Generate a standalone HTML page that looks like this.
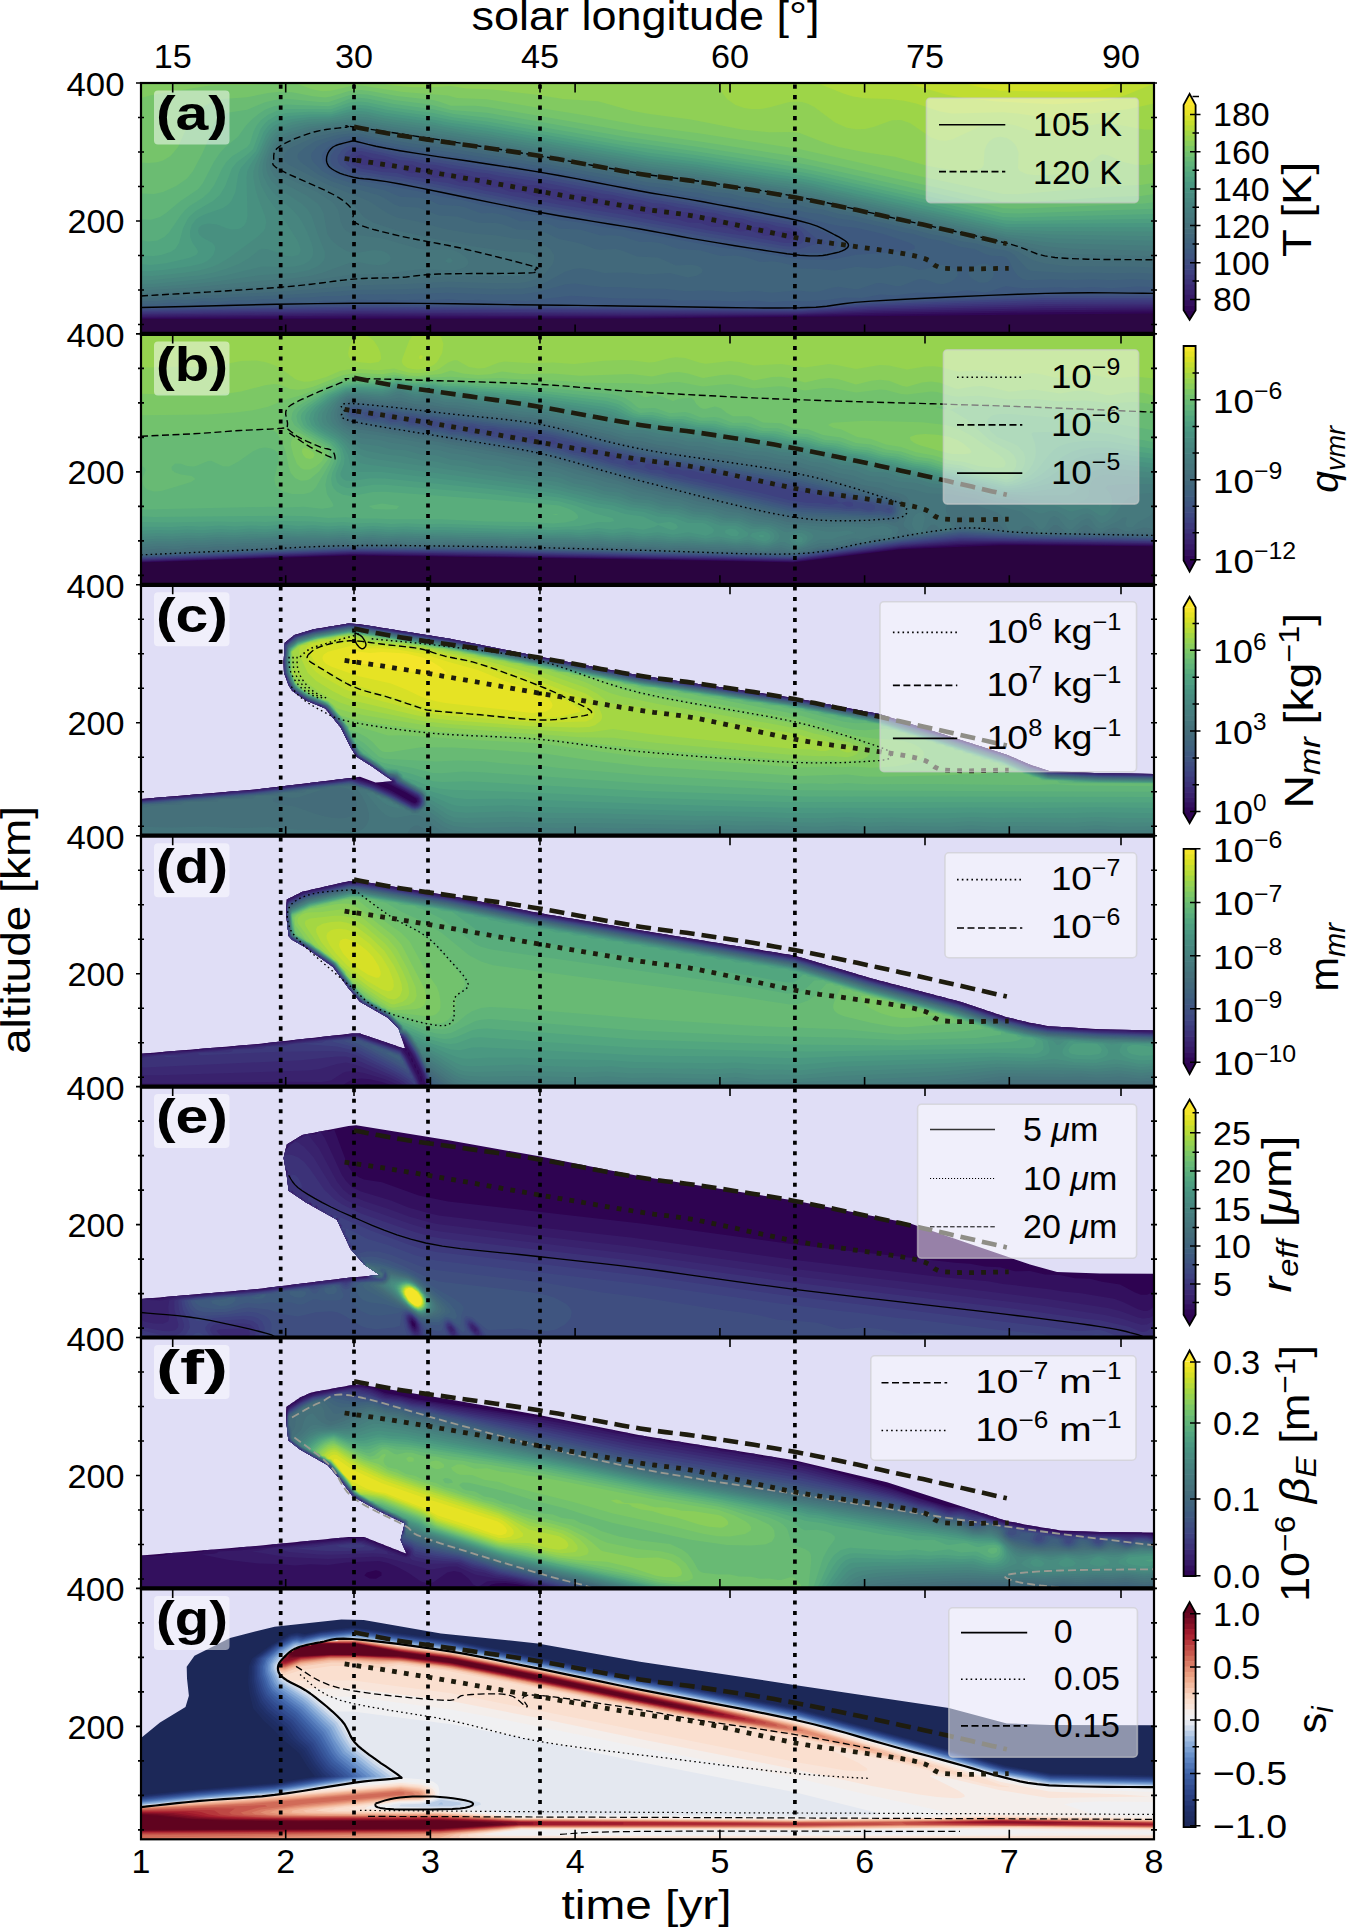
<!DOCTYPE html>
<html><head><meta charset="utf-8"><style>html,body{margin:0;padding:0;background:#fff;overflow:hidden}svg{display:block}</style></head><body><svg width="1347" height="1928" viewBox="0 0 1347 1928">
<rect width="1347" height="1928" fill="#fff"/>
<defs><clipPath id="cp0"><rect x="141.0" y="83.0" width="1013.0" height="250.9"/></clipPath><clipPath id="cp1"><rect x="141.0" y="333.9" width="1013.0" height="250.9"/></clipPath><clipPath id="cp2"><rect x="141.0" y="584.8" width="1013.0" height="250.9"/></clipPath><clipPath id="cp3"><rect x="141.0" y="835.7" width="1013.0" height="250.9"/></clipPath><clipPath id="cp4"><rect x="141.0" y="1086.6" width="1013.0" height="250.9"/></clipPath><clipPath id="cp5"><rect x="141.0" y="1337.5" width="1013.0" height="250.9"/></clipPath><clipPath id="cp6"><rect x="141.0" y="1588.4" width="1013.0" height="250.9"/></clipPath></defs>
<g clip-path="url(#cp0)">
<rect x="139.0" y="81.0" width="1017.0" height="255.0" fill="#2c0744"/>
<path fill="#300756" fill-rule="evenodd" d="M139.0 81.0 1156.0 81.0 1156.0 313.4 640.0 318.6 139.0 319.1Z"/>
<path fill="#34115f" fill-rule="evenodd" d="M139.0 81.0 1156.0 81.0 1156.0 311.4 1045.0 312.2 799.0 316.0 640.0 317.4 139.0 318.0Z"/>
<path fill="#371b68" fill-rule="evenodd" d="M139.0 81.0 1156.0 81.0 1156.0 309.5 1045.0 310.2 874.0 313.0 799.0 315.1 640.0 316.2 355.0 315.8 139.0 316.9Z"/>
<path fill="#3a246f" fill-rule="evenodd" d="M139.0 81.0 1156.0 81.0 1156.0 307.6 1045.0 308.2 874.0 311.5 799.0 314.2 640.0 315.0 355.0 314.3 139.0 315.8Z"/>
<path fill="#3c2d75" fill-rule="evenodd" d="M139.0 81.0 1156.0 81.0 1156.0 305.6 1045.0 306.1 874.0 310.1 799.0 313.4 640.0 313.8 355.0 312.8 139.0 314.6Z"/>
<path fill="#3d357b" fill-rule="evenodd" d="M139.0 81.0 1156.0 81.0 1156.0 303.7 1045.0 304.1 871.0 308.8 799.0 312.5 640.0 312.6 355.0 311.3 139.0 313.5Z"/>
<path fill="#3e3c7e" fill-rule="evenodd" d="M139.0 81.0 1156.0 81.0 1156.0 301.8 1045.0 302.1 871.0 307.3 799.0 311.6 355.0 309.7 139.0 312.4ZM354.8 159.0 356.1 162.0 361.0 164.8 373.0 165.7 382.0 168.4 385.0 168.8 391.5 168.0 394.4 165.0 391.1 162.0 385.0 159.5 373.0 158.4 361.0 154.6 356.3 156.0ZM401.2 168.0 404.7 171.0 409.0 172.7 412.0 173.2 424.0 171.5 426.7 174.0 433.0 177.2 439.0 177.9 448.0 177.2 460.0 182.4 472.0 182.3 484.0 186.8 499.0 187.7 511.0 192.0 523.0 192.6 535.0 196.3 547.0 197.2 561.3 201.0 574.0 201.5 589.0 205.4 598.0 205.4 613.0 209.6 622.0 209.7 628.0 210.7 637.0 213.7 649.0 213.9 661.0 217.7 676.0 219.0 688.0 222.6 700.0 223.1 712.0 226.8 727.0 227.3 739.0 231.4 751.0 230.5 763.0 235.5 769.0 235.9 775.0 235.2 787.0 239.5 790.0 239.4 793.4 237.0 793.2 234.0 790.0 231.6 784.4 231.0 778.0 232.0 766.0 226.7 751.0 227.3 742.0 222.0 739.0 221.4 727.0 221.7 715.0 216.6 703.0 216.5 691.0 212.1 676.0 211.9 664.0 207.5 652.0 207.9 640.0 203.4 625.0 203.0 613.0 198.7 601.0 198.4 589.0 194.4 574.0 193.5 562.0 189.6 550.0 188.8 538.0 185.3 526.0 184.9 511.0 181.0 499.0 180.8 487.0 176.9 475.0 177.1 472.0 176.5 466.0 173.9 460.0 172.7 448.0 173.5 443.3 171.0 436.0 168.6 433.0 168.5 424.0 170.6 421.0 170.0 419.7 168.0 412.0 164.6 404.4 165.0Z"/>
<path fill="#3e4481" fill-rule="evenodd" d="M139.0 81.0 1156.0 81.0 1156.0 299.8 1045.0 300.1 871.0 305.9 799.0 310.7 355.0 308.2 139.0 311.2ZM349.3 159.0 350.3 162.0 352.9 165.0 361.0 168.6 382.0 172.0 397.0 173.1 409.0 176.4 421.0 177.8 433.0 180.9 448.0 183.0 460.0 186.1 472.0 187.6 484.0 190.6 499.0 192.9 511.0 195.8 559.0 204.5 625.0 215.1 712.0 230.9 751.0 236.7 784.6 243.0 793.0 242.8 797.5 240.0 798.7 237.0 798.1 234.0 795.8 231.0 790.0 227.9 778.0 226.5 766.0 223.3 754.0 221.9 742.0 218.5 727.0 216.5 715.0 213.1 703.0 211.8 691.0 208.7 679.0 207.4 664.0 204.1 652.0 202.9 640.0 199.9 628.0 198.5 613.0 195.0 601.0 193.6 589.0 190.8 577.0 189.1 538.0 181.5 499.0 175.8 487.0 173.3 475.0 172.0 463.0 169.4 451.0 168.2 436.0 165.0 424.0 164.0 412.0 161.1 400.0 160.2 385.1 156.0 361.0 151.0 355.0 151.6 352.3 153.0 349.8 156.0Z"/>
<path fill="#3f4c81" fill-rule="evenodd" d="M139.0 81.0 1156.0 81.0 1156.0 297.9 1045.0 298.1 871.0 304.5 799.0 309.8 355.0 306.7 139.0 310.1ZM344.1 156.0 343.8 159.0 344.6 162.0 346.9 165.0 352.0 168.6 358.0 171.0 382.0 175.1 397.0 176.8 535.0 203.7 784.0 246.1 790.0 246.5 796.0 245.8 801.9 243.0 804.2 240.0 804.5 237.0 803.4 234.0 801.1 231.0 796.0 227.3 790.0 225.0 754.0 218.6 742.0 215.6 691.0 205.8 652.0 199.5 538.0 178.3 400.0 156.8 361.0 148.0 355.0 147.9 349.1 150.0 345.7 153.0Z"/>
<path fill="#3f5380" fill-rule="evenodd" d="M139.0 81.0 1156.0 81.0 1156.0 296.0 1045.0 296.1 874.0 302.9 799.0 308.9 355.0 305.2 139.0 309.0ZM337.9 156.0 337.5 159.0 338.2 162.0 340.3 165.0 349.0 170.9 358.0 174.0 403.0 181.0 559.0 211.3 625.0 222.1 706.0 236.5 784.0 249.1 793.0 249.7 799.0 249.3 814.0 244.4 817.0 244.0 823.0 244.8 826.2 243.0 823.0 240.1 817.0 238.9 802.0 226.9 790.0 222.0 754.0 215.5 715.0 207.4 649.0 196.0 538.0 175.3 400.0 153.9 358.0 144.8 352.0 145.1 346.0 147.2 342.0 150.0Z"/>
<path fill="#3e597f" fill-rule="evenodd" d="M139.0 81.0 1156.0 81.0 1156.0 294.0 1045.0 294.1 1003.0 295.3 964.0 297.7 937.0 298.2 895.0 300.8 871.0 301.2 850.0 303.6 832.0 304.4 820.0 306.3 799.0 307.1 625.0 306.5 541.0 304.7 358.0 303.7 265.0 305.1 217.0 306.4 214.0 307.0 139.0 307.7ZM330.8 156.0 330.7 162.0 332.2 165.0 335.4 168.0 347.6 174.0 355.0 176.4 418.0 187.0 484.0 200.7 559.0 215.0 625.0 225.6 721.0 242.6 793.0 253.4 826.0 252.6 832.0 250.7 834.6 249.0 837.0 246.0 837.4 243.0 836.3 240.0 832.0 235.4 814.0 228.3 802.0 222.5 790.0 218.6 781.0 217.6 700.0 201.5 649.0 193.1 538.0 172.3 397.0 150.6 358.0 141.9 349.0 142.3 343.0 144.4 334.5 150.0Z"/>
<path fill="#3f5f7e" fill-rule="evenodd" d="M139.0 81.0 1156.0 81.0 1156.0 287.9 1150.0 287.0 1138.0 286.6 1111.0 288.2 1093.0 287.0 1075.0 287.9 1060.0 287.2 1024.0 288.3 1006.0 286.3 1000.0 287.7 991.0 291.3 985.0 292.5 967.0 290.2 949.0 292.9 916.0 292.7 895.0 295.6 880.0 294.4 862.0 298.0 844.0 297.5 829.0 299.7 808.0 301.2 787.0 301.0 772.0 302.2 754.0 300.6 739.0 301.6 697.0 300.2 679.0 300.7 664.0 299.0 613.0 298.3 571.0 295.8 526.0 301.0 511.0 300.2 493.0 301.0 478.0 299.8 463.0 300.4 448.0 299.1 433.0 300.1 418.0 299.4 403.0 300.3 388.0 299.5 373.0 300.3 358.0 299.5 340.0 301.7 325.0 300.6 310.0 302.7 295.0 301.7 280.0 303.2 265.0 302.7 250.0 303.7 232.0 303.5 217.0 304.5 214.0 306.0 202.0 304.5 190.0 306.3 172.0 305.3 160.0 306.3 139.0 306.3ZM321.8 156.0 322.7 162.0 328.0 169.0 336.8 174.0 352.0 179.2 421.0 191.7 439.0 196.2 463.0 200.3 484.0 205.5 496.0 207.0 526.0 213.8 541.6 216.0 559.0 219.9 580.0 222.6 601.0 226.8 625.0 230.1 721.0 247.5 742.0 249.9 799.0 259.2 826.0 260.0 835.0 259.1 856.0 254.8 883.0 253.1 910.0 250.2 914.5 249.0 914.7 246.0 910.1 243.0 883.3 234.0 856.0 227.8 841.0 226.3 829.0 224.1 790.0 214.1 778.4 213.0 760.0 208.8 739.0 205.5 700.0 197.7 649.0 189.8 541.0 169.7 400.0 148.1 358.0 139.1 352.0 138.8 346.0 139.7 333.9 144.0 328.5 147.0 325.0 150.0 322.8 153.0Z"/>
<path fill="#40647c" fill-rule="evenodd" d="M139.0 81.0 1156.0 81.0 1156.0 280.5 1135.0 279.1 1111.0 280.2 1093.0 279.2 1072.0 279.9 1051.0 279.2 1027.0 280.2 1022.5 279.0 1017.9 276.0 1013.5 270.0 1009.0 260.6 1006.0 257.5 1003.0 256.3 991.0 255.7 985.0 254.1 974.3 249.0 961.0 247.1 943.0 241.3 928.0 238.6 913.4 234.0 901.0 231.8 883.0 227.0 853.0 220.5 838.0 218.4 820.0 213.9 805.0 212.2 793.0 208.7 775.0 207.4 760.0 203.3 742.0 201.3 730.0 198.1 712.0 196.1 700.0 193.1 682.0 191.3 667.0 188.2 649.0 186.2 541.0 166.5 451.0 152.2 412.0 146.9 379.0 140.9 361.0 136.8 352.0 135.9 343.0 137.1 329.0 141.0 321.7 144.0 316.8 147.0 311.7 153.0 311.0 156.0 311.6 159.0 313.2 162.0 322.2 171.0 334.0 177.5 352.0 183.2 385.0 190.2 400.0 196.7 421.0 197.8 430.0 200.5 439.0 204.7 460.0 206.1 466.0 207.6 481.0 213.3 493.0 213.1 499.0 213.9 507.2 216.0 520.0 221.2 532.0 221.0 541.0 222.0 550.0 224.6 559.0 228.4 580.0 229.5 601.0 235.5 613.0 235.2 622.0 236.3 640.0 242.1 652.0 242.1 660.4 243.0 679.0 249.1 700.0 250.2 721.0 256.1 736.0 255.6 748.0 257.8 760.0 262.0 772.0 261.3 778.0 261.9 787.5 264.0 799.0 268.5 817.0 268.8 835.0 270.5 856.0 266.7 877.0 268.5 898.0 265.3 907.0 266.5 919.0 270.0 925.0 269.2 937.0 265.2 943.0 265.0 949.0 266.3 955.5 270.0 957.8 273.0 957.5 276.0 954.8 279.0 950.5 282.0 943.0 284.2 937.0 283.8 925.0 279.6 919.0 279.0 901.0 285.9 895.0 286.1 883.0 283.2 877.0 282.9 859.0 289.0 853.0 288.9 838.0 286.7 832.0 287.7 820.0 291.2 814.0 292.0 796.0 290.5 772.0 292.8 754.0 290.7 733.0 292.3 709.0 290.5 685.0 291.3 664.0 288.7 646.0 288.7 625.0 287.2 601.0 287.0 574.0 283.6 565.0 284.4 538.0 292.1 523.0 294.2 493.0 294.5 448.0 292.8 403.0 294.3 358.0 294.5 340.0 296.0 325.0 295.9 310.0 297.5 295.0 297.5 280.0 299.1 265.0 298.9 247.0 300.4 235.0 300.0 220.0 301.9 202.0 301.2 187.0 303.4 172.0 302.3 157.0 303.9 139.0 303.8ZM970.2 270.0 974.1 267.0 979.0 264.6 985.0 263.6 988.0 264.5 991.3 267.0 993.3 270.0 994.0 273.0 993.6 276.0 991.8 279.0 988.0 281.9 985.0 282.8 979.0 282.4 972.3 279.0 969.1 276.0 968.2 273.0Z"/>
<path fill="#42697b" fill-rule="evenodd" d="M139.0 81.0 1156.0 81.0 1156.0 274.0 1138.0 272.7 1111.0 273.3 1090.0 272.4 1069.0 273.0 1033.0 271.0 1030.0 270.4 1027.0 268.7 1014.4 255.0 1010.0 252.0 1006.0 250.5 991.0 248.0 976.0 243.5 961.0 241.2 946.0 236.8 931.0 234.2 916.0 230.2 853.0 216.1 838.0 213.7 823.0 209.6 808.0 207.7 793.0 203.5 775.0 202.4 760.0 198.3 745.0 197.2 730.0 193.6 712.0 191.8 700.0 188.8 682.0 187.4 667.0 184.3 649.0 182.5 544.0 163.8 451.0 148.8 412.0 143.6 376.0 137.4 361.0 134.1 352.0 133.2 337.0 135.1 316.0 140.9 305.6 147.0 298.6 153.0 297.4 156.0 298.1 159.0 300.7 162.0 317.5 174.0 331.0 181.0 349.0 187.1 378.1 195.0 384.3 198.0 394.0 204.3 400.0 206.6 418.0 207.6 439.0 215.4 457.0 216.6 478.0 222.8 496.0 223.1 502.0 224.3 517.0 229.4 538.0 230.2 544.0 231.9 559.0 239.0 578.8 243.0 595.0 249.1 601.0 249.8 616.0 249.1 622.0 250.5 637.0 256.5 658.0 257.5 676.0 265.4 691.0 264.8 697.0 265.7 700.1 267.0 702.7 270.0 701.7 273.0 695.9 276.0 688.0 277.4 670.0 272.9 646.0 274.5 628.0 272.4 604.0 273.1 589.0 269.2 580.0 268.2 574.0 268.9 565.0 271.7 546.3 282.0 539.0 285.0 532.0 287.0 523.0 288.4 496.0 288.9 448.0 287.2 403.0 289.2 358.0 289.9 277.0 295.4 235.0 296.9 217.0 298.4 202.0 298.2 187.0 300.0 172.0 299.6 157.0 301.0 139.0 301.3Z"/>
<path fill="#446d7a" fill-rule="evenodd" d="M139.0 81.0 1156.0 81.0 1156.0 267.8 1138.0 266.8 1069.0 266.2 1045.0 263.6 1033.0 260.3 1018.6 252.0 1006.0 247.0 793.0 200.0 775.0 198.2 760.0 194.9 715.0 188.6 700.0 185.4 682.0 183.8 667.0 181.0 646.0 178.8 514.0 155.8 451.0 145.7 412.0 140.4 361.0 131.4 352.0 130.5 337.0 132.3 316.0 136.5 292.6 147.0 287.8 150.0 285.3 153.0 284.1 156.0 284.0 159.0 285.5 162.0 289.0 164.8 328.0 184.7 369.0 201.0 388.0 213.5 397.0 217.4 418.0 221.6 445.0 228.9 472.0 233.6 496.0 235.3 514.0 238.6 532.0 240.0 541.0 242.6 550.2 249.0 554.0 255.0 554.4 258.0 552.8 264.0 545.5 273.0 541.0 276.4 535.0 279.5 526.7 282.0 520.0 282.9 496.0 283.2 448.0 281.7 403.0 284.2 361.0 285.3 280.0 291.7 217.0 295.2 202.0 295.4 187.0 296.9 169.0 297.1 139.0 298.8Z"/>
<path fill="#45727b" fill-rule="evenodd" d="M139.0 81.0 1156.0 81.0 1156.0 261.9 1069.0 260.0 1054.0 258.4 1036.0 254.3 1009.0 244.8 796.0 197.6 772.0 194.5 760.3 192.0 715.0 185.4 700.0 182.5 646.0 175.8 514.0 153.0 379.0 132.3 361.0 128.8 352.0 128.1 316.0 133.0 286.0 144.7 283.0 146.8 280.5 150.0 276.9 159.0 277.0 162.0 278.5 165.0 281.4 168.0 343.0 198.0 355.4 207.0 364.0 217.3 373.0 222.4 397.0 230.6 442.0 240.5 457.0 242.6 469.0 245.8 508.0 251.5 529.0 252.6 535.0 255.2 538.0 259.3 538.5 264.0 537.4 267.0 535.0 270.1 529.0 273.7 520.0 276.0 445.0 276.2 394.0 279.4 355.0 280.7 283.0 287.9 139.0 296.4Z"/>
<path fill="#46767c" fill-rule="evenodd" d="M139.0 81.0 1156.0 81.0 1156.0 256.3 1069.0 254.1 1054.0 252.6 1039.0 249.8 986.4 237.0 795.8 195.0 697.0 179.4 646.0 173.1 547.0 155.8 457.0 141.1 379.0 129.7 361.0 126.3 352.0 125.7 313.0 130.9 289.0 139.1 283.0 142.1 280.0 144.6 277.0 148.9 272.9 159.0 273.1 165.0 276.5 171.0 283.0 176.0 317.0 192.0 331.0 201.0 334.2 204.0 338.2 210.0 340.9 222.0 343.0 227.3 346.0 230.5 349.0 232.3 358.0 235.1 382.0 238.2 418.0 248.6 427.0 249.7 448.0 249.4 454.0 250.3 460.0 253.1 466.4 258.0 468.3 261.0 468.1 264.0 465.2 267.0 460.0 269.2 454.0 270.5 421.0 268.9 391.0 273.3 349.0 274.9 307.0 281.3 286.0 283.7 187.5 291.0 139.0 293.7Z"/>
<path fill="#467b7d" fill-rule="evenodd" d="M139.0 81.0 1156.0 81.0 1156.0 251.0 1072.0 248.8 1045.0 246.3 1003.0 238.5 790.0 191.6 697.0 177.0 646.0 170.6 487.0 143.5 379.0 127.2 364.0 124.3 352.0 123.4 310.0 128.9 290.2 135.0 283.5 138.0 277.0 143.5 273.2 150.0 269.8 159.0 269.9 168.0 274.0 175.8 280.0 181.2 307.0 195.8 318.1 204.0 320.5 207.0 323.5 213.0 327.3 234.0 331.0 239.5 337.0 245.1 346.0 250.8 352.0 252.7 358.0 252.7 373.0 250.0 382.0 250.8 385.3 252.0 389.4 255.0 390.8 258.0 389.9 261.0 385.3 264.0 379.0 265.2 370.0 264.4 358.0 262.0 352.0 262.1 321.9 273.0 309.8 276.0 292.0 278.6 259.0 280.9 190.0 287.7 139.0 290.7ZM445.3 261.0 448.0 257.9 451.0 258.3 452.8 261.0 451.0 262.8 448.0 262.9Z"/>
<path fill="#46807e" fill-rule="evenodd" d="M139.0 81.0 1156.0 81.0 1156.0 245.8 1060.0 243.2 1042.0 241.7 1006.0 236.8 814.0 193.9 787.0 188.6 697.0 174.6 646.0 168.2 486.7 141.0 382.0 125.3 364.0 121.8 352.0 121.2 310.0 126.4 286.0 133.3 280.0 136.7 274.0 143.0 270.3 150.0 266.9 159.0 266.0 165.0 266.6 171.0 268.0 175.1 271.0 180.3 280.0 189.2 302.1 204.0 308.0 210.0 311.7 216.0 317.7 234.0 324.9 252.0 324.8 258.0 323.4 261.0 320.7 264.0 316.3 267.0 309.4 270.0 295.0 273.1 259.0 275.2 220.0 281.0 190.0 284.3 154.0 287.1 139.0 287.5Z"/>
<path fill="#47857f" fill-rule="evenodd" d="M139.0 81.0 1156.0 81.0 1156.0 240.9 1054.0 238.6 1006.0 234.5 814.0 191.5 787.0 186.3 769.0 184.0 697.0 172.2 649.0 166.4 487.0 138.6 427.0 129.1 382.0 122.9 367.0 119.8 352.0 119.0 331.0 122.3 307.0 124.5 292.0 128.0 283.0 131.3 277.0 135.3 272.2 141.0 268.0 149.1 264.1 159.0 262.7 165.0 262.5 171.0 263.7 177.0 268.0 185.8 274.0 193.4 292.6 210.0 298.0 215.9 302.1 222.0 307.0 231.8 311.5 243.0 313.1 249.0 312.9 255.0 311.7 258.0 309.2 261.0 304.0 264.2 295.0 266.6 286.0 267.1 262.0 266.5 226.0 275.3 204.3 279.0 154.0 283.8 139.0 284.0Z"/>
<path fill="#488a7f" fill-rule="evenodd" d="M139.0 81.0 1156.0 81.0 1156.0 236.2 1051.0 234.6 1006.0 232.1 829.0 193.0 814.0 189.1 787.0 183.8 769.0 181.7 754.0 178.7 739.0 177.0 697.0 169.8 649.0 164.0 487.0 136.2 472.0 134.4 427.0 126.7 382.0 120.5 367.0 117.2 355.0 116.5 331.0 120.4 304.0 122.5 292.0 124.9 283.0 127.9 276.4 132.0 271.0 137.9 267.6 144.0 261.2 159.0 259.2 165.0 258.3 171.0 258.7 177.0 261.4 186.0 268.0 198.3 285.8 222.0 298.0 241.4 300.6 249.0 300.4 252.0 298.4 255.0 292.0 256.5 286.0 255.9 268.0 249.3 262.0 248.8 259.0 250.1 249.3 258.0 238.9 264.0 226.0 269.1 214.0 272.6 199.0 275.5 151.0 280.3 139.0 280.1Z"/>
<path fill="#489080" fill-rule="evenodd" d="M139.0 81.0 1156.0 81.0 1156.0 231.6 1048.0 230.9 1006.0 229.6 931.0 212.7 916.0 209.9 901.0 206.0 886.0 203.2 871.0 199.3 859.0 197.2 844.0 193.3 829.0 190.6 814.0 186.6 787.0 181.3 769.0 179.2 754.0 176.2 739.0 174.5 697.0 167.3 649.0 161.5 592.0 152.0 577.0 148.8 562.0 146.8 547.0 143.6 502.0 136.8 487.0 133.7 472.0 132.0 430.0 124.5 385.0 118.5 367.0 114.6 355.0 114.0 346.0 115.2 331.0 118.5 310.0 119.3 292.0 121.9 280.0 125.9 275.2 129.0 271.0 133.0 266.1 141.0 255.3 165.0 253.5 171.0 253.3 177.0 255.5 189.0 258.1 198.0 265.0 216.0 266.2 222.0 265.3 228.0 263.6 231.0 257.3 237.0 228.9 258.0 218.8 264.0 211.0 267.3 199.0 270.6 182.0 273.0 153.1 276.0 139.0 275.8Z"/>
<path fill="#499781" fill-rule="evenodd" d="M139.0 81.0 1156.0 81.0 1156.0 227.3 1006.0 226.9 829.0 187.9 814.0 183.9 787.0 178.7 769.0 176.5 697.0 164.7 649.0 158.8 487.0 131.0 445.0 124.9 430.0 121.8 385.0 115.7 367.0 111.8 358.0 111.1 349.0 112.1 331.0 116.6 310.0 116.9 292.0 118.9 283.0 121.0 274.0 125.7 270.3 129.0 265.9 135.0 259.0 151.4 250.3 165.0 247.4 171.0 246.5 177.0 247.5 216.0 246.3 222.0 244.0 225.8 241.0 228.0 238.0 228.9 232.0 229.4 226.0 228.0 217.0 224.6 208.0 223.4 202.0 224.9 199.0 227.5 198.0 231.0 199.0 234.3 202.0 237.2 212.5 243.0 214.8 246.0 215.3 249.0 213.3 255.0 210.9 258.0 207.0 261.0 202.0 263.4 190.0 266.3 163.0 270.1 148.0 271.3 139.0 270.6Z"/>
<path fill="#4d9e80" fill-rule="evenodd" d="M139.0 81.0 1156.0 81.0 1156.0 223.0 1006.0 224.0 814.0 181.1 787.0 175.9 771.6 174.0 697.0 161.9 649.0 155.9 487.0 128.1 448.0 122.6 430.0 119.0 385.0 112.8 367.0 108.8 358.0 108.1 349.0 109.3 331.0 114.5 310.0 114.4 289.0 116.1 280.0 118.4 271.5 123.0 268.0 126.1 263.6 132.0 256.0 151.1 240.7 168.0 238.3 174.0 235.4 192.0 231.4 201.0 228.8 204.0 223.0 207.9 205.0 214.2 199.0 217.2 196.0 219.5 191.8 225.0 190.0 231.0 190.2 237.0 192.6 243.0 196.9 249.0 198.2 252.0 196.2 255.0 189.1 258.0 166.0 263.2 151.0 264.9 139.0 263.9Z"/>
<path fill="#52a67f" fill-rule="evenodd" d="M139.0 81.0 1156.0 81.0 1156.0 218.6 1015.0 221.1 1003.0 220.3 814.0 178.0 787.0 172.8 697.0 158.8 649.0 152.7 487.0 125.0 451.0 120.1 430.0 115.9 388.0 110.1 367.0 105.6 358.0 104.9 349.0 106.2 331.0 112.2 310.0 111.7 286.0 113.0 277.0 115.3 268.6 120.0 265.0 123.2 260.6 129.0 253.0 149.2 247.0 154.7 237.0 162.0 232.1 168.0 225.2 186.0 219.8 195.0 213.0 201.0 196.0 210.7 190.0 215.9 187.6 219.0 183.1 228.0 179.0 243.0 175.2 249.0 170.5 252.0 161.2 255.0 154.0 256.0 145.0 255.7 139.0 254.5Z"/>
<path fill="#59ad7c" fill-rule="evenodd" d="M139.0 81.0 1156.0 81.0 1156.0 213.9 1015.0 217.5 1003.0 216.9 814.0 174.6 790.0 169.9 697.0 155.3 625.0 145.4 487.0 121.5 454.0 117.4 433.0 113.0 391.0 107.2 367.0 102.2 358.0 101.4 349.0 102.8 331.0 109.3 286.0 109.0 277.0 110.7 268.0 114.7 261.1 120.0 256.3 126.0 253.4 132.0 250.0 143.2 247.2 147.0 232.5 156.0 226.3 162.0 222.4 168.0 214.0 185.4 209.3 192.0 202.5 198.0 190.0 205.8 185.1 210.0 180.2 216.0 169.0 232.4 164.3 237.0 157.0 240.7 148.0 241.4 139.0 239.6Z"/>
<path fill="#61b578" fill-rule="evenodd" d="M139.0 81.0 1156.0 81.0 1156.0 208.6 1018.0 213.4 1003.0 213.0 814.0 170.7 790.0 166.0 697.0 151.4 622.4 141.0 490.0 118.0 454.0 114.1 433.0 109.3 394.0 104.0 367.0 98.5 358.0 97.7 349.0 99.1 334.0 105.0 328.0 106.3 286.0 104.4 274.0 106.2 265.0 109.8 258.4 114.0 251.3 120.0 245.6 126.0 238.0 136.8 226.0 146.4 220.0 152.8 213.8 162.0 202.9 183.0 198.3 189.0 180.5 201.0 166.0 213.1 160.0 217.0 151.0 219.7 139.0 219.1Z"/>
<path fill="#6bbc72" fill-rule="evenodd" d="M139.0 81.0 1156.0 81.0 1156.0 202.0 1144.0 203.4 1018.0 208.7 1003.0 208.2 814.0 166.0 790.0 161.4 697.0 146.8 625.0 136.7 487.0 112.7 451.0 109.9 430.0 104.6 394.0 100.0 367.0 94.6 358.0 93.9 349.0 95.2 328.0 102.2 319.0 102.1 289.0 99.0 277.0 99.4 265.0 102.2 247.0 109.8 229.0 112.5 224.3 114.0 219.3 117.0 214.2 123.0 211.5 129.0 206.5 144.0 202.0 154.0 193.0 170.9 187.0 178.4 176.3 186.0 163.0 191.9 154.0 193.9 139.0 193.3Z"/>
<path fill="#76c46a" fill-rule="evenodd" d="M139.0 81.0 1156.0 81.0 1156.0 193.6 1141.0 195.9 1111.0 197.0 1018.0 202.7 1003.0 202.3 796.0 156.6 700.0 141.4 631.7 132.0 487.0 106.9 475.0 105.8 451.0 105.7 439.0 101.5 433.0 100.1 397.0 96.1 370.0 90.9 361.0 89.9 349.0 90.9 331.0 96.6 325.0 97.4 313.0 96.3 292.0 92.2 280.0 91.8 268.0 93.1 247.0 97.2 223.0 99.1 214.0 101.3 202.0 107.2 194.5 114.0 188.7 123.0 178.1 147.0 170.5 156.0 163.0 160.5 157.0 162.2 148.0 163.0 139.0 162.5Z"/>
<path fill="#82ca61" fill-rule="evenodd" d="M139.0 81.0 1156.0 81.0 1156.0 182.3 1141.0 185.1 1111.0 186.2 1018.0 194.3 1003.0 194.0 923.4 177.0 799.0 149.0 697.0 133.1 643.1 126.0 589.0 116.0 487.0 99.2 457.0 98.1 448.0 95.5 403.0 92.0 361.0 85.5 352.0 85.8 331.0 90.7 322.0 91.2 313.0 89.4 298.0 84.2 283.0 83.1 250.0 85.0 223.0 84.9 208.0 85.7 151.0 95.3 139.0 98.6Z"/>
<path fill="#90d055" fill-rule="evenodd" d="M313.4 81.0 350.1 81.0 328.0 84.0 322.0 83.6ZM365.8 81.0 1156.0 81.0 1156.0 162.5 1145.0 165.0 1135.0 164.8 1122.9 162.0 1108.0 155.3 1102.0 154.2 1099.0 155.4 1086.5 165.0 1081.0 168.0 1072.0 171.3 1060.0 174.0 1048.0 175.3 1036.0 175.3 1027.0 174.3 1019.6 171.0 1018.0 168.0 1018.5 153.0 1016.5 147.0 1014.5 144.0 1011.6 141.0 1006.8 138.0 1000.0 136.7 994.0 138.0 989.7 141.0 987.2 144.0 984.6 150.0 983.7 165.0 981.8 168.0 979.0 169.6 973.0 171.1 955.8 171.0 928.0 166.0 895.0 156.8 865.0 152.2 838.6 147.0 826.0 143.3 799.0 132.8 793.0 132.1 769.0 132.3 742.0 129.5 691.0 119.4 649.8 114.0 632.7 111.0 598.0 101.2 563.3 99.0 535.0 94.5 490.0 89.3 466.0 88.4 451.0 86.1 427.0 87.5 409.0 87.1 394.0 85.5Z"/>
<path fill="#9dd548" fill-rule="evenodd" d="M716.0 81.0 1156.0 81.0 1156.0 129.7 1144.0 129.5 1114.0 124.1 1102.0 123.3 1090.0 125.5 1063.0 135.3 1051.0 136.3 1039.0 133.7 1015.0 125.2 1006.0 123.5 997.0 123.2 988.0 124.4 979.0 126.9 952.0 139.4 946.0 140.7 940.0 140.5 931.0 137.6 910.0 123.1 901.0 119.9 892.0 120.3 874.0 126.8 865.0 129.0 856.0 129.3 847.0 127.8 835.0 122.6 814.0 106.8 808.0 103.8 802.0 102.1 796.0 101.5 789.2 102.0 769.0 107.5 760.0 109.1 751.0 109.1 744.1 108.0 735.5 105.0 727.0 99.1 722.4 93.0Z"/>
<path fill="#aed93d" fill-rule="evenodd" d="M812.0 81.0 1156.0 81.0 1156.0 103.2 1129.0 108.9 1057.0 117.7 1045.0 117.4 1018.0 113.6 1003.0 112.3 952.0 113.4 940.0 111.5 916.0 103.6 904.0 100.7 889.0 99.0 865.0 98.3 853.0 96.5 844.0 93.7Z"/>
<path fill="#c0dd31" fill-rule="evenodd" d="M895.7 81.0 1156.0 81.0 1156.0 82.6 1126.0 94.9 1108.0 100.2 1090.0 102.6 1054.0 104.2 997.0 101.6 964.0 98.1 946.0 94.5 916.0 85.8Z"/>
<path fill="#d1e028" fill-rule="evenodd" d="M955.5 81.0 1124.1 81.0 1111.0 87.1 1099.0 90.9 1072.0 91.8 1000.0 90.8 978.9 87.0Z"/>
<path d="M353.5 140.7 357.5 141.7 362.1 142.9 368.0 144.4 375.9 146.2 386.3 148.3 400.0 150.7 418.3 153.6 441.1 157.1 466.4 160.8 492.5 164.7 517.5 168.5 539.6 172.1 559.0 175.5 577.4 178.9 594.6 182.2 610.8 185.4 625.9 188.3 640.0 191.0 652.3 193.2 662.5 194.9 671.7 196.4 680.8 197.9 690.9 199.6 702.9 201.8 717.8 204.6 735.0 207.8 753.2 211.2 771.0 214.7 787.0 218.0 800.0 221.0 809.7 223.7 817.1 226.2 822.7 228.6 827.2 230.8 831.1 232.9 835.0 235.0 838.8 236.9 842.1 238.8 844.8 240.5 846.8 242.1 848.1 243.7 848.5 245.2 848.1 246.7 846.8 248.2 844.8 249.6 842.1 250.9 838.8 252.1 835.0 253.0 831.1 253.9 827.2 254.8 822.7 255.5 817.1 255.9 809.7 255.9 800.0 255.2 787.0 253.7 771.0 251.4 753.2 248.6 735.0 245.7 717.8 242.9 702.9 240.4 690.9 238.4 680.8 236.5 671.7 234.8 662.5 233.1 652.3 231.2 640.0 229.0 625.9 226.6 610.8 224.2 594.6 221.6 577.4 218.8 559.0 215.7 539.6 212.2 517.5 207.9 492.5 202.9 466.4 197.5 441.1 192.2 418.3 187.6 400.0 184.0 386.6 181.6 376.7 180.2 369.4 179.3 363.7 178.8 358.7 178.2 353.5 177.2 348.3 175.9 343.9 174.6 340.2 173.3 337.1 171.9 334.4 170.5 332.0 169.0 330.0 167.5 328.5 165.9 327.5 164.2 326.9 162.5 326.5 160.8 326.5 159.0 326.7 157.0 327.3 154.9 328.1 152.8 329.4 150.7 331.0 148.7 333.0 147.0 335.8 145.5 339.6 144.2 343.7 143.1 347.7 142.1 351.1 141.3 353.5 140.7" fill="none" stroke="#000" stroke-width="1.4" stroke-linejoin="round" stroke-linecap="butt"/>
<path d="M141.0 307.5 164.4 307.0 197.1 306.2 235.6 305.2 276.8 304.3 317.2 303.6 353.5 303.2 387.0 303.2 420.7 303.4 453.6 303.8 484.9 304.2 513.8 304.7 539.6 305.0 560.6 305.2 577.2 305.4 591.4 305.6 605.3 305.8 620.8 306.0 640.0 306.2 664.2 306.5 692.2 307.0 721.8 307.5 751.0 307.9 777.8 308.0 800.0 307.8 815.9 307.2 826.7 306.2 835.0 305.0 843.5 303.7 854.9 302.4 871.7 301.1 895.5 299.8 924.5 298.3 956.2 296.8 988.5 295.4 1019.0 294.2 1045.4 293.4 1068.5 293.0 1090.4 292.8 1110.6 292.9 1128.3 293.1 1142.9 293.3 1154.0 293.4" fill="none" stroke="#000" stroke-width="1.4" stroke-linejoin="round" stroke-linecap="butt"/>
<path d="M141.0 296.0 157.0 295.0 179.8 293.7 206.5 292.1 234.1 290.4 260.0 288.7 281.0 287.2 297.3 285.7 311.1 284.2 323.1 282.7 333.8 281.3 343.7 280.1 353.5 279.1 362.8 278.5 371.2 278.2 378.9 278.0 386.0 277.9 393.0 277.8 400.0 277.5 406.3 277.0 411.6 276.4 416.6 275.7 422.3 275.1 429.3 274.5 438.6 274.0 451.5 273.7 467.6 273.6 485.1 273.5 502.2 273.4 517.0 273.3 527.7 273.0 533.8 272.6 536.6 272.0 537.2 271.4 536.5 270.8 535.4 270.1 535.0 269.5 535.7 269.0 536.9 268.7 537.8 268.4 537.5 267.9 535.4 267.1 530.7 265.6 522.6 263.4 511.5 260.5 498.5 257.2 484.8 253.8 471.4 250.6 459.4 247.8 448.6 245.5 438.1 243.5 428.0 241.6 418.2 239.8 408.8 237.9 400.0 236.0 391.4 234.0 382.8 231.9 374.7 229.8 367.4 227.7 361.2 225.6 356.4 223.4 353.6 221.2 352.7 219.1 352.9 216.9 353.5 214.7 353.6 212.4 352.5 210.0 350.6 207.6 348.5 205.3 346.0 203.0 342.8 200.4 338.7 197.7 333.3 194.5 325.8 190.7 316.1 186.3 305.5 181.6 295.1 177.0 286.0 172.9 279.4 169.5 275.5 167.1 273.5 165.3 272.8 164.0 273.0 162.8 273.4 161.5 273.7 159.9 273.7 157.9 273.7 155.8 274.0 153.5 274.9 151.2 276.6 148.8 279.4 146.5 283.5 144.0 288.9 141.4 295.0 138.7 301.5 136.2 308.0 133.9 314.0 132.0 319.9 130.6 326.0 129.5 332.1 128.7 337.8 128.1 342.7 127.6 346.7 127.2 348.4 126.7 347.7 126.2 346.4 125.9 345.9 125.8 347.9 126.1 354.0 127.0 364.9 128.6 379.7 130.7 396.9 133.3 415.2 136.1 433.3 138.9 450.0 141.5 465.2 143.9 479.9 146.2 494.5 148.6 509.2 150.9 524.1 153.4 539.6 156.0 556.2 158.9 573.9 162.0 591.8 165.2 609.3 168.3 625.7 171.1 640.0 173.5 651.5 175.2 660.5 176.4 668.3 177.3 676.2 178.2 685.3 179.4 697.0 181.0 711.5 183.1 728.0 185.6 745.8 188.2 764.2 191.1 782.5 194.1 800.0 197.3 816.8 200.6 833.3 204.2 849.8 207.9 866.3 211.8 883.0 215.6 900.0 219.5 918.1 223.5 937.3 227.6 956.6 231.8 975.3 235.9 992.3 239.8 1006.8 243.2 1017.6 246.3 1025.3 249.1 1031.4 251.7 1037.3 254.0 1044.7 255.9 1055.0 257.5 1069.7 258.6 1087.9 259.2 1107.5 259.5 1126.5 259.6 1142.6 259.7 1154.0 259.8" fill="none" stroke="#000" stroke-width="1.4" stroke-dasharray="7 3.5" stroke-linejoin="round" stroke-linecap="butt"/>
<path d="M280.7 84.6V333.9 M354.0 84.6V333.9 M428.0 84.6V333.9 M540.0 84.6V333.9 M794.9 84.6V333.9" stroke="#000" stroke-width="3.7" stroke-dasharray="4.1 6.4" fill="none"/>
<path d="M354.0 126.8 359.9 128.0 367.9 129.6 377.7 131.5 388.5 133.5 400.0 135.5 412.5 137.4 426.3 139.4 440.9 141.4 455.7 143.5 470.0 145.5 483.4 147.4 496.1 149.2 509.1 151.1 523.2 153.2 539.0 155.8 557.8 159.1 579.1 163.0 601.0 167.1 621.9 170.9 640.0 174.0 654.1 176.1 665.3 177.6 675.5 178.8 686.5 180.1 700.0 182.0 716.5 184.5 734.7 187.3 754.2 190.3 774.3 193.7 794.4 197.3 814.8 201.3 835.8 205.6 857.1 210.1 878.6 214.8 900.0 219.5 923.0 224.6 947.8 230.2 971.7 235.7 992.3 240.5 1006.8 243.8" fill="none" stroke="#1e1c0e" stroke-width="4.6" stroke-dasharray="15 7" stroke-linejoin="round"/>
<path d="M344.6 158.5 351.9 159.6 362.1 161.1 374.1 162.9 387.1 164.9 400.0 167.0 413.1 169.2 427.0 171.5 441.3 174.0 455.8 176.5 470.0 179.0 483.5 181.4 496.4 183.7 509.6 186.1 523.7 188.6 539.6 191.4 558.4 194.7 579.6 198.3 601.5 202.1 622.2 205.6 640.0 208.5 653.5 210.5 664.0 211.8 673.4 212.9 683.7 214.3 697.0 216.6 714.6 220.2 735.1 224.6 756.6 229.4 777.0 233.8 794.4 237.4 808.0 239.8 819.3 241.6 829.1 242.9 838.5 244.1 848.5 245.5 859.4 247.1 870.5 248.6 881.4 250.1 891.4 251.6 900.0 253.0 906.9 254.2 912.4 255.3 917.1 256.4 921.4 257.6 925.7 259.0 929.3 260.8 931.7 262.9 934.4 265.1 938.4 267.0 945.0 268.3 955.9 268.9 970.3 269.0 985.7 268.7 999.3 268.4 1008.7 268.3" fill="none" stroke="#1e1c0e" stroke-width="4.8" stroke-dasharray="4.8 7.2" stroke-linejoin="round"/>
</g>
<g clip-path="url(#cp1)">
<rect x="139.0" y="331.9" width="1017.0" height="255.0" fill="#2a0440"/>
<path fill="#300554" fill-rule="evenodd" d="M139.0 331.9 1156.0 331.9 1156.0 546.3 1000.0 545.2 901.0 549.3 793.0 562.4 640.0 559.4 352.0 555.4 139.0 562.5Z"/>
<path fill="#33105e" fill-rule="evenodd" d="M139.0 331.9 1156.0 331.9 1156.0 545.6 1000.0 544.2 961.0 545.3 901.0 548.4 793.0 561.9 640.0 558.8 352.0 554.7 139.0 562.0Z"/>
<path fill="#371a67" fill-rule="evenodd" d="M139.0 331.9 1156.0 331.9 1156.0 544.8 1000.0 543.3 961.0 544.1 901.0 547.6 793.0 561.3 640.0 558.2 352.0 554.1 139.0 561.5Z"/>
<path fill="#39226d" fill-rule="evenodd" d="M139.0 331.9 1156.0 331.9 1156.0 544.1 1000.0 542.3 961.0 542.8 901.0 546.8 793.0 560.7 640.0 557.6 352.0 553.4 139.0 561.0Z"/>
<path fill="#3b2973" fill-rule="evenodd" d="M139.0 331.9 1156.0 331.9 1156.0 543.4 1000.0 541.4 961.0 541.6 901.0 546.0 793.0 560.1 502.0 554.6 352.0 552.8 139.0 560.5Z"/>
<path fill="#3c3278" fill-rule="evenodd" d="M139.0 331.9 1156.0 331.9 1156.0 542.7 961.0 540.4 901.0 545.2 793.0 559.6 502.0 553.9 352.0 552.1 139.0 560.0Z"/>
<path fill="#3d397c" fill-rule="evenodd" d="M139.0 331.9 1156.0 331.9 1156.0 541.9 961.0 539.2 901.0 544.4 793.0 559.0 502.0 553.2 352.0 551.5 139.0 559.5Z"/>
<path fill="#3e4180" fill-rule="evenodd" d="M139.0 331.9 1156.0 331.9 1156.0 541.2 961.0 538.0 901.0 543.6 793.0 558.4 502.0 552.5 352.0 550.8 139.0 559.0Z"/>
<path fill="#3e4881" fill-rule="evenodd" d="M139.0 331.9 1156.0 331.9 1156.0 540.5 1027.0 538.7 961.0 536.8 901.0 542.8 793.0 557.9 502.0 551.8 352.0 550.2 139.0 558.4ZM472.0 429.5 471.5 430.9 473.0 430.9ZM492.0 430.9 491.4 433.9 494.8 433.9 493.5 430.9ZM509.5 433.9 510.3 436.9 514.0 437.4 515.8 436.9 515.0 433.9ZM528.3 436.9 530.0 439.9 532.0 440.5 536.6 439.9 535.0 436.7 532.0 436.0ZM548.4 442.9 553.0 444.8 557.4 442.9 553.0 439.9 550.0 439.9ZM567.0 445.9 569.0 448.9 571.0 449.7 574.0 449.9 577.1 448.9 574.0 445.5 571.0 444.9ZM586.6 451.9 590.7 454.9 595.9 454.9 596.2 451.9 592.0 450.0 589.0 450.1ZM606.6 457.9 613.0 460.4 616.0 459.3 617.3 457.9 613.0 455.0 610.0 454.5 607.2 454.9ZM624.7 460.9 627.1 463.9 631.0 465.3 637.9 463.9 634.7 460.9 631.0 459.7ZM644.4 466.9 650.2 469.9 661.0 470.0 670.0 473.9 679.0 474.2 691.0 478.3 700.0 479.2 709.0 482.2 721.0 483.9 730.0 486.8 760.0 492.7 790.0 500.3 808.0 502.9 820.0 503.0 829.0 504.7 841.0 503.1 847.0 506.4 850.0 506.8 853.0 505.9 852.7 502.9 850.0 501.8 847.0 501.6 841.0 502.7 838.0 502.1 836.6 499.9 829.0 497.0 820.0 496.2 811.0 493.2 770.6 484.9 760.0 483.7 751.0 481.3 742.0 480.5 730.0 477.4 721.0 476.8 712.0 474.0 703.0 473.7 691.0 470.2 682.0 470.4 671.3 466.9 666.3 466.9 661.0 469.0 659.8 466.9 652.0 463.7 645.9 463.9Z"/>
<path fill="#3f4e80" fill-rule="evenodd" d="M139.0 331.9 1156.0 331.9 1156.0 539.8 1027.0 537.9 961.0 535.5 901.0 542.0 793.0 557.3 502.0 551.1 352.0 549.5 139.0 557.9ZM375.1 415.9 373.0 412.8 370.0 414.5 369.7 415.9 373.0 416.7ZM389.3 415.9 389.4 418.9 391.0 419.7 394.0 419.8 396.0 418.9 394.9 415.9 391.0 415.2ZM408.1 418.9 408.6 421.9 412.0 423.2 417.0 421.9 415.0 418.6 412.0 417.9ZM427.3 421.9 428.1 424.9 433.0 426.7 439.9 424.9 437.5 421.9 433.0 420.5ZM444.9 424.9 446.7 427.9 451.0 429.9 454.0 430.2 463.0 428.5 465.6 430.9 472.0 433.4 481.0 432.2 493.0 436.9 502.0 436.5 511.0 439.7 523.0 440.2 532.0 443.1 541.0 443.5 550.0 446.7 562.0 448.7 571.0 452.3 580.0 453.4 592.0 457.7 601.0 459.0 610.0 462.5 622.0 464.8 631.0 468.0 640.0 469.3 652.0 472.9 661.0 474.1 670.0 476.7 700.0 482.7 790.0 503.3 808.0 505.7 838.0 507.4 847.0 509.1 853.0 509.0 859.0 508.0 868.0 510.4 871.0 510.4 875.0 508.9 875.0 505.9 871.0 503.8 859.0 502.4 850.0 499.0 841.0 497.7 811.0 490.3 772.0 482.3 670.0 464.2 661.0 463.4 652.0 461.2 640.0 459.8 631.0 457.0 622.0 455.7 613.0 452.4 604.0 451.2 592.0 447.3 583.0 445.8 574.0 442.6 562.0 440.7 553.0 437.4 544.0 436.5 535.0 433.7 523.0 433.2 514.0 430.7 502.0 430.6 493.0 428.1 484.0 429.3 472.0 425.6 463.0 427.4 460.0 426.6 458.7 424.9 451.0 422.9ZM885.5 508.9 889.0 510.6 890.2 508.9 889.0 508.0Z"/>
<path fill="#3f5580" fill-rule="evenodd" d="M139.0 331.9 1156.0 331.9 1156.0 539.0 1027.0 537.0 961.0 534.3 901.0 541.2 793.0 556.7 502.0 550.4 352.0 548.9 139.0 557.4ZM350.6 412.9 352.0 414.6 355.0 415.3 361.0 413.3 364.0 413.6 364.9 415.9 373.0 418.8 376.0 418.5 381.9 415.9 379.0 414.3 378.0 412.9 373.0 411.2 361.0 412.7 356.6 409.9 352.0 409.5ZM382.1 415.9 385.2 418.9 391.0 421.9 396.0 421.9 400.0 420.7 403.0 421.2 409.0 424.4 412.0 425.2 421.0 424.9 430.0 428.0 442.0 428.7 451.0 431.8 460.0 432.0 472.0 435.1 481.0 435.5 493.0 438.6 502.0 439.1 511.0 441.5 520.0 442.1 541.0 446.0 562.0 451.1 571.0 454.2 580.0 455.9 630.3 469.9 790.1 505.9 802.0 507.5 838.0 509.7 847.0 510.9 859.0 510.7 868.0 512.2 880.0 510.7 889.0 513.0 891.8 511.9 892.8 508.9 892.0 507.6 889.0 505.6 880.0 505.2 871.0 501.8 859.0 499.6 850.0 496.9 793.0 483.9 712.0 469.2 640.0 457.3 556.0 436.1 535.0 431.8 514.0 428.8 505.0 428.4 493.0 426.3 484.0 426.1 472.0 423.6 463.0 423.5 454.0 421.1 442.0 420.9 433.0 418.5 424.0 419.2 412.0 415.9 403.0 417.6 394.0 413.5 391.0 413.2Z"/>
<path fill="#3e5a7f" fill-rule="evenodd" d="M139.0 331.9 1156.0 331.9 1156.0 538.3 1027.0 536.2 961.0 533.1 898.0 540.8 793.0 556.1 502.0 549.7 352.0 548.2 139.0 556.9ZM349.0 412.6 351.1 415.9 355.0 417.1 361.0 417.4 373.0 420.3 382.0 420.3 391.0 423.4 400.0 423.5 409.0 426.2 421.0 427.1 433.0 430.2 442.0 431.0 451.0 433.4 460.0 434.0 469.0 436.2 481.0 437.6 493.0 440.2 502.0 441.0 511.0 443.2 520.0 444.0 541.0 447.9 628.0 471.1 793.0 508.7 847.0 512.6 859.0 512.6 868.0 513.6 880.0 513.1 889.0 514.5 892.0 513.6 893.7 511.9 894.4 508.9 892.9 505.9 889.0 504.1 880.0 502.7 793.0 481.6 640.0 455.3 554.7 433.9 535.0 430.0 463.0 421.3 454.0 419.4 445.0 419.1 433.0 417.0 424.0 416.9 412.0 414.4 403.0 414.6 394.0 411.9 382.0 412.3 373.0 409.6 364.0 409.6 352.0 408.0 349.6 409.9Z"/>
<path fill="#3f607e" fill-rule="evenodd" d="M139.0 331.9 1156.0 331.9 1156.0 537.6 1027.0 535.3 961.0 531.9 898.0 540.0 793.0 555.6 502.0 549.0 352.0 547.6 139.0 556.3ZM348.1 409.9 347.7 412.9 348.8 415.9 352.0 418.0 373.0 421.8 382.0 422.4 391.0 425.0 400.0 425.4 409.0 427.7 421.0 429.0 433.0 431.7 442.0 432.6 451.0 434.9 460.0 435.6 469.0 437.7 520.0 445.7 544.0 450.3 628.0 472.9 790.0 510.4 802.0 511.8 865.0 514.9 880.0 514.9 889.0 515.9 892.7 514.9 895.4 511.9 896.0 508.9 895.0 505.8 890.3 502.9 796.0 480.1 640.0 453.5 556.0 432.5 532.0 427.8 463.0 419.5 454.0 417.8 445.0 417.4 409.0 412.7 403.0 412.7 394.0 410.4 385.0 410.7 376.0 408.7 355.0 406.5 351.0 406.9Z"/>
<path fill="#40647c" fill-rule="evenodd" d="M139.0 331.9 1156.0 331.9 1156.0 536.9 1039.0 535.1 961.0 530.7 904.0 538.3 793.0 555.0 502.0 548.3 370.0 547.0 343.0 547.2 139.0 555.7ZM346.8 409.9 346.5 412.9 347.2 415.9 349.0 418.1 352.0 419.5 373.0 423.3 382.0 424.0 391.0 426.5 400.0 427.0 409.0 429.3 442.0 434.2 451.0 436.5 460.0 437.3 544.0 451.9 628.0 474.7 790.0 512.6 802.0 513.8 889.0 517.2 892.0 516.9 895.0 515.1 897.0 511.9 897.6 508.9 897.0 505.9 895.0 503.3 892.0 501.7 793.0 477.2 637.0 451.1 556.0 430.7 532.0 426.1 460.0 417.5 454.0 416.2 445.0 415.8 409.0 411.1 403.0 411.0 394.0 408.8 385.0 409.1 376.0 407.3 352.0 405.0 349.0 406.2Z"/>
<path fill="#42687b" fill-rule="evenodd" d="M139.0 331.9 1156.0 331.9 1156.0 536.1 1084.0 534.4 1039.0 534.5 997.0 531.4 985.0 531.4 961.0 529.3 952.0 530.6 949.0 532.0 937.0 532.8 901.0 537.8 889.0 540.5 880.0 541.0 868.0 543.4 793.0 554.4 499.0 547.5 343.0 546.4 139.0 555.0ZM345.4 409.9 345.1 412.9 346.0 416.8 349.0 420.0 361.0 423.0 382.0 425.7 391.0 428.1 400.0 428.7 406.0 430.4 442.0 435.8 451.0 438.1 460.0 438.9 493.0 445.0 502.0 445.9 547.0 454.2 643.0 480.3 790.0 514.8 802.0 515.9 892.0 518.6 895.0 517.3 897.3 514.9 899.5 508.9 899.1 505.9 897.4 502.9 895.0 501.1 859.0 492.2 793.0 474.8 637.0 449.3 556.0 428.9 532.0 424.3 469.0 416.5 460.0 415.9 454.0 414.5 445.0 414.1 436.0 412.5 403.0 409.3 394.0 407.2 385.0 407.6 376.0 405.8 352.0 403.5 349.0 404.3 346.5 406.9Z"/>
<path fill="#446c7a" fill-rule="evenodd" d="M139.0 331.9 1156.0 331.9 1156.0 534.8 1111.0 533.8 1099.0 534.3 1084.0 533.4 1072.0 534.2 1057.0 533.3 1039.0 534.0 1009.0 531.7 1000.0 530.4 985.0 530.6 982.0 529.5 961.0 527.6 952.0 529.4 949.0 531.5 934.0 531.8 925.0 534.2 898.0 537.3 892.0 538.5 889.0 539.9 877.0 540.5 868.0 542.9 856.0 543.7 850.0 545.5 835.0 547.2 832.0 548.4 820.0 549.3 811.0 551.4 793.0 553.8 727.0 551.7 670.0 551.4 652.0 550.0 625.0 549.2 544.0 548.4 496.0 546.4 370.0 545.5 319.0 546.3 295.0 548.1 244.0 549.2 226.0 551.3 193.0 551.6 162.8 553.9 139.0 554.4ZM344.0 409.9 343.8 415.9 346.0 419.8 349.0 421.9 358.0 424.2 382.0 427.5 391.0 429.9 400.0 430.6 406.0 432.2 442.0 437.6 451.0 439.8 457.0 440.2 493.0 446.9 502.0 447.9 547.0 456.2 640.0 481.7 790.0 517.2 847.0 519.4 883.0 519.5 892.0 520.4 895.0 519.7 898.0 517.3 899.6 514.9 901.6 508.9 900.4 502.9 898.0 500.3 895.0 498.7 859.0 490.1 793.0 472.2 637.0 447.1 556.0 426.9 532.0 422.3 520.0 421.5 514.0 420.0 475.1 415.9 454.0 412.6 445.0 412.3 436.0 410.6 415.0 408.9 409.0 407.6 400.0 406.9 394.0 405.4 385.0 405.9 352.0 401.8 349.0 402.4 347.0 403.9 344.8 406.9Z"/>
<path fill="#45707a" fill-rule="evenodd" d="M139.0 331.9 1156.0 331.9 1156.0 533.2 1141.0 532.2 1126.0 533.5 1111.0 531.9 1099.0 533.5 1090.9 532.9 1087.0 530.8 1084.0 530.5 1079.5 532.9 1069.0 533.6 1061.8 532.9 1057.0 530.4 1054.0 531.0 1051.3 532.9 1042.0 533.5 1034.6 532.9 1030.0 530.3 1012.0 531.2 1004.9 529.9 997.0 522.9 991.0 520.4 987.3 520.9 985.0 523.3 984.3 526.9 976.0 528.0 967.4 526.9 967.0 520.3 966.0 517.9 964.0 516.3 961.0 516.7 958.0 519.6 955.3 526.9 952.0 528.2 949.0 530.9 931.0 530.2 928.1 532.9 922.0 533.9 904.0 533.8 900.6 535.9 892.0 537.5 889.0 539.4 877.0 539.6 871.0 540.5 868.0 542.4 853.0 542.8 849.5 544.9 835.0 546.2 832.0 547.9 817.0 548.6 811.0 550.6 793.0 552.8 778.0 551.5 766.0 552.2 751.0 551.3 688.0 550.9 679.0 550.0 670.0 550.9 667.0 549.6 652.0 548.7 601.0 547.8 586.0 548.3 574.0 547.4 559.0 548.1 523.0 545.8 409.0 545.4 397.0 544.7 382.0 545.4 370.0 544.4 358.0 545.3 343.0 544.7 271.0 547.0 259.0 548.1 244.0 547.9 226.0 549.8 217.0 549.0 205.0 550.6 193.0 550.1 178.0 551.4 163.0 551.2 139.0 553.2ZM342.3 409.9 341.9 415.9 343.0 418.9 345.4 421.9 349.0 424.1 358.0 426.5 382.0 429.7 391.0 431.9 442.0 439.8 451.0 442.0 457.0 442.4 544.5 457.9 640.0 484.3 790.0 519.7 850.0 521.5 883.0 521.2 895.0 522.4 898.0 521.2 901.0 517.9 904.5 508.9 903.9 502.9 902.3 499.9 898.0 497.0 860.6 487.9 823.0 476.7 793.0 469.0 652.0 447.1 625.0 442.0 571.0 428.3 532.0 420.0 520.0 419.5 511.0 417.5 478.0 414.1 454.0 410.4 445.0 410.1 436.0 408.5 415.6 406.9 397.0 403.6 385.0 404.1 352.0 400.1 349.0 400.6 346.0 402.5 343.0 406.9Z"/>
<path fill="#45757c" fill-rule="evenodd" d="M139.0 331.9 1156.0 331.9 1156.0 530.2 1150.0 528.3 1144.0 527.6 1129.0 531.6 1126.0 531.3 1117.0 528.0 1114.0 527.8 1108.0 529.3 1102.0 531.9 1099.0 532.3 1096.0 531.5 1087.0 525.1 1084.0 525.4 1072.7 532.9 1069.0 533.0 1066.0 531.8 1057.0 524.9 1054.0 525.0 1048.0 530.3 1043.6 532.9 1039.0 532.6 1033.0 527.8 1027.0 525.7 1024.0 526.6 1020.0 529.9 1009.0 530.1 1006.7 526.9 1003.0 517.8 1000.7 514.9 997.0 512.4 973.0 504.0 958.0 502.2 950.7 502.9 946.4 505.9 945.8 508.9 946.3 511.9 952.0 526.9 949.8 529.9 946.0 530.4 940.1 529.9 937.0 525.7 934.0 524.4 931.0 525.0 928.0 527.4 924.3 532.9 919.0 533.5 913.0 533.1 904.0 526.8 903.4 523.9 909.1 508.9 909.7 502.9 908.9 499.9 906.7 496.9 904.0 495.0 898.0 492.9 889.0 491.5 880.0 488.0 862.6 484.9 850.0 480.1 835.0 476.7 823.0 472.6 810.0 469.9 793.0 465.0 775.0 462.6 763.0 460.1 745.0 458.3 733.0 455.7 715.0 453.5 703.0 450.8 685.0 449.2 673.0 446.5 658.0 444.9 643.0 441.6 625.0 439.2 610.0 434.8 556.0 422.4 550.0 421.8 532.0 417.6 520.0 417.1 511.0 415.1 481.0 412.0 454.0 408.0 445.0 407.6 430.0 405.0 415.0 404.3 400.0 400.9 385.0 402.0 352.0 398.4 349.0 398.9 346.0 400.4 342.6 403.9 340.2 409.9 339.8 415.9 342.3 421.9 345.8 424.9 349.0 426.6 358.0 429.2 382.0 432.4 442.0 442.5 451.0 444.6 502.0 452.9 544.0 460.8 619.0 481.1 637.0 486.7 679.0 496.0 697.0 501.3 715.0 504.8 727.0 508.1 739.0 509.9 757.0 515.3 775.0 518.4 787.0 522.0 829.0 523.9 841.0 523.3 868.0 524.2 880.0 523.2 886.0 523.6 897.7 526.9 898.9 529.9 895.2 535.9 892.0 536.5 889.0 538.7 877.0 538.1 871.0 539.3 865.6 541.9 853.0 541.0 840.8 544.9 823.0 545.7 801.2 550.9 793.0 551.7 781.0 549.8 763.0 551.4 751.0 549.8 739.0 550.3 727.0 549.2 715.0 549.8 703.0 548.7 679.0 548.0 670.0 548.8 652.0 547.2 637.0 548.0 625.0 546.5 613.0 547.5 601.0 545.9 586.0 547.2 574.0 545.4 562.0 546.5 550.0 545.0 535.0 545.5 523.0 544.5 508.0 545.3 496.0 544.1 475.0 544.0 463.0 545.0 448.0 543.5 436.0 545.0 421.0 543.2 409.0 544.4 397.0 542.8 382.0 544.6 370.0 542.4 358.0 544.2 343.0 542.5 331.0 543.9 319.0 543.3 307.0 544.5 292.0 543.9 271.0 544.5 259.0 545.8 244.0 545.4 232.0 546.8 217.0 546.3 205.0 547.7 190.0 547.6 178.0 549.2 160.0 548.6 139.0 550.3Z"/>
<path fill="#46797d" fill-rule="evenodd" d="M139.0 331.9 1156.0 331.9 1156.0 510.2 1153.3 511.9 1150.0 516.1 1138.0 522.3 1132.8 526.9 1129.0 527.8 1126.9 526.9 1125.2 523.9 1126.7 517.9 1126.0 517.2 1123.0 517.4 1118.5 520.9 1102.0 528.6 1099.0 528.8 1096.0 526.9 1090.0 519.0 1087.0 518.4 1081.0 521.1 1072.0 529.3 1069.0 529.5 1065.8 526.9 1058.5 517.9 1054.0 516.0 1050.2 517.9 1045.1 526.9 1042.0 529.4 1039.0 528.8 1033.0 521.6 1021.0 511.8 991.0 504.2 976.0 498.8 948.5 493.9 928.0 493.6 913.0 489.6 895.0 487.0 883.0 482.7 868.0 481.3 853.0 475.4 838.0 472.9 823.0 467.7 811.0 465.9 793.0 460.5 778.0 459.1 763.0 455.7 748.0 454.8 733.0 451.2 718.0 450.0 703.0 446.4 688.0 445.8 673.0 442.1 658.0 441.2 643.0 437.6 625.0 436.1 610.0 431.4 532.0 415.1 523.0 414.7 496.0 410.5 481.0 409.3 457.0 405.5 445.0 404.9 430.0 401.6 415.0 401.6 400.0 397.4 388.0 399.6 382.0 400.0 352.0 396.9 346.0 398.6 340.4 403.9 337.8 409.9 337.2 415.9 339.3 421.9 343.0 425.8 349.0 429.4 358.0 432.5 382.0 435.8 442.0 445.9 451.0 448.1 499.0 456.0 540.5 463.9 559.0 468.3 577.0 474.2 592.0 477.7 607.0 482.3 619.0 484.6 637.0 490.7 652.0 493.4 667.0 497.8 679.0 499.3 697.0 505.0 712.0 507.1 727.0 511.6 739.0 512.7 757.0 518.6 774.4 520.9 787.0 524.9 799.0 524.7 829.0 527.0 841.0 526.3 859.0 526.6 868.0 527.8 883.0 525.8 887.8 526.9 892.0 529.7 892.0 533.5 889.0 535.5 874.0 535.5 862.0 539.3 853.0 538.3 835.0 542.8 820.0 543.3 796.0 550.5 793.0 550.5 781.0 547.5 763.0 550.2 751.0 548.0 736.0 548.4 727.0 547.4 679.0 546.3 667.0 546.8 652.0 545.4 640.0 546.3 628.0 544.6 613.0 545.5 601.0 544.0 586.0 545.0 574.0 543.7 562.0 544.3 547.0 543.3 535.0 544.0 523.0 542.8 508.0 543.9 496.0 542.4 475.0 542.3 463.0 543.1 448.0 541.6 436.0 542.9 424.0 541.5 409.0 542.3 397.0 541.0 382.0 542.3 370.0 540.6 358.0 542.0 343.0 540.6 331.0 541.7 286.0 541.8 259.0 543.3 244.0 543.1 232.0 544.3 217.0 543.9 205.0 545.2 190.0 545.1 175.0 546.5 157.0 546.1 139.0 547.8ZM919.0 512.5 922.0 512.8 924.1 514.9 925.1 517.9 922.2 529.9 919.0 532.3 914.8 529.9 912.7 526.9 911.8 523.9 913.0 517.8 916.0 514.1Z"/>
<path fill="#467d7e" fill-rule="evenodd" d="M139.0 331.9 1156.0 331.9 1156.0 492.6 1139.8 493.9 1129.0 497.4 1123.0 503.0 1114.5 514.9 1111.5 517.9 1107.2 520.9 1102.0 523.2 1099.0 522.3 1093.0 515.9 1090.0 514.2 1087.0 513.6 1081.0 515.0 1072.0 520.4 1069.0 519.9 1063.4 514.9 1057.0 511.2 1051.0 510.7 1042.0 513.4 1039.0 513.6 1021.0 505.7 1009.2 502.9 994.0 500.9 976.0 494.7 961.0 492.3 946.0 488.6 931.0 487.4 916.0 483.1 898.0 481.5 886.0 477.3 871.0 476.3 865.0 474.6 856.0 470.7 841.0 468.8 826.0 463.6 811.0 461.8 796.0 456.8 781.0 455.7 766.0 451.8 748.0 450.8 736.0 447.3 721.0 446.5 703.0 442.1 688.0 441.8 673.0 437.8 658.0 437.5 643.0 433.6 628.0 433.3 610.0 427.8 535.0 413.1 505.0 409.3 493.0 407.1 478.0 406.1 460.0 402.5 445.0 402.1 430.0 398.2 415.0 399.0 400.0 394.1 397.0 394.3 388.0 397.4 382.0 398.1 352.0 395.5 349.0 395.8 344.4 397.9 338.1 403.9 334.3 412.9 334.6 418.9 338.3 424.9 343.0 428.8 361.0 438.0 379.0 439.8 391.0 442.7 409.0 445.1 421.0 448.0 439.0 449.9 451.0 453.2 466.0 455.1 484.0 459.2 499.0 460.5 514.0 464.6 532.0 466.7 544.0 470.3 559.0 472.7 574.0 478.5 592.0 481.9 604.0 486.5 619.0 488.5 634.0 494.6 651.4 496.9 664.0 501.4 679.0 502.6 694.0 508.1 712.0 510.1 725.7 514.9 739.0 515.5 754.0 521.1 772.0 522.9 787.0 528.3 802.0 527.3 826.0 531.6 838.0 531.6 847.0 530.6 850.0 530.9 855.6 532.9 838.0 537.1 832.0 539.4 820.0 539.4 805.0 546.4 796.0 548.7 781.0 545.1 769.0 547.9 763.0 548.5 748.0 546.1 736.0 546.7 724.0 545.6 706.0 545.6 685.0 544.6 670.0 544.9 655.0 543.7 640.0 544.3 628.0 542.8 613.0 543.6 601.0 542.2 586.0 543.0 574.0 541.9 535.0 542.0 523.0 541.1 508.0 541.9 496.0 540.7 463.0 541.0 448.0 539.9 436.0 540.8 424.0 539.8 412.0 540.3 397.0 539.3 385.0 540.3 370.0 538.8 358.0 540.1 343.0 538.7 328.0 539.8 280.0 539.8 232.0 542.0 217.0 541.6 205.0 542.8 190.0 542.7 175.0 544.0 157.0 543.6 139.0 545.3ZM879.6 529.9 881.5 529.9 880.0 530.9Z"/>
<path fill="#46827e" fill-rule="evenodd" d="M139.0 331.9 1156.0 331.9 1156.0 483.9 1129.0 484.1 1108.0 485.6 1105.6 487.9 1108.0 490.2 1111.0 495.3 1112.2 499.9 1111.8 505.9 1110.8 508.9 1108.0 513.0 1105.0 515.3 1102.0 515.9 1099.0 515.0 1090.0 509.3 1087.0 508.5 1084.0 508.5 1072.0 511.6 1069.0 511.2 1060.0 507.2 1054.0 505.7 1039.0 505.8 1012.0 499.6 997.0 498.3 976.0 491.5 964.0 489.9 946.0 485.0 931.0 483.4 917.2 478.9 901.0 477.7 886.0 472.5 871.0 471.8 856.0 466.1 841.0 464.9 826.0 459.6 811.0 458.2 796.0 453.1 781.0 452.3 766.0 448.1 751.0 447.8 736.0 443.4 721.0 443.0 706.0 438.6 688.0 438.2 676.0 434.4 661.0 434.4 643.0 430.0 628.0 430.1 610.0 424.0 568.0 416.6 553.0 413.3 523.0 408.4 505.0 406.6 493.0 404.0 478.0 403.4 460.0 399.3 445.0 399.5 430.0 395.1 421.0 396.5 415.0 396.5 400.0 391.2 397.0 391.5 388.0 395.2 382.0 396.2 355.0 394.1 349.0 394.5 341.7 397.9 335.5 403.9 330.8 412.9 330.7 418.9 331.9 421.9 334.3 424.9 340.0 429.7 361.0 443.7 379.0 446.1 391.0 449.2 406.0 450.3 421.0 454.4 436.0 455.2 451.0 459.6 466.0 460.7 484.0 465.2 499.0 466.1 514.0 470.4 529.0 471.3 544.0 475.9 556.0 477.0 562.0 478.5 574.0 483.4 592.0 486.4 604.0 491.1 619.0 492.6 634.0 498.7 649.0 499.9 664.0 505.3 679.0 506.0 694.0 511.6 709.0 512.4 724.0 517.9 739.0 518.2 754.0 524.1 769.0 524.7 775.8 526.9 784.0 531.8 787.0 532.3 799.0 529.7 805.0 530.5 811.3 532.9 813.6 535.9 812.3 538.9 804.6 544.9 799.0 546.7 796.0 546.8 784.0 542.1 781.0 542.1 769.0 546.3 763.0 546.8 748.0 544.3 736.0 545.1 721.0 543.6 706.0 544.0 688.0 542.7 670.0 543.2 655.0 541.8 643.0 542.5 628.0 540.9 613.0 541.8 598.0 540.2 586.0 541.1 571.0 540.1 523.0 539.4 508.0 540.0 496.0 539.0 463.0 539.1 448.0 538.2 436.0 538.7 400.0 537.5 385.0 538.3 370.0 537.0 355.0 538.1 343.0 536.9 328.0 537.9 283.0 537.6 232.0 539.7 217.0 539.3 202.0 540.7 190.0 540.3 172.0 541.6 154.0 541.3 139.0 542.7Z"/>
<path fill="#47877f" fill-rule="evenodd" d="M139.0 331.9 1156.0 331.9 1156.0 478.0 1135.0 477.0 1108.0 474.6 1099.0 475.8 1093.9 478.9 1091.5 481.9 1089.5 487.9 1088.5 496.9 1084.4 499.9 1077.8 502.9 1072.0 504.7 1069.0 504.7 1054.0 500.6 1036.0 500.3 1009.0 496.2 997.0 495.7 979.0 489.6 964.0 487.2 949.0 482.7 934.0 481.1 918.1 475.9 904.0 475.0 889.0 469.7 871.0 468.2 859.0 463.5 844.0 462.3 829.0 457.1 814.0 455.8 796.0 450.1 781.0 449.3 766.0 445.1 751.0 444.8 736.0 440.2 721.0 439.9 706.0 435.5 691.0 435.6 676.0 431.2 661.0 431.4 646.0 427.3 628.0 427.0 610.0 420.5 523.0 405.4 508.0 404.4 493.0 401.1 478.0 400.8 460.0 396.7 451.0 397.5 445.0 397.1 430.0 392.5 421.0 394.3 415.0 394.3 409.0 392.7 400.0 388.8 397.0 389.2 388.0 393.2 382.0 394.4 355.0 392.7 349.0 393.1 344.0 394.9 339.0 397.9 332.6 403.9 328.3 409.9 326.1 415.9 326.2 418.9 327.3 421.9 329.6 424.9 361.0 449.0 367.0 451.0 388.0 454.8 403.0 456.3 421.0 460.1 436.0 461.4 451.0 464.9 466.0 466.4 481.0 469.8 496.0 471.0 514.0 475.0 529.0 476.4 544.0 480.1 559.0 482.3 571.0 486.3 589.0 489.7 604.0 494.6 619.0 496.4 634.0 501.9 649.0 503.3 664.0 508.2 679.0 509.1 694.0 514.3 709.0 515.3 724.0 520.5 739.0 520.9 754.0 526.7 763.0 526.4 769.0 527.1 775.1 529.9 778.2 532.9 779.7 535.9 778.5 538.9 774.8 541.9 769.0 544.6 763.0 545.2 748.0 542.3 736.0 543.5 721.0 541.6 706.0 542.4 691.0 540.8 673.0 541.5 655.0 539.8 643.0 540.7 628.0 539.0 613.0 540.0 598.0 538.3 583.0 539.3 571.0 538.3 511.0 538.1 496.0 537.2 463.0 537.1 448.0 536.4 400.0 535.7 385.0 536.3 373.0 535.1 358.0 536.3 343.0 534.9 328.0 536.1 313.0 535.4 298.0 536.1 283.0 535.4 265.0 536.7 247.0 536.4 235.0 537.4 217.0 537.0 202.0 538.3 187.0 538.0 172.0 539.1 157.0 538.7 139.0 540.0ZM1099.0 504.1 1101.0 505.9 1099.0 506.5ZM789.3 538.9 790.6 535.9 796.0 532.9 802.0 532.7 807.3 535.9 807.4 538.9 805.5 541.9 802.0 544.2 799.0 545.1 796.0 544.8 791.1 541.9Z"/>
<path fill="#488c80" fill-rule="evenodd" d="M139.0 331.9 1156.0 331.9 1156.0 472.9 1111.0 468.6 1102.0 468.8 1096.0 470.2 1090.0 473.3 1084.2 478.9 1075.0 491.9 1069.0 495.3 1033.0 495.8 1000.0 493.7 991.0 491.7 979.0 487.4 967.0 485.6 949.0 480.5 934.0 478.5 919.0 473.7 904.0 472.2 889.0 467.1 874.0 466.0 859.0 460.8 844.0 459.6 829.0 454.6 814.0 453.2 799.0 448.3 784.0 447.3 766.0 442.7 751.0 442.2 736.0 437.9 721.0 437.3 706.0 433.0 691.0 432.9 676.0 428.9 661.0 428.8 646.0 424.8 631.0 424.8 625.0 423.2 616.0 419.0 610.0 417.2 523.0 402.8 508.0 401.9 493.0 398.7 478.0 398.4 463.0 394.7 445.0 394.9 430.0 390.7 421.0 392.3 415.0 392.3 409.0 390.8 400.0 387.1 397.0 387.5 388.0 391.3 382.0 392.7 355.0 391.3 346.0 392.6 340.0 395.5 332.5 400.9 326.8 406.9 322.6 412.9 321.6 418.9 322.4 421.9 324.4 424.9 341.6 436.9 348.3 442.9 358.0 453.3 364.0 456.7 373.0 458.7 529.0 480.9 559.0 486.4 574.0 490.5 586.0 492.8 601.0 497.2 616.0 499.2 631.0 504.2 649.0 506.6 661.0 510.4 676.0 511.6 694.0 516.9 706.0 517.5 721.0 522.5 736.0 523.0 739.7 523.9 751.0 528.9 766.0 528.9 772.0 531.6 773.5 532.9 774.7 535.9 773.9 538.9 770.8 541.9 766.0 543.4 763.0 543.3 748.0 539.8 736.0 541.9 721.0 539.4 706.0 540.7 688.0 538.5 673.0 539.7 655.0 537.7 643.0 538.9 628.0 536.9 613.0 538.1 598.0 536.3 580.0 537.3 568.0 536.4 514.0 536.2 403.0 533.8 388.0 534.4 373.0 533.2 358.0 534.3 343.0 532.9 328.0 534.1 313.0 533.2 298.0 534.1 283.0 533.1 265.0 534.5 250.0 533.9 235.0 535.2 217.0 534.5 202.0 535.9 187.0 535.4 172.0 536.6 157.0 536.0 139.0 537.2ZM795.0 538.9 796.0 537.5 799.0 535.9 802.0 537.0 803.1 538.9 801.9 541.9 799.0 542.8 796.2 541.9Z"/>
<path fill="#489280" fill-rule="evenodd" d="M139.0 331.9 1156.0 331.9 1156.0 468.2 1111.0 463.3 1099.0 463.7 1093.0 465.2 1087.0 467.8 1079.9 472.9 1069.0 483.4 1060.0 487.7 1033.0 491.9 1018.0 492.3 1000.0 491.6 979.0 485.5 967.0 483.5 949.0 478.6 937.0 476.9 919.0 471.7 907.0 470.4 889.0 465.2 874.0 463.5 859.0 458.9 844.0 457.2 829.0 452.6 814.0 450.9 799.0 446.2 784.0 445.0 769.0 441.2 754.0 440.3 736.0 435.9 724.0 435.4 706.0 431.0 694.0 430.8 676.0 426.8 664.0 426.8 646.0 422.9 631.0 422.3 610.0 414.2 553.0 404.8 523.0 400.4 508.0 399.5 493.0 396.6 478.0 396.2 463.0 393.0 445.0 393.0 430.0 389.0 421.0 390.5 415.0 390.6 400.0 385.6 396.9 385.9 388.0 389.5 382.0 391.0 355.0 389.9 346.0 391.2 333.2 397.9 323.1 406.9 318.6 412.9 317.4 418.9 319.8 424.9 322.6 427.9 334.0 434.5 341.4 439.9 346.9 445.9 355.0 458.4 358.0 461.6 361.0 463.3 367.0 464.6 436.0 472.9 526.0 484.7 559.0 490.3 598.0 499.8 616.0 502.7 631.0 507.3 646.0 509.1 661.0 513.5 676.0 514.7 691.0 519.4 706.0 520.4 721.0 525.8 736.0 525.8 739.3 526.9 748.5 532.9 747.6 535.9 740.5 538.9 736.0 539.7 718.0 536.4 706.0 538.8 691.0 536.2 673.0 537.6 658.0 535.3 643.0 536.7 628.0 534.5 613.0 536.1 598.0 534.0 580.0 535.4 568.0 534.3 550.0 534.8 529.0 533.8 517.0 534.3 496.0 533.3 457.0 533.1 445.0 532.3 424.0 532.7 403.0 531.7 391.0 532.4 373.0 531.0 358.0 532.2 343.0 530.7 328.0 532.0 313.0 530.8 298.0 531.8 283.0 530.7 265.0 532.3 250.0 531.4 235.0 532.8 220.0 531.9 205.0 533.2 187.0 532.7 172.0 533.8 157.0 533.2 139.0 534.2ZM749.7 535.9 752.3 532.9 763.0 531.1 768.5 532.9 770.6 535.9 770.0 538.9 766.0 541.2 763.0 541.3 757.0 539.7Z"/>
<path fill="#4a9881" fill-rule="evenodd" d="M139.0 331.9 1156.0 331.9 1156.0 463.7 1111.0 458.2 1096.0 458.7 1087.4 460.9 1081.0 463.8 1060.2 478.9 1048.0 484.1 1027.0 489.0 1015.0 490.0 1003.0 490.0 997.0 489.1 982.0 484.4 968.9 481.9 952.0 477.3 937.0 474.8 922.0 470.5 907.0 468.3 892.0 463.9 877.0 461.9 859.0 457.0 847.0 455.6 829.0 450.7 817.0 449.3 799.0 444.3 787.0 443.3 769.0 439.3 754.0 438.1 739.0 434.4 724.0 433.2 709.0 429.5 694.0 428.6 676.0 424.9 664.0 424.6 646.0 420.9 634.0 420.5 628.0 418.8 613.0 412.0 604.0 410.0 526.0 398.6 508.0 397.2 493.0 394.7 478.0 394.1 463.0 391.3 445.0 391.1 430.0 387.6 415.0 388.9 400.0 384.5 397.0 384.6 382.0 389.3 355.0 388.5 346.0 389.8 330.0 397.9 319.3 406.9 314.7 412.9 313.3 418.9 315.7 424.9 322.0 430.6 337.0 439.3 343.4 445.9 348.1 454.9 350.5 466.9 352.0 470.1 358.0 471.9 382.0 472.1 529.0 489.2 559.0 493.9 598.0 503.5 613.0 505.6 628.0 510.1 643.0 511.8 658.0 516.5 673.0 517.4 688.0 522.9 703.0 523.1 706.1 523.9 711.4 526.9 714.2 529.9 712.7 532.9 706.0 535.7 688.0 532.3 673.0 534.8 658.0 532.2 643.0 533.9 628.0 531.6 613.0 533.4 598.0 531.3 580.0 533.1 568.0 532.1 550.0 532.8 532.0 531.6 517.0 532.1 442.0 529.9 424.0 530.4 403.0 529.3 391.0 530.1 373.0 528.7 361.0 529.8 343.0 528.3 328.0 529.5 313.0 528.2 298.0 529.2 283.0 527.9 265.0 529.6 250.0 528.6 235.0 529.9 220.0 529.0 202.0 530.3 187.0 529.6 172.0 530.6 157.0 530.1 139.0 530.8ZM725.0 532.9 725.5 529.9 730.0 528.5 736.0 529.6 739.2 532.9 737.3 535.9 736.0 536.3 731.0 535.9ZM758.5 535.9 760.0 534.7 763.0 534.9 764.7 535.9 763.0 537.5 760.0 537.2Z"/>
<path fill="#4e9f80" fill-rule="evenodd" d="M139.0 331.9 1156.0 331.9 1156.0 459.1 1111.0 453.1 1099.0 452.9 1090.0 454.0 1081.0 456.4 1075.0 459.1 1050.8 475.9 1038.6 481.9 1021.0 487.0 1012.0 488.2 1003.0 488.2 955.0 476.1 940.0 473.5 925.0 469.2 910.0 466.9 892.0 462.0 877.0 459.8 862.0 455.6 847.0 453.5 832.0 449.3 817.0 447.2 802.0 443.0 787.0 441.2 772.0 437.8 757.0 436.5 742.0 432.9 727.0 431.6 711.7 427.9 697.0 426.9 682.0 423.6 667.0 422.9 649.0 419.3 634.0 418.3 628.0 416.1 616.0 410.0 604.0 406.9 526.0 396.3 508.0 394.9 493.0 392.8 478.0 392.1 463.0 389.7 445.0 389.4 433.0 386.5 415.0 387.4 400.0 383.4 397.0 383.4 382.0 387.7 355.0 387.0 346.0 388.4 331.2 394.9 315.7 406.9 310.8 412.9 309.2 418.9 311.6 424.9 318.3 430.9 334.1 439.9 337.6 442.9 342.1 448.9 344.7 457.9 344.1 463.9 340.5 472.9 340.7 475.9 343.0 479.1 346.0 480.5 352.0 481.0 370.0 478.2 385.0 478.4 505.0 490.6 559.0 497.5 570.3 499.9 595.0 507.1 610.0 509.2 625.0 514.0 643.0 516.4 658.0 523.5 670.0 521.8 676.0 523.9 678.0 526.9 676.0 529.0 673.0 530.0 670.0 529.6 658.0 525.0 654.4 526.9 643.0 529.7 628.0 527.6 613.0 529.7 598.0 527.9 580.0 530.1 568.0 529.6 550.0 530.3 532.0 529.1 517.0 529.5 442.0 527.1 424.0 527.6 406.0 526.6 391.0 527.3 373.0 526.0 361.0 526.9 343.0 525.5 328.0 526.5 313.0 525.2 298.0 525.9 283.0 524.8 265.0 526.2 250.0 525.4 235.0 526.4 220.0 525.6 202.0 526.7 187.0 526.1 172.0 526.9 139.0 526.8Z"/>
<path fill="#52a67f" fill-rule="evenodd" d="M139.0 331.9 1156.0 331.9 1156.0 454.4 1108.0 447.5 1093.0 447.5 1081.0 449.1 1072.0 451.8 1063.0 456.5 1043.4 472.9 1033.9 478.9 1018.4 484.9 1006.0 486.6 973.0 479.1 958.0 474.8 943.0 472.3 925.0 467.3 913.0 465.5 895.0 460.6 880.0 458.4 865.0 454.2 850.0 452.2 835.0 447.9 820.0 445.9 805.0 441.5 790.0 439.8 772.0 435.7 760.0 435.0 742.0 430.8 730.0 430.1 712.0 425.7 697.0 424.9 682.0 421.4 667.0 420.9 652.0 417.4 637.0 416.8 631.0 414.7 616.0 406.8 604.0 403.8 526.0 394.0 478.0 390.2 463.0 388.1 445.0 387.6 433.0 385.1 415.0 385.9 397.0 382.2 382.0 386.1 355.0 385.5 343.0 387.9 327.8 394.9 311.9 406.9 306.6 412.9 305.3 415.9 305.1 418.9 307.4 424.9 314.3 430.9 334.0 442.6 339.1 448.9 340.4 451.9 341.2 457.9 340.8 460.9 336.0 472.9 335.6 475.9 337.0 481.9 340.0 485.3 346.0 487.8 352.0 488.2 373.0 484.7 385.0 484.7 475.0 492.4 559.0 501.3 576.2 505.9 595.0 513.6 612.4 517.9 614.2 520.9 610.0 522.3 598.0 522.0 580.0 526.1 550.0 527.4 532.0 526.1 517.0 526.3 442.0 523.8 424.0 524.3 406.0 523.3 391.0 523.9 376.0 522.8 358.0 523.3 343.0 522.1 328.0 522.8 313.0 521.5 283.0 520.9 265.0 522.0 250.0 521.4 235.0 522.1 217.0 521.6 169.0 522.5 139.0 522.0Z"/>
<path fill="#59ad7c" fill-rule="evenodd" d="M139.0 331.9 1156.0 331.9 1156.0 449.3 1108.0 441.3 1084.0 441.0 1069.0 443.0 1060.0 446.1 1054.0 449.7 1048.9 454.9 1037.1 469.9 1030.0 475.9 1018.8 481.9 1012.0 484.0 1006.0 484.8 988.0 480.0 976.0 477.9 958.0 472.7 943.0 470.4 928.0 465.8 913.0 463.6 895.0 458.5 883.0 457.1 868.0 452.7 853.0 450.8 835.0 445.7 823.0 444.5 805.0 439.2 793.0 438.3 775.0 433.8 760.0 432.9 745.0 428.8 730.0 428.1 715.0 423.8 700.0 423.3 682.0 419.0 670.0 419.3 652.0 415.0 640.0 415.1 633.0 412.9 619.0 404.5 607.0 401.0 526.0 391.6 478.0 388.2 466.0 386.6 445.0 385.9 433.0 383.7 415.0 384.5 397.0 381.0 382.0 384.5 355.0 384.0 343.0 386.4 325.0 394.6 307.7 406.9 302.0 412.9 300.9 415.9 300.9 418.9 303.4 424.9 306.0 427.9 316.0 434.6 330.8 442.9 336.2 448.9 337.5 451.9 338.0 457.9 336.3 463.9 332.2 472.9 331.1 478.9 332.0 484.9 334.0 488.7 337.0 491.7 343.0 494.7 349.0 495.7 355.0 495.4 373.0 492.1 385.0 491.8 495.4 499.9 559.0 505.6 569.5 508.9 574.6 511.9 577.7 514.9 578.1 517.9 574.0 520.6 565.0 522.4 553.0 523.5 535.0 522.2 487.0 521.4 442.0 519.3 391.0 519.3 376.0 518.4 361.0 518.5 346.0 517.3 328.0 518.0 310.0 516.2 286.0 515.7 154.0 517.1 139.0 516.2Z"/>
<path fill="#60b479" fill-rule="evenodd" d="M139.0 331.9 1156.0 331.9 1156.0 442.9 1144.0 440.3 1129.0 438.3 1117.0 435.1 1108.0 433.7 1078.0 431.6 1033.0 432.2 1031.5 433.9 1034.9 442.9 1036.0 451.9 1035.1 457.9 1032.8 463.9 1028.9 469.9 1022.6 475.9 1012.0 481.5 1006.0 482.6 988.0 477.7 976.0 476.0 961.0 471.1 946.0 469.0 928.0 463.6 913.0 461.5 898.0 456.7 883.0 455.0 868.0 450.2 853.0 448.7 838.0 443.8 823.0 442.3 808.0 437.2 793.0 436.0 781.0 432.2 775.0 431.2 763.0 431.2 745.0 426.1 730.0 425.6 715.0 420.8 700.0 420.8 685.0 416.3 670.0 416.8 658.0 413.0 652.0 412.0 640.0 412.9 633.7 409.9 622.0 401.8 616.0 399.4 607.0 397.5 526.0 389.2 478.0 386.3 466.0 384.8 445.0 384.1 433.0 382.3 415.0 383.0 397.0 379.7 382.0 382.9 355.0 382.3 343.0 384.7 325.9 391.9 302.8 406.9 298.0 411.9 296.4 415.9 297.5 421.9 302.1 427.9 307.0 431.6 328.0 443.7 331.0 446.0 334.8 451.9 335.3 454.9 334.2 460.9 327.1 475.9 325.4 484.9 326.9 493.9 332.5 502.9 333.6 505.9 331.0 507.5 322.0 508.7 304.0 506.7 286.0 507.4 271.0 506.8 145.0 509.4 139.0 508.1ZM368.8 505.9 382.0 503.5 399.2 505.9 396.8 508.9 388.0 509.6 373.5 508.9ZM551.6 514.9 556.0 513.9 558.9 514.9Z"/>
<path fill="#68ba74" fill-rule="evenodd" d="M139.0 331.9 1156.0 331.9 1156.0 430.5 1108.0 422.5 1009.0 413.9 1000.0 413.9 994.0 414.9 991.0 416.2 988.1 418.9 987.1 421.9 987.4 424.9 990.4 430.9 997.2 436.9 1012.3 442.9 1018.0 446.0 1023.5 451.9 1025.4 457.9 1024.7 463.9 1023.5 466.9 1019.2 472.9 1012.0 478.1 1006.0 479.8 988.0 475.0 976.0 473.4 961.0 468.5 946.0 466.7 931.0 461.7 916.0 459.7 898.0 454.1 883.0 452.3 868.0 447.4 853.0 445.9 838.0 440.8 825.0 439.9 808.0 434.0 793.0 433.0 778.0 428.2 763.0 428.1 751.0 423.6 745.0 422.5 733.0 422.9 721.0 418.3 715.0 416.9 703.0 417.7 700.0 417.2 691.0 413.5 685.0 412.1 670.0 413.2 655.0 407.9 640.0 408.6 637.0 407.1 631.0 401.8 625.0 398.0 619.0 395.7 610.0 393.9 556.0 388.7 502.0 384.9 442.0 382.1 433.0 380.7 415.0 381.4 406.0 380.4 397.0 378.3 382.0 381.1 355.0 380.5 346.0 381.9 325.0 390.2 298.0 406.2 294.1 409.9 292.3 412.9 291.3 418.9 294.3 424.9 304.0 432.4 327.1 445.9 330.4 448.9 332.0 451.9 332.0 457.9 329.4 463.9 316.0 487.1 313.0 490.6 310.0 492.6 304.0 494.1 292.0 494.0 283.0 491.4 277.7 487.9 275.4 484.9 274.2 478.9 278.4 460.9 278.5 454.9 277.0 452.1 274.0 449.8 271.0 448.4 265.0 447.5 259.0 448.5 253.0 451.2 238.0 461.8 229.0 466.5 223.0 466.2 211.0 460.7 208.0 461.1 196.0 466.1 193.0 466.6 187.0 466.1 181.0 463.8 175.0 463.6 171.5 466.9 171.9 469.9 175.0 472.4 181.0 474.5 191.7 475.9 195.4 478.9 191.1 481.9 161.5 490.9 154.0 491.4 148.0 489.8 145.2 487.9 143.2 484.9 142.2 478.9 145.8 469.9 144.0 466.9 142.0 466.1 139.0 466.3Z"/>
<path fill="#72c26d" fill-rule="evenodd" d="M139.0 331.9 1156.0 331.9 1156.0 413.0 988.0 405.4 961.0 406.2 949.2 409.9 952.0 410.4 967.0 419.6 989.5 439.9 1009.0 450.7 1013.8 454.9 1016.6 460.9 1016.0 466.9 1011.8 472.9 1006.0 475.5 988.0 471.8 976.0 470.2 961.0 465.4 946.0 463.6 931.0 458.7 916.0 456.5 901.0 451.5 886.0 449.6 871.0 444.5 856.0 442.9 841.0 437.6 823.0 435.1 808.0 429.3 793.0 428.1 781.0 423.2 763.0 422.4 751.0 416.8 748.0 416.2 733.0 416.2 726.8 412.9 721.0 408.2 715.0 406.4 706.0 408.7 703.0 408.7 700.0 407.5 696.3 403.9 694.0 399.9 691.0 397.4 679.0 398.7 673.0 400.9 658.0 394.9 655.0 395.0 646.0 397.3 643.0 396.5 637.0 393.2 616.0 389.8 541.0 384.1 502.0 382.0 442.0 380.1 433.0 378.9 415.0 379.9 406.0 379.0 397.0 376.8 382.0 379.2 355.0 378.4 343.0 380.8 325.0 387.9 293.4 403.9 289.5 406.9 284.8 412.9 282.4 418.9 282.0 421.9 283.0 425.0 286.5 427.9 301.0 433.5 325.0 447.8 328.9 451.9 329.3 454.9 328.0 459.3 319.0 471.6 310.0 479.1 307.0 480.3 301.0 480.7 295.0 478.1 290.8 472.9 288.7 466.9 285.8 451.9 283.0 444.8 277.0 433.1 274.0 430.7 271.0 429.7 259.0 429.0 196.0 433.6 139.0 436.4ZM935.5 406.9 943.0 409.2 946.0 409.2 946.5 406.9 943.0 406.2Z"/>
<path fill="#7cc865" fill-rule="evenodd" d="M139.0 331.9 1156.0 331.9 1156.0 404.6 1135.0 401.9 1111.0 403.2 1084.0 400.4 1060.0 401.4 1033.0 399.0 1009.0 399.4 979.0 395.7 958.0 396.8 952.0 396.0 937.0 392.0 931.0 391.4 907.0 394.4 901.0 393.9 886.0 390.0 880.0 389.5 856.0 392.4 832.0 387.9 823.0 388.0 805.0 390.5 784.0 386.6 778.0 386.2 754.0 388.4 730.0 384.1 721.0 384.4 703.0 386.4 679.0 382.0 673.0 382.0 649.0 384.5 634.0 383.2 586.0 382.7 556.0 380.4 514.0 379.1 502.0 378.0 478.0 378.8 451.0 376.7 415.0 378.0 406.0 377.3 400.0 375.4 394.0 374.8 382.0 377.0 358.0 375.9 346.0 377.5 301.0 395.3 286.0 399.6 268.0 406.8 253.0 410.3 235.0 412.5 208.0 414.5 139.0 415.4ZM827.9 424.9 832.0 422.8 865.0 420.7 922.0 422.2 946.0 424.9 958.0 428.4 970.0 434.7 999.3 454.9 1003.0 458.0 1005.1 460.9 1005.8 463.9 1004.2 466.9 1003.0 467.5 997.0 467.9 979.0 466.2 964.0 462.0 949.0 460.2 934.0 455.5 916.0 452.2 901.0 447.0 886.0 444.5 871.0 439.0 857.1 436.9 841.0 429.3 833.7 427.9ZM292.0 439.1 295.0 436.9 298.0 436.8 301.0 437.8 320.1 448.9 323.8 451.9 324.9 454.9 322.0 460.9 316.0 466.6 310.0 469.5 304.0 469.6 301.0 468.2 297.0 463.9 293.3 454.9 291.1 445.9 290.9 442.9Z"/>
<path fill="#8ace5a" fill-rule="evenodd" d="M139.0 331.9 1156.0 331.9 1156.0 396.3 1144.0 393.0 1135.0 392.0 1126.0 392.6 1111.0 395.3 1106.3 394.9 1090.0 391.2 1084.0 390.6 1075.0 391.1 1060.0 393.4 1033.0 389.5 1009.0 391.7 991.0 387.5 982.0 386.1 973.0 386.5 958.0 389.1 955.0 388.6 940.0 382.8 931.0 381.5 922.0 382.6 907.0 386.7 902.6 385.9 889.0 380.8 880.0 379.7 871.0 380.8 856.0 384.6 838.0 379.1 829.0 378.0 820.0 379.0 805.0 382.6 790.0 378.3 781.0 376.8 772.0 377.1 754.0 380.4 739.0 375.8 730.0 374.4 721.0 374.9 703.0 378.1 688.0 373.5 679.0 371.9 670.0 372.4 652.0 376.4 631.0 374.0 580.0 375.7 553.0 373.4 522.7 373.9 502.0 371.6 490.0 374.2 478.0 374.9 463.0 373.4 451.0 370.6 440.4 373.9 418.0 375.9 409.0 375.5 394.0 372.3 382.0 374.2 361.0 373.0 352.0 373.4 343.0 375.1 313.0 386.7 304.0 389.0 298.0 389.7 290.1 388.9 280.0 384.8 274.0 384.0 265.0 385.2 241.0 391.6 214.0 395.4 202.0 395.6 139.0 393.8ZM909.9 436.9 916.0 434.7 925.0 434.0 937.0 434.7 949.0 436.8 957.4 439.9 962.7 442.9 969.9 448.9 971.6 451.9 970.0 453.5 964.0 454.3 952.0 454.0 946.0 452.8 919.0 445.0 914.4 442.9 910.5 439.9ZM302.2 448.9 304.0 447.7 307.0 448.2 313.1 451.9 314.7 454.9 313.2 457.9 310.0 459.0 305.9 457.9 303.1 454.9 302.0 451.9Z"/>
<path fill="#96d34f" fill-rule="evenodd" d="M139.0 331.9 1156.0 331.9 1156.0 378.6 1135.0 376.6 1111.0 378.8 1093.0 374.8 1087.0 374.4 1060.0 378.0 1054.0 377.5 1042.0 374.4 1033.0 373.1 1009.0 376.3 982.0 370.7 976.0 370.5 958.0 371.8 940.0 367.0 934.0 366.2 925.0 366.5 907.0 369.5 889.0 365.5 880.0 365.0 856.0 369.1 838.0 365.2 829.0 364.1 805.0 367.5 781.0 364.0 754.0 365.5 739.0 362.0 730.0 361.0 706.0 363.8 700.0 362.7 685.0 358.1 676.0 357.3 670.0 357.9 655.0 362.0 649.0 362.6 631.0 360.3 622.0 359.9 604.0 360.8 574.0 364.0 553.0 362.6 532.0 363.2 505.0 361.6 499.0 362.6 484.8 367.9 478.0 368.5 469.0 366.9 457.0 360.3 454.0 360.2 448.0 362.6 439.0 369.1 433.4 370.9 421.0 373.0 409.0 372.8 394.0 368.5 379.0 370.2 358.0 369.0 349.0 369.3 340.0 371.1 326.3 376.9 316.0 380.1 310.0 381.4 304.0 381.7 298.0 380.3 295.0 378.9 283.0 369.9 274.0 364.9 265.0 362.1 256.0 360.5 241.0 361.0 217.0 365.7 205.0 367.2 175.0 366.8 148.0 367.4 139.0 366.6Z"/>
<path fill="#a4d743" fill-rule="evenodd" d="M416.3 331.9 436.8 331.9 441.5 337.9 443.4 343.9 442.2 352.9 437.1 361.9 433.7 364.9 427.0 367.9 418.0 369.4 412.0 369.1 407.5 367.9 403.3 364.9 401.8 361.9 402.2 358.9 409.0 340.9 412.0 336.2ZM352.2 340.9 355.0 337.9 361.0 335.2 367.0 335.9 370.0 337.4 374.0 340.9 378.0 346.9 380.5 352.9 381.2 358.9 378.6 361.9 370.0 363.2 357.4 361.9 350.2 358.9 348.5 355.9 348.2 352.9 349.3 346.9Z"/>
<path fill="#b6db38" fill-rule="evenodd" d="M419.5 358.9 419.4 355.9 421.0 354.9 423.1 355.9 421.4 358.9Z"/>
<path d="M141.0 436.3 147.6 436.0 157.0 435.5 168.0 435.0 179.6 434.5 190.6 433.9 200.0 433.4 207.7 432.9 214.7 432.4 221.1 431.9 227.3 431.4 233.5 430.9 240.0 430.5 247.3 430.1 255.1 429.8 262.9 429.4 270.3 429.1 276.7 428.7 281.6 428.3 284.7 427.9 286.5 427.7 287.2 427.5 287.3 427.0 287.3 426.2 287.5 424.9 287.5 422.9 287.0 420.3 286.3 417.4 285.7 414.4 285.8 411.5 286.8 408.9 288.7 406.7 291.3 404.8 294.4 403.0 298.1 401.2 302.2 399.2 306.8 397.1 312.3 394.6 319.0 391.7 326.1 388.7 333.1 385.9 339.2 383.4 344.0 381.5 346.2 380.2 346.1 379.4 345.3 378.9 345.1 378.7 347.1 378.6 352.8 378.6 362.7 378.7 375.7 378.9 390.8 379.3 407.3 379.8 424.0 380.3 440.0 380.8 455.6 381.2 471.6 381.7 487.9 382.2 504.4 382.7 521.0 383.4 537.7 384.2 553.9 385.2 569.5 386.4 585.3 387.8 601.9 389.2 619.9 390.6 640.0 391.9 662.1 393.2 685.7 394.5 710.7 395.8 737.2 397.1 765.1 398.4 794.4 399.6 826.2 400.7 860.8 401.8 896.8 402.8 932.9 403.8 967.8 404.9 1000.0 405.9 1031.2 407.0 1062.6 408.3 1092.8 409.5 1120.2 410.7 1143.1 411.7 1160.0 412.4" fill="none" stroke="#000" stroke-width="1.4" stroke-dasharray="7 3.5" stroke-linejoin="round" stroke-linecap="butt"/>
<path d="M287.5 428.9 288.8 429.9 290.5 431.2 292.5 432.8 294.8 434.6 297.3 436.3 300.0 437.9 303.0 439.5 306.4 441.1 310.0 442.7 313.6 444.3 317.0 445.7 320.0 446.9 322.6 447.8 324.9 448.4 327.1 448.8 329.0 449.2 330.6 449.8 332.0 450.6 333.1 451.8 334.0 453.3 334.6 455.0 334.9 456.6 335.1 457.9 335.0 458.7 334.8 459.1 334.5 459.1 333.9 458.9 333.1 458.5 331.8 457.8 330.0 456.9 327.5 455.8 324.5 454.3 321.0 452.7 317.3 450.8 313.6 448.9 310.0 446.9 306.3 444.6 302.3 442.0 298.2 439.2 294.5 436.6 291.3 434.4 289.0 432.8" fill="none" stroke="#000" stroke-width="1.4" stroke-dasharray="7 3.5" stroke-linejoin="round" stroke-linecap="butt"/>
<path d="M141.0 554.9 152.9 554.3 169.5 553.6 189.1 552.7 210.1 551.7 231.0 550.8 250.0 549.9 266.9 549.1 282.9 548.2 298.8 547.4 315.2 546.6 332.8 546.0 352.4 545.6 374.5 545.5 398.5 545.5 423.8 545.8 449.7 546.1 475.3 546.5 500.0 546.9 523.6 547.3 546.7 547.8 569.6 548.4 592.5 549.0 615.9 549.6 640.0 550.2 665.8 551.0 693.3 552.0 721.2 553.0 748.2 553.8 773.1 554.2 794.4 553.9 811.4 552.8 824.9 551.1 836.2 549.0 846.6 546.6 857.4 544.2 870.0 541.9 884.5 539.5 900.0 536.8 915.9 534.0 931.6 531.5 946.7 529.4 960.5 528.2 972.1 527.9 981.6 528.4 990.5 529.5 1000.0 530.7 1011.4 531.9 1026.0 532.8 1045.9 533.4 1070.6 533.9 1097.1 534.4 1122.7 534.9 1144.6 535.2 1160.0 535.5" fill="none" stroke="#000" stroke-width="1.4" stroke-dasharray="1.6 3.2" stroke-linejoin="round" stroke-linecap="butt"/>
<path d="M344.6 411.2 344.1 410.2 342.6 408.5 341.3 406.7 341.3 405.0 343.9 403.8 350.4 403.5 361.7 404.2 377.0 405.6 394.8 407.5 413.9 409.7 432.8 411.9 450.0 413.9 465.6 415.5 480.8 417.0 495.8 418.4 510.8 420.1 525.9 422.1 541.5 424.7 556.9 428.0 571.7 431.8 586.8 436.0 602.8 440.4 620.3 444.7 640.0 448.9 663.2 452.9 689.5 456.8 717.3 460.7 745.1 464.7 771.4 468.7 794.4 472.9 814.8 477.4 833.9 482.3 851.4 487.3 867.0 492.1 880.3 496.4 891.0 499.9 898.6 502.5 903.3 504.5 905.7 505.9 906.6 507.1 906.6 508.3 906.4 509.7 906.6 511.4 906.6 513.1 905.7 514.8 903.3 516.4 898.6 517.7 891.0 518.6 880.3 519.4 867.0 520.3 851.4 520.8 833.9 520.8 814.8 519.8 794.4 517.4 771.4 513.2 745.1 507.4 717.3 500.7 689.5 493.5 663.2 486.7 640.0 480.7 620.3 475.5 602.8 470.6 586.8 465.9 571.7 461.5 556.9 457.4 541.5 453.7 525.9 450.4 510.8 447.6 495.8 445.2 480.8 442.8 465.6 440.5 450.0 437.9 432.8 435.1 413.9 432.1 394.8 429.0 377.0 426.1 361.7 423.3 350.4 420.9 343.9 418.7 341.3 416.8 341.3 415.0 342.6 413.4 344.1 412.2 344.6 411.2" fill="none" stroke="#000" stroke-width="1.4" stroke-dasharray="1.6 3.2" stroke-linejoin="round" stroke-linecap="butt"/>
<path d="M280.7 335.5V584.8 M354.0 335.5V584.8 M428.0 335.5V584.8 M540.0 335.5V584.8 M794.9 335.5V584.8" stroke="#000" stroke-width="3.7" stroke-dasharray="4.1 6.4" fill="none"/>
<path d="M354.0 377.7 359.9 378.9 367.9 380.5 377.7 382.4 388.5 384.4 400.0 386.4 412.5 388.3 426.3 390.3 440.9 392.3 455.7 394.4 470.0 396.4 483.4 398.3 496.1 400.1 509.1 402.0 523.2 404.1 539.0 406.7 557.8 410.0 579.1 413.9 601.0 418.0 621.9 421.8 640.0 424.9 654.1 427.0 665.3 428.5 675.5 429.7 686.5 431.0 700.0 432.9 716.5 435.4 734.7 438.2 754.2 441.2 774.3 444.6 794.4 448.2 814.8 452.2 835.8 456.5 857.1 461.0 878.6 465.7 900.0 470.4 923.0 475.5 947.8 481.1 971.7 486.6 992.3 491.4 1006.8 494.7" fill="none" stroke="#1e1c0e" stroke-width="4.6" stroke-dasharray="15 7" stroke-linejoin="round"/>
<path d="M344.6 409.4 351.9 410.5 362.1 412.0 374.1 413.8 387.1 415.8 400.0 417.9 413.1 420.1 427.0 422.4 441.3 424.9 455.8 427.4 470.0 429.9 483.5 432.3 496.4 434.6 509.6 437.0 523.7 439.5 539.6 442.3 558.4 445.6 579.6 449.2 601.5 453.0 622.2 456.5 640.0 459.4 653.5 461.4 664.0 462.7 673.4 463.8 683.7 465.2 697.0 467.5 714.6 471.1 735.1 475.5 756.6 480.3 777.0 484.7 794.4 488.3 808.0 490.7 819.3 492.5 829.1 493.8 838.5 495.0 848.5 496.4 859.4 498.0 870.5 499.5 881.4 501.0 891.4 502.5 900.0 503.9 906.9 505.1 912.4 506.2 917.1 507.3 921.4 508.5 925.7 509.9 929.3 511.7 931.7 513.8 934.4 516.0 938.4 517.9 945.0 519.2 955.9 519.8 970.3 519.9 985.7 519.6 999.3 519.3 1008.7 519.2" fill="none" stroke="#1e1c0e" stroke-width="4.8" stroke-dasharray="4.8 7.2" stroke-linejoin="round"/>
</g>
<g clip-path="url(#cp2)">
<rect x="141.0" y="584.8" width="1013.0" height="250.9" fill="#e0def6"/>
<clipPath id="m2"><path d="M284.8 642.7 294.4 635.0 313.7 629.2 348.5 623.4 360.0 624.2 450.0 638.8 537.7 656.2 640.0 675.5 794.4 697.9 879.4 714.1 1006.8 754.7 1030.0 764.8 1049.0 771.1 1100.0 773.3 1160.0 774.0 1160.0 839.8 141.0 839.8 141.0 799.1 255.8 789.4 352.4 777.8 360.0 776.7 375.5 782.5 392.9 781.3 388.0 777.8 371.7 766.3 356.2 756.6 350.4 747.0 340.8 727.7 325.3 708.4 306.0 700.6 292.0 690.8 288.6 685.2 284.0 672.8 283.6 662.0 284.8 642.7Z"/></clipPath>
<g clip-path="url(#m2)"><rect x="139.0" y="582.8" width="1017.0" height="255.0" fill="#2e0351"/>
<path fill="#33105e" fill-rule="evenodd" d="M139.0 582.8 1156.0 582.8 1156.0 837.8 139.0 837.8ZM292.0 636.3 291.4 636.8 292.0 637.2 292.5 636.8ZM348.2 777.8 358.0 778.3 373.0 782.6 391.0 790.6 412.0 802.2 415.0 803.0 417.0 801.8 416.3 798.8 406.2 792.8 388.0 783.4 374.4 777.8 355.0 772.4ZM391.2 780.8 390.2 780.8 391.0 781.4Z"/>
<path fill="#371a67" fill-rule="evenodd" d="M139.0 582.8 1156.0 582.8 1156.0 837.8 139.0 837.8ZM140.8 798.8 142.0 799.6 152.1 798.8 142.0 797.9ZM167.5 795.8 175.0 796.7 185.9 795.8 178.0 794.9ZM200.9 792.8 211.0 793.7 221.5 792.8 214.0 791.9ZM236.5 789.8 247.0 790.7 257.5 789.8 247.0 789.0ZM268.6 786.8 274.0 787.4 283.6 786.8 277.0 786.2ZM292.0 635.9 290.8 636.8 292.0 637.7 293.1 636.8ZM293.5 783.8 301.0 784.7 308.5 783.8 301.0 783.0ZM300.1 633.8 298.0 633.1 295.0 633.8 298.0 634.5ZM317.3 627.8 322.0 628.5 325.0 627.8 322.0 627.1ZM328.0 711.1 327.4 711.8 328.0 712.5 328.5 711.8ZM344.5 777.8 358.0 779.4 376.0 785.2 391.0 792.0 408.8 801.8 415.0 804.5 418.4 801.8 418.0 798.6 403.2 789.8 391.3 783.8 392.4 780.8 388.0 777.3 387.0 777.8 386.1 780.8 385.0 781.2 376.0 777.3 355.0 771.2 353.2 771.8 351.4 774.8 349.0 777.0ZM358.7 624.8 364.0 625.5 368.5 624.8 364.0 624.1ZM379.0 627.8 382.0 628.5 386.7 627.8 382.0 627.1ZM397.0 630.8 400.0 631.5 406.0 630.8 400.0 630.1ZM542.5 657.8 547.0 658.5 550.0 657.8 547.0 657.1ZM559.0 660.8 562.0 661.5 566.5 660.8 562.0 660.1ZM590.5 666.8 595.0 667.5 598.0 666.8 595.0 666.1ZM613.0 669.8 610.0 669.1 607.0 669.8 610.0 670.5ZM638.3 675.8 643.0 676.5 647.1 675.8 643.0 675.1ZM658.0 678.8 664.0 679.5 667.0 678.8 664.0 678.1ZM742.0 690.8 745.0 691.5 751.0 690.8 745.0 690.1ZM761.9 693.8 766.0 694.5 772.0 693.8 766.0 693.1ZM782.3 696.8 787.0 697.5 793.0 696.8 787.0 696.1ZM800.9 699.8 805.0 700.5 808.0 699.8 805.0 699.1ZM848.9 708.8 853.0 709.5 856.0 708.8 853.0 708.1ZM865.0 711.8 868.0 712.5 872.5 711.8 868.0 711.1ZM894.1 717.8 892.0 717.1 889.3 717.8 892.0 718.5ZM898.9 720.8 901.0 721.5 903.7 720.8 901.0 720.0ZM960.0 738.8 958.0 738.1 955.3 738.8 958.0 739.6ZM969.1 741.8 967.0 741.1 964.9 741.8 967.0 742.5ZM974.0 744.8 976.0 745.5 979.0 744.8 976.0 744.0ZM1013.7 756.8 1012.0 756.0 1010.1 756.8 1012.0 757.6ZM1030.9 765.8 1033.0 766.5 1035.7 765.8 1033.0 765.1ZM1057.0 771.8 1069.0 772.5 1084.0 771.8 1072.0 771.1ZM292.0 690.0 291.5 690.8 292.0 691.3 292.8 690.8ZM320.1 780.8 328.0 781.6 334.9 780.8 328.0 779.9ZM340.0 726.0 339.5 726.8 340.0 727.7 340.5 726.8Z"/>
<path fill="#39226d" fill-rule="evenodd" d="M139.0 582.8 1156.0 582.8 1156.0 837.8 139.0 837.8ZM140.1 798.8 142.0 800.0 156.2 798.8 151.0 797.6 142.0 797.5ZM160.8 795.8 163.0 796.8 175.0 797.1 192.2 795.8 190.0 794.9 178.0 794.5ZM196.8 792.8 202.0 794.0 211.0 794.1 228.2 792.8 226.0 791.8 214.0 791.4ZM232.8 789.8 238.0 791.1 247.0 791.1 261.2 789.8 253.0 788.5ZM264.7 786.8 271.0 788.1 286.6 786.8 283.0 785.6ZM286.0 676.2 285.3 678.8 286.0 680.7 286.7 678.8ZM289.6 639.8 289.0 638.8 287.1 639.8ZM292.0 635.4 290.2 636.8 292.0 638.1 293.6 636.8ZM294.3 633.8 295.0 634.6 298.0 634.8 301.3 633.8 298.0 632.7ZM304.3 630.8 307.0 631.7 311.8 630.8 310.0 629.9ZM315.6 627.8 322.0 628.8 328.0 627.8 322.0 626.7ZM328.0 710.8 327.1 711.8 328.0 712.8 328.8 711.8ZM332.5 624.8 337.0 625.7 344.9 624.8 340.0 623.9ZM355.0 624.8 364.0 625.8 370.0 624.8 364.0 623.8ZM376.0 627.8 382.0 628.8 388.5 627.8 382.0 626.7ZM394.0 630.8 400.0 631.8 406.0 631.5 407.5 630.8 400.0 629.7ZM412.5 633.8 421.0 634.7 425.9 633.8 418.0 632.9ZM431.1 636.8 439.0 637.7 444.5 636.8 436.0 635.9ZM449.5 639.8 457.0 640.7 460.0 639.8 454.0 638.9ZM464.7 642.8 472.0 643.7 475.4 642.8 469.0 641.9ZM479.7 645.8 487.0 646.7 490.4 645.8 484.0 644.9ZM495.5 648.8 502.0 649.7 506.3 648.8 499.0 647.9ZM510.6 651.8 517.0 652.7 521.3 651.8 514.0 650.9ZM526.0 654.8 532.0 655.7 536.5 654.8 529.0 653.9ZM541.0 657.8 547.0 658.9 551.9 657.8 547.0 656.8ZM556.5 660.8 562.0 661.8 568.0 660.8 562.0 659.7ZM572.5 663.8 580.0 664.7 583.5 663.8 577.0 662.9ZM589.0 666.8 595.0 667.9 599.5 666.8 595.0 665.8ZM604.0 669.8 610.0 670.8 616.0 669.8 610.0 668.8ZM620.5 672.8 628.0 673.7 631.0 672.8 625.0 671.9ZM636.5 675.8 643.0 676.9 649.0 675.8 643.0 674.8ZM655.0 678.8 664.0 679.9 670.0 678.8 664.0 677.8ZM676.0 681.8 685.0 682.7 691.0 681.8 682.0 680.9ZM697.0 684.8 706.0 685.7 712.0 684.8 703.0 683.9ZM718.0 687.8 727.0 688.7 733.0 687.8 724.0 686.9ZM739.0 690.8 745.0 691.8 754.0 690.8 745.0 689.7ZM760.0 693.8 766.0 694.8 774.5 693.8 766.0 692.7ZM780.5 696.8 787.0 697.8 793.0 697.5 794.5 696.8 787.0 695.8ZM799.0 699.8 805.0 700.8 811.0 699.8 805.0 698.8ZM815.5 702.8 823.0 703.7 826.0 702.8 820.0 701.9ZM831.5 705.8 838.0 706.7 842.5 705.8 835.0 704.9ZM847.0 708.8 853.0 709.9 858.5 708.8 853.0 707.8ZM863.1 711.8 868.0 712.8 874.0 711.8 868.0 710.7ZM878.5 714.8 883.0 715.7 886.0 714.8 883.0 714.0ZM888.2 717.8 892.0 718.9 895.2 717.8 892.0 716.7ZM897.8 720.8 901.0 721.8 904.8 720.8 901.0 719.7ZM907.0 723.8 910.0 724.6 914.3 723.8 910.0 722.9ZM916.7 726.8 919.0 727.5 923.4 726.8 919.0 725.9ZM926.0 729.8 931.0 730.7 932.8 729.8 928.0 728.8ZM935.3 732.8 940.0 733.7 942.3 732.8 937.0 731.9ZM944.7 735.8 949.0 736.7 951.7 735.8 949.0 735.0ZM954.1 738.8 958.0 739.9 961.0 738.8 958.0 737.8ZM963.7 741.8 967.0 742.9 970.3 741.8 967.0 740.7ZM973.0 744.8 976.0 745.8 980.0 744.8 976.0 743.7ZM982.3 747.8 985.0 748.6 989.3 747.8 985.0 746.9ZM991.7 750.8 997.0 751.7 998.7 750.8 994.0 749.9ZM1001.2 753.8 1006.0 754.8 1007.8 753.8 1003.0 752.9ZM1014.5 756.8 1012.0 755.7 1009.2 756.8 1012.0 757.9ZM1016.1 759.8 1018.0 760.6 1021.2 759.8 1018.0 758.8ZM1023.1 762.8 1027.0 763.5 1027.9 762.8 1024.0 762.1ZM1029.8 765.8 1033.0 766.8 1036.8 765.8 1033.0 764.7ZM1039.0 768.8 1042.0 769.6 1046.3 768.8 1042.0 767.9ZM1051.0 771.8 1069.0 772.8 1090.0 771.8 1072.0 770.8 1060.0 770.8ZM292.0 689.7 291.2 690.8 292.0 691.6 293.1 690.8ZM317.2 705.8 319.0 706.5 320.9 705.8 319.0 705.1ZM340.0 725.7 339.2 726.8 340.0 728.1 340.8 726.8ZM340.8 777.8 343.0 778.7 355.0 779.5 373.0 784.9 394.0 794.5 412.9 804.8 416.8 804.8 419.2 801.8 418.9 798.8 418.0 797.5 393.4 783.8 393.6 780.8 391.0 779.9 388.0 777.0 386.5 777.8 385.0 780.2 371.3 774.8 355.0 770.4 352.0 771.4 350.6 774.8 349.0 776.2ZM379.0 771.3 379.0 772.6 379.8 771.8ZM289.8 783.8 292.0 784.6 301.0 785.1 312.2 783.8 301.0 782.5ZM316.6 780.8 319.0 781.7 328.0 782.0 338.4 780.8 337.0 779.9 328.0 779.4Z"/>
<path fill="#3b2973" fill-rule="evenodd" d="M139.0 582.8 1156.0 582.8 1156.0 773.8 1144.0 773.7 1141.0 774.8 1156.0 775.1 1156.0 837.8 139.0 837.8ZM283.0 653.3 283.0 671.3 283.7 663.8ZM302.6 633.8 301.0 632.6 298.0 632.3 293.6 633.8 285.8 639.8 284.8 642.8 286.0 643.3 295.0 635.5ZM303.1 630.8 304.0 632.1 307.0 632.2 313.0 630.8 310.0 629.3ZM313.4 627.8 319.0 629.2 329.5 627.8 328.0 626.4 322.0 626.4ZM331.0 714.2 330.2 714.8 331.0 716.0ZM331.0 624.8 334.0 626.2 346.9 624.8 346.0 623.9 343.0 623.4ZM349.0 742.8 348.4 744.8 349.0 745.9 349.7 744.8ZM352.0 748.4 352.0 751.5 352.8 750.8ZM352.0 624.8 367.0 626.3 373.0 624.8 364.0 623.4 358.0 623.4ZM373.5 627.8 385.0 629.2 391.0 627.8 382.0 626.4 376.0 626.5ZM392.5 630.8 400.0 632.1 406.0 632.2 409.0 630.8 400.0 629.3 394.0 629.4ZM410.7 633.8 424.0 635.2 427.0 634.7 427.9 633.8 412.0 632.5ZM429.1 636.8 445.0 638.1 446.3 636.8 433.0 635.4 430.0 635.9ZM448.0 639.8 457.0 641.2 462.2 639.8 451.0 638.4ZM463.0 642.8 472.0 644.2 477.6 642.8 466.0 641.4ZM478.0 645.8 487.0 647.2 492.6 645.8 481.0 644.4ZM493.0 648.8 505.0 650.2 508.0 648.8 499.0 647.4ZM508.4 651.8 520.0 653.2 523.0 651.8 514.0 650.4ZM523.8 654.8 535.0 656.2 538.0 654.8 529.0 653.4ZM538.8 657.8 547.0 659.2 553.0 658.7 553.9 657.8 544.0 656.3ZM554.7 660.8 565.0 662.3 568.0 662.1 569.5 660.8 562.0 659.4 556.0 659.5ZM571.0 663.8 580.0 665.2 586.0 663.8 574.0 662.4ZM586.5 666.8 595.0 668.3 598.0 668.2 601.0 666.8 592.0 665.4ZM602.5 669.8 610.0 671.2 616.0 671.2 617.5 669.8 610.0 668.4 604.0 668.4ZM619.0 672.8 628.0 674.2 633.5 672.8 622.0 671.4ZM634.0 675.8 643.0 677.2 649.0 676.8 652.0 675.8 640.0 674.4ZM653.5 678.8 664.0 680.3 670.0 679.8 673.0 678.8 664.0 677.5 655.0 677.4ZM673.8 681.8 685.0 683.1 691.0 682.9 694.0 681.8 676.0 680.4ZM694.5 684.8 706.0 686.1 712.0 686.1 714.5 684.8 703.0 683.5 697.0 683.5ZM715.0 687.8 733.0 689.2 735.2 687.8 724.0 686.5 718.0 686.7ZM736.0 690.8 745.0 692.1 754.0 692.2 755.5 690.8 745.0 689.3 739.0 689.8ZM757.0 693.8 766.0 695.1 775.0 695.1 776.3 693.8 766.0 692.4 760.0 692.8ZM778.0 696.8 793.0 698.2 796.0 696.8 784.0 695.3ZM797.5 699.8 805.0 701.2 811.0 701.2 812.5 699.8 805.0 698.4 799.0 698.4ZM814.0 702.8 823.0 704.2 828.5 702.8 817.0 701.4ZM829.0 705.8 841.0 707.2 844.0 705.8 835.0 704.4ZM845.5 708.8 853.0 710.2 859.0 710.1 860.3 708.8 850.0 707.4 847.0 707.5ZM861.1 711.8 871.0 713.2 876.5 711.8 868.0 710.3 862.0 710.9ZM877.0 714.8 886.0 716.2 887.1 714.8 880.0 713.4ZM887.2 717.8 892.0 719.2 895.0 719.2 896.4 717.8 892.0 716.4 889.0 716.3ZM896.6 720.8 904.0 722.3 905.8 720.8 901.0 719.3 898.0 719.4ZM905.9 723.8 913.0 725.2 915.5 723.8 910.0 722.4 907.0 722.4ZM915.5 726.8 922.0 728.2 924.7 726.8 916.0 725.3ZM925.0 729.8 931.0 731.2 934.0 729.8 928.0 728.3ZM934.2 732.8 943.0 734.3 943.4 732.8 937.0 731.3ZM943.5 735.8 949.0 737.2 952.0 737.1 952.9 735.8 946.0 734.4ZM953.1 738.8 958.0 740.3 961.0 740.2 962.3 738.8 958.0 737.4 955.0 737.4ZM962.5 741.8 967.0 743.2 970.0 743.2 971.5 741.8 967.0 740.4 964.0 740.4ZM971.7 744.8 976.0 746.2 979.0 746.2 981.0 744.8 976.0 743.3 973.0 743.4ZM981.2 747.8 988.0 749.2 990.5 747.8 985.0 746.4 982.0 746.5ZM990.6 750.8 997.0 752.3 999.8 750.8 991.0 749.3ZM1000.0 753.8 1006.0 755.3 1012.0 758.3 1015.0 758.8 1015.2 759.8 1018.0 761.0 1021.0 761.2 1022.0 759.8 1012.0 755.3 1009.0 754.8 1008.7 753.8 1006.0 752.8 1003.0 752.4ZM1022.2 762.8 1027.0 764.2 1028.8 762.8 1024.0 761.4ZM1029.0 765.8 1033.0 767.2 1036.0 767.3 1037.8 765.8 1033.0 764.4 1030.0 764.4ZM1037.9 768.8 1045.0 770.2 1047.5 768.8 1042.0 767.4 1039.0 767.4ZM1047.5 771.8 1081.0 773.2 1096.0 773.1 1099.0 771.8 1072.0 770.5 1048.0 770.3ZM286.0 675.5 285.1 678.8 286.0 681.3 286.9 678.8ZM292.0 689.3 291.0 690.8 292.0 691.8 293.5 690.8ZM302.0 696.8 301.0 696.1 299.7 696.8 301.0 697.6ZM303.4 699.8 306.4 699.8 304.0 699.0ZM309.5 702.8 313.0 703.6 314.3 702.8 313.0 702.3ZM316.7 705.8 319.0 706.7 321.5 705.8 319.0 704.9ZM325.0 708.1 324.1 708.8 325.0 709.4 325.8 708.8ZM328.0 710.5 326.9 711.8 328.0 713.1 329.1 711.8ZM337.0 722.6 337.0 724.4 337.9 723.8ZM340.0 725.3 338.9 726.8 340.0 728.5 341.0 726.8ZM343.0 730.8 342.4 732.8 343.0 734.1 343.7 732.8ZM346.0 736.8 345.4 738.8 346.0 740.1 346.7 738.8ZM420.0 801.8 419.7 798.8 418.0 796.4 395.0 783.8 394.0 780.4 391.0 779.5 388.0 776.7 386.0 777.8 385.0 779.4 374.0 774.8 355.0 769.6 352.0 770.5 349.0 775.5 346.0 776.8 313.0 780.8 310.0 781.8 301.0 782.1 271.0 785.6 256.0 788.0 238.0 788.8 223.0 790.8 211.0 791.1 184.0 794.0 163.0 795.1 154.0 796.7 142.0 797.1 139.5 798.8 142.0 800.5 166.0 797.8 178.0 797.5 205.0 794.6 226.0 793.5 235.0 791.8 253.0 791.1 268.0 788.9 289.0 787.0 292.0 785.9 301.0 785.5 349.0 779.6 355.0 780.3 373.0 785.7 391.0 793.8 412.0 805.2 415.0 805.9 418.0 805.1ZM355.0 753.0 354.3 753.8 355.0 756.2ZM359.9 759.8 361.0 760.4 362.4 759.8 361.0 759.0ZM368.0 762.8 367.0 762.2 365.3 762.8 367.0 763.6ZM369.3 765.8 372.4 765.8 370.0 765.0ZM376.8 768.8 376.0 768.2 374.6 768.8 376.0 769.6ZM379.0 771.0 378.2 771.8 379.0 773.2 380.4 771.8ZM385.2 774.8 383.5 774.8 385.0 775.4Z"/>
<path fill="#3c3278" fill-rule="evenodd" d="M139.0 582.8 1156.0 582.8 1156.0 772.8 1144.0 772.7 1141.0 771.8 1099.0 771.5 1051.0 769.8 1030.0 763.3 1006.0 752.4 877.0 711.5 832.0 703.7 830.3 702.8 793.0 695.8 781.0 694.7 766.0 692.0 760.0 691.8 754.0 690.1 739.0 688.8 733.0 687.1 718.0 685.7 715.0 684.5 700.0 683.0 694.0 681.5 637.0 673.7 634.0 672.5 607.0 668.0 595.0 665.1 589.0 664.8 586.0 663.5 541.0 655.7 535.0 653.8 511.0 649.7 508.0 648.5 496.0 646.7 494.3 645.8 445.0 636.2 415.0 631.8 406.0 629.8 397.0 629.0 393.5 627.8 379.0 626.0 367.0 623.5 355.0 622.7 349.0 621.5 313.0 627.5 293.0 633.8 285.2 639.8 283.3 642.8 286.0 643.9 295.0 636.3 316.0 629.9 322.0 629.5 349.0 624.8 370.0 626.8 373.0 628.1 388.0 629.9 394.0 631.5 460.0 641.9 461.3 642.8 475.0 644.9 478.0 646.1 490.0 647.9 493.0 649.1 574.0 664.8 583.0 665.9 584.7 666.8 613.0 671.6 622.0 673.8 631.0 674.8 634.0 676.1 793.0 698.9 817.0 703.8 826.0 704.8 829.0 706.1 853.0 710.6 856.0 710.6 859.0 711.8 874.0 713.9 1006.0 755.7 1030.0 766.6 1048.0 772.3 1093.0 773.8 1099.0 774.8 1156.0 775.5 1156.0 837.8 139.0 837.8 139.0 799.0 142.0 800.9 253.0 791.5 349.0 780.2 354.2 780.8 373.0 786.5 391.0 794.5 412.0 805.9 415.0 806.6 418.0 805.8 420.7 801.8 420.4 798.8 418.0 795.6 396.5 783.8 394.0 779.9 391.0 779.0 388.0 776.5 385.0 778.6 383.3 777.8 385.0 776.5 385.6 774.8 382.0 774.1 381.0 771.8 379.0 770.6 377.8 771.8 379.0 773.8 381.3 774.8 379.0 776.1 355.0 768.8 352.0 769.7 349.9 771.8 349.0 774.8 346.0 776.4 256.0 787.2 142.0 796.6 139.0 798.6ZM283.0 651.4 282.3 660.8 283.0 673.0 284.0 663.8 283.8 654.8ZM286.0 674.9 285.1 675.8 284.9 678.8 286.0 681.9 287.2 678.8ZM289.0 683.7 288.2 684.8 289.0 688.0ZM292.0 688.9 290.7 690.8 292.0 692.1 293.9 690.8ZM294.4 693.8 298.0 694.4 298.2 693.8 295.0 692.8ZM302.5 696.8 301.0 695.9 299.1 696.8 301.0 697.9ZM303.0 699.8 304.0 700.5 307.3 699.8 304.0 698.5ZM308.9 702.8 313.0 703.9 314.9 702.8 310.0 702.0ZM316.1 705.8 319.0 706.9 322.1 705.8 319.0 704.6ZM325.0 707.8 323.6 708.8 325.0 709.8 326.2 708.8ZM328.0 710.1 326.6 711.8 328.0 713.5 329.3 711.8ZM331.0 713.9 329.8 714.8 331.0 716.6 331.7 714.8ZM334.0 717.6 333.3 717.8 334.0 721.0 334.7 720.8ZM337.0 721.9 336.3 723.8 337.0 724.7 338.4 723.8ZM340.0 724.9 338.7 726.8 340.0 728.9 341.3 726.8ZM343.0 729.9 342.2 732.8 343.0 734.7 344.0 732.8ZM346.0 735.9 345.2 738.8 346.0 740.7 347.0 738.8ZM349.0 741.9 348.2 744.8 349.0 746.4 350.0 744.8ZM352.0 747.6 351.4 750.8 352.0 751.8 353.2 750.8ZM355.0 752.6 354.0 753.8 354.9 756.8 358.0 757.8 358.6 756.8ZM359.4 759.8 361.0 760.7 363.0 759.8 361.0 758.7ZM368.4 762.8 367.0 762.0 364.5 762.8 367.0 764.0ZM369.0 765.8 370.0 766.5 373.0 766.5 373.2 765.8 370.0 764.6ZM377.2 768.8 376.0 767.9 374.0 768.8 376.0 770.0Z"/>
<path fill="#3d397c" fill-rule="evenodd" d="M139.0 582.8 1156.0 582.8 1156.0 771.8 1099.0 771.1 1054.0 769.4 1045.0 767.4 1030.6 762.8 1006.0 752.1 877.0 711.2 793.0 695.5 640.0 673.5 559.0 658.4 450.5 636.8 358.0 621.8 346.0 621.5 310.7 627.8 292.3 633.8 284.7 639.8 282.7 642.8 283.0 644.8 286.0 644.6 295.0 637.0 319.0 630.1 349.0 625.1 367.0 627.2 457.0 642.1 538.0 658.3 640.0 677.5 790.0 699.1 871.0 714.1 883.0 716.9 1006.0 756.2 1030.0 767.0 1048.0 772.6 1099.0 775.1 1156.0 775.8 1156.0 837.8 139.0 837.8 139.0 799.7 142.0 801.3 253.0 792.0 352.0 780.8 376.0 788.4 394.0 796.7 412.0 806.5 415.0 807.2 418.0 806.4 420.0 804.8 421.3 801.8 421.0 798.5 418.0 794.9 397.0 783.4 394.0 779.3 391.0 778.6 382.0 772.8 376.0 767.6 373.4 768.8 377.5 771.8 376.0 774.1 355.0 768.3 352.0 768.9 349.1 771.8 348.2 774.8 346.0 776.0 256.0 786.6 142.0 796.2 139.0 797.9ZM283.0 649.5 282.1 660.8 283.0 673.7 283.9 672.8 284.3 654.8ZM286.0 674.3 284.5 675.8 286.0 682.5 287.1 681.8 287.4 678.8ZM289.0 683.0 287.7 684.8 290.4 690.8 295.0 694.4 298.0 695.6 298.6 693.8 295.0 692.1 292.0 688.5 290.3 687.8ZM298.6 696.8 304.0 700.8 307.0 701.0 307.8 699.8 304.0 698.0 301.0 695.6ZM308.4 702.8 313.0 704.3 315.4 702.8 310.0 701.5ZM315.5 705.8 319.0 707.1 322.0 706.9 322.7 705.8 319.0 704.4 316.0 704.4ZM323.0 708.8 325.0 710.2 331.0 717.3 332.0 714.8 328.0 709.8 325.0 707.4ZM332.0 717.8 334.0 721.3 336.0 720.8 334.0 717.3ZM337.0 721.3 336.0 723.8 340.0 729.4 341.6 729.8 343.0 735.2 344.3 732.8 343.2 729.8ZM346.0 735.4 344.6 735.8 346.0 741.2 347.3 738.8ZM349.0 741.4 347.6 741.8 347.9 744.8 349.0 746.9 350.3 744.8ZM350.7 747.8 351.1 750.8 353.6 753.8 355.0 757.2 358.0 758.5 361.0 761.0 363.6 759.8 358.0 756.1 353.6 750.8 352.0 747.2ZM364.0 762.0 363.9 762.8 370.0 766.8 373.0 767.8 373.5 765.8 367.0 761.7ZM377.9 774.8 380.0 774.8 379.0 775.3Z"/>
<path fill="#3e4180" fill-rule="evenodd" d="M139.0 582.8 417.3 582.8 427.0 584.2 439.0 584.7 465.0 582.8 1156.0 582.8 1156.0 771.5 1099.0 770.8 1051.0 768.5 1031.6 762.8 1006.0 751.7 877.0 710.9 793.0 695.1 640.0 673.1 451.0 636.5 361.0 621.8 349.0 620.8 313.0 626.8 295.0 632.1 291.7 633.8 284.2 639.8 282.4 642.8 282.9 648.8 281.9 663.8 282.5 672.8 286.0 683.1 290.2 690.8 304.0 701.0 316.0 706.2 322.0 707.9 325.0 710.5 340.0 729.8 354.4 756.8 377.1 771.8 376.0 773.6 355.0 767.9 351.3 768.8 349.0 771.1 347.4 774.8 346.0 775.5 256.0 786.2 142.0 795.7 139.0 797.1ZM139.0 800.5 142.0 801.7 253.0 792.4 349.0 781.2 352.0 781.2 373.0 787.7 394.0 797.3 412.0 807.1 415.0 807.9 418.0 807.1 420.8 804.8 421.8 801.8 421.6 798.8 419.8 795.8 418.0 794.3 397.0 782.9 394.0 778.7 391.0 778.2 373.0 765.2 358.0 755.8 354.0 750.8 341.8 726.8 328.0 709.5 323.2 705.8 313.0 701.6 310.0 701.1 295.0 691.5 291.2 687.8 289.0 682.4 288.1 681.8 286.0 673.8 284.7 672.8 284.1 645.8 286.0 645.2 295.0 637.4 316.0 631.1 349.0 625.5 361.0 626.7 448.0 640.8 640.0 677.8 790.0 699.5 877.0 715.8 1006.0 756.7 1030.0 767.3 1048.0 773.0 1099.0 775.5 1156.0 776.1 1156.0 837.8 139.0 837.8Z"/>
<path fill="#3e4881" fill-rule="evenodd" d="M139.0 582.8 402.8 582.8 418.0 586.9 436.0 588.5 460.0 587.1 490.7 582.8 1156.0 582.8 1156.0 771.1 1099.0 770.5 1051.0 768.1 1032.6 762.8 1006.0 751.4 877.0 710.5 793.0 694.8 640.0 672.7 451.0 636.2 361.0 621.5 349.0 620.5 313.0 626.5 295.0 631.8 291.1 633.8 283.6 639.8 282.1 642.8 282.7 648.8 281.7 663.8 282.3 672.8 286.0 683.7 289.9 690.8 304.0 701.3 322.0 708.8 325.0 710.9 339.8 729.8 354.2 756.8 372.5 768.8 373.0 770.7 376.0 771.0 376.8 771.8 376.0 773.0 355.0 767.4 350.5 768.8 346.0 775.1 256.0 785.8 142.0 795.3 139.0 796.3ZM139.0 801.3 142.0 802.1 253.0 792.8 349.0 781.6 352.0 781.7 373.0 788.3 394.0 797.9 412.0 807.8 415.0 808.3 418.0 807.8 421.0 805.3 422.2 801.8 422.0 798.8 420.6 795.8 418.0 793.7 397.0 782.3 394.0 778.2 391.0 777.8 373.0 764.9 358.0 755.5 350.9 744.8 342.1 726.8 328.0 709.1 323.8 705.8 310.0 700.7 301.0 695.0 292.0 687.8 289.0 681.8 285.5 672.8 284.7 660.8 286.0 645.8 288.7 642.8 295.0 637.8 313.0 632.2 349.0 625.8 361.0 627.1 448.0 641.2 640.0 678.2 796.0 700.8 877.0 716.1 1006.0 757.1 1030.0 767.7 1048.0 773.3 1099.0 775.8 1156.0 776.5 1156.0 837.8 139.0 837.8Z"/>
<path fill="#3f4e80" fill-rule="evenodd" d="M139.0 582.8 393.3 582.8 403.0 587.0 412.0 589.6 424.0 591.5 436.0 592.1 466.0 590.0 514.0 582.8 1156.0 582.8 1156.0 770.8 1099.0 770.1 1051.0 767.8 1033.0 762.6 1006.0 751.0 877.0 710.2 793.0 694.5 640.0 672.3 451.0 635.9 361.0 621.1 349.0 620.1 313.0 626.2 295.0 631.4 290.6 633.8 283.1 639.8 281.7 642.8 282.4 648.8 281.5 660.8 282.1 672.8 286.0 684.3 289.7 690.8 304.0 701.5 322.0 709.0 325.0 711.2 339.5 729.8 353.9 756.8 372.1 768.8 370.0 770.9 355.0 766.9 349.7 768.8 346.0 774.7 256.0 785.3 151.0 794.0 139.0 795.6ZM139.0 802.0 142.0 802.5 253.0 793.2 349.0 782.0 352.0 782.2 373.0 788.8 391.0 796.9 412.0 808.2 415.0 808.7 418.0 808.2 421.0 805.9 422.7 801.8 422.5 798.8 421.0 795.5 417.5 792.8 397.0 781.7 394.2 777.8 391.0 777.4 373.0 764.7 358.0 755.2 351.2 744.8 342.3 726.8 328.0 708.8 324.3 705.8 310.0 700.2 301.0 694.8 292.3 687.8 289.2 681.8 286.1 672.8 285.0 660.8 286.4 645.8 289.0 643.0 295.0 638.3 313.0 632.5 349.0 626.2 361.0 627.4 448.0 641.5 640.0 678.5 796.0 701.2 877.0 716.5 1006.0 757.5 1030.0 768.1 1048.0 773.6 1099.0 776.1 1156.0 776.8 1156.0 837.8 139.0 837.8ZM373.4 771.8 376.4 771.8 376.0 772.5Z"/>
<path fill="#3f5580" fill-rule="evenodd" d="M139.0 582.8 385.7 582.8 397.0 588.6 409.0 592.6 421.0 594.8 436.0 595.5 469.0 593.1 541.8 582.8 1156.0 582.8 1156.0 770.5 1099.0 769.8 1051.0 767.5 1033.0 762.2 1006.4 750.8 877.0 709.9 793.0 694.1 640.0 672.0 451.0 635.5 361.0 620.8 349.0 619.8 313.0 625.8 295.0 631.1 290.1 633.8 282.6 639.8 281.4 642.8 282.2 648.8 281.2 660.8 281.9 672.8 286.0 684.8 289.4 690.8 292.0 693.4 304.0 701.8 322.0 709.3 325.0 711.6 339.3 729.8 353.7 756.8 357.2 759.8 371.6 768.8 370.0 770.5 355.0 766.4 349.0 768.7 346.0 773.9 256.0 784.9 151.0 793.6 139.0 795.2ZM139.0 802.4 142.0 803.0 253.0 793.6 349.0 782.4 352.0 782.7 370.0 788.1 391.0 797.5 412.0 808.6 415.0 809.1 418.0 808.6 421.0 806.6 423.1 801.8 422.9 798.8 421.0 795.0 418.0 792.6 397.0 781.1 394.9 777.8 391.0 777.0 373.0 764.4 358.0 755.0 351.5 744.8 342.6 726.8 328.0 708.5 324.9 705.8 307.0 698.5 292.5 687.8 289.5 681.8 286.3 672.8 285.2 660.8 286.8 645.8 289.0 643.4 295.0 638.7 298.0 637.3 313.0 632.8 349.0 626.5 361.0 627.7 448.0 641.9 640.0 678.9 796.0 701.5 877.0 716.8 1006.0 757.9 1030.0 768.4 1048.0 774.0 1099.0 776.5 1156.0 777.1 1156.0 837.8 139.0 837.8Z"/>
<path fill="#3e5a7f" fill-rule="evenodd" d="M139.0 582.8 379.0 582.8 391.0 589.7 403.7 594.8 418.0 597.8 433.0 598.8 466.0 596.7 553.0 585.7 602.5 582.8 1156.0 582.8 1156.0 770.1 1099.0 769.5 1051.0 767.1 1033.0 761.9 1007.5 750.8 880.0 710.2 793.0 693.8 640.0 671.7 451.0 635.2 361.0 620.5 349.0 619.5 313.0 625.5 294.8 630.8 289.5 633.8 282.2 639.8 281.1 642.8 282.0 648.8 281.0 660.8 281.7 672.8 285.8 684.8 289.1 690.8 292.0 693.7 304.0 702.0 322.0 709.5 324.9 711.8 339.1 729.8 353.4 756.8 356.8 759.8 366.7 765.8 367.0 767.6 371.2 768.8 370.0 770.1 355.0 766.0 349.0 768.3 346.0 773.2 343.0 774.2 256.0 784.5 163.0 792.1 139.0 794.7ZM139.0 802.9 142.0 803.4 253.0 794.0 349.0 782.9 370.0 788.5 388.0 796.4 412.0 809.0 415.0 809.5 418.0 809.0 421.0 807.3 422.8 804.8 423.6 801.8 423.4 798.8 421.0 794.4 397.3 780.8 395.6 777.8 388.0 774.9 373.0 764.1 358.0 754.7 351.8 744.8 342.9 726.8 328.0 708.1 325.0 705.6 307.0 698.2 292.8 687.8 289.7 681.8 286.5 672.8 285.5 660.8 287.2 645.8 289.0 643.8 298.0 637.6 313.0 633.2 349.0 626.8 361.0 628.1 448.0 642.2 640.0 679.2 793.0 701.4 877.0 717.1 1003.0 757.2 1030.0 768.8 1048.0 774.3 1099.0 776.8 1156.0 777.5 1156.0 837.8 139.0 837.8Z"/>
<path fill="#3f607e" fill-rule="evenodd" d="M139.0 582.8 372.9 582.8 388.0 592.0 402.0 597.8 415.8 600.8 433.0 601.9 466.0 600.0 547.0 590.2 589.0 587.8 625.0 587.6 700.0 589.2 730.0 589.0 760.0 587.2 786.7 582.8 1156.0 582.8 1156.0 769.8 1099.0 769.1 1051.0 766.8 1033.0 761.5 1008.6 750.8 880.0 709.8 793.0 693.5 640.0 671.3 451.0 634.9 361.0 620.1 349.0 619.1 313.0 625.1 292.0 631.5 281.8 639.8 280.7 642.8 281.8 648.8 280.8 660.8 281.2 669.8 282.3 675.8 285.5 684.8 289.0 691.0 291.8 693.8 304.0 702.3 322.0 709.7 324.6 711.8 338.8 729.8 353.2 756.8 355.0 758.8 366.2 765.8 364.0 767.8 356.5 765.8 353.7 765.8 349.0 767.8 346.0 772.4 343.0 773.8 256.0 784.1 163.0 791.6 139.0 794.3ZM139.0 803.3 142.0 803.8 262.0 793.6 349.0 783.3 370.0 788.9 388.0 796.8 412.0 809.3 415.0 810.0 421.0 807.9 423.3 804.8 424.1 801.8 422.7 795.8 421.0 793.8 398.1 780.8 396.3 777.8 394.0 776.4 391.0 776.1 388.0 774.6 358.0 754.4 352.1 744.8 343.0 726.6 328.0 707.8 325.0 705.4 307.0 698.0 293.0 687.8 289.9 681.8 286.7 672.8 285.8 660.8 286.8 648.8 287.6 645.8 289.0 644.3 298.0 638.0 313.0 633.5 349.0 627.2 361.0 628.4 448.0 642.6 640.0 679.5 793.0 701.7 877.0 717.5 1003.0 757.6 1029.0 768.8 1048.0 774.7 1099.0 777.1 1156.0 777.8 1156.0 837.8 139.0 837.8ZM367.6 768.8 370.0 768.3 370.8 768.8 370.0 769.6Z"/>
<path fill="#40647c" fill-rule="evenodd" d="M139.0 582.8 367.1 582.8 385.0 594.1 400.0 600.6 415.0 603.8 433.0 604.9 466.0 603.1 541.0 594.6 577.0 592.6 625.0 592.6 718.0 596.2 754.0 595.8 772.0 594.2 790.0 591.4 805.0 587.6 818.8 582.8 1156.0 582.8 1156.0 769.5 1099.0 768.8 1051.0 766.5 1033.0 761.2 1009.0 750.6 880.0 709.5 793.0 693.1 640.0 671.0 451.0 634.5 361.0 619.8 349.0 618.8 313.0 624.8 292.0 631.1 281.3 639.8 280.4 642.8 281.6 648.8 280.6 660.8 281.0 669.8 282.0 675.8 285.3 684.8 289.0 691.3 292.0 694.2 304.0 702.5 322.0 709.9 324.3 711.8 338.6 729.8 353.0 756.8 355.0 759.1 365.8 765.8 364.0 767.5 355.0 765.2 352.0 765.8 349.0 767.3 345.9 771.8 343.0 773.4 254.3 783.8 151.0 792.0 139.0 793.8ZM139.0 803.8 142.0 804.2 163.0 802.9 172.0 801.6 265.0 793.9 349.0 783.7 370.0 789.4 388.0 797.3 412.0 809.7 415.0 810.4 421.0 808.3 423.8 804.8 424.4 801.8 423.2 795.8 421.0 793.3 398.8 780.8 396.9 777.8 394.0 776.0 391.0 775.7 388.0 774.3 358.0 754.1 352.4 744.8 343.0 726.2 328.0 707.4 325.0 705.2 305.6 696.8 295.0 689.5 293.3 687.8 290.1 681.8 287.0 672.8 286.0 660.8 287.0 648.8 289.0 644.7 298.0 638.3 313.0 633.9 349.0 627.5 361.0 628.7 451.0 643.5 640.0 679.9 793.0 702.1 877.0 717.8 1003.0 757.9 1028.1 768.8 1048.0 775.0 1099.0 777.5 1156.0 778.1 1156.0 837.8 139.0 837.8Z"/>
<path fill="#42687b" fill-rule="evenodd" d="M139.0 582.8 361.5 582.8 382.0 596.0 397.0 602.9 415.0 606.8 433.0 607.8 466.0 606.1 541.0 598.3 577.0 596.8 625.0 597.7 727.0 603.4 766.0 603.1 788.5 600.8 808.0 596.7 826.0 590.5 842.0 582.8 1156.0 582.8 1156.0 769.1 1099.0 768.5 1051.0 766.1 1033.0 760.8 1009.0 750.2 880.0 709.1 793.0 692.8 640.0 670.7 451.0 634.2 361.0 619.5 349.0 618.5 313.0 624.5 292.0 630.7 280.9 639.8 280.1 642.8 281.3 648.8 280.4 660.8 280.8 669.8 281.8 675.8 285.1 684.8 289.0 691.7 304.0 702.8 322.0 710.2 324.0 711.8 338.4 729.8 352.7 756.8 355.0 759.4 360.5 762.8 361.0 764.9 364.0 764.9 365.4 765.8 364.0 767.1 355.0 764.9 349.0 766.9 345.1 771.8 343.0 773.0 244.0 784.3 223.0 785.4 205.0 787.6 187.0 788.3 169.0 790.6 151.0 791.2 139.0 793.4ZM139.0 804.2 142.0 804.6 166.0 803.3 184.0 801.0 202.0 800.3 220.0 798.0 238.0 797.2 245.9 795.8 268.0 794.3 304.0 789.3 319.0 788.3 326.5 786.8 349.0 784.5 358.0 786.2 373.0 791.0 388.0 797.7 412.0 810.1 415.0 810.8 421.0 808.7 424.2 804.8 424.7 801.8 423.7 795.8 421.1 792.8 399.6 780.8 397.0 777.3 394.0 775.6 388.0 774.1 358.0 753.8 343.0 725.8 328.0 707.1 325.0 704.9 305.9 696.8 295.0 689.2 290.4 681.8 287.2 672.8 286.3 660.8 287.2 648.8 289.0 645.1 298.0 638.7 313.0 634.2 349.0 627.9 361.0 629.1 451.0 643.8 640.0 680.2 793.0 702.4 877.0 718.1 1003.0 758.3 1027.2 768.8 1048.0 775.3 1099.0 777.8 1156.0 778.5 1156.0 837.8 139.0 837.8Z"/>
<path fill="#446c7a" fill-rule="evenodd" d="M139.0 582.8 355.9 582.8 379.0 597.8 391.0 603.9 406.0 608.2 424.0 610.3 454.2 609.8 535.0 602.5 577.0 601.1 622.0 602.5 718.0 609.8 757.0 611.3 787.0 609.9 802.0 607.7 814.0 604.9 826.0 601.1 838.0 596.1 850.0 589.8 861.2 582.8 1156.0 582.8 1156.0 768.8 1099.0 768.1 1051.0 765.8 1033.0 760.4 1009.0 749.9 880.0 708.8 793.0 692.5 640.0 670.3 451.0 633.9 361.0 619.1 349.0 618.1 313.0 624.1 292.0 630.3 280.4 639.8 280.0 641.4 281.1 648.8 280.2 660.8 280.5 669.8 281.6 675.8 284.9 684.8 289.0 692.0 304.0 703.0 322.0 710.4 323.7 711.8 338.1 729.8 352.5 756.8 355.0 759.6 360.1 762.8 358.0 764.9 355.0 764.6 350.1 765.8 343.0 772.5 292.0 778.5 277.0 779.6 268.0 781.3 250.0 782.4 244.0 783.9 214.0 785.2 205.0 787.1 178.0 788.1 169.0 790.1 142.0 791.1 139.0 793.0ZM139.0 804.6 142.0 805.9 144.2 804.8 175.0 803.3 184.0 801.4 205.0 800.9 214.0 799.9 216.2 798.8 241.0 797.9 256.0 795.4 274.0 794.5 280.0 792.7 298.0 791.5 304.0 789.7 325.0 788.6 330.2 786.8 349.0 785.5 358.0 786.6 373.0 791.4 388.0 798.1 409.0 809.5 415.0 811.5 421.0 809.2 424.6 804.8 425.1 801.8 424.2 795.8 421.6 792.8 400.4 780.8 397.0 776.7 394.0 775.1 388.0 773.8 358.3 753.8 352.9 744.8 343.0 725.4 328.0 706.8 325.0 704.7 306.3 696.8 295.0 689.0 290.6 681.8 287.4 672.8 286.5 660.8 287.5 648.8 289.0 645.5 298.0 639.0 313.0 634.6 349.0 628.2 361.0 629.4 451.0 644.1 640.0 680.5 793.0 702.7 877.0 718.5 1003.0 758.6 1027.0 769.1 1048.0 775.7 1099.0 778.1 1156.0 778.8 1156.0 837.8 139.0 837.8ZM361.5 765.8 364.0 765.2 365.0 765.8 364.0 766.7Z"/>
<path fill="#45707a" fill-rule="evenodd" d="M139.0 582.8 350.1 582.8 376.0 599.4 388.0 605.7 403.0 610.4 421.0 612.8 451.0 612.7 535.0 606.0 577.0 605.2 628.0 607.9 733.0 617.6 769.0 619.1 787.0 618.5 802.0 616.9 817.0 614.0 829.0 610.5 841.0 605.7 853.0 599.7 865.0 592.4 878.3 582.8 1156.0 582.8 1156.0 768.5 1099.0 767.8 1051.0 765.5 1033.0 760.1 1009.0 749.5 880.0 708.5 793.0 692.1 640.0 670.0 451.0 633.5 361.0 618.8 349.0 617.8 313.0 623.8 292.0 630.0 280.0 639.8 279.4 642.8 280.9 648.8 280.0 660.8 280.3 669.8 281.4 675.8 284.6 684.8 289.0 692.4 304.0 703.3 323.4 711.8 337.9 729.8 352.2 756.8 355.0 760.0 359.7 762.8 358.0 764.5 355.0 764.2 349.0 765.9 343.0 772.1 301.0 776.4 292.0 778.1 274.0 779.1 268.0 780.9 247.0 781.6 238.0 783.8 208.0 784.2 205.0 784.9 202.2 786.8 199.4 786.8 161.4 771.8 139.0 764.5ZM139.0 807.6 145.0 807.6 151.0 805.9 163.0 804.9 181.0 804.7 184.0 802.6 189.7 801.8 217.0 801.7 220.1 798.8 253.0 798.7 256.0 795.8 280.0 795.7 282.6 792.8 304.0 792.4 307.2 789.8 322.1 789.8 298.0 797.5 292.0 798.0 280.0 796.8 272.8 798.8 273.2 801.8 283.0 804.8 295.0 806.6 315.1 813.8 325.0 816.4 334.0 818.0 343.0 818.3 349.6 816.8 355.0 812.4 356.8 807.8 357.0 804.8 355.8 798.8 352.8 792.8 349.0 789.2 343.0 787.4 333.8 786.8 355.0 786.3 361.0 788.7 367.0 789.6 373.0 791.8 376.0 793.7 388.0 798.5 406.0 808.8 415.0 812.2 421.0 809.6 425.0 804.8 425.4 801.8 424.5 795.8 422.0 792.8 401.2 780.8 397.0 776.2 394.0 774.7 388.0 773.6 358.6 753.8 353.1 744.8 343.0 725.0 328.0 706.4 325.0 704.5 307.0 697.0 295.0 688.7 290.8 681.8 287.6 672.8 286.8 663.8 287.7 648.8 289.0 646.0 298.0 639.4 313.0 634.9 349.0 628.5 361.0 629.7 451.0 644.5 640.0 680.9 793.0 703.1 877.0 718.8 1003.0 759.0 1027.0 769.5 1048.0 776.0 1099.0 778.5 1156.0 779.1 1156.0 837.8 139.0 837.8Z"/>
<path fill="#45757c" fill-rule="evenodd" d="M139.0 586.3 143.6 582.8 344.1 582.8 373.0 600.9 385.0 607.5 400.0 612.5 415.0 614.8 430.0 615.6 448.0 615.4 535.0 609.6 574.0 609.3 628.0 612.9 739.0 625.0 781.0 627.0 799.0 626.2 814.0 624.3 829.0 620.8 841.0 616.6 855.6 609.8 868.0 602.5 880.0 594.1 894.0 582.8 1156.0 582.8 1156.0 768.1 1099.0 767.5 1051.0 765.1 1033.0 759.7 1009.0 749.1 880.0 708.1 793.0 691.8 640.0 669.7 451.0 633.2 361.0 618.5 349.0 617.5 313.0 623.5 292.0 629.6 279.6 639.8 279.1 642.8 280.7 648.8 279.8 660.8 280.1 669.8 281.2 675.8 284.4 684.8 289.0 692.7 304.0 703.5 323.2 711.8 337.7 729.8 352.0 756.8 355.0 760.7 359.4 762.8 358.0 764.1 355.0 763.9 349.0 765.5 342.2 771.8 322.0 773.3 316.0 774.9 298.0 775.6 289.0 777.9 270.1 777.8 256.0 775.7 226.0 769.4 196.0 760.1 163.0 746.1 139.0 732.7ZM139.0 826.6 172.0 827.5 205.0 826.4 238.0 828.1 268.0 827.1 298.0 829.8 328.0 829.8 349.0 832.2 355.0 831.9 361.0 829.9 364.0 827.9 367.0 824.3 368.8 819.8 369.0 813.8 366.5 804.8 361.8 795.8 357.3 789.8 361.0 789.4 366.1 789.8 370.0 791.7 373.0 792.1 376.0 794.4 379.0 794.9 382.0 796.9 387.7 798.8 404.4 807.8 406.0 809.5 410.5 810.8 412.0 812.4 415.0 813.0 418.0 812.4 423.4 807.8 425.4 804.8 425.7 801.8 424.8 795.8 422.5 792.8 401.9 780.8 397.0 775.6 394.0 774.3 388.0 773.3 373.0 762.6 359.0 753.8 353.4 744.8 343.0 724.7 328.0 706.1 307.0 696.8 295.0 688.5 291.1 681.8 287.8 672.8 287.0 663.8 287.9 648.8 289.0 646.4 297.9 639.8 316.0 634.5 349.0 628.9 361.0 630.1 451.0 644.8 640.0 681.2 793.0 703.4 877.0 719.2 1003.0 759.3 1027.0 769.8 1048.0 776.3 1099.0 778.8 1156.0 779.5 1156.0 837.8 443.8 837.8 433.0 833.2 418.0 825.5 414.3 825.8 410.0 828.8 405.3 837.8 139.0 837.8ZM354.2 786.8 355.2 786.8 355.0 787.5Z"/>
<path fill="#46797d" fill-rule="evenodd" d="M139.0 605.0 151.0 592.5 163.6 582.8 337.7 582.8 383.5 609.8 397.0 614.4 412.0 617.0 427.0 618.0 445.0 618.0 535.0 613.0 574.0 613.4 628.0 617.8 745.0 632.5 772.0 634.6 793.0 635.0 811.0 633.9 826.0 631.5 839.2 627.8 853.0 622.3 865.5 615.8 880.0 606.5 895.0 595.0 908.8 582.8 1156.0 582.8 1156.0 767.8 1099.0 767.1 1051.0 764.8 1033.0 759.4 1009.0 748.8 880.0 707.8 793.0 691.5 640.0 669.3 454.0 633.3 397.0 623.5 361.0 618.1 349.0 617.1 313.0 623.1 292.0 629.2 289.0 631.2 279.3 639.8 278.7 642.8 280.5 648.8 279.6 660.8 279.9 669.8 281.0 675.8 284.2 684.8 289.0 693.1 304.0 703.7 322.9 711.8 337.4 729.8 351.6 756.8 355.0 761.4 359.0 762.8 358.0 763.8 355.0 763.5 349.0 765.0 343.0 770.7 338.5 771.8 319.0 772.4 313.0 773.9 289.0 771.2 265.0 766.7 241.0 761.0 220.0 754.5 199.0 746.4 181.0 737.6 163.1 726.8 151.0 717.7 139.0 706.0ZM288.1 648.8 289.0 646.9 298.0 640.1 316.0 634.8 349.0 629.2 361.0 630.4 451.0 645.1 640.0 681.5 793.0 703.7 877.0 719.5 1003.0 759.7 1027.0 770.2 1048.0 776.7 1099.0 779.1 1156.0 779.8 1156.0 836.8 1139.5 837.8 1114.9 837.8 1096.0 836.5 1077.3 837.8 1055.9 837.8 1030.0 836.6 992.6 837.8 970.0 836.5 950.3 837.8 926.9 837.8 904.0 836.6 867.5 837.8 844.0 836.5 824.6 837.8 796.3 837.8 775.0 836.5 745.0 837.6 715.0 836.3 685.0 837.5 649.0 836.3 619.0 837.1 589.0 836.2 556.0 837.3 523.0 836.0 479.0 837.8 454.0 835.1 448.0 833.6 439.0 829.5 421.0 816.2 418.0 815.2 412.0 815.0 397.0 817.7 391.0 817.5 385.0 814.5 379.0 808.9 365.8 792.8 373.0 792.5 376.0 795.0 379.0 795.3 382.0 797.7 386.7 798.8 388.0 800.2 392.4 801.8 394.0 803.5 398.2 804.8 400.0 806.8 403.7 807.8 406.0 810.3 409.4 810.8 412.0 813.6 418.0 813.5 424.0 807.7 425.8 804.8 425.2 795.8 421.0 791.1 402.7 780.8 397.0 775.0 388.0 773.1 373.0 762.3 359.3 753.8 353.6 744.8 343.0 724.3 328.0 705.8 307.0 696.5 294.6 687.8 291.3 681.8 288.0 672.8 287.1 660.8ZM363.1 789.8 364.3 789.8 364.0 790.8Z"/>
<path fill="#467d7e" fill-rule="evenodd" d="M139.0 638.7 141.2 630.8 145.0 621.8 154.6 606.8 166.1 594.8 182.8 582.8 330.5 582.8 346.0 590.7 382.0 612.0 394.0 616.2 409.0 619.0 424.0 620.2 442.0 620.4 535.0 616.5 571.0 617.3 625.0 622.4 751.0 640.0 778.0 642.5 799.0 643.2 817.0 642.3 832.0 639.9 847.0 635.5 862.0 629.1 877.0 620.6 892.0 610.2 907.1 597.8 923.0 582.8 1156.0 582.8 1156.0 767.5 1099.0 766.8 1051.0 764.5 1033.0 759.0 1009.0 748.4 880.0 707.5 793.0 691.1 640.0 669.0 541.0 650.3 454.0 632.9 422.1 627.8 418.0 626.4 403.5 624.8 400.0 623.3 391.0 622.7 382.0 620.6 349.0 616.8 313.0 622.8 292.0 628.8 280.0 638.2 278.4 642.8 280.2 648.8 279.4 660.8 280.0 672.8 284.0 684.8 287.1 690.8 289.4 693.8 304.0 704.0 322.6 711.8 337.2 729.8 351.1 756.8 355.0 762.0 358.6 762.8 349.0 764.5 343.0 769.8 334.0 771.0 289.0 764.0 265.0 758.3 244.0 752.2 226.0 745.9 211.0 739.6 196.0 732.0 182.6 723.8 170.6 714.8 160.9 705.8 153.1 696.8 145.5 684.8 141.5 675.8 139.0 667.2ZM288.3 648.8 289.0 647.3 298.0 640.5 316.0 635.2 349.0 629.5 361.0 630.7 451.0 645.5 640.0 681.9 793.0 704.1 877.0 719.9 1003.0 760.0 1027.0 770.5 1048.0 777.0 1099.0 779.5 1156.0 780.1 1156.0 833.3 1126.0 834.4 1096.0 832.8 1072.0 834.3 1030.0 833.2 997.0 834.2 970.0 832.8 940.0 834.4 901.0 833.1 868.0 834.2 844.0 832.8 811.0 834.5 775.0 832.9 742.0 833.7 715.0 832.5 685.0 833.4 649.0 832.2 619.0 832.8 589.0 831.8 556.0 832.7 520.0 831.4 481.0 832.9 466.0 832.2 454.0 830.5 448.0 828.7 441.9 825.8 422.1 810.8 424.0 809.9 425.1 807.8 426.4 801.8 425.5 795.8 421.0 790.7 403.0 780.5 397.0 774.5 388.0 772.8 373.0 762.1 359.7 753.8 353.9 744.8 343.0 723.9 328.0 705.5 307.0 696.3 294.9 687.8 291.5 681.8 288.3 672.8 287.3 660.8ZM375.1 795.8 379.0 795.7 382.0 798.5 385.0 798.5 388.0 801.3 391.6 801.8 394.0 804.4 397.4 804.8 400.0 807.7 403.0 807.9 400.0 808.6 391.0 806.7 385.0 803.7Z"/>
<path fill="#46827e" fill-rule="evenodd" d="M153.7 642.8 155.6 633.8 158.8 624.8 163.6 615.8 169.0 608.3 175.9 600.8 182.7 594.8 191.2 588.8 202.0 582.8 322.1 582.8 343.0 592.4 373.0 610.2 382.0 614.8 394.5 618.8 412.0 621.6 430.0 622.6 451.0 622.7 538.0 619.9 571.0 621.3 625.0 627.3 754.0 647.2 784.0 650.4 808.0 651.5 826.0 650.4 841.0 647.6 856.0 642.7 871.0 635.7 888.9 624.8 904.0 613.6 919.0 600.6 936.8 582.8 1156.0 582.8 1156.0 767.1 1099.0 766.5 1051.0 764.1 1033.0 758.6 1009.0 748.1 880.0 707.1 793.0 690.8 640.0 668.7 541.0 650.0 454.0 632.4 442.5 630.8 439.0 629.5 424.0 627.8 421.0 626.1 406.0 624.8 403.0 622.8 391.0 622.4 382.0 619.9 349.0 616.5 313.0 622.5 292.0 628.5 280.0 637.7 278.6 639.8 278.1 642.8 280.0 648.8 279.2 660.8 279.8 672.8 283.7 684.8 286.8 690.8 289.1 693.8 304.0 704.2 322.3 711.8 337.0 729.9 350.7 756.8 355.0 762.7 358.2 762.8 349.0 764.0 343.0 769.0 331.0 766.1 289.0 757.5 253.0 746.8 223.0 734.9 211.0 728.8 197.8 720.8 185.8 711.8 176.2 702.8 168.5 693.8 162.5 684.8 158.1 675.8 154.4 663.8 153.1 651.8ZM288.5 648.8 298.0 640.9 316.0 635.5 349.0 629.9 361.0 631.1 451.0 645.8 640.0 682.2 793.0 704.4 877.0 720.2 1003.0 760.4 1027.0 770.9 1048.0 777.3 1099.0 779.8 1156.0 780.5 1156.0 829.8 1123.0 830.6 1096.0 829.1 1072.0 830.6 1024.0 829.7 997.0 830.5 970.0 829.1 946.0 830.6 898.0 829.6 871.0 830.5 844.0 829.2 814.0 830.7 772.0 829.2 742.0 829.8 715.0 828.5 685.0 829.3 646.0 828.0 619.0 828.4 589.0 827.5 556.0 828.1 517.0 826.7 475.0 828.0 454.0 826.2 444.9 822.8 427.0 809.8 425.8 795.8 424.0 792.9 421.0 790.3 403.0 780.1 397.0 774.0 388.0 772.6 373.0 761.8 360.0 753.8 354.2 744.8 343.2 723.8 328.0 705.2 307.0 696.0 295.2 687.8 291.8 681.8 288.5 672.8 287.5 660.8Z"/>
<path fill="#47877f" fill-rule="evenodd" d="M185.0 606.8 193.0 599.2 202.0 592.7 211.0 587.7 222.5 582.8 311.5 582.8 325.0 587.5 340.0 594.1 373.0 613.1 385.8 618.8 376.0 619.4 370.9 618.8 367.0 617.4 349.0 616.1 313.0 622.1 292.0 628.1 280.4 636.8 278.2 639.8 277.7 642.8 279.7 648.8 279.0 660.8 279.6 672.8 283.5 684.8 286.0 689.8 289.0 694.1 304.0 704.4 322.0 711.8 337.0 730.4 345.4 747.8 349.3 753.8 350.3 756.8 353.0 759.8 353.8 762.8 349.0 763.5 346.0 766.0 343.3 765.8 331.0 761.9 292.0 752.4 265.0 743.6 241.0 734.2 223.0 725.4 208.0 716.2 195.0 705.8 183.6 693.8 175.6 681.8 170.3 669.8 167.5 657.8 167.6 642.8 170.4 630.8 176.0 618.8ZM1156.0 766.8 1099.0 766.1 1051.0 763.8 1033.0 758.3 1009.0 747.7 880.0 706.8 793.0 690.2 640.0 668.3 541.0 649.7 460.7 633.8 457.0 632.4 444.6 630.8 439.0 628.8 426.2 627.8 424.0 625.1 407.9 624.8 409.0 623.5 448.0 625.0 532.0 623.3 565.0 624.7 622.0 631.8 721.0 648.7 766.0 655.6 799.0 659.1 823.0 659.6 838.0 657.9 853.0 654.1 868.0 648.2 886.0 638.6 902.1 627.8 919.0 614.3 934.0 600.2 950.3 582.8 1156.0 582.8ZM389.5 621.8 391.0 620.3 398.0 621.8ZM288.7 648.8 298.0 641.2 316.0 635.9 349.0 630.2 361.0 631.4 451.0 646.1 640.0 682.5 793.0 704.7 877.0 720.5 1003.0 760.7 1027.0 771.2 1048.0 777.7 1099.0 780.1 1156.0 780.8 1156.0 826.3 1120.0 826.7 1096.0 825.2 1075.0 826.7 1021.0 825.9 994.0 826.7 970.0 825.3 949.0 826.7 895.0 825.8 868.0 826.7 844.0 825.4 817.0 826.8 769.0 825.3 742.0 825.8 718.0 824.5 694.0 825.1 592.0 823.0 544.0 823.2 514.0 821.9 469.0 823.1 454.0 821.9 445.0 818.3 427.0 805.6 427.3 801.8 426.2 795.8 424.6 792.8 421.0 789.9 403.0 779.7 397.0 773.5 388.0 772.3 373.0 761.5 360.3 753.8 354.4 744.8 343.5 723.8 328.8 705.8 325.0 703.3 307.0 695.7 295.5 687.8 292.0 681.8 288.7 672.8 287.7 660.8Z"/>
<path fill="#488c80" fill-rule="evenodd" d="M199.0 606.8 208.0 599.3 217.0 593.6 229.0 588.1 241.0 584.4 248.4 582.8 294.8 582.8 313.0 587.0 331.0 593.3 349.0 601.9 373.0 615.8 370.0 616.7 349.0 615.8 310.0 622.5 292.0 627.7 279.9 636.8 277.9 639.8 277.4 642.8 279.4 648.8 278.8 660.8 279.4 672.8 283.3 684.8 286.3 690.8 289.0 694.4 304.0 704.7 322.0 712.1 337.0 730.8 344.9 747.8 349.0 753.8 349.9 756.8 352.6 759.8 352.3 762.8 346.0 763.2 331.0 757.7 298.0 748.7 259.0 734.3 241.0 726.2 225.7 717.8 212.8 708.8 202.7 699.8 192.5 687.8 185.6 675.8 181.4 663.8 179.7 651.8 180.7 639.8 184.3 627.8 191.2 615.8ZM1156.0 766.5 1099.0 765.8 1051.0 763.5 1033.0 757.9 1009.0 747.4 886.0 708.1 874.0 705.1 793.0 689.7 640.0 668.0 477.7 636.8 475.0 635.6 463.0 633.9 460.0 632.4 446.5 630.8 445.0 628.6 428.7 627.8 430.0 626.8 478.0 627.4 529.0 626.6 562.0 628.3 619.0 636.2 718.0 654.3 772.0 663.2 808.0 667.5 832.0 667.8 847.0 665.6 863.1 660.8 880.0 653.2 898.1 642.8 915.1 630.8 931.0 617.4 946.0 602.6 963.6 582.8 1156.0 582.8ZM373.0 618.8 376.0 617.4 379.1 618.8ZM288.9 648.8 298.0 641.6 316.0 636.2 349.0 630.5 361.0 631.7 451.0 646.5 640.0 682.9 793.0 705.1 874.0 720.3 1003.0 761.1 1027.0 771.6 1048.0 778.0 1099.0 780.5 1156.0 781.2 1156.0 822.5 1120.0 822.7 1096.0 821.2 1075.0 822.7 1018.0 821.9 994.0 822.6 970.0 821.3 949.0 822.7 910.0 822.6 892.0 821.8 868.0 822.7 844.0 821.4 820.0 822.7 784.0 822.3 766.0 821.2 742.0 821.6 718.0 820.2 697.0 820.8 595.0 818.3 538.0 818.1 514.0 816.8 466.0 818.1 454.0 817.4 448.0 815.1 430.0 803.2 427.0 798.1 425.3 792.8 421.0 789.2 403.0 779.3 397.0 773.0 388.0 772.1 373.0 761.3 360.7 753.8 354.7 744.8 343.7 723.8 329.1 705.8 325.0 703.1 307.0 695.5 295.9 687.8 292.2 681.8 288.9 672.8 287.9 660.8Z"/>
<path fill="#489280" fill-rule="evenodd" d="M209.3 609.8 223.0 599.4 231.8 594.8 241.0 591.2 259.0 587.0 280.0 585.8 301.0 588.0 322.0 593.4 343.0 601.9 368.2 615.8 361.0 616.4 349.0 615.0 313.0 621.4 292.0 627.4 279.5 636.8 277.5 639.8 277.1 642.8 279.1 648.8 278.5 663.8 279.1 672.8 283.1 684.8 286.1 690.8 289.0 694.7 304.0 704.9 322.0 712.4 337.0 731.3 341.6 741.8 343.8 744.8 344.3 747.8 346.0 749.6 349.5 756.8 352.3 759.8 352.0 761.2 349.0 761.0 334.0 754.6 293.3 741.8 259.0 727.3 244.0 719.9 232.0 712.8 222.2 705.8 212.3 696.8 204.6 687.8 197.3 675.8 193.0 663.8 191.3 651.8 192.4 639.8 195.0 630.8 201.6 618.8ZM1156.0 766.1 1099.0 765.5 1051.0 763.1 1033.0 757.6 1009.0 747.0 877.0 705.3 847.0 699.9 841.0 698.2 832.0 697.1 826.0 695.2 814.4 693.8 811.0 692.4 802.0 691.5 793.0 689.1 781.0 688.1 775.0 686.5 760.0 685.1 754.0 683.5 739.0 682.1 733.0 680.5 721.0 679.5 712.0 677.6 640.0 667.7 494.5 639.8 490.0 638.3 481.0 637.1 475.0 634.9 464.2 633.8 463.0 632.1 460.0 631.3 448.8 630.8 451.0 629.4 526.0 629.8 544.0 630.5 562.0 632.2 616.0 640.5 706.0 658.0 778.0 670.7 814.0 675.6 826.0 676.4 838.0 676.2 853.0 673.8 871.0 668.0 892.0 657.9 912.0 645.8 928.0 633.9 943.0 620.5 959.0 603.8 976.8 582.8 1156.0 582.8ZM289.3 648.8 298.0 642.0 316.0 636.5 349.0 630.9 361.0 632.1 451.0 646.8 640.0 683.2 793.0 705.4 871.0 720.0 883.0 723.1 1003.0 761.4 1027.0 772.0 1048.0 778.4 1099.0 780.8 1156.0 781.5 1156.0 818.1 1120.0 818.1 1096.0 816.9 1075.0 818.1 1015.0 817.5 994.0 818.1 973.0 817.0 949.0 818.2 910.0 818.2 892.0 817.5 868.0 818.2 847.0 817.1 823.0 818.2 787.0 818.0 721.0 815.7 697.0 816.1 595.0 813.3 538.0 812.7 511.0 811.3 466.0 812.7 454.0 811.8 448.0 809.3 430.0 799.2 427.0 796.6 426.1 792.8 421.0 788.5 405.8 780.8 401.7 777.8 399.9 774.8 397.0 772.5 391.0 771.4 388.0 771.8 379.0 764.9 361.0 753.8 354.9 744.8 344.0 723.8 329.4 705.8 325.0 702.9 307.0 695.2 295.0 686.4 292.0 680.7 289.0 671.8 288.1 660.8Z"/>
<path fill="#4a9881" fill-rule="evenodd" d="M1156.0 765.8 1099.0 765.1 1051.0 762.8 1033.0 757.2 1009.0 746.7 877.0 704.6 864.0 702.8 859.0 701.0 848.2 699.8 844.0 697.9 832.1 696.8 829.0 695.0 816.3 693.8 814.0 692.2 802.0 691.1 796.0 688.8 781.0 687.8 778.0 686.2 760.0 684.8 754.0 682.8 739.5 681.8 736.0 680.3 721.0 679.1 715.0 677.3 703.0 676.5 694.0 674.3 682.0 673.5 673.0 671.4 661.0 670.5 652.0 668.5 640.0 667.3 634.0 665.6 621.3 663.8 514.0 643.3 508.0 641.4 496.4 639.8 493.0 638.1 481.1 636.8 478.0 634.5 466.0 633.8 469.0 632.2 526.0 633.1 559.0 635.7 610.0 644.2 694.0 661.5 787.8 678.8 823.0 684.1 844.0 684.4 862.0 680.9 880.0 674.4 904.0 662.7 925.0 649.6 940.0 638.0 955.0 623.9 970.5 606.8 989.9 582.8 1156.0 582.8ZM222.3 609.8 236.0 600.8 251.0 594.8 268.0 591.3 286.0 590.6 304.0 592.5 325.0 597.8 343.0 604.8 363.7 615.8 358.0 615.8 355.0 614.7 349.0 614.2 343.8 615.8 313.0 621.1 292.0 627.0 279.0 636.8 277.2 639.8 276.7 642.8 278.8 648.8 278.3 663.8 278.9 672.8 282.7 684.8 285.7 690.8 289.0 695.0 301.0 703.4 307.0 706.7 322.0 712.7 337.0 731.8 338.4 735.8 340.5 738.8 341.2 741.8 343.5 744.8 343.8 747.8 346.3 750.8 346.0 755.6 334.0 750.6 295.0 737.1 259.8 720.8 247.0 713.9 235.0 706.1 226.0 698.8 218.2 690.8 211.6 681.8 205.6 669.8 203.0 660.8 202.1 648.8 204.1 636.8 207.7 627.8 213.5 618.8ZM289.0 651.8 289.8 648.8 298.0 642.4 316.0 636.9 349.0 631.2 358.0 632.1 451.0 647.1 640.0 683.5 787.0 704.8 880.0 722.5 1003.0 761.8 1027.0 772.4 1048.0 778.8 1099.0 781.3 1156.0 781.9 1156.0 813.2 1099.0 812.2 1075.0 813.1 1036.0 813.3 1012.0 812.8 994.0 813.2 973.0 812.4 946.0 813.2 868.0 813.3 847.0 812.4 823.0 813.3 787.0 813.1 763.0 811.9 694.0 810.9 538.0 806.7 511.0 805.3 466.0 806.4 457.0 805.8 451.0 804.2 427.0 794.0 426.8 792.8 421.0 787.7 418.0 787.1 415.0 784.6 412.0 783.9 409.0 781.5 403.0 778.5 400.8 774.8 397.0 772.0 391.0 770.8 388.0 771.0 370.0 758.5 361.7 753.8 355.0 744.4 344.2 723.8 329.6 705.8 325.0 702.6 307.0 695.0 295.0 686.0 289.4 672.8 288.3 660.8Z"/>
<path fill="#4e9f80" fill-rule="evenodd" d="M818.8 693.8 820.0 691.0 832.0 692.5 844.0 692.9 856.0 691.5 868.0 688.5 898.0 676.8 925.0 662.7 943.0 650.2 961.0 633.9 979.0 613.6 1003.0 582.8 1156.0 582.8 1156.0 765.4 1099.0 764.8 1051.0 762.4 1033.0 756.9 1009.0 746.3 892.0 709.0 889.0 707.4 877.0 704.0 865.8 702.8 862.0 700.8 850.1 699.8 847.0 697.5 834.0 696.8 832.0 694.2ZM231.5 612.8 244.0 604.7 256.0 599.7 271.0 596.3 286.0 595.1 301.0 596.0 319.0 599.4 337.0 605.3 353.6 612.8 346.0 614.0 341.9 615.8 310.0 621.3 292.0 626.7 289.0 628.3 278.6 636.8 276.8 639.8 276.4 642.8 278.5 648.8 278.1 663.8 279.2 675.8 285.3 690.8 289.0 695.3 301.0 703.8 307.0 707.1 322.0 713.0 337.0 732.2 338.0 735.8 340.3 738.8 340.7 741.8 343.3 744.8 343.0 750.1 298.0 733.2 262.0 715.0 251.1 708.8 241.0 701.9 232.0 694.1 226.2 687.8 219.9 678.8 215.6 669.8 212.5 657.8 212.2 648.8 214.5 636.8 218.6 627.8 225.2 618.8ZM289.3 651.8 290.3 648.8 298.0 642.7 316.0 637.2 349.0 631.5 358.0 632.4 451.0 647.5 640.0 683.9 787.0 705.1 880.0 722.9 1003.0 762.1 1027.0 772.8 1045.0 778.6 1099.0 781.8 1156.0 782.2 1156.0 807.9 1099.0 807.3 1030.0 808.0 973.0 807.4 910.0 808.0 787.0 807.8 658.0 804.3 508.0 798.7 466.0 798.9 454.0 797.8 433.0 791.9 424.0 788.7 421.0 786.9 418.0 786.4 406.0 778.9 403.0 778.1 401.7 774.8 397.0 771.2 394.0 770.4 388.0 770.3 385.0 769.1 379.0 764.0 362.4 753.8 358.0 749.0 344.5 723.8 329.9 705.8 325.0 702.3 307.0 694.7 297.0 687.8 295.0 685.6 289.7 672.8 288.5 660.8ZM482.9 636.8 484.0 635.2 526.0 636.3 544.0 637.5 560.7 639.8 610.0 649.0 706.0 669.5 818.5 690.8 802.2 690.8 802.0 687.8 784.0 687.9 781.0 685.2 763.0 684.8 760.0 682.5 742.0 681.8 739.0 679.7 721.0 678.8 718.0 676.8 700.5 675.8 697.0 673.9 682.0 673.1 676.0 671.0 661.0 670.1 655.0 668.1 640.0 667.0 634.0 665.0 623.2 663.8 619.0 662.2 607.1 660.8 604.0 659.4 591.3 657.8 586.0 656.1 577.0 655.1 571.0 653.3 562.0 652.3 556.0 650.5 547.0 649.5 541.0 647.7 528.4 645.8 526.0 644.6 514.0 643.0 508.0 640.7 498.0 639.8 496.0 637.6ZM344.4 750.8 346.0 750.7 346.0 751.6Z"/>
<path fill="#52a67f" fill-rule="evenodd" d="M858.3 699.8 880.0 693.9 911.3 681.8 931.0 672.4 949.0 660.8 963.0 648.8 976.0 634.9 991.0 616.5 1016.2 582.8 1156.0 582.8 1156.0 765.1 1099.0 764.5 1054.0 762.3 1048.0 761.3 1033.8 756.8 1012.0 746.9 902.0 711.8 898.0 710.0 892.5 708.8 889.0 706.8 883.1 705.8 880.0 703.8 867.7 702.8 865.0 700.1ZM241.0 615.2 250.0 609.3 262.0 604.2 274.0 601.1 289.0 599.6 304.0 600.3 319.0 602.9 334.0 607.2 348.1 612.8 343.0 613.8 340.0 615.8 310.0 620.9 292.0 626.4 289.0 627.9 278.1 636.8 276.4 639.8 276.0 642.8 276.5 645.8 278.2 648.8 277.9 663.8 278.9 675.8 284.9 690.8 292.0 698.1 301.0 704.2 307.0 707.4 312.0 708.8 322.0 713.3 337.0 732.7 337.7 735.8 340.0 738.8 340.0 744.6 307.0 732.1 284.6 720.8 259.0 706.3 250.0 700.4 241.9 693.8 233.6 684.8 227.7 675.8 223.9 666.8 222.0 657.8 221.8 648.8 223.5 639.8 227.3 630.8 233.8 621.8ZM289.6 651.8 290.9 648.8 298.0 643.1 316.0 637.6 349.0 631.9 358.0 632.7 451.0 647.8 646.0 685.3 789.1 705.8 880.0 723.2 1003.0 762.5 1027.0 773.2 1045.0 779.1 1099.0 782.2 1156.0 782.6 1156.0 802.4 784.0 802.0 652.0 797.9 508.0 791.4 451.0 789.8 439.0 788.4 430.0 786.5 415.0 780.5 403.0 776.7 402.6 774.8 397.0 770.2 385.0 768.9 379.0 763.5 363.2 753.8 358.0 748.5 356.7 744.8 355.0 743.2 346.8 726.8 330.2 705.8 325.0 702.0 307.0 694.4 297.3 687.8 295.0 685.1 289.9 672.8 288.8 660.8ZM500.5 639.8 502.0 638.6 526.0 639.5 553.0 642.4 610.0 653.9 679.8 669.8 661.1 669.8 658.0 667.3 640.9 666.8 640.0 665.5 637.0 664.6 625.0 663.8 622.0 661.8 610.0 661.0 607.0 659.2 595.0 658.1 589.0 655.8 577.1 654.8 574.0 653.0 562.0 651.9 559.0 650.4 547.0 649.1 541.0 646.9 530.0 645.8 529.0 644.6 526.0 643.7 514.8 642.8 514.0 640.9 511.0 640.2ZM682.0 672.8 685.0 670.9 694.6 672.8ZM703.0 675.8 706.0 675.1 709.5 675.8ZM340.6 744.8 343.0 744.7 343.0 745.7Z"/>
<path fill="#59ad7c" fill-rule="evenodd" d="M880.9 702.8 917.5 690.8 933.2 684.8 949.0 676.8 961.0 668.3 973.0 657.1 985.0 643.4 1029.5 582.8 1156.0 582.8 1156.0 764.7 1099.0 764.1 1069.0 762.8 1048.0 761.0 1034.8 756.8 1012.0 746.4 937.0 722.1 931.0 720.8 928.0 719.1 922.0 717.9 919.0 716.1 912.5 714.8 910.0 713.2 903.1 711.8 901.0 710.0 893.7 708.8 892.0 706.8 885.0 705.8 883.0 703.0ZM252.6 615.8 262.0 610.7 271.0 607.4 280.0 605.3 292.0 604.0 304.0 604.2 316.0 605.8 328.0 608.5 341.3 612.8 340.0 613.2 338.1 615.8 325.0 617.4 320.8 618.8 310.0 620.4 289.0 627.3 277.7 636.8 275.9 639.8 275.6 642.8 278.2 651.8 277.7 663.8 278.6 675.8 284.4 690.8 292.0 698.5 294.9 699.8 301.0 704.6 322.0 713.6 334.6 729.8 337.0 734.4 337.0 739.0 312.9 729.8 294.8 720.8 256.0 697.0 248.5 690.8 240.5 681.8 235.2 672.8 232.0 663.8 230.7 654.8 231.4 645.8 234.2 636.8 238.0 630.0 245.0 621.8ZM289.9 651.8 291.4 648.8 298.0 643.6 316.0 637.9 349.0 632.2 361.0 633.4 448.0 647.6 646.0 685.9 721.0 696.3 730.0 698.2 742.0 699.3 751.0 701.3 766.0 702.8 772.0 704.4 787.0 705.8 793.0 707.5 804.2 708.8 808.0 710.4 820.3 711.8 826.0 713.9 836.1 714.8 841.0 716.8 850.0 717.4 856.0 719.5 868.0 720.8 871.0 722.1 880.0 723.5 883.0 725.1 889.0 726.4 967.0 751.9 1003.0 762.8 1024.0 772.5 1045.0 779.6 1072.0 780.8 1075.0 781.7 1090.0 782.5 1156.0 782.9 1156.0 797.0 805.0 796.5 646.0 790.9 469.0 781.3 442.0 782.1 433.0 781.3 412.0 774.1 400.0 771.1 397.0 769.2 388.0 768.3 382.0 765.8 376.0 760.6 373.0 759.9 367.0 754.8 363.9 753.8 358.0 748.0 357.4 744.8 355.0 742.5 353.8 738.8 352.0 737.1 347.3 726.8 330.4 705.8 325.0 701.7 307.0 694.2 297.7 687.8 295.0 684.7 290.2 672.8 289.0 660.8ZM516.7 642.8 517.0 642.2 527.0 642.8ZM531.7 645.8 532.0 644.0 538.0 643.8 553.0 646.2 579.1 651.8 565.0 652.1 563.4 651.8 562.0 649.5 547.1 648.8 544.0 646.3ZM578.9 654.8 580.0 652.0 592.4 654.8ZM595.0 657.8 598.0 656.1 605.7 657.8ZM611.9 660.8 613.0 659.5 618.5 660.8ZM627.7 663.8 628.0 663.2 630.4 663.8Z"/>
<path fill="#60b479" fill-rule="evenodd" d="M895.0 708.0 934.0 698.4 946.0 694.7 958.0 689.2 970.0 680.8 979.0 672.0 991.0 657.4 1043.1 582.8 1156.0 582.8 1156.0 764.4 1099.0 763.8 1048.0 760.6 1035.8 756.8 1006.0 743.7 988.7 738.8 985.0 736.9 979.3 735.8 976.0 733.9 970.0 732.9 967.0 730.9 960.6 729.8 958.0 728.1 951.3 726.8 949.0 725.2 943.0 724.2 940.0 722.2 932.2 720.8 931.0 719.5 923.2 717.8 922.0 716.5 919.0 715.4 914.1 714.8 913.0 713.4 910.0 712.4 904.8 711.8 904.0 710.5 901.0 709.0 894.9 708.8ZM260.7 618.8 268.0 614.9 277.0 611.5 286.0 609.4 298.0 608.2 310.0 608.6 322.0 610.4 334.0 613.3 336.0 615.8 325.0 616.7 319.0 618.8 307.0 620.6 305.2 621.8 289.0 626.7 277.3 636.8 275.5 639.8 275.7 645.8 277.6 648.8 278.0 651.8 277.5 663.8 278.3 675.8 284.0 690.8 292.0 699.0 298.0 702.2 304.0 706.9 310.8 708.8 313.0 710.6 316.0 711.1 322.0 714.0 328.9 723.8 334.3 729.8 334.0 733.4 313.0 725.1 298.0 717.1 261.9 693.8 254.7 687.8 247.1 678.8 243.7 672.8 240.5 663.8 239.3 654.8 240.3 645.8 243.7 636.8 247.5 630.8 252.9 624.8ZM290.2 651.8 291.9 648.8 298.0 644.0 319.0 637.7 349.0 632.5 376.0 636.1 451.0 648.5 643.0 685.9 679.0 690.5 685.0 692.2 700.0 693.5 706.0 695.3 721.0 696.6 730.0 698.8 742.0 699.7 748.0 701.5 763.5 702.8 769.0 704.6 784.0 705.8 790.0 707.8 802.4 708.8 805.0 710.6 818.0 711.8 820.0 713.4 823.0 714.2 833.1 714.8 838.0 717.2 850.0 717.7 853.0 719.9 866.2 720.8 868.0 722.2 879.5 723.8 883.0 725.7 889.0 726.7 892.0 728.5 898.0 729.7 901.0 731.3 916.0 735.4 919.0 737.0 926.6 738.8 949.0 746.5 954.7 747.8 958.0 749.5 964.0 750.7 967.0 752.4 973.5 753.8 985.0 758.2 992.2 759.8 994.0 761.1 1001.8 762.8 1015.5 768.8 1018.0 770.6 1022.4 771.8 1024.0 773.3 1030.4 774.8 1033.0 776.5 1039.6 777.8 1042.0 779.5 1063.0 780.8 1075.0 782.6 1156.0 783.3 1156.0 791.7 799.0 790.3 646.0 783.5 478.0 772.0 463.0 771.6 442.0 773.3 433.0 773.0 412.0 767.8 391.0 764.6 382.0 762.4 373.0 757.4 355.0 741.9 354.5 738.8 352.0 736.4 351.1 732.8 349.0 730.8 347.8 726.8 341.0 717.8 328.0 703.1 307.0 693.9 298.1 687.8 295.0 684.3 290.5 672.8 289.4 660.8Z"/>
<path fill="#68ba74" fill-rule="evenodd" d="M916.0 714.4 946.0 712.2 958.0 710.3 970.0 705.7 979.0 699.0 985.0 692.5 994.0 680.1 1030.2 621.8 1057.1 582.8 1156.0 582.8 1156.0 764.0 1099.0 763.5 1048.0 760.3 1045.0 758.5 1037.0 756.8 1030.0 754.0 1027.0 751.9 1022.8 750.8 1021.0 749.0 1016.5 747.8 1015.0 746.3 1008.6 744.8 1006.0 742.8 999.3 741.8 997.0 739.9 989.9 738.8 988.0 736.8 980.8 735.8 979.0 734.0 971.5 732.8 970.0 731.2 962.4 729.8 961.0 728.3 958.0 727.3 953.2 726.8 952.0 725.5 949.0 724.3 942.8 723.8 940.0 721.2 933.4 720.8 931.0 718.2 924.6 717.8 922.0 714.9ZM271.0 620.3 283.0 615.3 298.0 612.5 313.0 612.6 331.9 615.8 319.0 617.0 316.8 618.8 307.0 619.9 304.2 621.8 295.0 623.7 293.8 624.8 289.0 626.1 276.5 636.8 275.1 639.8 275.2 645.8 277.2 648.8 277.8 651.8 277.3 663.8 278.0 675.8 283.6 690.8 295.0 701.9 298.0 702.5 304.0 707.8 310.0 708.7 313.0 711.1 316.0 711.3 319.0 713.7 322.0 714.3 328.3 723.8 328.0 726.5 314.5 720.8 304.0 715.1 283.0 699.8 267.7 690.8 257.7 681.8 251.8 672.8 249.4 666.8 247.8 657.8 248.4 648.8 250.1 642.8 253.1 636.8 257.6 630.8 264.1 624.8ZM290.5 651.8 292.0 649.2 298.0 644.4 319.0 638.0 349.0 632.9 376.0 636.5 450.9 648.8 562.0 670.9 589.9 675.8 595.0 677.3 605.8 678.8 610.0 680.3 621.6 681.8 625.0 683.2 637.7 684.8 643.0 686.6 658.0 687.8 664.0 689.8 678.5 690.8 685.0 692.9 699.4 693.8 703.0 695.6 719.7 696.8 724.0 698.8 740.1 699.8 745.0 702.0 760.4 702.8 763.0 704.5 766.0 705.2 779.0 705.8 784.0 707.9 793.4 708.8 844.0 721.8 856.0 723.2 865.0 722.9 877.6 723.8 880.0 725.7 887.5 726.8 892.0 729.1 897.0 729.8 901.0 731.9 906.3 732.8 910.0 734.7 916.2 735.8 919.0 737.7 925.0 738.7 928.0 740.5 934.7 741.8 937.0 743.4 944.2 744.8 946.0 746.3 952.0 747.3 955.0 749.2 962.9 750.8 967.0 753.0 972.0 753.8 976.0 755.9 981.2 756.8 985.0 758.9 991.2 759.8 994.0 761.9 1000.6 762.8 1003.0 764.7 1007.4 765.8 1009.0 767.4 1014.1 768.8 1018.0 771.2 1021.5 771.8 1024.0 774.1 1028.8 774.8 1030.0 776.2 1033.0 777.2 1038.0 777.8 1039.0 779.1 1042.0 780.3 1057.0 780.8 1060.0 783.5 1156.0 783.6 1156.0 786.2 1075.0 785.4 1054.0 784.3 1039.0 785.1 934.0 784.1 868.0 784.3 847.0 782.9 829.0 783.9 814.0 783.3 799.0 783.8 646.0 775.3 559.0 767.9 544.0 766.0 499.0 763.1 484.0 761.3 457.0 760.4 436.0 761.5 385.0 758.7 379.0 756.8 364.0 743.1 352.0 735.8 351.7 732.8 349.0 730.3 348.3 726.8 346.0 724.6 341.5 717.8 328.0 702.8 307.4 693.8 298.7 687.8 295.0 683.8 290.7 672.8 289.8 660.8ZM328.8 726.8 331.0 726.7 331.0 727.6Z"/>
<path fill="#72c26d" fill-rule="evenodd" d="M1071.6 582.8 1156.0 582.8 1156.0 763.6 1099.0 763.1 1081.0 761.3 1048.0 759.9 1045.0 757.7 1038.3 756.8 1036.0 754.8 1031.1 753.8 1027.0 751.2 1023.6 750.8 1021.0 748.2 1017.6 747.8 1015.0 745.1 1011.2 744.8 1009.0 742.5 1002.5 741.8 1000.0 739.1 997.0 738.8 1000.9 717.8 1005.0 702.8 1011.6 684.8 1019.6 666.8 1030.5 645.8 1042.9 624.8 1056.6 603.8ZM313.0 616.3 314.5 618.8 304.0 620.0 302.7 621.8 295.0 622.7 292.6 624.8 289.0 625.4 283.0 630.9 280.0 632.2 275.4 636.8 274.6 639.8 274.8 645.8 277.0 649.0 277.5 651.8 277.1 663.8 277.7 675.8 278.3 678.8 280.4 681.8 280.8 687.8 283.0 690.3 283.0 693.0 274.0 688.4 269.1 684.8 263.4 678.8 259.6 672.8 257.2 666.8 256.0 660.8 256.3 651.8 257.8 645.8 260.6 639.8 265.0 633.8 271.0 628.2 277.0 624.1 286.0 620.0 295.0 617.5 304.0 616.4ZM290.8 651.8 293.0 648.8 298.0 644.9 303.1 642.8 316.0 638.9 349.0 633.2 376.0 636.8 449.1 648.8 562.0 671.4 571.0 672.5 577.0 674.4 588.2 675.8 592.0 677.4 604.0 678.8 610.0 680.9 619.0 681.6 625.0 684.0 635.5 684.8 640.0 687.0 655.0 687.8 658.0 689.6 661.0 690.3 675.7 690.8 679.0 693.0 691.1 693.8 700.0 696.3 706.6 696.8 787.0 712.4 802.0 715.9 835.0 725.5 853.0 729.4 865.0 730.3 886.0 728.6 889.0 729.6 895.0 729.7 898.0 732.1 904.7 732.8 907.0 734.9 914.3 735.8 916.0 737.4 923.5 738.8 925.0 740.2 928.0 741.3 932.8 741.8 937.0 744.3 943.2 744.8 946.0 747.3 952.5 747.8 955.0 750.3 961.5 750.8 964.0 753.3 970.5 753.8 973.0 756.3 979.4 756.8 982.0 759.4 988.6 759.8 991.0 762.2 997.8 762.8 1000.0 765.2 1006.0 765.8 1009.0 768.8 1012.0 768.8 1012.0 770.1 1006.2 771.8 994.0 772.4 979.0 774.4 964.0 774.2 949.0 775.2 880.0 776.8 865.0 776.6 847.0 774.6 799.0 775.9 646.0 766.4 592.0 760.6 544.0 753.5 484.0 749.2 454.0 747.6 421.0 747.3 391.0 752.0 385.0 752.1 382.0 751.3 379.0 749.1 372.2 741.8 367.0 737.6 358.2 732.8 349.0 729.2 348.8 726.8 346.0 724.2 344.7 720.8 328.0 702.2 308.0 693.8 299.3 687.8 295.0 683.3 291.0 672.8 290.3 660.8ZM284.5 693.8 286.0 693.7 286.0 694.7ZM295.7 702.8 298.1 702.8 298.0 704.8ZM299.2 705.8 301.2 705.8 301.0 707.2ZM303.2 708.8 308.3 708.8 310.0 710.9 316.0 711.6 319.0 714.4 322.0 714.6 322.5 717.8 322.0 719.2 312.9 714.8Z"/>
<path fill="#7cc865" fill-rule="evenodd" d="M1086.9 582.8 1156.0 582.8 1156.0 763.3 1099.0 762.8 1096.0 761.5 1050.5 759.8 1048.0 757.5 1042.5 756.8 1039.7 753.8 1034.0 744.8 1029.9 735.8 1026.1 720.8 1025.7 705.8 1028.1 690.8 1033.7 672.8 1042.8 651.8 1054.3 630.8 1069.5 606.8ZM297.7 621.8 301.0 621.1 301.2 621.8ZM282.9 627.8 286.0 626.1 286.0 627.9ZM278.6 630.8 280.0 629.8 280.4 630.8ZM275.1 633.8 277.0 632.1 277.0 634.0ZM291.1 651.8 293.5 648.8 298.0 645.3 316.0 639.3 349.0 633.5 373.3 636.8 379.0 638.4 391.0 639.6 397.0 641.2 447.1 648.8 514.0 662.5 523.6 663.8 529.0 665.4 538.7 666.8 544.0 668.5 554.6 669.8 559.0 671.5 570.5 672.8 574.0 674.5 586.3 675.8 589.0 677.5 601.7 678.8 604.0 680.6 616.2 681.8 622.0 684.5 626.0 684.8 655.0 692.2 787.0 717.1 802.0 720.7 835.0 730.5 856.0 735.9 874.0 738.5 895.0 739.7 904.0 740.9 913.0 743.8 919.0 747.1 923.0 750.8 924.1 753.8 923.4 756.8 920.0 759.8 916.0 761.6 907.0 764.3 895.0 766.5 871.0 767.8 853.0 766.4 841.0 767.2 829.0 766.6 799.0 767.4 637.0 756.5 544.0 744.1 523.0 742.4 472.0 740.0 403.0 735.3 388.0 735.6 346.0 722.8 345.7 720.8 337.0 712.3 332.4 705.8 328.0 701.5 321.8 699.8 319.0 697.7 314.7 696.8 313.0 695.1 308.7 693.8 307.0 692.1 304.0 691.1 295.0 682.9 291.2 672.8ZM274.0 635.0 274.4 645.8 277.3 651.8 277.2 657.8 276.0 660.8 276.0 663.8 277.2 666.8 277.6 678.8 280.0 681.3 280.0 685.9 273.9 681.8 268.8 675.8 265.8 669.8 264.2 663.8 264.1 654.8 265.5 648.8 268.2 642.8Z"/>
<path fill="#8ace5a" fill-rule="evenodd" d="M1103.5 582.8 1156.0 582.8 1156.0 762.9 1117.0 762.8 1114.0 760.8 1081.4 759.8 1067.0 753.8 1059.1 747.8 1052.1 738.8 1047.0 726.8 1044.3 711.8 1044.6 696.8 1047.4 681.8 1053.4 663.8 1061.6 645.8 1073.5 624.8 1087.5 603.8ZM291.4 651.8 298.0 645.7 307.0 642.3 319.0 639.0 349.0 634.0 368.7 636.8 376.0 638.8 388.6 639.8 394.0 641.3 406.0 642.4 415.0 644.6 424.0 645.3 433.0 647.5 445.0 648.8 451.0 650.5 460.9 651.8 466.0 653.4 476.3 654.8 481.0 656.4 491.3 657.8 496.0 659.4 506.6 660.8 511.0 662.5 521.8 663.8 526.0 665.5 537.0 666.8 541.0 668.6 552.9 669.8 556.0 671.7 568.5 672.8 571.0 674.7 581.3 675.8 586.0 678.0 590.2 678.8 625.0 690.6 652.0 697.1 799.0 724.4 835.0 734.9 847.0 737.5 859.1 741.8 864.9 744.8 868.2 747.8 870.0 750.8 869.8 753.8 867.3 756.8 862.0 759.3 844.0 761.7 832.0 760.5 820.0 761.2 781.0 759.8 655.0 750.0 544.0 738.4 433.0 731.6 367.0 722.0 349.0 718.1 340.0 714.9 336.9 711.8 333.1 705.8 328.0 700.9 323.0 699.8 319.0 697.3 315.3 696.8 313.0 694.5 310.0 694.1 307.0 691.5 304.0 690.9 295.0 682.4 294.3 678.8 291.5 672.8ZM274.0 650.1 277.1 651.8 276.7 657.8 274.4 660.8 274.4 663.8 277.0 666.8 277.0 677.1 273.2 669.8 272.1 663.8 272.2 657.8Z"/>
<path fill="#96d34f" fill-rule="evenodd" d="M1121.8 582.8 1156.0 582.8 1156.0 756.4 1138.0 756.6 1117.0 754.8 1099.0 751.5 1088.1 747.8 1078.1 741.8 1072.0 735.6 1066.7 726.8 1063.0 714.8 1061.9 702.8 1063.2 687.8 1066.8 672.8 1073.7 654.8 1082.9 636.8 1093.0 620.5 1105.0 603.6ZM291.7 651.8 298.8 645.8 307.0 642.6 319.0 639.3 349.0 634.8 365.4 636.8 373.0 639.9 382.4 639.8 394.0 642.1 406.0 642.7 412.0 644.7 424.0 645.7 430.0 647.6 443.0 648.8 448.0 650.7 458.8 651.8 463.0 653.5 474.3 654.8 478.0 656.5 489.4 657.8 493.0 659.6 504.8 660.8 508.0 662.6 519.9 663.8 523.0 665.6 535.3 666.8 538.0 668.8 548.7 669.8 553.0 672.1 557.5 672.8 584.2 681.8 610.0 693.0 622.0 696.5 658.0 703.9 781.0 725.4 802.0 729.8 814.0 733.5 826.0 736.1 835.0 739.2 850.0 742.5 856.0 745.7 858.1 747.8 858.9 750.8 857.4 753.8 853.0 756.1 847.0 757.2 832.0 755.9 820.0 756.3 796.0 755.2 655.0 742.7 613.0 737.7 580.0 737.3 436.0 727.1 364.0 715.3 349.0 712.1 337.0 708.2 328.0 700.2 324.4 699.8 322.0 697.6 315.9 696.8 313.0 693.9 310.6 693.8 304.0 688.1 295.0 681.9 294.0 675.8 291.7 672.8Z"/>
<path fill="#a4d743" fill-rule="evenodd" d="M1142.9 582.8 1156.0 582.8 1156.0 745.3 1141.0 745.4 1126.0 743.8 1111.0 740.1 1101.0 735.8 1092.8 729.8 1087.0 722.4 1083.5 714.8 1081.0 702.8 1081.1 690.8 1083.9 675.8 1087.8 663.8 1094.5 648.8 1103.0 633.8 1114.0 617.5 1127.0 600.8ZM292.2 651.8 299.9 645.8 304.0 644.8 307.6 642.8 316.0 641.0 318.4 639.8 331.0 638.5 337.0 636.5 349.0 635.7 361.4 636.8 370.0 640.7 373.0 641.3 382.0 641.1 391.0 642.9 400.0 643.1 412.0 645.4 421.0 645.9 430.0 648.3 457.0 652.4 463.0 654.3 470.0 654.8 478.0 657.3 485.6 657.8 490.0 659.7 498.1 660.8 534.9 669.8 586.0 687.8 597.3 693.8 607.0 701.3 613.0 703.7 631.0 705.6 799.0 734.4 814.0 739.3 826.0 740.9 833.1 744.8 835.0 747.6 836.0 747.8 826.0 751.1 820.0 750.9 811.0 749.2 796.0 749.2 649.0 734.0 613.0 729.0 592.0 732.1 577.0 732.4 451.0 724.3 424.0 721.2 355.0 707.4 340.5 702.8 328.0 696.9 316.0 689.5 304.0 680.5 298.0 677.1 295.0 676.3 292.0 672.8 295.7 666.8 296.0 663.8 293.1 657.8ZM839.2 747.8 847.0 746.5 850.0 747.0 851.2 747.8 852.0 750.8 850.0 752.3 847.0 752.5 841.7 750.8Z"/>
<path fill="#b6db38" fill-rule="evenodd" d="M1156.0 595.6 1156.0 730.7 1144.0 730.4 1135.0 728.9 1126.0 726.2 1117.0 721.3 1111.0 715.9 1106.4 708.8 1104.2 702.8 1102.8 693.8 1103.1 684.8 1104.8 675.8 1108.5 663.8 1118.9 642.8 1135.0 619.4ZM299.3 648.8 301.0 645.8 307.0 644.7 309.0 642.8 316.0 641.9 320.4 639.8 334.0 638.8 338.1 636.8 354.7 636.8 370.0 642.3 382.0 642.5 388.0 643.9 403.0 644.8 424.0 647.9 484.0 660.1 532.0 673.6 586.0 693.8 592.0 697.5 597.1 702.8 601.9 714.8 602.1 717.8 600.8 720.8 595.0 725.2 589.0 727.0 577.0 727.6 532.0 726.2 451.0 720.2 430.0 718.0 415.0 715.1 355.0 700.9 343.8 696.8 332.1 690.8 316.0 680.7 307.7 672.8 299.4 654.8Z"/>
<path fill="#c5de2e" fill-rule="evenodd" d="M1156.0 630.3 1156.0 707.5 1147.0 705.0 1139.2 699.8 1136.7 696.8 1133.8 690.8 1132.4 681.8 1134.0 669.8 1138.4 657.8 1146.8 642.8ZM304.4 651.8 307.0 646.8 313.0 643.2 325.0 640.9 346.0 638.6 358.0 639.9 373.0 644.4 382.0 644.1 424.0 649.3 484.0 663.1 523.9 675.8 544.0 683.1 578.1 696.8 586.0 700.8 592.0 706.1 594.5 711.8 594.5 714.8 592.0 719.0 586.0 721.6 541.0 722.7 442.0 715.2 424.0 712.5 361.0 695.5 346.0 689.7 322.0 676.2 316.0 672.0 311.3 666.8 307.0 660.4 304.5 654.8Z"/>
<path fill="#d7e026" fill-rule="evenodd" d="M310.7 654.8 311.9 651.8 316.6 648.8 327.0 645.8 349.0 641.8 361.0 642.9 370.0 645.9 381.5 645.8 388.0 647.2 409.0 648.7 415.0 650.3 424.0 651.3 433.0 654.2 484.0 666.7 541.0 687.4 570.7 702.8 579.3 708.8 580.3 711.8 562.0 716.4 547.0 718.1 535.0 718.4 442.0 710.1 427.0 707.8 354.1 684.8 322.0 668.7 313.9 660.8Z"/>
<path fill="#e6e324" fill-rule="evenodd" d="M322.4 657.8 323.5 654.8 327.9 651.8 352.0 645.6 361.0 646.0 370.0 648.5 379.0 648.2 397.0 649.4 424.0 653.9 448.0 661.8 477.1 669.8 505.0 681.1 541.0 693.6 546.3 696.8 549.6 699.8 551.8 702.8 552.6 705.8 551.1 708.8 545.0 711.8 532.0 712.9 445.0 702.9 436.0 701.3 421.1 696.8 406.0 689.6 391.0 683.6 358.0 676.0 331.5 666.8 325.9 663.8 323.3 660.8Z"/>
<path fill="#f4e529" fill-rule="evenodd" d="M348.7 657.8 349.7 654.8 355.0 652.0 358.0 651.5 370.0 653.1 382.0 651.9 406.0 653.6 423.4 657.8 430.0 660.8 440.1 666.8 446.8 672.8 445.0 674.9 436.0 673.8 427.0 675.4 415.0 671.8 403.0 671.8 394.0 668.5 382.0 668.1 373.0 664.8 359.6 663.8 352.7 660.8Z"/></g>
<path d="M308.0 654.8 309.1 653.9 310.4 652.7 312.1 651.2 314.2 649.6 316.8 648.1 320.0 646.8 323.9 645.6 328.4 644.3 333.4 643.0 338.8 642.0 344.4 641.2 350.0 640.8 355.8 640.9 362.0 641.4 368.3 642.2 374.7 643.1 381.0 644.0 387.0 644.8 392.8 645.4 398.6 646.0 404.2 646.6 409.7 647.2 415.0 647.9 420.0 648.8 424.5 649.8 428.6 651.0 432.4 652.3 436.2 653.6 440.4 654.9 445.0 656.2 450.0 657.3 455.0 658.3 460.3 659.2 466.1 660.4 472.5 661.9 479.8 664.0 488.4 666.8 498.3 670.3 508.9 674.2 519.4 678.1 529.3 681.9 537.7 685.2 544.7 688.0 550.8 690.6 556.1 693.0 561.0 695.3 565.5 697.6 570.0 699.8 574.7 702.1 579.6 704.3 584.2 706.6 588.1 708.7 590.7 710.6 591.7 712.2 590.7 713.6 588.1 714.7 584.2 715.6 579.6 716.4 574.7 717.1 570.0 717.8 565.5 718.4 561.0 719.0 556.1 719.5 550.7 719.9 544.7 720.0 537.7 719.9 529.4 719.5 519.9 718.7 509.7 717.7 499.4 716.7 489.3 715.7 480.0 714.8 471.2 714.1 462.4 713.3 453.9 712.7 446.1 712.0 439.1 711.4 433.4 710.8 429.4 710.3 427.1 710.0 425.7 709.7 424.5 709.3 422.8 708.7 420.0 707.8 416.0 706.5 411.5 705.0 406.4 703.3 401.1 701.5 395.6 699.6 390.0 697.8 384.3 696.1 378.2 694.5 372.0 692.9 365.7 691.1 359.5 689.1 353.5 686.8 347.5 684.0 341.3 680.7 335.2 677.1 329.5 673.6 324.3 670.4 320.0 667.8 316.6 665.8 314.0 664.2 311.9 662.9 310.3 661.8 309.1 660.8 308.0 659.8 307.3 658.7 307.1 657.7 307.2 656.8 307.6 656.0 307.9 655.3 308.0 654.8" fill="none" stroke="#000" stroke-width="1.4" stroke-dasharray="7 3.5" stroke-linejoin="round" stroke-linecap="butt"/>
<path d="M289.0 656.8 289.1 658.2 289.1 660.2 289.1 662.5 289.3 665.1 289.5 667.5 290.0 669.8 290.7 671.9 291.5 673.9 292.4 676.0 293.5 678.0 294.7 679.9 296.0 681.8 297.4 683.6 298.9 685.4 300.5 687.1 302.2 688.8 304.1 690.3 306.0 691.8 308.3 693.2 310.9 694.6 313.6 695.9 316.2 697.1 318.4 698.1 320.0 698.8" fill="none" stroke="#000" stroke-width="1.4" stroke-dasharray="1.6 3.2" stroke-linejoin="round" stroke-linecap="butt"/>
<path d="M293.0 656.8 293.1 658.2 293.1 660.2 293.1 662.5 293.3 665.1 293.5 667.5 294.0 669.8 294.7 671.9 295.5 673.9 296.4 676.0 297.5 678.0 298.7 679.9 300.0 681.8 301.4 683.6 302.9 685.4 304.5 687.1 306.2 688.8 308.1 690.3 310.0 691.8 312.3 693.2 314.9 694.6 317.6 695.9 320.2 697.1 322.4 698.1 324.0 698.8" fill="none" stroke="#000" stroke-width="1.4" stroke-dasharray="1.6 3.2" stroke-linejoin="round" stroke-linecap="butt"/>
<path d="M297.0 656.8 297.1 658.2 297.1 660.2 297.1 662.5 297.3 665.1 297.5 667.5 298.0 669.8 298.7 671.9 299.5 673.9 300.4 676.0 301.5 678.0 302.7 679.9 304.0 681.8 305.4 683.6 306.9 685.4 308.5 687.1 310.2 688.8 312.1 690.3 314.0 691.8 316.3 693.2 318.9 694.6 321.6 695.9 324.2 697.1 326.4 698.1 328.0 698.8" fill="none" stroke="#000" stroke-width="1.4" stroke-dasharray="1.6 3.2" stroke-linejoin="round" stroke-linecap="butt"/>
<path d="M300.0 656.8 301.1 655.9 302.5 654.6 304.2 653.0 306.1 651.5 308.1 650.0 310.0 648.8 311.9 647.9 313.8 647.2 315.8 646.5 317.9 646.0 319.9 645.4 322.0 644.8 324.1 644.1 326.2 643.5 328.3 642.8 330.5 642.1 332.7 641.5 335.0 640.8 337.4 640.1 340.0 639.5 342.6 638.8 345.1 638.1 347.7 637.5 350.0 636.8 352.3 636.1 354.7 635.3 356.9 634.5 359.0 633.8 360.7 633.2 362.0 632.8" fill="none" stroke="#000" stroke-width="1.6" stroke-dasharray="1.6 3.2" stroke-linejoin="round" stroke-linecap="butt"/>
<path d="M355.0 632.8 356.3 633.4 358.2 634.3 360.3 635.4 362.0 636.8 363.4 638.6 364.7 640.8 365.6 643.0 366.0 644.8 365.6 646.3 364.6 647.7 363.3 648.6 362.0 648.8 360.5 648.1 358.8 646.7 357.2 644.8 356.0 642.8 355.4 640.3 355.1 637.4 355.1 634.7 355.0 632.8" fill="none" stroke="#000" stroke-width="1.4" stroke-linejoin="round" stroke-linecap="butt"/>
<path d="M371.7 638.8 380.1 639.6 391.7 640.7 405.4 642.0 420.3 643.4 435.5 645.1 450.0 646.8 463.9 648.5 478.0 650.1 492.4 651.9 507.0 654.0 522.1 656.7 537.7 660.1 553.3 664.5 568.8 669.7 584.7 675.5 601.5 681.5 619.8 687.3 640.0 692.8 663.5 697.9 690.2 702.9 718.3 707.8 746.1 712.6 772.1 717.2 794.4 721.8 813.4 726.4 830.6 731.1 845.8 735.7 859.1 740.0 870.3 743.9 879.4 747.0 885.7 749.4 889.1 751.2 890.5 752.5 890.7 753.4 890.6 754.2 891.0 754.8" fill="none" stroke="#000" stroke-width="1.4" stroke-dasharray="1.6 3.2" stroke-linejoin="round" stroke-linecap="butt"/>
<path d="M891.0 754.8 890.6 755.5 890.7 756.4 890.5 757.5 889.1 758.7 885.7 759.7 879.4 760.5 870.3 761.2 859.1 761.9 845.8 762.5 830.6 762.8 813.4 762.9 794.4 762.4 772.1 761.4 746.1 759.8 718.3 757.9 690.2 755.8 663.5 753.6 640.0 751.6 620.0 749.5 602.1 747.3 585.7 745.1 570.0 742.9 554.3 740.9 537.7 739.2 520.2 737.9 502.3 737.0 484.3 736.2 466.7 735.5 449.6 734.6 433.4 733.4 417.7 731.8 402.2 730.0 387.3 728.0 373.4 725.9 360.9 723.8 350.4 721.8 342.2 719.8 336.0 717.9 331.3 715.9 327.4 713.9 323.9 711.9 320.0 709.8 315.9 707.7 312.2 705.5 308.7 703.3 305.5 701.1 302.6 698.9 300.0 696.8 297.6 694.6 295.6 692.3 293.8 690.0 292.2 687.9 291.0 686.1 290.0 684.8" fill="none" stroke="#000" stroke-width="1.4" stroke-dasharray="1.6 3.2" stroke-linejoin="round" stroke-linecap="butt"/>
<path d="M280.7 586.4V835.7 M354.0 586.4V835.7 M428.0 586.4V835.7 M540.0 586.4V835.7 M794.9 586.4V835.7" stroke="#000" stroke-width="3.7" stroke-dasharray="4.1 6.4" fill="none"/>
<path d="M354.0 628.6 359.9 629.8 367.9 631.4 377.7 633.3 388.5 635.3 400.0 637.3 412.5 639.2 426.3 641.2 440.9 643.2 455.7 645.3 470.0 647.3 483.4 649.2 496.1 651.0 509.1 652.9 523.2 655.0 539.0 657.6 557.8 660.9 579.1 664.8 601.0 668.9 621.9 672.7 640.0 675.8 654.1 677.9 665.3 679.4 675.5 680.6 686.5 681.9 700.0 683.8 716.5 686.3 734.7 689.1 754.2 692.1 774.3 695.5 794.4 699.1 814.8 703.1 835.8 707.4 857.1 711.9 878.6 716.6 900.0 721.3 923.0 726.4 947.8 732.0 971.7 737.5 992.3 742.3 1006.8 745.6" fill="none" stroke="#1e1c0e" stroke-width="4.6" stroke-dasharray="15 7" stroke-linejoin="round"/>
<path d="M344.6 660.3 351.9 661.4 362.1 662.9 374.1 664.7 387.1 666.7 400.0 668.8 413.1 671.0 427.0 673.3 441.3 675.8 455.8 678.3 470.0 680.8 483.5 683.2 496.4 685.5 509.6 687.9 523.7 690.4 539.6 693.2 558.4 696.5 579.6 700.1 601.5 703.9 622.2 707.4 640.0 710.3 653.5 712.3 664.0 713.6 673.4 714.7 683.7 716.1 697.0 718.4 714.6 722.0 735.1 726.4 756.6 731.2 777.0 735.6 794.4 739.2 808.0 741.6 819.3 743.4 829.1 744.7 838.5 745.9 848.5 747.3 859.4 748.9 870.5 750.4 881.4 751.9 891.4 753.4 900.0 754.8 906.9 756.0 912.4 757.1 917.1 758.2 921.4 759.4 925.7 760.8 929.3 762.6 931.7 764.7 934.4 766.9 938.4 768.8 945.0 770.1 955.9 770.7 970.3 770.8 985.7 770.5 999.3 770.2 1008.7 770.1" fill="none" stroke="#1e1c0e" stroke-width="4.8" stroke-dasharray="4.8 7.2" stroke-linejoin="round"/>
</g>
<g clip-path="url(#cp3)">
<rect x="141.0" y="835.7" width="1013.0" height="250.9" fill="#e0def6"/>
<clipPath id="m3"><path d="M286.7 899.4 302.2 891.7 348.5 881.3 360.0 881.3 450.0 895.7 537.7 912.7 640.0 930.3 794.4 955.4 871.7 978.6 960.5 1001.7 1006.8 1017.2 1030.0 1022.7 1049.0 1026.2 1100.0 1029.2 1160.0 1030.7 1160.0 1090.7 141.0 1090.7 141.0 1053.8 255.8 1044.2 352.4 1033.4 360.0 1033.4 402.5 1048.1 405.0 1048.1 398.7 1028.7 387.0 1017.2 360.0 1001.7 348.5 988.2 333.0 967.0 306.0 947.7 292.0 939.7 288.6 936.1 286.0 912.9 286.7 899.4Z"/></clipPath>
<g clip-path="url(#m3)"><rect x="139.0" y="833.7" width="1017.0" height="255.0" fill="#2e0351"/>
<path fill="#33105e" fill-rule="evenodd" d="M139.0 833.7 1156.0 833.7 1156.0 1088.7 424.6 1088.7 424.0 1083.9 423.3 1085.7 423.7 1088.7 389.8 1088.7 379.0 1085.8 367.0 1084.6 358.0 1086.0 351.9 1088.7 139.0 1088.7ZM145.4 1052.7 151.0 1053.4 159.6 1052.7 154.0 1052.0ZM181.4 1049.7 187.0 1050.4 195.6 1049.7 190.0 1049.0ZM217.4 1046.7 223.0 1047.4 231.6 1046.7 226.0 1046.0ZM253.4 1043.7 259.0 1044.3 264.6 1043.7 259.0 1043.1ZM280.4 1040.7 286.0 1041.3 291.6 1040.7 286.0 1040.1ZM290.8 896.7 292.0 897.4 293.4 896.7 292.0 896.1ZM296.8 893.7 298.0 894.4 299.4 893.7 298.0 893.1ZM303.7 890.7 307.0 891.3 309.3 890.7 307.0 890.1ZM307.4 1037.7 313.0 1038.3 318.6 1037.7 313.0 1037.1ZM321.5 887.7 319.0 887.1 316.5 887.7 319.0 888.3ZM334.4 1034.7 340.0 1035.3 345.6 1034.7 340.0 1034.1ZM342.6 881.7 346.0 882.3 348.5 881.7 346.0 881.1ZM359.7 881.7 364.0 882.3 368.0 881.7 364.0 881.1ZM379.5 884.7 382.0 885.3 386.1 884.7 382.0 884.1ZM397.5 887.7 400.0 888.3 405.0 887.7 400.0 887.1ZM406.0 1048.3 405.3 1049.7 406.0 1051.1 406.7 1049.7ZM409.0 1052.3 408.0 1052.7 409.0 1056.2 409.8 1055.7ZM412.0 1057.7 411.3 1058.7 412.0 1062.2 412.8 1061.7ZM415.0 1063.7 414.3 1064.7 415.0 1068.2 415.8 1067.7ZM498.0 905.7 502.0 906.3 504.5 905.7 502.0 905.1ZM519.5 908.7 517.0 908.1 514.5 908.7 517.0 909.3ZM529.5 911.7 532.0 912.3 536.0 911.7 532.0 911.1ZM545.9 914.7 550.0 915.3 552.5 914.7 550.0 914.1ZM563.3 917.7 568.0 918.3 570.5 917.7 568.0 917.1ZM707.0 941.7 712.0 942.3 714.5 941.7 712.0 941.1ZM725.3 944.7 730.0 945.3 732.5 944.7 730.0 944.1ZM743.9 947.7 748.0 948.3 751.5 947.7 748.0 947.1ZM762.0 950.7 766.0 951.3 769.5 950.7 766.0 950.1ZM780.5 953.7 784.0 954.3 788.0 953.7 784.0 953.1ZM800.8 956.7 799.0 956.1 796.7 956.7 799.0 957.3ZM831.3 965.7 829.0 965.1 826.7 965.7 829.0 966.3ZM857.2 974.7 859.0 975.3 861.5 974.7 859.0 974.1ZM878.2 980.7 880.0 981.3 882.5 980.7 880.0 980.1ZM894.5 983.7 892.0 983.1 889.5 983.7 892.0 984.3ZM935.2 995.7 937.0 996.3 939.5 995.7 937.0 995.1ZM951.5 998.7 949.0 998.1 946.5 998.7 949.0 999.3ZM989.7 1010.7 988.0 1010.1 985.7 1010.7 988.0 1011.3ZM998.7 1013.7 997.0 1013.1 994.7 1013.7 997.0 1014.3ZM1008.3 1016.7 1006.0 1016.1 1003.7 1016.7 1006.0 1017.3ZM1020.5 1019.7 1018.0 1019.1 1015.5 1019.7 1018.0 1020.3ZM1027.5 1022.7 1030.0 1023.3 1033.5 1022.7 1030.0 1022.1ZM1043.9 1025.7 1048.0 1026.3 1053.0 1025.7 1048.0 1025.1ZM1085.0 1028.7 1096.0 1029.3 1107.0 1028.7 1096.0 1028.1ZM365.9 1034.7 364.0 1034.0 362.0 1034.7 364.0 1035.4ZM400.0 1040.3 400.0 1042.1 400.7 1040.7ZM404.0 1046.7 403.0 1043.3 396.5 1046.7ZM418.0 1069.7 417.3 1070.7 418.0 1074.2 418.8 1073.7ZM421.0 1075.8 420.4 1076.7 421.0 1082.3 421.6 1079.7Z"/>
<path fill="#371a67" fill-rule="evenodd" d="M139.0 833.7 1156.0 833.7 1156.0 1031.4 1152.0 1031.7 1156.0 1031.8 1156.0 1088.7 427.2 1088.7 421.0 1071.8 412.0 1054.0 403.0 1040.3 400.0 1038.2 397.5 1040.7 399.0 1043.7 394.5 1046.7 400.0 1048.1 402.5 1049.7 406.9 1055.7 417.5 1076.7 421.8 1088.7 398.5 1088.7 391.0 1085.0 382.0 1082.1 370.0 1079.3 361.0 1078.4 352.0 1079.8 346.0 1083.1 338.8 1088.7 139.0 1088.7ZM141.4 1052.7 142.0 1053.4 151.0 1054.1 168.2 1052.7 163.0 1051.5 154.0 1051.4ZM172.8 1049.7 175.0 1050.6 187.0 1051.0 204.2 1049.7 202.0 1048.7 190.0 1048.4ZM208.8 1046.7 214.0 1047.9 223.0 1048.0 240.1 1046.7 238.0 1045.8 226.0 1045.3ZM244.8 1043.7 250.0 1045.0 259.0 1044.9 270.2 1043.7 259.0 1042.4ZM274.8 1040.7 286.0 1041.9 297.2 1040.7 286.0 1039.4ZM286.0 899.1 286.0 917.9 286.1 902.7 288.4 899.7ZM289.6 896.7 292.0 898.0 294.8 896.7 292.0 895.4ZM295.6 893.7 298.0 895.0 300.8 893.7 298.0 892.4ZM301.9 890.7 304.0 891.7 307.0 891.8 311.7 890.7 307.0 889.5ZM314.0 887.7 319.0 888.9 324.5 887.7 319.0 886.6ZM327.5 884.7 331.0 885.8 337.5 884.7 334.0 883.6ZM340.4 881.7 346.0 882.8 349.0 882.1 367.0 882.8 371.0 881.7 364.0 880.5 346.0 880.5ZM375.2 884.7 382.0 885.8 389.3 884.7 382.0 883.5ZM393.5 887.7 400.0 888.8 406.0 888.7 408.0 887.7 400.0 886.5ZM411.8 890.7 421.0 891.7 426.5 890.7 418.0 889.7ZM430.5 893.7 439.0 894.7 445.2 893.7 436.0 892.7ZM449.0 896.7 457.0 897.8 461.1 896.7 451.0 895.7ZM464.1 899.7 472.0 900.7 476.9 899.7 469.0 898.6ZM480.3 902.7 487.0 903.7 490.0 903.6 492.0 902.7 484.0 901.6ZM495.5 905.7 502.0 906.9 507.5 905.7 502.0 904.6 499.0 904.6ZM510.8 908.7 517.0 909.9 523.5 908.7 517.0 907.5ZM526.5 911.7 535.0 912.8 538.7 911.7 532.0 910.5ZM542.7 914.7 550.0 915.9 556.5 914.7 550.0 913.6ZM560.1 917.7 568.0 918.9 574.5 917.7 568.0 916.6 562.0 916.8ZM578.0 920.7 586.0 921.7 592.2 920.7 580.0 919.7ZM596.0 923.7 604.0 924.7 609.5 923.7 598.0 922.7ZM613.5 926.7 625.0 927.7 627.0 926.7 619.0 925.7ZM630.8 929.7 643.0 930.7 645.0 929.7 637.0 928.7ZM648.8 932.7 658.0 933.7 663.5 932.7 655.0 931.7ZM667.5 935.7 676.0 936.7 681.5 935.7 673.0 934.7ZM686.0 938.7 694.0 939.7 700.2 938.7 688.0 937.7ZM704.0 941.7 712.0 942.9 718.5 941.7 712.0 940.6 706.0 940.7ZM722.1 944.7 730.0 945.9 736.7 944.7 730.0 943.6 724.0 943.8ZM740.7 947.7 748.0 948.9 754.8 947.7 748.0 946.6ZM759.0 950.7 766.0 951.9 773.0 950.7 766.0 949.6ZM777.2 953.7 784.0 954.8 791.0 953.7 784.0 952.5ZM794.3 956.7 799.0 957.9 802.7 956.7 799.0 955.5ZM804.6 959.7 811.0 960.6 812.8 959.7 808.0 958.6ZM814.8 962.7 820.0 963.8 823.2 962.7 817.0 961.6ZM824.8 965.7 829.0 966.9 832.0 966.6 833.2 965.7 829.0 964.5 826.0 964.8ZM834.9 968.7 841.0 969.8 843.2 968.7 838.0 967.6ZM845.2 971.7 850.0 972.8 853.4 971.7 847.0 970.8ZM855.3 974.7 859.0 975.9 862.0 975.7 863.7 974.7 859.0 973.5ZM865.3 977.7 871.0 978.8 873.7 977.7 868.0 976.6ZM876.3 980.7 880.0 981.8 885.0 980.7 880.0 979.5ZM887.2 983.7 892.0 984.9 895.0 984.7 896.7 983.7 892.0 982.5ZM899.0 986.7 904.0 987.7 907.7 986.7 904.0 985.8 901.0 985.8ZM909.8 989.7 916.0 990.8 919.5 989.7 913.0 988.6ZM921.5 992.7 928.0 993.8 930.7 992.7 925.0 991.6ZM933.3 995.7 937.0 996.8 942.0 995.7 937.0 994.5ZM944.2 998.7 949.0 999.9 952.0 999.7 953.7 998.7 949.0 997.5ZM956.0 1001.7 961.0 1002.8 964.1 1001.7 961.0 1000.8 958.0 1000.8ZM965.7 1004.7 970.0 1005.8 973.1 1004.7 967.0 1003.7ZM974.7 1007.7 979.0 1008.8 982.2 1007.7 976.0 1006.7ZM983.8 1010.7 988.0 1012.0 991.4 1010.7 988.0 1009.5 985.0 1009.8ZM992.9 1013.7 997.0 1015.0 1000.4 1013.7 997.0 1012.5 994.0 1012.8ZM1001.9 1016.7 1006.0 1017.9 1010.6 1016.7 1006.0 1015.5 1003.0 1015.8ZM1013.0 1019.7 1018.0 1020.9 1022.8 1019.7 1018.0 1018.6ZM1025.0 1022.7 1030.0 1023.9 1036.7 1022.7 1030.0 1021.5ZM1040.7 1025.7 1048.0 1026.9 1064.0 1025.7 1048.0 1024.6ZM1074.0 1028.7 1096.0 1029.8 1117.0 1029.7 1129.5 1028.7 1096.0 1027.6 1081.0 1027.8ZM301.8 1037.7 313.0 1038.9 324.2 1037.7 313.0 1036.4ZM319.0 956.3 318.3 956.7 319.0 957.2 319.6 956.7ZM355.0 995.1 354.5 995.7 355.0 996.3ZM358.6 1034.7 364.0 1036.1 367.0 1035.7 367.8 1034.7 364.0 1033.4ZM377.2 1040.7 382.0 1042.0 385.2 1040.7 379.0 1039.4ZM385.8 1043.7 391.0 1045.0 393.8 1043.7 388.0 1042.5ZM328.8 1034.7 340.0 1036.0 351.2 1034.7 340.0 1033.4ZM368.4 1037.7 373.0 1039.0 376.0 1038.6 376.6 1037.7 370.0 1036.4Z"/>
<path fill="#39226d" fill-rule="evenodd" d="M139.0 833.7 1156.0 833.7 1156.0 1029.7 1150.0 1028.7 1078.0 1026.7 1069.0 1025.4 1042.0 1023.6 1040.1 1022.7 1027.0 1020.7 1003.0 1014.4 961.0 1000.2 877.0 978.5 793.0 953.4 778.0 951.6 776.7 950.7 766.0 949.0 760.0 948.7 757.0 947.4 742.0 945.6 739.0 944.5 652.0 930.7 649.0 929.7 634.0 927.7 631.0 926.7 550.0 913.0 544.0 912.6 542.1 911.7 514.0 906.9 511.0 905.7 481.0 900.6 479.7 899.7 445.0 893.1 415.0 888.7 406.0 886.7 397.0 885.9 393.5 884.7 379.0 882.9 367.0 880.4 346.0 879.9 301.0 890.4 288.4 896.7 285.1 899.7 286.0 919.5 286.7 902.7 289.0 900.2 304.0 892.6 349.0 882.7 370.0 883.7 373.0 885.0 388.0 886.8 394.0 888.4 460.0 898.8 463.0 900.0 520.0 910.5 538.8 914.7 571.0 919.5 580.0 921.7 589.0 922.7 592.0 923.7 697.0 940.7 706.0 942.7 715.0 943.5 724.0 945.6 754.0 949.8 755.3 950.7 763.0 952.0 772.0 952.7 775.0 954.0 790.0 955.7 868.0 979.1 952.0 1000.8 1003.0 1017.7 1030.0 1024.4 1048.0 1027.5 1060.0 1027.7 1069.0 1029.0 1093.0 1030.4 1126.0 1030.7 1129.0 1031.7 1156.0 1032.4 1156.0 1088.7 428.0 1088.7 424.0 1075.8 415.0 1057.5 403.0 1038.7 400.0 1037.2 398.4 1037.7 396.5 1040.7 397.6 1043.7 397.0 1044.2 361.0 1031.6 352.0 1031.5 265.0 1041.5 142.0 1051.8 139.8 1052.7 142.0 1055.3 241.0 1047.3 334.0 1036.9 358.0 1035.2 400.9 1049.7 407.4 1058.7 416.4 1076.7 420.6 1088.7 403.7 1088.7 397.0 1084.2 385.0 1079.2 364.0 1072.9 352.0 1070.9 346.0 1071.7 343.0 1072.8 331.0 1080.4 322.0 1082.0 286.0 1081.7 163.0 1083.5 139.0 1083.1ZM302.1 944.7 301.0 944.1 299.9 944.7 301.0 945.4ZM319.0 956.1 317.9 956.7 319.0 957.4 319.9 956.7ZM343.0 979.7 342.3 980.7 343.0 981.7 343.7 980.7ZM355.0 994.9 354.2 995.7 355.0 996.6 355.7 995.7ZM377.1 1010.7 376.0 1010.1 374.9 1010.7 376.0 1011.4Z"/>
<path fill="#3b2973" fill-rule="evenodd" d="M139.0 833.7 1156.0 833.7 1156.0 1028.5 1087.0 1026.3 1054.0 1024.1 1030.0 1020.4 1006.0 1014.4 961.0 999.5 874.0 976.7 793.0 952.8 538.0 910.4 451.0 893.5 361.0 878.9 346.0 879.3 304.0 888.9 287.0 896.7 284.5 899.7 285.4 905.7 286.0 921.1 287.3 902.7 292.0 899.3 304.0 893.5 349.0 883.3 361.0 883.5 448.0 897.6 538.0 915.1 793.0 957.5 868.0 979.7 958.0 1003.4 1003.0 1018.3 1030.0 1025.0 1048.0 1028.1 1069.0 1029.6 1156.0 1032.9 1156.0 1088.7 428.8 1088.7 424.1 1073.7 415.0 1055.6 403.0 1037.4 400.0 1036.5 397.0 1037.4 395.8 1040.7 394.0 1042.4 361.0 1031.0 352.0 1030.9 253.0 1041.8 142.0 1051.1 139.0 1052.3ZM294.1 941.7 296.3 941.7 295.0 941.1ZM302.5 944.7 301.0 943.9 299.5 944.7 301.0 945.6ZM307.4 947.7 305.4 947.7 307.0 948.3ZM309.2 950.7 310.0 951.2 311.0 950.7 310.0 950.1ZM319.0 955.9 317.5 956.7 319.0 957.7 320.2 956.7ZM328.6 962.7 326.7 962.7 328.0 963.4ZM330.3 965.7 332.1 965.7 331.0 965.1ZM334.0 967.6 334.0 969.3 334.6 968.7ZM337.0 971.1 336.4 971.7 337.0 972.8ZM343.0 979.4 342.1 980.7 343.0 982.0 343.9 980.7ZM349.0 988.7 349.0 990.1 349.6 989.7ZM352.0 991.8 351.5 992.7 352.0 993.3 352.7 992.7ZM355.0 994.6 354.0 995.7 355.0 996.8 355.9 995.7ZM358.0 998.3 357.5 998.7 358.0 999.5ZM369.1 1007.7 371.3 1007.7 370.0 1007.1ZM377.5 1010.7 376.0 1009.9 374.5 1010.7 376.0 1011.6ZM382.8 1013.7 380.1 1013.7 382.0 1014.3ZM419.9 1088.7 407.9 1088.7 400.0 1082.6 391.0 1078.1 355.0 1064.4 346.0 1062.5 337.0 1063.9 319.0 1069.2 307.0 1070.5 160.0 1075.3 139.0 1075.3 139.0 1054.2 142.0 1056.6 148.0 1055.5 250.0 1047.4 337.0 1037.5 358.0 1035.9 400.0 1050.1 404.7 1055.7 416.8 1079.7Z"/>
<path fill="#3c3278" fill-rule="evenodd" d="M139.0 833.7 1156.0 833.7 1156.0 1027.9 1099.0 1026.3 1054.0 1023.6 1030.0 1019.8 1006.0 1013.8 961.0 998.9 874.0 976.1 793.0 952.3 559.0 913.5 451.0 893.0 361.0 878.3 346.0 878.7 304.0 888.3 286.0 896.6 284.0 899.7 285.2 905.7 286.0 922.7 286.8 917.7 286.9 905.7 289.0 901.5 304.0 894.2 349.0 883.8 361.0 884.1 448.0 898.2 538.0 915.7 793.0 958.1 871.0 981.1 958.0 1004.0 1005.8 1019.7 1030.0 1025.6 1048.0 1028.7 1099.0 1031.8 1156.0 1033.5 1156.0 1088.7 429.6 1088.7 424.6 1073.7 415.0 1054.2 403.0 1036.7 400.0 1035.8 397.0 1036.7 394.0 1041.8 361.0 1030.4 352.0 1030.2 256.0 1040.8 160.0 1048.6 139.0 1051.3ZM292.3 938.7 291.3 938.7 292.0 939.2ZM293.7 941.7 295.0 942.4 296.9 941.7 295.0 940.8ZM302.8 944.7 301.0 943.7 299.1 944.7 301.0 945.8ZM307.7 947.7 307.0 947.2 304.3 947.7 307.0 948.7ZM308.9 950.7 310.0 951.5 311.5 950.7 310.0 949.8ZM316.3 953.7 313.6 953.7 316.0 954.4ZM319.0 955.6 317.2 956.7 319.0 957.9 320.5 956.7ZM321.6 959.7 323.7 959.7 322.0 959.1ZM328.9 962.7 328.0 962.0 326.1 962.7 328.0 963.8ZM329.9 965.7 331.0 966.4 332.6 965.7 331.0 964.8ZM334.0 967.1 333.3 968.7 334.0 969.6 334.9 968.7ZM337.0 970.8 336.1 971.7 337.0 973.3 337.7 971.7ZM340.0 975.3 340.0 978.0 340.5 977.7ZM343.0 979.1 341.9 980.7 343.0 982.3 344.1 980.7ZM346.0 983.3 345.3 983.7 346.0 985.4ZM349.0 988.0 348.5 989.7 349.0 990.3 350.1 989.7ZM352.0 991.4 351.2 992.7 352.0 993.6 353.1 992.7ZM355.0 994.3 353.7 995.7 355.0 997.1 356.1 995.7ZM358.0 998.0 357.1 998.7 358.0 1000.1 358.6 998.7ZM361.9 1001.7 361.0 1001.1 359.6 1001.7 361.0 1002.5ZM363.5 1004.7 367.0 1005.2 367.3 1004.7 364.0 1004.2ZM368.7 1007.7 370.0 1008.4 371.9 1007.7 370.0 1006.8ZM377.8 1010.7 376.0 1009.7 374.1 1010.7 376.0 1011.8ZM383.1 1013.7 382.0 1013.1 379.2 1013.7 382.0 1014.6ZM384.5 1016.7 387.5 1016.7 385.0 1016.1ZM419.2 1088.7 411.7 1088.7 403.0 1081.5 394.0 1076.4 354.2 1058.7 346.0 1056.4 337.0 1056.4 301.0 1060.3 145.0 1067.4 139.0 1067.2 139.0 1056.8 142.0 1057.7 160.0 1055.2 178.0 1054.6 196.0 1052.2 214.0 1051.5 235.0 1048.9 253.0 1048.2 260.1 1046.7 280.0 1045.0 352.0 1036.5 358.0 1036.5 400.0 1050.8 403.9 1055.7 416.0 1079.7Z"/>
<path fill="#3d397c" fill-rule="evenodd" d="M139.0 833.7 1156.0 833.7 1156.0 1027.4 1099.0 1025.7 1054.0 1023.0 1030.0 1019.2 1006.0 1013.2 961.0 998.3 874.0 975.5 796.0 952.3 559.0 913.0 451.0 892.4 361.0 877.7 346.0 878.1 301.0 888.6 286.0 895.9 283.4 899.7 284.9 905.7 286.0 924.3 287.1 917.7 287.2 905.7 289.0 902.1 301.0 896.1 307.0 894.0 349.0 884.4 361.0 884.6 448.0 898.8 538.0 916.2 793.0 958.6 871.0 981.7 958.0 1004.6 1003.9 1019.7 1030.0 1026.2 1048.0 1029.3 1099.0 1032.4 1156.0 1034.0 1156.0 1088.7 430.3 1088.7 425.2 1073.7 415.0 1052.9 406.0 1039.3 403.0 1036.0 400.0 1035.1 397.0 1036.0 395.3 1037.7 394.0 1041.1 364.0 1030.7 358.0 1029.6 352.0 1029.6 244.0 1041.3 223.0 1042.3 208.0 1044.3 187.0 1045.2 172.0 1047.3 151.0 1048.2 139.0 1050.4ZM289.0 932.1 288.3 935.7 289.0 937.4 289.6 935.7ZM292.7 938.7 290.5 938.7 292.0 939.8ZM293.3 941.7 295.0 942.6 297.6 941.7 295.0 940.5ZM303.2 944.7 301.0 943.5 298.7 944.7 301.0 946.0ZM303.7 947.7 307.0 949.1 308.0 947.7 307.0 947.0 304.0 946.9ZM308.5 950.7 310.0 951.7 312.0 950.7 310.0 949.5ZM313.0 952.9 312.7 953.7 316.0 955.1 316.6 953.7ZM319.0 955.4 316.8 956.7 319.0 958.2 320.8 956.7ZM321.2 959.7 322.0 960.2 325.0 959.7 322.0 958.6ZM329.2 962.7 328.0 961.8 325.4 962.7 328.0 964.1ZM329.6 965.7 331.0 966.7 333.1 965.7 331.0 964.5ZM334.0 966.6 333.0 968.7 334.0 969.9 335.2 968.7ZM337.0 970.5 335.8 971.7 337.0 973.8 338.0 971.7ZM340.0 974.5 339.1 974.7 340.0 978.3 341.1 977.7ZM343.0 978.8 341.7 980.7 343.0 982.6 344.4 980.7ZM346.0 983.0 344.8 983.7 346.0 986.7 346.5 983.7ZM349.0 987.2 348.2 989.7 349.0 990.6 350.5 989.7ZM352.0 991.0 351.0 992.7 352.0 993.9 353.4 992.7ZM355.0 994.0 353.5 995.7 355.0 997.4 356.4 995.7ZM358.0 997.7 356.7 998.7 358.0 1000.6 358.9 998.7ZM362.2 1001.7 361.0 1000.8 359.1 1001.7 361.0 1002.8ZM363.2 1004.7 367.0 1005.8 367.7 1004.7 364.0 1003.7ZM368.3 1007.7 370.0 1008.6 372.6 1007.7 370.0 1006.5ZM378.2 1010.7 376.0 1009.5 373.7 1010.7 376.0 1012.0ZM378.7 1013.7 382.0 1014.9 383.5 1013.7 382.0 1012.8 379.0 1012.9ZM384.2 1016.7 388.0 1018.3 388.0 1016.5 385.0 1015.6ZM389.4 1019.7 391.0 1021.3 391.2 1019.7ZM392.4 1022.7 394.0 1024.3 394.2 1022.7ZM395.4 1025.7 397.0 1027.3 397.2 1025.7ZM418.5 1088.7 415.4 1088.7 406.0 1080.6 394.0 1073.5 355.0 1054.8 346.0 1051.9 331.0 1050.9 280.0 1051.7 202.0 1055.2 199.0 1054.8 197.9 1052.7 229.0 1052.2 232.0 1051.4 233.0 1049.7 262.0 1048.8 265.0 1047.7 265.8 1046.7 286.0 1045.7 292.8 1043.7 313.0 1042.2 319.8 1040.7 352.0 1037.2 358.0 1037.1 400.0 1051.5 405.0 1058.7 415.2 1079.7 416.3 1085.7ZM163.4 1055.7 192.9 1055.7 166.0 1057.3Z"/>
<path fill="#3e4180" fill-rule="evenodd" d="M139.0 833.7 1156.0 833.7 1156.0 1026.8 1099.0 1025.1 1054.0 1022.5 1030.0 1018.6 1006.0 1012.6 961.0 997.7 874.0 974.9 796.0 951.8 544.0 909.8 451.0 891.9 361.0 877.1 346.0 877.5 301.0 888.0 284.0 896.7 282.8 899.7 285.0 908.7 286.0 926.0 287.2 920.7 287.5 905.7 289.0 902.7 304.0 895.4 349.0 884.9 361.0 885.2 448.0 899.4 538.0 916.8 793.0 959.2 877.0 983.9 958.0 1005.1 1003.0 1020.0 1030.0 1026.7 1048.0 1029.9 1099.0 1032.9 1156.0 1034.6 1156.0 1088.7 430.8 1088.7 425.8 1073.7 415.0 1051.9 405.5 1037.7 403.0 1035.2 400.0 1034.5 397.0 1035.2 394.5 1037.7 394.0 1039.6 391.0 1039.3 361.0 1029.1 352.0 1029.0 295.0 1035.3 280.0 1036.1 271.0 1037.9 250.0 1038.7 243.4 1040.7 211.0 1042.0 207.1 1043.7 175.0 1044.7 170.4 1046.7 142.0 1047.1 139.0 1047.7ZM289.0 930.5 288.0 935.7 289.0 938.1 289.8 935.7ZM289.7 938.7 295.0 942.8 298.0 942.5 298.1 941.7 292.0 937.9ZM298.3 944.7 307.0 949.5 310.0 952.0 312.4 950.7 307.0 946.7 304.0 945.9 303.6 944.7 301.0 943.3ZM313.0 951.9 312.4 953.7 331.0 966.9 337.0 974.3 338.2 971.7 333.6 965.7 325.0 959.5 322.0 958.2 321.1 956.7 316.0 953.1ZM338.0 974.7 339.3 977.7 348.0 989.7 358.0 1001.2 361.0 1003.1 362.6 1001.7 351.0 989.7 343.0 978.4 341.7 977.7 340.0 974.2ZM362.8 1004.7 367.0 1006.4 370.0 1008.8 373.0 1008.5 373.1 1007.7 367.0 1004.1 364.0 1003.3ZM373.3 1010.7 385.0 1017.4 397.0 1028.8 398.1 1028.7 397.4 1025.7 388.0 1016.3 385.0 1015.2 382.0 1012.6 379.0 1011.9 378.6 1010.7 376.0 1009.3ZM300.6 1043.7 322.0 1042.8 325.4 1040.7 358.0 1037.7 397.0 1050.9 400.4 1052.7 404.4 1058.7 413.3 1076.7 413.7 1079.7 415.5 1082.7 415.0 1085.0 408.7 1079.7 399.7 1073.7 352.0 1050.0 337.0 1046.5Z"/>
<path fill="#3e4881" fill-rule="evenodd" d="M139.0 833.7 1156.0 833.7 1156.0 1026.3 1099.0 1024.6 1054.0 1021.9 1033.0 1018.7 1009.0 1012.9 961.0 997.1 874.0 974.4 796.0 951.2 544.0 909.3 451.0 891.3 361.0 876.6 346.0 876.9 301.0 887.4 286.0 894.7 283.1 896.7 282.3 899.7 284.8 908.7 286.0 927.6 286.9 926.7 287.4 923.7 287.4 908.7 289.0 903.3 307.0 895.1 349.0 885.5 361.0 885.7 451.0 900.5 538.0 917.3 793.0 959.8 871.0 982.8 958.0 1005.7 1003.0 1020.6 1030.0 1027.3 1048.0 1030.4 1099.0 1033.5 1156.0 1035.1 1156.0 1088.7 431.4 1088.7 426.4 1073.7 418.0 1056.6 406.2 1037.7 403.0 1034.6 400.0 1034.1 397.0 1034.6 394.0 1037.5 391.0 1038.6 361.0 1028.5 352.0 1028.4 316.0 1032.4 301.0 1033.1 292.0 1034.8 241.0 1034.2 160.0 1037.1 139.0 1036.6ZM288.1 929.7 287.6 935.7 289.0 938.7 292.5 941.7 307.0 949.9 331.0 967.1 335.2 971.7 347.8 989.7 358.0 1001.7 385.0 1017.6 397.0 1029.1 400.0 1029.0 397.7 1025.7 388.0 1016.1 367.0 1003.9 364.0 1002.9 361.0 1000.3 351.4 989.7 334.0 965.7 307.0 946.5 292.0 937.7 290.1 935.7 289.0 928.8ZM331.8 1040.7 358.0 1038.5 399.4 1052.7 403.8 1058.7 409.8 1070.7 410.4 1073.7 412.6 1076.7 412.0 1079.3 397.0 1069.5 358.0 1049.4 349.0 1045.7 334.0 1042.0Z"/>
<path fill="#3f4e80" fill-rule="evenodd" d="M139.0 833.7 1156.0 833.7 1156.0 1025.7 1099.0 1024.0 1054.0 1021.4 1033.0 1018.1 1009.0 1012.3 961.0 996.6 874.0 973.8 796.0 950.6 544.0 908.7 451.0 890.8 361.0 876.0 346.0 876.4 301.0 886.8 283.0 896.1 281.7 899.7 284.6 908.7 284.7 917.7 286.0 929.2 287.3 935.7 288.7 938.7 292.1 941.7 307.0 950.3 331.0 967.3 334.9 971.7 347.5 989.7 358.0 1002.0 385.0 1017.8 397.0 1029.5 400.0 1029.4 400.0 1028.2 388.0 1015.8 364.0 1002.5 359.6 998.7 349.5 986.7 334.0 965.4 307.0 946.3 295.0 939.6 290.3 935.7 288.0 923.7 287.6 908.7 289.0 903.9 307.0 895.7 349.0 886.1 358.0 886.0 448.0 900.5 538.0 917.9 793.0 960.3 868.0 982.6 958.0 1006.3 1003.0 1021.2 1030.0 1027.8 1048.0 1031.0 1099.0 1034.0 1156.0 1035.7 1156.0 1088.7 431.9 1088.7 427.0 1073.7 418.0 1055.5 406.7 1037.7 403.0 1034.2 400.0 1033.7 397.0 1034.2 394.0 1036.8 391.0 1038.0 364.0 1028.7 358.0 1027.7 322.0 1030.5 313.0 1031.9 304.7 1031.7 274.0 1027.2 250.0 1025.5 217.0 1024.9 160.0 1025.7 139.0 1024.6ZM343.3 1040.7 358.0 1039.2 361.0 1039.8 400.0 1053.8 404.8 1061.7 409.2 1070.7 409.0 1074.2 397.0 1066.8 361.0 1047.9Z"/>
<path fill="#3f5580" fill-rule="evenodd" d="M139.0 833.7 1156.0 833.7 1156.0 1025.1 1099.0 1023.5 1054.0 1020.8 1033.0 1017.5 1009.0 1011.8 961.0 996.0 874.0 973.2 796.0 950.1 544.0 908.1 451.0 890.2 361.0 875.5 346.0 875.8 301.0 886.2 283.0 895.3 281.8 896.7 281.2 899.7 284.4 908.7 284.5 917.7 287.0 935.7 288.5 938.7 292.0 941.8 304.0 948.7 331.0 967.6 347.3 989.7 358.0 1002.2 385.0 1018.0 397.0 1029.8 400.0 1029.9 400.0 1027.9 388.0 1015.6 364.0 1002.0 359.9 998.7 349.8 986.7 334.0 965.2 307.0 946.1 295.0 939.4 290.6 935.7 287.9 914.7 287.9 908.7 289.0 904.5 307.0 896.3 349.0 886.6 358.0 886.6 448.0 901.1 538.0 918.5 793.0 960.9 868.0 983.2 958.0 1006.9 1003.0 1021.8 1030.0 1028.4 1048.0 1031.5 1099.0 1034.6 1156.0 1036.3 1156.0 1088.7 432.5 1088.7 427.5 1073.7 418.0 1054.6 407.2 1037.7 403.0 1033.8 400.0 1033.3 397.0 1033.8 394.0 1036.1 391.0 1037.3 361.0 1027.2 352.0 1027.1 331.0 1029.4 316.0 1029.0 283.0 1021.7 253.0 1017.6 220.0 1015.3 160.0 1013.8 139.0 1012.1ZM351.7 1040.7 358.0 1039.9 361.0 1040.4 364.0 1042.3 367.0 1042.5 400.0 1054.5 406.5 1067.7 406.0 1069.6 364.2 1046.7Z"/>
<path fill="#3e5a7f" fill-rule="evenodd" d="M139.0 833.7 1156.0 833.7 1156.0 1024.6 1099.0 1022.9 1054.0 1020.3 1033.0 1017.0 1007.3 1010.7 961.0 995.4 877.0 973.4 796.0 949.5 544.0 907.6 451.0 889.7 361.0 874.9 346.0 875.3 301.0 885.7 283.0 894.5 281.2 896.7 280.6 899.7 281.5 902.7 283.0 904.2 284.3 908.7 284.4 917.7 286.0 932.4 288.2 938.7 292.0 942.0 304.0 948.9 331.0 967.8 347.1 989.7 358.0 1002.5 385.0 1018.2 397.0 1030.2 400.0 1030.4 400.6 1028.7 388.0 1015.4 364.0 1001.7 360.1 998.7 350.0 986.7 334.0 965.0 307.0 945.9 292.0 936.9 290.8 935.7 290.0 932.7 288.0 911.7 289.0 905.1 307.0 896.8 349.0 887.2 358.0 887.1 448.0 901.6 538.0 919.0 793.0 961.5 868.0 983.8 958.0 1007.5 1003.0 1022.3 1030.0 1028.9 1048.0 1032.1 1099.0 1035.1 1156.0 1036.8 1156.0 1088.7 433.1 1088.7 431.6 1082.7 428.0 1073.7 418.0 1053.7 406.0 1035.4 403.0 1033.4 400.0 1032.8 397.0 1033.4 391.0 1036.6 361.0 1026.6 352.0 1026.5 327.7 1028.7 292.0 1017.6 256.0 1010.3 223.0 1006.2 163.0 1001.7 139.0 998.9ZM363.7 1043.7 368.3 1043.7 367.0 1045.5ZM369.2 1046.7 373.0 1046.0 376.0 1046.3 379.0 1048.4 385.0 1049.4 400.0 1055.3 403.7 1061.7 403.0 1065.1Z"/>
<path fill="#3f607e" fill-rule="evenodd" d="M139.0 833.7 1156.0 833.7 1156.0 1024.0 1099.0 1022.4 1054.0 1019.7 1033.0 1016.4 1009.0 1010.6 961.0 994.9 877.0 972.9 796.0 949.0 544.0 907.0 451.0 889.1 361.0 874.4 346.0 874.7 301.0 885.1 283.0 893.8 280.6 896.7 280.1 899.7 280.8 902.7 283.0 904.9 284.1 908.7 284.2 917.7 286.0 934.0 288.0 938.7 292.0 942.3 304.0 949.1 331.0 968.0 346.8 989.7 358.0 1002.7 385.0 1018.4 397.0 1030.5 400.0 1030.9 400.8 1028.7 398.7 1025.7 388.0 1015.1 361.0 999.3 350.2 986.7 334.0 964.7 307.0 945.7 292.0 936.7 290.1 932.7 288.1 911.7 289.0 905.6 307.0 897.4 349.0 887.8 358.0 887.7 448.0 902.2 538.0 919.6 793.0 962.0 868.0 984.3 958.0 1008.1 1003.0 1022.9 1030.0 1029.5 1048.0 1032.6 1099.0 1035.7 1156.0 1037.4 1156.0 1088.7 436.9 1088.7 433.0 1085.4 428.5 1073.7 418.0 1052.7 406.0 1034.8 403.0 1033.1 400.0 1032.4 397.0 1033.1 391.0 1036.0 361.0 1026.0 352.0 1025.9 343.0 1026.9 331.0 1026.2 295.0 1013.1 259.0 1003.8 220.0 996.6 160.0 988.6 139.0 985.2ZM379.5 1049.7 383.6 1049.7 382.0 1051.1ZM385.1 1052.7 391.0 1052.2 394.0 1054.2 399.2 1055.7 400.7 1058.7 400.0 1060.8ZM401.5 1061.7 403.0 1061.3 403.0 1062.6Z"/>
<path fill="#40647c" fill-rule="evenodd" d="M139.0 833.7 1156.0 833.7 1156.0 1023.5 1099.0 1021.8 1054.0 1019.1 1033.0 1015.9 1009.0 1010.0 961.0 994.3 877.0 972.3 796.0 948.4 544.0 906.5 451.0 888.5 361.0 873.8 346.0 874.1 301.0 884.5 283.0 893.1 280.0 896.6 279.5 899.7 280.1 902.7 283.0 905.7 283.9 908.7 284.0 917.7 286.0 935.6 287.7 938.7 292.0 942.5 304.0 949.3 331.0 968.3 346.6 989.7 358.0 1003.0 385.0 1018.6 397.0 1030.8 400.0 1031.3 401.0 1028.7 399.0 1025.7 388.0 1014.9 361.0 999.1 350.4 986.7 334.0 964.5 307.0 945.4 292.0 936.4 290.3 932.7 288.3 911.7 289.0 906.6 307.0 898.0 349.0 888.3 358.0 888.3 448.0 902.7 538.0 920.1 793.0 962.6 868.0 984.9 958.0 1008.7 1003.0 1023.5 1030.0 1030.1 1048.0 1033.2 1099.0 1036.3 1156.0 1037.9 1156.0 1088.7 440.9 1088.7 433.0 1082.3 432.1 1079.7 430.0 1077.6 427.7 1070.7 418.0 1052.0 406.4 1034.7 403.0 1032.7 400.0 1032.0 397.0 1032.7 391.0 1035.3 361.0 1025.4 352.0 1025.2 343.0 1026.2 337.3 1025.7 301.0 1010.2 265.0 998.6 220.0 987.4 139.0 970.8ZM395.3 1055.7 397.6 1055.7 397.0 1056.7Z"/>
<path fill="#42687b" fill-rule="evenodd" d="M139.0 833.7 1156.0 833.7 1156.0 1022.9 1099.0 1021.3 1054.0 1018.6 1033.0 1015.3 1009.0 1009.5 961.0 993.7 877.0 971.7 796.0 947.8 544.0 905.9 451.0 888.0 361.0 873.3 349.0 873.3 301.0 884.0 295.0 886.4 281.4 893.7 279.4 896.7 279.0 899.7 279.5 902.7 283.0 906.3 283.7 908.7 283.8 917.7 285.8 935.7 287.5 938.7 290.7 941.7 304.0 949.5 331.0 968.5 346.4 989.7 358.0 1003.2 385.0 1018.8 397.0 1031.2 399.6 1031.7 391.0 1034.7 361.0 1024.7 349.0 1024.6 343.0 1025.3 304.0 1006.8 274.0 995.4 214.0 976.5 139.0 955.9ZM289.0 907.7 292.0 905.7 307.0 898.5 349.0 888.9 361.0 889.1 448.0 903.3 538.0 920.7 790.7 962.7 868.0 985.5 955.0 1008.4 1003.0 1024.1 1030.0 1030.6 1048.0 1033.7 1099.0 1036.8 1156.0 1038.5 1156.0 1088.7 445.1 1088.7 430.0 1076.5 428.5 1070.7 427.0 1069.2 415.0 1046.5 406.8 1034.7 403.0 1032.3 400.4 1031.7 401.2 1028.7 400.0 1026.7 390.2 1016.7 386.4 1013.7 361.0 998.8 350.7 986.7 334.0 964.3 307.0 945.2 291.6 935.7 289.9 926.7Z"/>
<path fill="#446c7a" fill-rule="evenodd" d="M139.0 833.7 1156.0 833.7 1156.0 1022.4 1099.0 1020.7 1054.0 1018.0 1033.0 1014.8 1009.0 1008.9 964.0 994.0 877.0 971.1 796.0 947.3 544.0 905.4 451.0 887.4 361.0 872.7 349.0 872.7 301.0 883.4 289.0 888.7 280.6 893.7 278.9 896.7 278.4 899.7 279.0 902.7 283.0 907.0 283.5 908.7 283.7 917.7 285.6 935.7 287.2 938.7 290.4 941.7 304.0 949.7 331.0 968.7 346.2 989.7 358.0 1003.5 385.8 1019.7 397.9 1031.7 391.0 1034.0 364.0 1024.7 343.5 1022.7 310.0 1005.2 286.0 994.6 205.0 963.3 139.0 940.0ZM289.0 908.8 292.0 906.3 307.0 899.1 349.0 889.5 361.0 889.6 448.0 903.8 538.0 921.2 790.0 963.1 868.0 986.0 955.0 1008.9 1003.0 1024.7 1027.0 1030.6 1048.0 1034.3 1099.0 1037.4 1156.0 1039.0 1156.0 1087.0 1141.0 1087.9 1117.0 1086.7 1006.0 1086.4 984.4 1088.7 449.9 1088.7 430.0 1073.6 429.3 1070.7 427.0 1068.4 425.7 1064.7 418.0 1050.6 409.0 1037.0 406.0 1033.5 402.1 1031.7 400.0 1026.4 390.5 1016.7 386.8 1013.7 361.0 998.6 350.9 986.7 334.0 964.1 307.0 945.0 291.8 935.7 290.3 929.7 288.7 911.7Z"/>
<path fill="#45707a" fill-rule="evenodd" d="M139.0 833.7 1156.0 833.7 1156.0 1021.8 1099.0 1020.1 1054.0 1017.5 1033.0 1014.2 1009.0 1008.3 964.0 993.4 877.0 970.6 796.0 946.7 544.0 904.8 451.0 886.9 361.0 872.1 349.0 872.1 298.0 883.7 283.0 891.1 280.0 893.5 278.3 896.7 277.8 899.7 278.4 902.7 280.0 905.3 283.0 907.7 283.2 914.7 285.4 935.7 286.9 938.7 290.1 941.7 304.0 949.9 330.7 968.7 345.9 989.7 358.0 1003.8 385.0 1019.2 394.6 1028.7 396.6 1031.7 394.0 1033.1 391.0 1033.4 364.0 1024.1 348.6 1022.7 316.0 1004.3 298.0 995.1 245.7 971.7 181.0 941.2 139.0 923.1ZM289.0 910.4 292.0 906.9 307.0 899.7 349.0 890.1 361.0 890.2 448.0 904.4 538.0 921.8 790.0 963.7 868.0 986.6 955.0 1009.5 1003.0 1025.2 1027.0 1031.1 1048.0 1034.9 1099.0 1037.9 1156.0 1039.6 1156.0 1083.7 1141.0 1084.8 1117.0 1083.3 1099.0 1083.8 1078.0 1083.1 1003.0 1083.0 991.0 1084.1 962.1 1088.7 455.5 1088.7 442.0 1080.1 427.0 1067.5 426.3 1064.7 418.0 1049.9 409.0 1036.5 406.0 1033.1 403.0 1031.5 399.7 1025.7 387.2 1013.7 361.0 998.3 351.1 986.7 334.0 963.8 307.0 944.8 292.1 935.7 290.9 932.7Z"/>
<path fill="#45757c" fill-rule="evenodd" d="M139.0 833.7 1156.0 833.7 1156.0 1021.3 1099.0 1019.6 1054.0 1016.9 1033.0 1013.7 1009.0 1007.7 964.0 992.8 877.0 970.0 796.0 946.2 544.0 904.3 451.0 886.3 361.0 871.6 349.0 871.6 298.0 883.1 283.0 890.5 280.0 892.7 277.7 896.7 277.3 899.7 277.9 902.7 279.6 905.7 283.1 908.7 283.0 914.7 285.1 935.7 286.7 938.7 289.8 941.7 304.0 950.1 330.4 968.7 345.6 989.7 358.0 1004.0 385.0 1019.4 394.3 1028.7 395.9 1031.7 394.0 1032.7 391.0 1032.7 364.0 1023.5 352.0 1022.0 310.0 997.1 248.1 965.7 178.0 924.9 139.0 904.6ZM289.1 911.7 292.0 907.6 307.0 900.3 349.0 890.6 361.0 890.7 448.0 904.9 538.0 922.3 790.0 964.2 868.0 987.2 955.0 1010.1 1002.6 1025.7 1027.0 1031.7 1048.0 1035.4 1099.0 1038.5 1156.0 1040.1 1156.0 1080.4 1141.0 1081.7 1117.0 1079.9 1099.0 1080.7 1078.0 1079.7 1000.0 1079.8 955.0 1086.0 928.6 1088.7 463.0 1088.7 454.0 1084.8 448.0 1081.2 427.0 1065.2 418.4 1049.7 408.1 1034.7 403.0 1031.2 400.0 1025.7 388.0 1014.0 361.0 998.0 351.4 986.7 334.0 963.6 307.2 944.7 292.3 935.7 291.0 932.7Z"/>
<path fill="#46797d" fill-rule="evenodd" d="M139.0 833.7 1156.0 833.7 1156.0 940.5 1152.2 950.7 1150.4 962.7 1151.6 971.7 1156.0 981.5 1156.0 1020.7 1093.0 1018.7 1054.0 1016.4 1033.0 1013.1 1009.0 1007.1 964.0 992.2 877.0 969.4 796.0 945.6 544.0 903.7 451.0 885.8 361.0 871.0 349.0 871.0 298.0 882.5 280.0 892.0 278.4 893.7 276.7 899.7 278.9 905.7 282.5 908.7 284.9 935.7 286.4 938.7 289.5 941.7 304.0 950.3 330.0 968.7 345.4 989.7 358.0 1004.3 385.0 1019.6 394.1 1028.7 395.1 1031.7 391.0 1032.1 367.0 1023.7 352.5 1019.7 310.0 993.1 259.8 965.7 232.3 947.7 175.0 906.0 157.0 894.4 139.0 884.0ZM289.5 911.7 292.0 908.2 307.0 900.9 349.0 891.2 361.0 891.3 448.0 905.5 538.0 922.9 790.0 964.8 874.0 989.4 955.0 1010.6 1000.6 1025.7 1027.0 1032.2 1048.0 1036.0 1099.0 1039.0 1156.0 1040.7 1156.0 1077.2 1141.0 1078.8 1120.0 1076.6 1099.0 1077.7 1081.0 1076.5 1063.0 1077.1 1000.0 1076.4 955.0 1082.2 928.0 1084.7 886.0 1087.3 843.2 1088.7 479.7 1088.7 472.0 1087.6 463.0 1085.5 454.0 1081.7 446.2 1076.7 427.0 1062.4 424.0 1059.4 419.0 1049.7 408.5 1034.7 406.0 1032.3 403.0 1030.8 400.3 1025.7 387.9 1013.7 366.6 1001.7 361.0 997.8 351.6 986.7 334.0 963.4 307.5 944.7 292.6 935.7 291.2 932.7Z"/>
<path fill="#467d7e" fill-rule="evenodd" d="M139.0 833.7 1156.0 833.7 1156.0 890.7 1143.2 908.7 1132.0 929.7 1125.4 947.7 1123.4 956.7 1122.5 965.7 1124.0 977.7 1128.5 986.7 1134.5 992.7 1156.0 1007.7 1156.0 1020.1 1117.0 1018.3 1093.0 1018.1 1054.0 1015.8 1033.0 1012.5 1009.0 1006.5 964.0 991.6 877.0 968.9 799.0 945.7 544.0 903.1 451.0 885.2 361.0 870.5 349.0 870.5 298.0 881.9 280.0 891.2 277.7 893.7 276.2 899.7 278.2 905.7 281.6 908.7 284.7 935.7 286.2 938.7 289.2 941.7 304.0 950.5 329.7 968.7 345.1 989.7 358.0 1004.5 384.7 1019.7 393.6 1028.7 394.3 1031.7 392.6 1031.7 356.6 1019.7 313.0 991.1 269.4 965.7 248.0 950.7 230.0 935.7 193.0 901.2 175.0 885.6 157.0 871.8 139.0 860.2ZM289.9 911.7 292.0 908.8 307.0 901.5 349.0 891.7 361.0 891.9 448.0 906.1 538.0 923.5 790.0 965.3 874.0 990.0 955.0 1011.2 1000.0 1026.1 1027.0 1032.8 1048.0 1036.5 1099.0 1039.6 1156.0 1041.3 1156.0 1074.3 1141.0 1075.9 1120.0 1073.4 1096.0 1074.7 1081.0 1073.5 1063.0 1074.1 1000.0 1073.2 952.0 1078.7 916.0 1081.5 766.0 1087.3 736.0 1085.0 709.0 1086.9 673.0 1085.3 634.0 1086.4 607.0 1084.7 583.0 1086.2 544.0 1084.8 499.0 1085.9 469.0 1083.6 460.0 1081.2 454.0 1078.4 424.0 1057.5 423.5 1055.7 421.0 1053.5 419.7 1049.7 409.0 1034.8 406.0 1031.9 403.0 1030.5 400.6 1025.7 388.0 1013.5 367.0 1001.7 361.0 997.5 351.8 986.7 334.0 963.1 307.8 944.7 292.9 935.7 291.4 932.7Z"/>
<path fill="#46827e" fill-rule="evenodd" d="M141.2 833.7 1156.0 833.7 1156.0 850.8 1144.0 865.5 1132.0 883.4 1123.0 899.9 1114.0 920.3 1105.3 947.7 1102.9 959.7 1101.8 971.7 1102.2 980.7 1103.5 986.7 1105.9 992.7 1111.0 999.6 1118.3 1004.7 1141.0 1011.6 1150.7 1016.7 1144.0 1017.7 1093.0 1017.6 1069.0 1015.6 1054.0 1015.3 1033.0 1012.0 1009.0 1006.0 964.0 991.1 877.0 968.3 799.0 945.1 541.0 902.1 451.0 884.7 361.0 869.9 349.0 869.9 298.0 881.3 279.7 890.7 277.0 893.7 275.6 899.7 277.5 905.7 280.6 908.7 281.8 911.7 284.5 935.7 285.9 938.7 289.0 941.8 303.9 950.7 329.4 968.7 344.8 989.7 358.0 1004.9 384.3 1019.7 392.9 1028.7 391.0 1030.7 360.6 1019.7 313.0 987.4 277.6 965.7 260.9 953.7 247.2 941.7 235.5 929.7 196.0 882.3 178.0 862.6 160.0 846.7ZM290.3 911.7 292.0 909.4 310.0 901.2 349.0 892.3 361.0 892.4 448.0 906.6 538.0 924.0 790.0 965.9 868.0 988.9 955.0 1011.8 1000.0 1026.7 1027.0 1033.4 1048.0 1037.1 1063.0 1038.3 1156.0 1041.8 1156.0 1071.5 1141.0 1073.0 1117.0 1070.3 1096.0 1071.9 1081.0 1070.8 1042.0 1070.3 1024.0 1070.8 1000.0 1070.0 955.0 1074.6 925.0 1076.8 766.0 1083.4 736.0 1081.1 709.0 1083.0 670.0 1081.6 634.0 1082.3 607.0 1080.5 583.0 1082.0 538.0 1080.7 496.0 1081.5 478.0 1080.9 466.0 1079.5 460.0 1077.8 454.0 1075.0 421.0 1052.8 420.3 1049.7 418.0 1047.6 409.4 1034.7 406.0 1031.4 403.0 1030.2 400.9 1025.7 388.0 1013.3 364.0 999.7 361.0 997.2 352.0 986.6 336.8 965.7 334.0 962.9 308.1 944.7 293.1 935.7 291.6 932.7 290.2 917.7Z"/>
<path fill="#47877f" fill-rule="evenodd" d="M183.3 833.7 1136.4 833.7 1128.1 845.7 1120.0 859.5 1107.0 887.7 1095.9 920.7 1087.6 956.7 1085.1 980.7 1085.7 989.7 1087.0 995.4 1092.4 1004.7 1105.9 1016.7 1093.0 1017.0 1078.0 1015.1 1054.0 1014.7 1033.0 1011.4 1009.0 1005.4 964.0 990.5 877.0 967.7 805.0 946.2 793.0 943.4 541.0 901.5 451.0 884.1 361.0 869.4 349.0 869.4 298.0 880.7 283.0 888.0 278.9 890.7 276.4 893.7 275.1 899.7 276.8 905.7 280.0 909.0 281.4 911.7 284.2 935.7 285.4 938.7 289.0 942.3 303.5 950.7 329.1 968.7 344.5 989.7 358.0 1005.5 383.9 1019.7 392.3 1028.7 391.0 1030.0 369.8 1022.7 361.0 1017.6 316.0 985.7 280.4 962.7 261.8 947.7 247.7 932.7 236.4 917.7 225.0 899.7 199.0 855.0ZM290.8 911.7 292.0 910.0 310.0 901.8 349.0 892.8 361.0 893.0 448.0 907.2 538.0 924.6 790.0 966.4 868.0 989.5 955.0 1012.4 1000.0 1027.3 1027.0 1033.9 1060.0 1039.1 1072.0 1039.0 1117.0 1041.7 1156.0 1042.4 1156.0 1068.7 1141.0 1070.1 1117.0 1067.1 1096.0 1069.0 1051.0 1067.2 1027.0 1067.8 997.0 1066.9 943.0 1071.6 835.0 1076.2 799.0 1079.0 760.0 1079.4 736.0 1077.1 712.0 1078.9 658.0 1077.5 631.0 1078.0 607.0 1076.2 583.0 1077.5 529.0 1076.0 484.0 1076.7 466.0 1075.8 460.0 1074.3 454.0 1071.3 435.5 1058.7 421.0 1050.1 418.0 1047.1 416.6 1043.7 409.9 1034.7 406.0 1031.0 403.0 1029.8 401.2 1025.7 388.8 1013.7 364.0 999.5 361.0 997.0 352.0 986.4 337.0 965.7 334.0 962.7 308.4 944.7 293.4 935.7 291.8 932.7 290.4 917.7Z"/>
<path fill="#488c80" fill-rule="evenodd" d="M215.3 833.7 509.3 833.7 523.0 839.9 541.0 846.5 558.7 851.7 580.0 856.7 604.0 861.3 631.0 865.3 652.0 867.4 670.0 868.2 682.0 867.7 694.0 866.2 703.0 863.9 712.0 860.2 720.6 854.7 727.0 848.9 733.0 841.5 737.8 833.7 1106.9 833.7 1098.1 854.7 1090.0 879.9 1082.3 911.7 1076.1 944.7 1072.0 974.7 1070.5 998.7 1072.0 1008.5 1073.2 1010.7 1077.2 1013.7 1050.0 1013.7 1033.0 1010.9 1012.0 1005.7 964.0 989.9 877.0 967.1 799.0 943.9 541.0 900.9 454.0 884.0 361.0 868.8 346.0 869.1 298.0 880.2 280.0 889.1 275.8 893.7 274.5 899.7 276.1 905.7 281.1 911.7 285.0 938.7 289.0 942.7 303.2 950.7 328.8 968.7 344.2 989.7 358.0 1006.2 361.0 1007.0 364.0 1009.6 367.0 1010.2 379.0 1017.9 383.5 1019.7 389.1 1025.7 388.0 1028.1 373.2 1022.7 358.0 1013.1 319.0 984.4 282.8 959.7 271.9 950.7 263.0 941.7 249.5 923.7 238.5 902.7 230.3 881.7ZM290.5 914.7 292.0 910.6 308.7 902.7 349.0 893.4 361.0 893.5 448.0 907.7 550.0 927.2 790.0 967.0 866.6 989.7 955.0 1013.0 1000.0 1027.8 1024.0 1033.9 1057.0 1040.1 1072.0 1039.6 1111.0 1042.7 1126.0 1042.1 1156.0 1042.9 1156.0 1065.9 1141.0 1067.2 1117.0 1063.7 1093.0 1066.0 1069.0 1065.1 1054.0 1063.5 1030.0 1064.8 997.0 1063.7 943.0 1067.5 835.0 1071.7 799.0 1075.3 781.0 1074.5 757.0 1074.9 736.0 1072.7 712.0 1074.4 655.0 1073.0 631.0 1073.4 607.0 1071.4 586.0 1072.6 523.0 1070.7 475.0 1071.9 463.0 1071.1 457.0 1068.7 439.0 1057.4 418.0 1045.7 417.4 1043.7 415.0 1041.6 410.5 1034.7 406.0 1030.5 403.0 1029.5 401.5 1025.7 389.1 1013.7 364.0 999.3 361.0 996.7 352.0 986.1 337.2 965.7 334.3 962.7 308.7 944.7 293.6 935.7 291.9 932.7ZM389.0 1028.7 391.0 1028.1 391.6 1028.7 391.0 1029.4Z"/>
<path fill="#489280" fill-rule="evenodd" d="M241.9 863.7 241.8 848.7 242.8 833.7 453.5 833.7 478.2 848.7 499.0 859.4 517.0 866.7 538.0 873.0 577.4 881.7 643.0 893.0 679.0 897.6 706.0 898.8 718.0 897.9 730.0 895.3 740.4 890.7 748.7 884.7 756.8 875.7 763.0 866.4 770.5 851.7 777.9 833.7 1081.0 833.7 1076.3 854.7 1072.0 879.4 1066.5 920.7 1057.9 998.7 1055.9 1010.7 1054.0 1012.1 1039.0 1011.4 1012.0 1005.1 964.0 989.4 880.0 967.3 799.0 943.3 766.0 937.3 753.1 935.7 748.0 934.2 734.8 932.7 730.0 931.1 716.6 929.7 712.0 928.1 698.2 926.7 694.0 925.1 682.0 924.1 676.0 922.2 664.0 921.1 658.0 919.2 643.6 917.7 640.0 916.2 625.6 914.7 622.0 913.2 607.7 911.7 604.0 910.2 590.2 908.7 586.0 907.1 572.6 905.7 568.0 904.0 559.0 903.4 550.0 901.0 541.0 900.4 535.0 898.5 521.8 896.7 517.0 895.0 508.0 894.0 502.0 892.1 493.0 891.1 487.0 889.3 478.0 888.2 472.0 886.5 439.0 880.6 361.0 868.3 349.0 868.3 313.0 876.0 295.0 880.7 281.2 887.7 277.2 890.7 275.1 893.7 273.9 899.7 275.4 905.7 280.7 911.7 284.5 938.7 289.0 943.2 302.8 950.7 328.5 968.7 331.4 971.7 341.6 986.7 358.0 1006.9 361.0 1007.2 364.0 1010.0 367.5 1010.7 373.0 1015.1 377.4 1016.7 379.0 1018.5 383.0 1019.7 388.6 1025.7 388.0 1027.0 382.9 1025.7 377.2 1022.7 358.1 1010.7 319.0 981.0 288.8 959.7 278.0 950.7 269.3 941.7 262.4 932.7 257.0 923.7 249.3 905.7 244.0 884.7ZM290.7 914.7 292.0 911.1 307.0 903.9 349.0 894.0 361.0 894.1 448.0 908.3 547.0 927.3 790.0 967.6 865.0 989.8 955.0 1013.6 1001.0 1028.7 1053.2 1040.7 1057.0 1044.9 1060.0 1044.6 1064.3 1040.7 1072.0 1040.1 1102.0 1042.5 1109.3 1043.7 1111.0 1044.6 1126.0 1042.7 1156.0 1043.5 1156.0 1063.0 1147.0 1064.0 1138.0 1063.8 1120.0 1059.9 1114.0 1059.2 1096.0 1062.9 1075.0 1062.4 1054.0 1058.8 1033.0 1061.5 997.0 1060.3 946.0 1063.2 838.0 1066.8 799.0 1070.6 778.0 1069.6 757.0 1069.8 736.0 1067.9 715.0 1069.2 691.0 1068.4 673.0 1068.8 652.0 1067.9 631.0 1068.0 610.0 1066.2 586.0 1066.9 544.0 1066.0 520.0 1064.6 472.0 1066.3 463.0 1065.7 457.0 1063.5 418.0 1043.0 415.0 1040.9 413.4 1037.7 406.0 1030.1 403.0 1029.1 401.8 1025.7 388.0 1012.6 363.5 998.7 352.0 985.8 334.6 962.7 309.0 944.7 293.9 935.7 292.0 931.7Z"/>
<path fill="#4a9881" fill-rule="evenodd" d="M257.0 866.7 262.0 849.6 270.3 833.7 410.4 833.7 445.0 854.7 481.0 875.0 499.0 883.4 517.0 889.4 564.9 899.7 668.4 917.7 706.0 922.9 733.0 924.2 745.0 923.0 757.0 919.3 764.4 914.7 772.0 907.3 779.3 896.7 787.0 882.2 808.2 833.7 1056.7 833.7 1052.3 947.7 1049.8 983.7 1047.0 1010.7 1039.0 1010.8 1012.6 1004.7 964.0 988.8 880.0 966.8 802.0 943.2 790.0 940.5 775.0 938.7 769.0 936.6 756.6 935.7 754.0 933.8 738.2 932.7 736.0 930.5 720.1 929.7 718.0 927.2 702.1 926.7 700.0 924.1 684.0 923.7 682.0 921.0 666.0 920.7 664.0 918.0 647.7 917.7 646.0 915.1 629.7 914.7 628.0 912.2 612.0 911.7 610.0 909.1 594.1 908.7 592.0 906.0 576.2 905.7 574.0 903.0 559.0 902.8 556.0 900.1 541.0 899.8 538.0 897.1 525.1 896.7 523.0 894.2 509.7 893.7 508.0 891.7 494.2 890.7 493.0 889.3 490.0 888.4 478.1 887.7 475.0 885.8 463.0 884.8 460.0 883.1 448.0 882.0 442.0 880.2 433.0 879.5 424.0 877.4 415.0 876.6 361.0 867.7 346.0 868.0 301.0 878.2 295.0 880.1 280.0 887.7 277.0 890.0 274.5 893.7 272.9 899.7 274.7 905.7 280.3 911.7 283.0 926.3 284.0 938.7 289.0 943.6 291.9 944.7 298.0 949.0 302.4 950.7 328.2 968.7 337.6 980.7 341.2 986.7 349.2 995.7 350.1 998.7 349.0 1001.3 319.0 977.7 289.0 955.6 277.5 944.7 270.3 935.7 262.1 920.7 256.8 902.7 255.2 884.7ZM290.9 914.7 292.0 911.7 310.0 903.5 349.0 894.5 361.0 894.6 447.1 908.7 544.0 927.7 706.0 954.8 790.0 968.1 865.0 990.4 955.0 1014.1 1000.0 1029.0 1024.0 1035.1 1039.0 1037.7 1047.7 1040.7 1049.9 1049.7 1048.9 1052.7 1045.1 1055.7 1036.0 1057.9 994.0 1056.7 952.0 1058.7 838.0 1061.8 799.0 1064.8 757.0 1064.0 736.0 1062.5 712.0 1063.2 634.0 1062.0 610.0 1060.2 547.0 1059.1 520.0 1057.5 490.0 1057.4 469.0 1058.8 463.0 1058.6 457.0 1057.1 445.0 1052.5 415.0 1038.7 406.0 1029.6 403.0 1028.8 402.2 1025.7 388.0 1012.4 363.8 998.7 352.0 985.5 334.9 962.7 309.3 944.7 294.2 935.7 292.0 930.1ZM349.6 1001.7 352.0 1000.8 352.6 1001.7 352.0 1003.6ZM353.5 1004.7 355.0 1004.3 355.0 1005.8ZM357.5 1007.7 361.4 1007.7 361.0 1010.3ZM361.6 1010.7 367.1 1010.7 371.0 1013.7 370.0 1016.3ZM370.7 1016.7 376.0 1016.3 379.0 1019.2 382.6 1019.7 385.4 1022.7 385.0 1024.6ZM1062.3 1052.7 1062.7 1049.7 1064.5 1046.7 1069.0 1041.4 1072.0 1040.7 1075.0 1041.7 1103.3 1043.7 1107.9 1049.7 1108.4 1052.7 1106.3 1055.7 1102.0 1058.0 1096.0 1059.4 1090.0 1059.6 1071.7 1058.7 1064.4 1055.7ZM1119.5 1049.7 1122.7 1043.7 1150.0 1043.7 1153.0 1044.8 1156.0 1044.9 1156.0 1059.6 1141.0 1060.4 1129.9 1058.7 1123.1 1055.7 1120.0 1052.7Z"/>
<path fill="#4e9f80" fill-rule="evenodd" d="M308.6 833.7 367.0 833.8 388.0 843.1 456.6 881.7 450.3 881.7 448.0 879.2 433.0 878.9 427.0 876.6 415.0 876.0 409.0 874.0 397.0 873.1 391.0 871.4 382.0 870.6 373.0 868.7 361.0 867.1 349.0 867.1 340.0 868.5 298.0 878.2 280.0 886.5 275.2 890.7 272.2 896.7 271.9 899.7 272.5 902.7 275.8 908.7 280.0 911.8 281.4 923.7 283.0 927.9 283.5 938.7 289.0 944.1 296.2 947.7 298.0 949.5 302.1 950.7 316.0 961.1 319.0 962.4 325.0 967.4 327.7 968.7 337.0 980.1 340.7 986.7 349.0 996.1 346.0 996.2 319.0 974.4 295.4 956.7 285.4 947.7 277.6 938.7 273.6 932.7 269.1 923.7 266.2 914.7 264.4 902.7 264.6 890.7 266.9 878.7 271.6 866.7 277.0 857.7 286.0 847.5 298.0 838.7ZM779.9 938.7 787.0 930.9 793.0 921.2 820.0 864.2 836.0 833.7 1032.0 833.7 1038.0 878.7 1041.0 920.7 1041.4 968.7 1039.8 1007.7 1030.0 1008.4 1014.9 1004.7 964.0 988.2 880.0 966.2 817.6 947.7 814.0 946.1 808.0 944.9 805.0 943.0 795.8 941.7 793.0 939.6ZM291.1 914.7 292.0 912.3 310.0 904.0 349.0 895.1 361.0 895.2 457.0 911.1 466.0 913.4 475.6 914.7 481.0 916.6 491.1 917.7 496.0 919.6 505.0 920.4 511.0 922.5 522.1 923.7 526.0 925.4 537.5 926.7 541.0 928.2 553.0 929.3 559.0 931.2 571.0 932.3 577.0 934.2 590.7 935.7 595.0 937.3 608.5 938.7 613.0 940.4 626.1 941.7 631.0 943.4 644.1 944.7 649.0 946.4 662.3 947.7 667.0 949.4 679.0 950.5 685.0 952.3 698.7 953.7 703.0 955.3 715.0 956.3 721.0 958.2 733.0 959.3 742.0 961.6 751.0 962.3 757.0 964.1 772.0 965.7 778.0 967.5 790.0 968.7 793.0 970.2 800.1 971.7 865.0 991.0 955.0 1014.7 1000.0 1029.6 1024.0 1036.0 1035.5 1037.7 1042.5 1040.7 1043.6 1046.7 1043.1 1049.7 1039.0 1053.1 1033.0 1053.9 994.0 1052.7 838.0 1056.4 793.0 1058.2 739.0 1056.5 670.0 1056.1 634.0 1055.1 481.0 1047.2 472.0 1047.6 460.0 1050.2 451.0 1049.5 433.0 1043.9 412.0 1034.4 406.0 1029.2 403.0 1027.8 402.5 1025.7 388.0 1012.1 364.2 998.7 352.0 985.2 335.2 962.7 309.7 944.7 294.4 935.7 292.0 928.2ZM374.4 1016.7 376.2 1016.7 376.0 1017.6ZM379.8 1019.7 382.0 1019.6 382.0 1020.9ZM1068.3 1049.7 1070.0 1046.7 1073.5 1043.7 1084.0 1043.2 1097.0 1043.7 1100.4 1046.7 1101.9 1049.7 1100.7 1052.7 1099.0 1053.9 1090.0 1055.3 1078.0 1055.0 1072.0 1054.1 1069.5 1052.7ZM1127.5 1046.7 1132.0 1045.1 1138.0 1045.1 1156.0 1047.1 1156.0 1055.1 1141.0 1055.7 1132.0 1054.2 1128.8 1052.7 1126.9 1049.7Z"/>
<path fill="#52a67f" fill-rule="evenodd" d="M865.5 833.7 1004.2 833.7 1012.0 851.7 1018.0 869.6 1022.7 887.7 1026.8 908.7 1029.6 929.7 1031.5 953.7 1032.3 1007.7 1030.0 1007.8 1027.0 1005.9 1021.0 1005.6 1009.0 1002.4 964.0 987.7 880.0 965.6 829.7 950.7 826.0 949.0 819.5 947.7 817.0 945.9 809.8 944.7 808.0 942.4 804.2 941.7 823.0 901.1 835.0 878.1 850.0 854.0ZM274.1 887.7 278.2 878.7 283.0 871.7 289.0 865.3 295.0 860.5 304.0 855.1 313.0 851.3 331.0 847.1 349.0 846.9 358.0 848.4 367.0 850.9 382.0 857.8 407.0 872.7 398.7 872.7 397.0 870.7 382.0 870.1 376.0 867.9 364.0 867.1 361.0 866.2 349.0 866.3 337.0 868.2 333.4 869.7 310.0 874.4 304.0 876.5 298.0 877.1 292.0 879.7 289.0 881.9 286.0 882.5 283.0 884.9 280.0 885.3 277.0 888.0ZM274.0 890.9 273.2 890.7 274.0 888.1ZM291.3 914.7 292.0 912.8 310.0 904.6 352.0 895.5 361.0 895.7 440.4 908.7 445.0 910.2 457.4 911.7 460.0 913.3 472.7 914.7 475.0 916.8 486.4 917.7 490.0 920.3 495.1 920.7 505.0 923.3 517.0 924.6 523.0 926.5 532.0 927.0 538.0 929.4 547.5 929.7 556.0 932.4 568.0 933.0 574.0 935.5 586.0 935.9 589.0 937.9 592.0 938.5 604.0 938.9 607.0 941.0 622.0 941.7 625.0 944.1 639.6 944.7 643.0 947.1 657.2 947.7 661.0 950.1 676.0 951.0 679.0 953.0 694.0 954.1 697.0 955.9 712.0 957.1 718.0 959.4 730.0 960.1 736.0 962.4 748.1 962.7 754.0 965.3 766.5 965.7 772.0 968.2 786.0 968.7 790.0 970.8 797.6 971.7 802.0 973.7 808.0 974.6 811.0 976.1 817.0 977.3 865.0 991.5 952.0 1014.4 1009.0 1033.0 1018.3 1034.7 1024.0 1036.9 1032.2 1037.7 1035.5 1040.7 1035.5 1043.7 1033.0 1047.0 1024.0 1048.2 811.0 1051.5 754.0 1050.7 634.0 1047.6 544.0 1042.1 481.0 1037.2 472.0 1037.7 457.0 1043.3 451.0 1044.0 445.0 1043.5 430.0 1039.3 405.9 1028.7 388.0 1011.9 364.7 998.7 361.0 995.5 352.0 984.9 335.5 962.7 313.0 946.7 298.0 937.1 294.7 935.7 292.0 926.2ZM274.0 907.7 280.0 912.9 281.2 926.7 283.0 929.5 283.0 939.6 276.6 929.7 273.1 920.7 271.3 908.7ZM284.6 941.7 286.1 941.7 286.0 943.3ZM287.2 944.7 289.5 944.7 289.0 946.6ZM290.0 947.7 295.0 947.4 298.0 950.1 301.7 950.7 307.0 955.4 310.0 956.3 316.0 961.6 319.0 962.6 326.9 968.7 337.2 980.7 337.7 983.7 337.0 986.0 298.0 954.9ZM337.8 986.7 340.0 986.1 340.0 988.5ZM341.5 989.7 343.0 989.5 343.0 991.0Z"/>
<path fill="#59ad7c" fill-rule="evenodd" d="M819.7 944.7 835.0 913.1 850.1 887.7 859.0 875.4 868.0 864.7 877.0 855.6 886.0 847.8 898.0 839.4 909.1 833.7 961.6 833.7 970.0 838.8 976.0 843.6 988.0 856.7 998.2 872.7 1007.5 893.7 1014.8 917.7 1019.6 941.7 1022.8 968.7 1024.6 1004.7 1021.0 1005.0 1018.0 1003.3 1009.0 1001.8 967.0 987.9 880.0 965.1 841.6 953.7 838.0 952.0 831.6 950.7 829.0 948.7 822.1 947.7ZM363.9 863.7 346.0 864.6 344.3 866.7 334.0 867.5 330.8 869.7 322.0 870.4 316.0 873.1 307.0 873.6 304.0 875.9 294.4 875.7 301.0 871.3 310.0 867.0 328.0 861.9 346.0 860.4 355.0 861.3ZM365.9 866.7 367.0 864.9 370.9 866.7ZM290.8 878.7 292.0 877.6 292.3 878.7ZM291.5 914.7 292.0 913.4 310.0 905.2 352.0 896.0 361.0 896.3 400.0 902.7 406.0 904.4 418.5 905.7 424.0 907.6 436.0 908.5 442.0 911.0 452.1 911.7 478.0 931.1 484.0 933.9 491.0 935.7 520.0 939.3 751.0 975.8 787.0 982.6 793.0 982.4 796.0 981.1 802.9 974.7 805.4 974.7 808.0 976.7 816.3 977.7 820.0 979.4 826.0 980.5 868.0 993.0 952.0 1015.0 993.7 1028.7 997.0 1030.4 1003.7 1031.7 1006.0 1033.3 1016.0 1034.7 1018.0 1037.1 1022.8 1037.7 1018.0 1040.5 1012.0 1041.7 976.0 1044.0 901.0 1045.5 787.0 1044.4 637.0 1039.6 487.0 1028.5 478.0 1029.0 472.0 1030.3 457.0 1036.8 451.0 1038.5 445.0 1038.9 439.0 1038.2 427.0 1034.9 403.0 1024.8 388.0 1011.7 365.2 998.7 361.0 995.0 352.0 984.6 335.7 962.7 310.0 944.3 298.0 936.8 294.9 935.7 292.0 924.2ZM276.8 911.7 280.2 914.7 280.0 927.8 277.7 920.7ZM297.5 950.7 301.3 950.7 304.6 953.7 304.0 956.2ZM304.7 956.7 310.0 956.5 316.0 962.2 322.6 965.7 334.0 977.3 334.0 980.6Z"/>
<path fill="#60b479" fill-rule="evenodd" d="M833.0 947.7 847.0 921.9 859.0 903.9 871.0 889.5 886.0 875.7 901.0 866.0 910.0 862.0 919.0 859.3 934.0 857.8 943.0 858.8 949.0 860.3 958.0 864.0 964.0 867.5 976.0 877.5 988.0 892.8 996.7 908.7 1004.6 929.7 1009.9 950.7 1013.7 974.7 1015.8 1001.7 1011.0 1001.7 1009.0 1000.1 1003.0 999.2 1000.0 997.6 967.0 987.3 865.0 960.1 850.0 955.0 843.7 953.7 841.0 951.7 834.3 950.7ZM291.7 914.7 292.0 913.9 310.0 905.8 349.8 896.7 359.2 896.7 378.5 899.7 385.0 901.6 396.8 902.7 400.0 904.7 414.6 905.7 418.0 908.3 421.8 908.7 442.0 919.1 475.0 943.9 481.0 946.7 490.0 949.3 745.0 985.8 787.0 993.6 796.0 993.2 802.0 990.9 808.0 986.7 814.0 980.4 823.0 980.3 826.0 981.9 832.0 982.9 868.0 993.6 952.0 1015.6 976.0 1024.1 982.9 1025.7 985.0 1027.3 991.9 1028.7 994.0 1030.8 1001.0 1031.7 1001.2 1034.7 976.0 1037.9 901.0 1040.2 850.0 1037.8 757.0 1036.0 637.0 1030.4 490.0 1019.0 481.0 1019.7 475.0 1021.2 451.0 1032.9 445.0 1034.0 436.0 1033.6 424.0 1030.3 397.0 1019.7 385.0 1009.3 382.0 1008.3 379.0 1005.9 376.0 1004.8 365.7 998.7 352.0 984.3 336.0 962.7 310.0 943.8 295.0 935.0 292.0 922.2ZM319.7 965.7 322.2 965.7 322.0 967.6ZM323.3 968.7 325.4 968.7 325.0 970.2ZM326.7 971.7 328.0 971.4 328.0 972.8ZM330.3 974.7 331.0 974.5 331.0 975.3Z"/>
<path fill="#68ba74" fill-rule="evenodd" d="M846.0 950.7 857.0 932.7 868.0 917.9 880.0 905.2 892.0 895.6 904.0 888.8 919.0 883.9 931.0 882.8 943.0 884.5 955.0 889.2 967.0 897.5 976.0 906.8 985.4 920.7 993.9 938.7 999.5 956.7 1003.3 974.7 1005.4 995.7 1003.0 997.6 1000.0 996.3 994.4 995.7 991.0 993.9 985.0 992.7 964.0 985.7 880.0 963.9 865.7 959.7 862.0 957.8 856.0 956.7 853.0 954.6 846.5 953.7ZM291.9 914.7 310.0 906.4 349.0 897.6 358.0 897.6 375.1 899.7 379.0 901.8 386.0 902.7 400.0 911.1 427.4 923.7 441.5 932.7 469.0 955.3 481.0 961.6 493.0 965.2 577.0 976.5 745.0 997.6 790.0 1004.6 799.0 1003.8 808.0 1000.5 817.0 994.3 826.4 983.7 832.0 983.5 835.0 985.7 841.0 986.1 844.0 987.8 850.0 988.9 865.0 993.6 952.0 1016.2 955.0 1017.7 962.8 1019.7 964.0 1021.0 971.6 1022.7 973.0 1024.4 980.4 1025.7 982.0 1028.3 985.1 1028.7 964.0 1031.3 898.0 1034.4 847.0 1029.5 748.0 1025.6 649.0 1019.2 514.0 1008.2 490.0 1007.1 481.0 1008.0 472.0 1011.2 466.0 1015.1 457.0 1022.7 448.0 1027.9 442.0 1029.2 433.0 1028.9 397.0 1017.6 394.0 1016.3 385.0 1008.9 382.0 1008.1 379.0 1005.6 376.3 1004.7 370.0 1000.3 366.2 998.7 352.0 984.1 350.2 980.7 336.3 962.7 310.0 943.4 301.3 938.7 295.0 934.0 292.0 920.2Z"/>
<path fill="#72c26d" fill-rule="evenodd" d="M293.4 914.7 310.0 907.1 343.0 899.3 352.0 898.4 368.2 899.7 388.2 914.7 419.1 932.7 430.0 941.0 451.1 962.7 460.8 974.7 464.2 980.7 464.9 983.7 464.4 986.7 457.0 995.9 456.0 998.7 455.4 1007.7 453.3 1013.7 448.3 1019.7 443.2 1022.7 436.0 1023.8 430.0 1023.5 405.3 1016.7 394.0 1014.5 385.0 1008.4 381.6 1007.7 379.0 1005.2 372.3 1001.7 370.0 999.6 366.7 998.7 352.0 983.8 350.6 980.7 336.6 962.7 319.0 949.5 315.6 947.7 310.0 942.9 306.5 941.7 304.0 939.3 297.4 935.7 295.0 933.1 293.7 923.7 292.0 917.7ZM859.0 955.4 868.0 942.3 877.0 931.6 886.0 922.9 898.0 914.3 907.0 909.8 919.0 906.3 931.0 905.6 940.0 907.0 951.7 911.7 960.5 917.7 969.5 926.7 976.1 935.7 982.5 947.7 988.1 962.7 991.7 977.7 993.1 992.7 988.0 992.9 985.0 990.8 979.0 990.2 976.0 988.2 970.0 987.2 967.0 985.5 961.0 984.6 892.0 966.5 886.0 964.3 880.0 963.4 874.0 960.7 867.8 959.7 865.0 957.4 858.9 956.7ZM833.3 1004.7 835.3 998.7 841.0 987.8 844.0 989.4 850.0 989.5 853.0 991.6 859.0 992.2 865.0 994.6 894.9 1001.7 898.0 1003.0 928.7 1010.7 931.0 1012.1 940.0 1013.6 943.0 1015.5 951.9 1016.7 955.0 1019.2 961.1 1019.7 961.7 1022.7 907.0 1027.3 892.0 1026.6 870.7 1022.7 844.0 1016.3 837.9 1013.7 834.4 1010.7 833.2 1007.7Z"/>
<path fill="#7cc865" fill-rule="evenodd" d="M293.1 917.7 295.5 914.7 307.6 908.7 316.0 906.7 317.7 905.7 328.0 904.2 331.0 902.6 340.0 901.6 346.0 899.4 358.0 900.2 385.0 921.4 401.1 932.7 409.8 941.7 426.2 971.7 436.8 986.7 439.0 992.7 440.5 1001.7 440.4 1007.7 439.4 1010.7 436.0 1014.3 433.0 1015.6 427.0 1016.3 394.0 1012.6 388.0 1010.7 385.0 1008.0 382.0 1007.6 376.0 1002.5 373.0 1001.7 370.0 998.9 367.0 997.4 355.0 986.9 351.1 980.7 346.0 975.1 344.4 971.7 336.9 962.7 319.0 949.0 315.9 947.7 310.0 942.5 306.9 941.7 301.0 936.3 299.0 935.7 295.0 929.9ZM874.8 959.7 882.1 950.7 889.0 943.8 895.4 938.7 904.0 933.4 913.0 929.8 922.0 928.1 931.0 928.1 937.0 929.3 945.8 932.7 952.0 936.6 958.0 941.8 964.0 948.8 969.0 956.7 973.1 965.7 976.4 977.7 977.3 986.7 971.4 986.7 967.0 984.3 961.0 984.0 958.0 982.2 949.0 980.9 946.0 979.3 937.0 977.8 934.0 976.2 928.0 975.3 922.0 973.1 914.0 971.7 910.0 969.9 902.8 968.7 901.0 967.4 891.2 965.7 889.0 963.9 880.0 962.8 877.0 959.9ZM860.6 995.7 868.9 995.7 871.0 997.7 880.0 998.4 883.0 1000.4 892.0 1001.5 895.0 1003.4 903.7 1004.7 907.0 1006.7 915.1 1007.7 919.0 1010.0 926.3 1010.7 928.0 1012.9 937.4 1013.7 937.0 1015.3 913.0 1017.8 901.0 1017.9 892.0 1016.5 880.0 1012.9 869.2 1007.7 862.8 1001.7Z"/>
<path fill="#8ace5a" fill-rule="evenodd" d="M294.6 917.7 297.2 914.7 301.0 913.4 304.0 911.2 307.0 910.5 310.0 908.5 316.0 908.2 334.0 904.5 343.0 903.4 349.0 903.7 358.0 907.7 393.5 935.7 401.5 944.7 425.0 989.7 426.6 998.7 424.5 1004.7 420.8 1007.7 415.0 1009.3 394.0 1010.3 388.0 1008.7 376.5 1001.7 355.0 985.3 346.0 974.8 344.9 971.7 337.0 962.2 305.1 938.7 295.0 924.8ZM897.6 965.7 904.9 959.7 913.0 955.7 922.0 953.8 931.0 954.6 940.0 958.5 946.0 963.7 951.2 971.7 953.2 980.7 951.8 980.7 949.0 978.2 939.2 977.7 937.0 975.6 927.7 974.7 925.0 972.5 916.7 971.7 913.0 969.3 906.0 968.7 904.0 966.4Z"/>
<path fill="#96d34f" fill-rule="evenodd" d="M298.2 917.7 301.4 914.7 307.0 912.6 322.0 912.1 340.0 909.6 349.0 910.4 355.0 912.9 361.0 916.6 387.9 938.7 397.0 949.4 407.5 968.7 415.4 986.7 416.7 995.7 415.0 1000.1 413.8 1001.7 409.1 1004.7 394.0 1007.7 391.0 1007.5 388.0 1006.2 376.0 998.6 364.0 990.0 349.0 977.7 346.0 973.7 345.4 971.7 340.0 966.1 337.0 961.4 333.6 959.7 328.0 954.5 325.4 953.7 316.0 945.4 314.0 944.7 298.0 923.7 297.2 920.7Z"/>
<path fill="#a4d743" fill-rule="evenodd" d="M305.4 920.7 310.0 918.5 334.0 915.8 343.0 915.7 352.0 918.0 364.0 925.5 385.0 943.5 391.0 950.5 395.1 956.7 403.0 971.7 407.9 983.7 409.2 992.7 408.5 995.7 406.6 998.7 402.8 1001.7 394.0 1004.4 391.0 1004.1 381.0 998.7 364.0 986.9 349.0 974.8 340.0 965.8 339.1 962.7 337.0 960.6 333.9 959.7 318.2 944.7 306.0 926.7 304.8 923.7Z"/>
<path fill="#b6db38" fill-rule="evenodd" d="M317.1 926.7 322.8 923.7 331.0 922.1 340.0 921.6 346.0 922.5 352.0 924.6 358.0 927.9 370.0 936.9 384.3 950.7 394.1 965.7 398.4 974.7 401.5 983.7 402.2 989.7 400.1 995.7 397.0 998.3 394.0 999.4 388.0 998.5 368.8 986.7 353.0 974.7 340.0 963.4 330.8 953.7 321.0 941.7 316.5 932.7 316.0 929.7Z"/>
<path fill="#c5de2e" fill-rule="evenodd" d="M327.5 932.7 331.0 930.2 334.0 929.2 340.0 928.7 346.0 929.5 352.0 931.6 358.0 934.9 370.0 944.1 381.7 956.7 388.9 968.7 393.4 980.7 393.8 986.7 392.4 989.7 391.0 990.8 388.0 991.3 382.0 989.6 366.8 980.7 347.5 965.7 336.1 953.7 329.5 944.7 326.8 938.7 326.4 935.7Z"/>
<path fill="#d7e026" fill-rule="evenodd" d="M340.0 940.7 343.0 939.0 346.0 938.8 352.0 940.4 359.7 944.7 367.2 950.7 373.0 957.1 378.5 965.7 380.6 971.7 380.8 974.7 379.0 977.6 376.0 977.8 368.2 974.7 358.9 968.7 351.4 962.7 343.2 953.7 339.8 947.7 339.0 944.7Z"/></g>
<path d="M354.2 889.7 358.2 892.7 363.8 897.0 370.4 902.0 377.5 907.3 384.6 912.3 391.0 916.7 397.0 920.3 403.1 923.6 409.2 926.6 415.1 929.6 420.6 932.7 425.7 936.1 430.3 939.7 434.4 943.5 438.3 947.4 441.9 951.3 445.4 955.3 448.9 959.3 452.7 963.5 456.8 967.9 460.8 972.4 464.3 976.7 466.9 980.8 468.2 984.3 467.7 987.1 465.7 989.3 462.8 991.2 459.6 993.1 456.7 995.2 454.7 997.9 453.9 1001.4 453.8 1005.6 454.1 1010.1 454.2 1014.4 453.9 1018.2 452.7 1021.0 450.9 1023.0 448.8 1024.4 446.3 1025.4 443.0 1025.7 438.8 1025.6 433.4 1024.9 426.1 1023.5 417.0 1021.5 407.0 1018.8 396.8 1015.8 387.4 1012.6 379.4 1009.4 373.3 1006.2 368.6 1003.0 364.5 999.5 360.6 995.7 356.1 991.4 350.4 986.3 343.1 980.1 334.5 972.7 325.3 964.8 316.4 957.0 308.5 949.8 302.2 943.8 297.8 939.2 294.5 935.6 292.3 932.7 290.7 930.1 289.6 927.4 288.6 924.5 287.8 921.2 287.3 917.8 287.3 914.4 287.8 911.1 288.9 908.0 290.6 905.2 293.0 902.7 296.1 900.5 299.7 898.4 303.9 896.6 308.6 895.0 313.7 893.6 319.9 892.5 327.4 891.6 335.4 890.9 343.1 890.4 349.6 890.0 354.2 889.7" fill="none" stroke="#000" stroke-width="1.4" stroke-dasharray="1.6 3.2" stroke-linejoin="round" stroke-linecap="butt"/>
<path d="M280.7 837.3V1086.6 M354.0 837.3V1086.6 M428.0 837.3V1086.6 M540.0 837.3V1086.6 M794.9 837.3V1086.6" stroke="#000" stroke-width="3.7" stroke-dasharray="4.1 6.4" fill="none"/>
<path d="M354.0 879.5 359.9 880.7 367.9 882.3 377.7 884.2 388.5 886.2 400.0 888.2 412.5 890.1 426.3 892.1 440.9 894.1 455.7 896.2 470.0 898.2 483.4 900.1 496.1 901.9 509.1 903.8 523.2 905.9 539.0 908.5 557.8 911.8 579.1 915.7 601.0 919.8 621.9 923.6 640.0 926.7 654.1 928.8 665.3 930.3 675.5 931.5 686.5 932.8 700.0 934.7 716.5 937.2 734.7 940.0 754.2 943.0 774.3 946.4 794.4 950.0 814.8 954.0 835.8 958.3 857.1 962.8 878.6 967.5 900.0 972.2 923.0 977.3 947.8 982.9 971.7 988.4 992.3 993.2 1006.8 996.5" fill="none" stroke="#1e1c0e" stroke-width="4.6" stroke-dasharray="15 7" stroke-linejoin="round"/>
<path d="M344.6 911.2 351.9 912.3 362.1 913.8 374.1 915.6 387.1 917.6 400.0 919.7 413.1 921.9 427.0 924.2 441.3 926.7 455.8 929.2 470.0 931.7 483.5 934.1 496.4 936.4 509.6 938.8 523.7 941.3 539.6 944.1 558.4 947.4 579.6 951.0 601.5 954.8 622.2 958.3 640.0 961.2 653.5 963.2 664.0 964.5 673.4 965.6 683.7 967.0 697.0 969.3 714.6 972.9 735.1 977.3 756.6 982.1 777.0 986.5 794.4 990.1 808.0 992.5 819.3 994.3 829.1 995.6 838.5 996.8 848.5 998.2 859.4 999.8 870.5 1001.3 881.4 1002.8 891.4 1004.3 900.0 1005.7 906.9 1006.9 912.4 1008.0 917.1 1009.1 921.4 1010.3 925.7 1011.7 929.3 1013.5 931.7 1015.6 934.4 1017.8 938.4 1019.7 945.0 1021.0 955.9 1021.6 970.3 1021.7 985.7 1021.4 999.3 1021.1 1008.7 1021.0" fill="none" stroke="#1e1c0e" stroke-width="4.8" stroke-dasharray="4.8 7.2" stroke-linejoin="round"/>
</g>
<g clip-path="url(#cp4)">
<rect x="141.0" y="1086.6" width="1013.0" height="250.9" fill="#e0def6"/>
<clipPath id="m4"><path d="M286.7 1144.5 302.2 1134.9 348.5 1126.0 356.2 1125.2 450.0 1140.6 537.7 1156.1 640.0 1176.2 794.4 1200.5 910.3 1223.6 1006.8 1256.5 1030.0 1264.6 1057.0 1271.9 1100.0 1273.6 1160.0 1273.9 1160.0 1341.6 141.0 1341.6 141.0 1299.0 255.8 1289.3 348.5 1277.7 371.7 1275.8 381.0 1275.8 381.0 1275.8 363.9 1264.2 350.4 1248.8 336.9 1219.8 306.0 1202.4 288.6 1190.8 286.7 1175.4 283.6 1158.0 286.7 1144.5Z"/></clipPath>
<g clip-path="url(#m4)"><rect x="139.0" y="1084.6" width="1017.0" height="255.0" fill="#2e0351"/>
<path fill="#33105e" fill-rule="evenodd" d="M139.0 1249.2 154.0 1260.4 163.0 1264.5 169.0 1265.4 190.0 1265.4 208.0 1269.6 226.0 1268.5 241.0 1270.8 259.0 1266.8 274.0 1267.8 280.0 1265.7 288.7 1258.6 290.7 1255.6 291.6 1249.6 288.5 1240.6 280.0 1227.6 251.8 1195.6 238.8 1177.6 233.8 1168.6 228.7 1156.6 226.2 1147.6 224.9 1138.6 225.4 1126.6 227.5 1117.6 232.0 1108.2 238.9 1099.6 247.0 1093.2 259.0 1087.6 268.0 1085.6 280.0 1085.3 292.0 1087.6 304.0 1092.7 313.0 1098.9 322.0 1108.1 328.0 1116.9 333.0 1126.6 331.0 1127.4 328.0 1127.3 325.8 1129.6 328.0 1131.6 331.0 1131.1 333.8 1129.6 334.0 1128.8 347.7 1165.6 351.7 1171.6 355.0 1174.8 359.3 1177.6 364.0 1179.4 382.0 1182.3 418.7 1195.6 448.0 1201.5 643.0 1223.7 802.0 1245.4 955.0 1262.7 970.0 1263.8 985.0 1266.5 1000.0 1267.2 1015.0 1271.2 1030.0 1271.1 1045.0 1274.6 1060.0 1275.0 1075.0 1278.3 1090.0 1278.8 1102.0 1281.8 1120.0 1284.5 1135.0 1292.4 1141.0 1294.7 1147.0 1294.7 1156.0 1290.9 1156.0 1339.6 139.0 1339.6ZM286.0 1145.6 285.3 1147.6 286.0 1148.2 286.7 1147.6ZM301.0 1135.2 300.4 1135.6 301.0 1135.9ZM309.8 1132.6 313.0 1133.7 315.2 1132.6 313.0 1131.4ZM353.5 1276.6 364.8 1276.6 361.0 1276.1ZM412.0 1320.7 411.5 1321.6 412.0 1325.2 415.0 1327.3 415.0 1323.9ZM149.5 1297.6 157.0 1298.6 163.5 1297.6 157.0 1296.6ZM221.5 1291.6 233.5 1291.6 229.0 1291.1ZM257.5 1288.6 265.2 1288.6 262.0 1288.1ZM281.5 1285.6 289.2 1285.6 286.0 1285.1ZM286.0 1171.0 285.5 1171.6 286.0 1172.4 286.5 1171.6ZM310.0 1204.1 309.5 1204.6 310.0 1205.1Z"/>
<path fill="#371a67" fill-rule="evenodd" d="M139.0 1262.4 154.0 1272.8 160.0 1275.6 163.0 1276.0 169.0 1274.7 180.3 1270.6 187.0 1269.6 193.0 1270.0 208.0 1273.8 220.0 1271.6 226.0 1271.4 241.0 1274.5 253.0 1270.7 259.0 1269.8 265.0 1270.2 274.0 1272.2 277.0 1272.0 295.3 1261.6 298.9 1258.6 300.2 1255.6 300.3 1252.6 298.7 1246.6 295.8 1240.6 286.0 1225.6 260.5 1195.6 252.1 1183.6 244.6 1168.6 240.6 1153.6 240.1 1141.6 241.7 1132.6 245.5 1123.6 249.8 1117.6 256.0 1112.0 262.0 1108.5 271.0 1105.6 280.0 1105.0 289.0 1106.4 298.0 1109.8 307.0 1115.7 315.0 1123.6 325.0 1138.6 341.6 1174.6 346.0 1181.1 352.0 1187.3 361.0 1191.6 391.0 1200.6 409.0 1207.7 430.1 1213.6 439.0 1215.5 526.0 1225.9 631.0 1237.5 793.0 1259.8 943.0 1277.2 988.0 1281.3 1003.0 1283.9 1051.0 1289.4 1063.0 1291.6 1081.0 1293.3 1114.0 1298.8 1123.0 1302.1 1138.0 1309.2 1144.0 1310.9 1147.0 1310.9 1150.0 1309.8 1156.0 1304.7 1156.0 1339.6 139.0 1339.6ZM286.0 1144.0 284.7 1147.6 286.0 1148.9 287.3 1147.6 287.1 1144.6ZM288.8 1141.6 292.0 1142.5 293.0 1141.6 292.0 1140.5ZM293.7 1138.6 295.0 1139.8 297.3 1138.6 295.0 1137.2ZM301.0 1134.0 298.7 1135.6 301.0 1137.0 303.0 1135.6ZM301.0 1282.6 307.0 1283.5 316.0 1282.6 310.0 1281.7ZM307.0 1132.6 313.0 1134.8 316.0 1134.3 318.5 1132.6 316.0 1130.4 313.0 1130.1 310.0 1130.7ZM325.0 1279.6 331.0 1280.5 340.0 1279.6 334.0 1278.7ZM349.0 1276.6 361.0 1277.6 367.0 1276.6 361.0 1275.6ZM412.0 1319.0 410.3 1321.6 412.0 1327.2 415.0 1329.5 416.2 1327.6 416.1 1324.6 415.0 1321.7ZM145.0 1297.6 151.0 1299.1 157.0 1299.5 169.0 1297.6 166.0 1296.6 157.0 1295.6 151.0 1296.1ZM181.0 1294.6 193.0 1295.6 205.0 1294.6 193.0 1293.6ZM217.0 1291.6 229.0 1292.6 241.0 1291.6 229.0 1290.6ZM253.0 1288.6 262.0 1289.6 268.5 1288.6 262.0 1287.5ZM277.0 1285.6 286.0 1286.6 292.5 1285.6 286.0 1284.5ZM286.0 1170.5 284.9 1171.6 286.0 1173.2 287.0 1171.6ZM310.0 1203.6 309.0 1204.6 310.0 1205.6 311.0 1204.6Z"/>
<path fill="#39226d" fill-rule="evenodd" d="M139.0 1274.8 148.2 1282.6 157.0 1293.0 160.0 1293.5 166.0 1289.6 174.8 1279.6 181.0 1275.3 187.0 1273.6 196.0 1273.9 208.0 1277.9 223.0 1273.8 229.0 1274.2 241.0 1278.0 253.0 1273.2 259.0 1272.3 265.0 1272.9 274.0 1275.9 277.0 1276.0 292.0 1268.0 307.5 1264.6 309.7 1261.6 310.1 1258.6 308.7 1252.6 305.9 1246.6 291.0 1222.6 268.8 1195.6 262.5 1186.6 256.5 1174.6 253.2 1162.6 252.7 1153.6 253.3 1147.6 255.0 1141.6 259.0 1134.2 263.3 1129.6 268.0 1126.3 274.0 1123.9 283.0 1122.9 289.0 1123.7 295.0 1125.8 304.0 1131.2 304.2 1132.6 304.0 1133.2 301.0 1132.9 298.0 1133.7 292.0 1139.4 289.0 1140.0 284.4 1144.6 284.0 1147.6 286.0 1149.5 288.0 1147.6 289.0 1144.7 292.0 1143.4 295.0 1140.7 307.0 1135.3 308.9 1135.6 319.0 1148.6 337.0 1181.8 343.1 1189.6 349.0 1194.5 364.0 1201.0 388.0 1208.8 409.0 1216.6 430.1 1222.6 439.0 1224.3 524.6 1234.6 631.0 1246.6 793.0 1268.8 988.0 1291.4 1048.0 1299.1 1108.0 1307.9 1120.0 1311.0 1138.0 1317.5 1142.9 1318.6 1150.0 1317.7 1156.0 1313.6 1156.0 1339.6 139.0 1339.6ZM286.0 1169.9 284.4 1171.6 286.0 1174.0 287.5 1171.6ZM310.0 1203.1 308.5 1204.6 310.0 1206.1 311.5 1204.6ZM320.5 1279.6 322.0 1281.1 331.0 1281.1 344.5 1279.6 343.0 1278.1 334.0 1278.1ZM344.5 1276.6 346.0 1278.1 364.0 1277.8 367.8 1276.6 364.0 1275.1ZM409.9 1318.6 409.2 1321.6 412.0 1328.8 415.0 1331.3 416.2 1330.6 417.4 1327.6 415.7 1321.6 412.0 1318.0ZM475.0 1328.2 474.4 1330.6 475.0 1331.1 475.8 1330.6ZM245.5 1291.6 244.0 1290.1 229.0 1290.0 209.5 1291.6 208.0 1293.1 175.0 1294.0 172.0 1296.1 163.0 1294.8 151.0 1294.9 145.0 1295.8 141.3 1297.6 142.0 1299.1 148.0 1300.0 160.0 1300.4 166.0 1299.8 181.0 1296.1 202.0 1295.4 209.5 1294.6 211.0 1293.1 214.0 1293.8ZM245.5 1288.6 247.0 1290.1 250.0 1290.6 262.0 1290.1 272.5 1288.6 271.0 1287.1 265.0 1286.9ZM272.5 1285.6 274.0 1287.1 286.0 1287.1 296.5 1285.6 295.0 1284.1 289.0 1283.9ZM296.5 1282.6 298.0 1284.1 307.0 1284.1 320.5 1282.6 319.0 1281.1 310.0 1281.1Z"/>
<path fill="#3b2973" fill-rule="evenodd" d="M139.0 1316.0 142.0 1320.0 145.0 1321.8 154.0 1323.4 163.0 1323.7 168.0 1321.6 169.0 1318.8 168.3 1306.6 169.2 1300.6 181.0 1297.6 262.0 1290.6 352.0 1279.0 367.0 1277.8 368.6 1276.6 364.0 1274.5 346.0 1275.4 337.0 1277.2 319.0 1278.9 289.0 1283.1 277.0 1283.7 253.0 1287.6 184.0 1293.2 178.0 1292.9 173.2 1291.6 176.3 1285.6 181.0 1280.1 184.0 1278.2 190.0 1276.5 199.0 1277.7 208.0 1281.9 217.0 1277.5 226.0 1276.0 232.0 1277.3 241.0 1281.3 244.0 1280.4 250.0 1276.7 256.0 1274.7 265.0 1275.3 274.0 1279.0 277.0 1279.4 289.0 1272.3 295.0 1270.5 301.0 1270.4 310.0 1273.2 313.0 1271.9 315.9 1267.6 317.9 1261.6 318.0 1258.6 316.1 1252.6 295.0 1217.8 271.0 1186.6 267.9 1180.6 264.9 1171.6 264.0 1165.6 264.2 1159.6 265.6 1153.6 268.0 1148.6 271.0 1144.9 275.4 1141.6 280.0 1139.8 286.0 1139.1 286.2 1141.6 283.3 1144.6 283.3 1147.6 286.0 1150.1 289.0 1146.6 295.0 1141.6 298.0 1142.6 304.0 1146.7 313.0 1156.6 331.6 1186.6 340.0 1195.5 346.0 1199.9 355.0 1204.5 409.0 1223.6 430.0 1229.7 442.0 1231.8 634.0 1254.2 793.0 1275.9 1045.0 1306.1 1105.0 1314.9 1123.0 1319.1 1141.0 1324.7 1147.0 1324.4 1156.0 1319.4 1156.0 1339.6 139.0 1339.6ZM286.0 1169.3 283.9 1171.6 286.0 1175.0 288.0 1171.6ZM292.0 1191.3 290.5 1192.6 292.0 1194.1 293.3 1192.6ZM301.0 1197.4 299.6 1198.6 301.0 1199.9 302.2 1198.6ZM310.0 1202.6 308.0 1204.6 310.0 1206.6 311.9 1204.6ZM316.0 1206.5 314.9 1207.6 316.0 1208.7 317.1 1207.6ZM331.0 1215.7 330.1 1216.6 331.0 1217.4 331.9 1216.6ZM337.0 1218.7 336.2 1219.6 337.0 1220.4 337.9 1219.6ZM349.0 1245.8 349.0 1247.0 349.7 1246.6ZM409.0 1317.5 408.4 1321.6 412.0 1330.2 415.0 1332.8 418.0 1331.4 418.4 1327.6 416.3 1321.6 412.0 1317.2ZM451.0 1326.6 449.4 1327.6 451.0 1332.1 453.9 1330.6ZM472.0 1324.9 471.1 1327.6 475.0 1332.4 477.7 1330.6 475.0 1326.7ZM139.0 1290.7 139.8 1294.6 139.0 1298.3Z"/>
<path fill="#3c3278" fill-rule="evenodd" d="M139.0 1325.5 144.8 1327.6 163.0 1330.9 169.0 1331.3 175.0 1330.2 177.9 1327.6 178.4 1324.6 174.4 1309.6 174.3 1300.6 184.0 1297.9 262.0 1291.1 367.0 1278.3 369.4 1276.6 364.0 1273.8 343.0 1274.7 335.5 1276.6 325.0 1278.0 319.0 1277.9 314.9 1276.6 323.6 1264.6 324.9 1261.6 324.5 1255.6 321.4 1249.6 311.7 1234.6 298.7 1210.6 280.0 1186.1 277.1 1180.6 275.4 1174.6 275.6 1165.6 278.5 1159.6 283.0 1155.9 289.0 1154.6 292.0 1154.9 298.0 1157.2 304.0 1161.7 310.0 1168.9 324.1 1189.6 333.5 1198.6 342.3 1204.6 361.0 1213.4 409.0 1230.3 430.0 1236.5 442.0 1238.5 634.0 1260.8 793.0 1282.5 1012.0 1308.5 1087.0 1319.0 1099.0 1320.0 1129.0 1326.8 1141.0 1331.7 1144.0 1332.0 1147.0 1331.1 1156.0 1324.4 1156.0 1339.6 247.2 1339.6 250.2 1333.6 249.1 1330.6 247.0 1329.3 241.0 1328.5 220.0 1329.3 216.4 1330.6 218.6 1333.6 226.6 1339.6 139.0 1339.6ZM286.0 1168.8 283.3 1171.6 284.0 1174.6 286.0 1176.4 287.7 1174.6 288.5 1171.6ZM292.0 1190.3 289.4 1192.6 295.0 1197.8 296.9 1195.6ZM301.0 1196.4 298.6 1198.6 304.0 1203.5 305.7 1201.6ZM310.0 1202.1 307.5 1204.6 310.0 1207.1 312.4 1204.6ZM316.0 1205.6 314.0 1207.6 316.0 1209.5 317.9 1207.6ZM325.0 1212.3 323.8 1213.6 325.0 1214.7 326.2 1213.6ZM331.0 1214.9 329.5 1216.6 331.0 1218.0 332.6 1216.6ZM337.0 1218.0 335.6 1219.6 337.0 1221.1 338.5 1219.6ZM340.0 1224.6 339.1 1225.6 340.0 1227.4 340.9 1225.6ZM346.0 1238.8 345.1 1240.6 346.0 1241.3 346.8 1240.6ZM349.0 1245.1 348.5 1246.6 349.0 1247.3 350.3 1246.6ZM409.0 1315.8 407.5 1318.6 407.6 1321.6 409.6 1327.6 412.0 1331.8 415.0 1334.4 418.0 1334.2 419.3 1330.6 418.5 1324.6 414.8 1318.6 412.0 1316.4ZM448.0 1326.7 449.0 1330.6 451.0 1333.6 454.0 1334.9 454.9 1333.6 454.8 1330.6 451.0 1325.5ZM469.9 1324.6 470.2 1327.6 471.9 1330.6 475.0 1333.7 478.0 1334.7 479.1 1333.6 478.8 1330.6 476.8 1327.6 472.0 1323.7ZM311.2 1279.6 283.0 1283.3 274.0 1283.2 263.7 1285.6 253.0 1287.0 241.0 1286.5 232.0 1288.8 217.0 1290.1 208.0 1289.8 196.0 1291.8 184.0 1292.7 177.4 1291.6 180.6 1285.6 184.0 1282.0 187.0 1280.3 193.0 1279.1 199.0 1280.2 208.0 1285.7 217.0 1279.7 223.0 1278.0 229.0 1278.4 241.0 1284.2 244.0 1283.2 253.0 1277.5 259.0 1276.5 265.0 1277.4 274.0 1281.4 277.0 1282.0 289.0 1274.9 295.0 1273.1 298.0 1273.0 304.0 1274.6Z"/>
<path fill="#3d397c" fill-rule="evenodd" d="M291.6 1174.6 295.0 1175.1 298.0 1177.6 301.3 1183.6 302.1 1186.6 301.0 1188.5 298.0 1186.6 291.9 1180.6 290.7 1177.6ZM139.0 1329.6 166.0 1336.3 175.0 1335.8 179.6 1333.6 182.5 1330.6 183.8 1327.6 184.1 1324.6 178.9 1309.6 178.1 1300.6 184.0 1298.8 253.0 1292.6 340.0 1281.7 346.0 1282.0 352.0 1280.4 367.0 1278.9 370.0 1277.0 364.0 1273.3 352.0 1274.3 344.1 1273.6 343.0 1272.4 342.7 1273.6 331.5 1276.6 325.0 1277.5 318.3 1276.6 325.0 1269.6 334.9 1264.6 335.1 1261.6 330.7 1252.6 318.0 1234.6 313.7 1225.6 309.1 1207.6 310.0 1207.6 312.9 1204.6 310.0 1201.6 308.1 1201.6 307.8 1198.6 310.0 1196.0 358.0 1218.6 415.0 1239.2 436.0 1244.5 634.0 1267.5 787.0 1288.4 991.0 1312.6 1081.0 1324.4 1099.0 1325.2 1129.0 1332.9 1139.4 1339.6 254.0 1339.6 255.5 1333.6 255.3 1330.6 253.9 1327.6 250.0 1324.5 244.0 1323.4 220.0 1323.9 214.0 1324.8 210.5 1327.6 210.2 1330.6 211.8 1333.6 217.4 1339.6 139.0 1339.6ZM313.2 1207.6 316.0 1210.3 322.0 1212.0 325.0 1215.6 327.1 1213.6 322.0 1208.8 319.0 1209.8 318.7 1207.6 316.0 1204.8ZM331.0 1214.2 328.8 1216.6 331.0 1218.7 333.2 1216.6ZM337.0 1217.3 334.9 1219.6 337.0 1221.7 339.1 1219.6ZM340.0 1223.9 338.4 1225.6 340.0 1228.8 341.7 1225.6ZM343.0 1230.9 342.3 1231.6 342.3 1234.6 343.0 1235.3 343.7 1234.6 343.7 1231.6ZM346.0 1237.4 344.4 1240.6 346.0 1241.9 347.5 1240.6ZM349.0 1244.5 348.3 1246.6 349.0 1247.5 350.8 1246.6ZM352.0 1248.9 352.0 1249.9 352.6 1249.6ZM361.0 1260.7 360.5 1261.6 361.0 1262.1 361.7 1261.6ZM409.0 1314.9 407.7 1315.6 406.6 1318.6 408.6 1327.6 412.0 1333.3 415.0 1336.1 418.0 1336.5 420.0 1333.6 420.4 1330.6 419.3 1324.6 415.0 1318.1 412.0 1315.6ZM448.0 1324.0 447.0 1327.6 448.1 1330.6 451.0 1334.9 454.0 1336.6 456.1 1333.6 455.6 1330.6 454.0 1327.6 451.0 1324.4ZM469.0 1323.1 468.4 1324.6 470.9 1330.6 475.0 1334.8 478.0 1336.2 480.6 1333.6 477.7 1327.6 472.0 1322.7ZM284.9 1279.6 292.0 1276.0 298.0 1275.4 304.0 1277.3 307.4 1279.6 292.0 1281.0 286.0 1280.8ZM243.9 1285.6 250.0 1280.8 256.0 1278.6 262.0 1278.5 272.2 1282.6 260.0 1285.6 253.0 1286.5 247.0 1286.6ZM180.6 1291.6 184.0 1286.0 187.0 1283.4 193.0 1281.5 199.0 1282.5 208.0 1288.3 211.0 1286.8 217.0 1281.7 223.0 1279.8 229.0 1280.3 232.0 1281.3 239.0 1285.6 232.0 1288.0 214.0 1289.7 208.0 1288.7 193.0 1291.6 184.0 1292.2ZM281.1 1282.6 283.0 1281.7 284.0 1282.6ZM1156.0 1329.3 1156.0 1339.6 1147.6 1339.6Z"/>
<path fill="#3e4180" fill-rule="evenodd" d="M177.9 1339.6 183.4 1336.6 186.6 1333.6 189.9 1327.6 189.0 1321.6 182.8 1309.6 181.3 1300.6 196.0 1297.8 253.0 1293.1 340.0 1282.2 346.0 1283.2 352.0 1281.0 370.0 1278.8 371.0 1276.6 364.0 1272.8 349.9 1273.6 346.0 1264.5 340.0 1253.5 325.0 1234.6 321.9 1228.6 320.8 1222.6 322.0 1217.8 322.8 1216.6 325.0 1216.5 328.0 1214.4 328.1 1216.6 331.0 1219.3 333.9 1216.6 334.0 1215.2 338.5 1216.6 337.0 1216.6 334.3 1219.6 337.0 1222.3 339.8 1219.6 340.0 1217.2 370.0 1230.2 409.0 1244.8 421.0 1248.7 436.0 1252.0 646.0 1276.3 784.0 1295.2 1048.0 1327.1 1072.0 1330.6 1081.0 1331.1 1099.0 1329.8 1105.0 1331.3 1125.6 1339.6 258.7 1339.6 259.9 1330.6 257.7 1324.6 253.0 1321.0 244.0 1319.3 217.0 1320.8 212.5 1321.6 208.0 1323.8 205.3 1327.6 205.8 1330.6 212.5 1339.6ZM340.0 1223.1 337.7 1225.6 338.5 1228.6 341.2 1231.6 341.2 1234.6 344.5 1237.6 343.7 1240.6 346.0 1242.4 348.2 1240.6 347.4 1237.6 344.7 1234.6 344.8 1231.6 341.6 1228.6 342.4 1225.6ZM349.0 1243.9 348.0 1246.6 349.0 1247.8 351.3 1246.6ZM352.0 1247.9 351.4 1249.6 352.0 1250.5 353.6 1249.6ZM358.0 1257.7 358.0 1258.9 358.6 1258.6ZM361.0 1260.3 360.2 1261.6 361.0 1262.3 362.0 1261.6ZM409.0 1314.0 406.3 1315.6 405.7 1318.6 407.5 1327.6 412.0 1335.3 415.0 1338.2 418.0 1339.0 420.8 1336.6 421.6 1333.6 420.0 1324.6 416.2 1318.6 412.0 1315.0ZM448.0 1322.8 446.4 1324.6 446.2 1327.6 448.9 1333.6 454.0 1338.3 457.0 1337.2 457.4 1333.6 454.9 1327.6 451.0 1323.5ZM469.0 1321.0 467.4 1324.6 470.0 1330.6 475.0 1335.9 478.0 1337.8 481.0 1337.7 481.9 1336.6 481.9 1333.6 478.7 1327.6 475.0 1323.6 472.0 1321.7ZM321.2 1276.6 328.0 1272.0 334.0 1272.0 336.6 1273.6 331.0 1274.8 327.7 1276.6ZM288.3 1279.6 295.0 1277.5 301.0 1278.1 303.7 1279.6 295.0 1280.3ZM211.4 1288.6 217.0 1283.6 223.0 1281.5 229.0 1282.0 236.0 1285.6 232.0 1287.0 214.0 1289.2ZM245.8 1285.6 250.0 1282.6 256.0 1280.3 262.0 1280.3 268.5 1282.6 256.0 1285.6ZM185.3 1288.6 190.0 1284.7 196.0 1283.7 199.0 1284.4 205.4 1288.6 193.0 1290.6 187.0 1290.4ZM183.5 1291.6 184.0 1290.7 185.0 1291.6ZM139.0 1332.8 161.1 1339.6 139.0 1339.6ZM1156.0 1334.5 1156.0 1339.6 1153.2 1339.6Z"/>
<path fill="#3e4881" fill-rule="evenodd" d="M184.3 1300.6 196.0 1298.4 265.0 1292.3 340.0 1282.9 346.0 1284.9 352.0 1281.6 373.0 1279.6 371.9 1276.6 364.0 1272.3 355.0 1272.2 351.4 1270.6 349.1 1261.6 338.4 1249.6 338.7 1246.6 342.4 1240.6 334.2 1231.6 332.7 1228.6 334.0 1226.4 337.0 1226.3 337.1 1228.6 340.2 1231.6 340.1 1234.6 343.2 1237.6 343.0 1240.6 346.0 1243.0 348.0 1243.6 347.8 1246.6 352.0 1251.0 354.6 1249.6 352.0 1246.8 351.0 1243.6 349.0 1241.6 348.6 1237.6 345.7 1234.6 346.0 1228.6 353.5 1231.6 367.0 1238.7 388.0 1245.0 415.0 1255.3 436.0 1260.5 646.0 1284.8 778.0 1303.3 838.0 1310.8 856.0 1312.4 898.0 1318.1 916.0 1319.6 1000.0 1330.0 1042.0 1333.8 1071.0 1339.6 482.6 1339.6 483.8 1336.6 483.2 1333.6 479.9 1327.6 475.0 1322.6 472.0 1320.5 469.0 1319.6 466.4 1321.6 467.3 1327.6 472.0 1334.6 475.0 1337.5 479.2 1339.6 458.2 1339.6 459.0 1336.6 458.6 1333.6 455.8 1327.6 451.0 1322.7 448.0 1321.7 445.4 1324.6 446.0 1330.6 449.6 1336.6 453.1 1339.6 422.3 1339.6 423.1 1336.6 422.9 1330.6 420.8 1324.6 416.8 1318.6 412.0 1314.5 409.0 1313.2 406.0 1314.2 404.9 1315.6 404.8 1321.6 407.5 1330.6 413.5 1339.6 263.1 1339.6 264.4 1333.6 264.7 1327.6 262.0 1321.6 258.4 1318.6 253.0 1316.4 244.0 1315.7 214.0 1318.1 199.0 1321.3 196.0 1320.4 190.0 1314.8 185.4 1306.6ZM355.0 1250.9 355.0 1254.1 356.2 1252.6ZM358.0 1256.9 357.4 1258.6 358.0 1259.2 359.2 1258.6ZM361.0 1259.9 360.0 1261.6 361.0 1262.6 362.3 1261.6ZM364.0 1263.7 363.4 1264.6 364.0 1265.2 364.6 1264.6ZM343.0 1227.8 345.9 1228.6 343.0 1228.7ZM254.0 1282.6 259.0 1281.7 264.3 1282.6 256.0 1283.4ZM216.6 1285.6 220.0 1283.9 226.0 1283.1 233.3 1285.6 220.0 1287.4 217.0 1287.2ZM188.7 1288.6 193.0 1286.1 196.0 1285.7 199.0 1286.2 203.1 1288.6 196.0 1289.7ZM187.1 1339.6 196.0 1333.0 199.0 1332.5 205.0 1335.7 208.6 1339.6ZM139.0 1335.9 149.9 1339.6 139.0 1339.6ZM1082.6 1339.6 1093.0 1334.9 1096.0 1334.3 1102.0 1335.3 1110.4 1339.6Z"/>
<path fill="#3f4e80" fill-rule="evenodd" d="M187.2 1300.6 210.5 1297.6 241.0 1295.5 268.0 1292.6 307.0 1287.4 313.0 1287.8 320.8 1285.6 334.0 1284.1 340.0 1283.9 346.0 1287.0 349.0 1285.6 351.0 1282.6 378.7 1279.6 373.0 1277.4 372.7 1276.6 364.0 1271.8 358.0 1271.8 353.7 1270.6 353.0 1264.6 341.3 1252.6 339.8 1249.6 340.2 1246.6 343.0 1243.8 346.0 1243.5 349.0 1248.4 353.8 1252.6 355.0 1255.8 356.3 1255.6 358.0 1253.4 367.0 1251.2 379.0 1251.5 391.0 1254.7 421.0 1266.4 436.0 1270.0 543.5 1282.6 601.0 1292.3 642.6 1297.6 715.0 1309.1 742.5 1312.6 760.7 1315.6 778.0 1319.8 799.0 1320.9 817.0 1322.8 838.0 1328.5 844.0 1328.9 859.0 1327.5 871.0 1327.9 883.0 1329.4 904.0 1334.2 919.0 1333.1 934.0 1333.3 970.0 1337.1 1017.2 1339.6 487.3 1339.6 485.2 1333.6 478.6 1324.6 472.0 1319.2 469.0 1318.1 466.0 1318.8 464.9 1321.6 465.2 1324.6 467.5 1330.6 474.4 1339.6 462.3 1339.6 458.8 1330.6 456.7 1327.6 451.0 1321.8 448.0 1320.6 445.0 1322.7 444.1 1327.6 445.7 1333.6 448.6 1339.6 426.9 1339.6 424.8 1330.6 420.1 1321.6 412.0 1314.0 409.0 1312.5 406.0 1312.5 403.6 1315.6 403.5 1321.6 404.5 1327.6 408.3 1339.6 268.0 1339.6 271.2 1330.6 271.6 1324.6 270.6 1321.6 268.5 1318.6 264.4 1315.6 256.0 1312.6 247.0 1311.7 226.0 1314.7 205.0 1316.0 199.0 1315.5 196.0 1314.3 190.9 1309.6 189.0 1306.6ZM358.0 1256.1 357.1 1258.6 358.0 1259.5 359.8 1258.6ZM361.0 1259.5 359.8 1261.6 361.0 1262.8 362.6 1261.6ZM364.0 1263.3 363.1 1264.6 364.0 1265.5 364.9 1264.6ZM219.9 1285.6 226.0 1284.7 229.9 1285.6 223.0 1286.1ZM192.7 1288.6 196.0 1287.6 200.3 1288.6ZM139.0 1339.1 141.1 1339.6 139.0 1339.6Z"/>
<path fill="#3f5580" fill-rule="evenodd" d="M190.4 1300.6 220.0 1297.3 241.0 1296.4 271.0 1293.1 277.0 1291.6 307.0 1287.9 313.0 1289.3 316.0 1289.0 325.0 1285.6 334.0 1284.6 340.0 1285.0 343.0 1288.0 346.0 1289.6 349.0 1288.5 352.8 1282.6 382.0 1280.3 383.6 1279.6 376.0 1278.4 364.0 1271.3 355.9 1270.6 356.0 1267.6 355.1 1264.6 343.0 1253.7 340.4 1249.6 340.6 1246.6 343.0 1244.2 346.0 1244.0 356.9 1258.6 364.0 1265.8 365.1 1264.6 360.3 1258.6 361.0 1256.6 364.0 1257.3 370.0 1256.5 376.0 1256.9 388.0 1260.0 403.0 1265.8 430.0 1278.8 439.0 1281.5 529.0 1291.9 544.0 1294.4 554.2 1297.6 565.5 1303.6 568.9 1306.6 570.9 1309.6 571.8 1312.6 570.4 1318.6 565.0 1324.6 556.0 1329.5 547.0 1331.3 538.0 1330.9 520.0 1328.5 490.0 1330.1 487.0 1329.5 472.0 1317.1 466.0 1316.0 463.7 1318.6 463.7 1324.6 465.1 1330.6 463.0 1332.7 454.0 1323.0 451.0 1320.7 448.0 1319.6 444.1 1321.6 442.0 1330.2 439.0 1331.0 430.0 1329.8 427.0 1328.4 414.9 1315.6 409.0 1311.9 406.0 1311.5 403.3 1312.6 401.4 1315.6 400.0 1325.8 394.2 1327.6 376.0 1329.2 367.0 1328.0 361.0 1326.0 343.0 1314.8 337.0 1312.3 331.0 1311.2 316.0 1312.3 298.0 1316.6 283.0 1314.3 268.0 1309.6 250.0 1307.4 244.0 1308.0 226.0 1311.9 205.0 1312.2 199.0 1310.9 196.0 1309.3 193.0 1306.4ZM385.0 1272.9 384.4 1276.6 385.0 1278.2 385.7 1276.6Z"/>
<path fill="#3e5a7f" fill-rule="evenodd" d="M341.1 1246.6 343.0 1244.7 346.0 1244.4 356.6 1258.6 364.0 1266.0 365.4 1264.6 363.3 1261.6 364.0 1259.3 367.0 1260.1 376.0 1260.3 388.0 1263.7 412.0 1272.8 436.0 1288.6 454.0 1298.5 460.8 1303.6 463.2 1306.6 464.0 1309.6 463.0 1310.7 461.4 1315.6 460.5 1324.6 460.0 1325.2 457.0 1323.9 451.0 1319.4 448.0 1318.5 445.0 1319.0 442.0 1323.0 439.0 1325.5 427.0 1324.4 424.0 1323.2 412.0 1313.0 406.0 1310.5 403.0 1310.8 397.0 1313.6 379.0 1315.8 370.0 1314.9 361.0 1311.0 355.0 1305.6 350.0 1297.6 349.9 1294.6 354.9 1282.6 382.0 1280.8 385.0 1279.4 386.2 1276.6 386.0 1273.6 385.0 1272.1 383.9 1276.6 382.0 1278.5 379.0 1278.8 376.0 1277.8 364.0 1270.8 358.2 1270.6 358.3 1267.6 342.6 1252.6 340.8 1249.6ZM343.7 1294.6 343.2 1297.6 340.0 1299.9 337.0 1300.6 322.0 1300.4 316.0 1299.2 313.0 1299.5 304.0 1303.9 301.0 1304.6 298.0 1304.5 289.0 1302.1 280.0 1303.7 271.0 1302.3 259.0 1304.1 247.0 1302.7 241.0 1304.2 232.0 1307.8 223.0 1309.3 214.0 1308.9 202.0 1307.2 196.0 1303.7 194.2 1300.6 211.0 1299.6 232.0 1296.8 241.0 1297.2 250.0 1296.4 257.5 1294.6 274.0 1293.8 281.5 1291.6 298.0 1290.2 308.2 1288.6 313.0 1293.1 316.0 1293.5 320.5 1288.6 329.5 1285.6 334.0 1285.1 338.8 1285.6Z"/>
<path fill="#3f607e" fill-rule="evenodd" d="M341.6 1246.6 343.0 1245.2 346.0 1244.8 353.7 1255.6 364.0 1266.3 367.0 1261.9 379.0 1263.4 406.0 1272.1 418.0 1278.3 449.8 1303.6 454.7 1309.6 456.9 1315.6 456.1 1318.6 454.0 1319.0 448.0 1316.9 445.0 1317.3 439.0 1322.0 427.0 1322.1 421.0 1319.7 412.2 1312.6 406.0 1309.6 397.0 1308.1 385.0 1304.2 370.0 1302.6 364.0 1300.5 361.0 1298.4 357.8 1294.6 356.7 1291.6 356.4 1285.6 361.0 1282.6 382.0 1281.3 385.5 1279.6 386.7 1276.6 386.5 1273.6 385.0 1271.2 383.4 1276.6 382.0 1278.0 379.0 1278.4 364.0 1270.2 361.0 1269.9 359.7 1267.6 343.0 1252.3 341.2 1249.6ZM381.4 1270.6 383.4 1270.6 382.0 1269.7ZM363.6 1261.6 364.0 1260.3 366.2 1261.6 364.0 1262.1ZM336.9 1288.6 336.8 1291.6 334.0 1294.1 328.0 1294.4 324.3 1291.6 324.5 1288.6 331.0 1287.3 334.0 1285.6ZM289.5 1294.6 289.9 1291.6 301.0 1291.1 305.9 1291.6 305.9 1294.6 304.0 1296.5 301.0 1297.8 295.0 1297.2ZM266.2 1294.6 264.2 1297.6 262.0 1298.5 256.0 1299.0 250.7 1297.6 259.0 1296.8 262.0 1294.6ZM235.4 1297.6 235.5 1300.6 232.3 1303.6 226.0 1305.7 220.0 1305.9 212.2 1303.6 211.1 1300.6 226.0 1298.7 229.0 1297.6Z"/>
<path fill="#40647c" fill-rule="evenodd" d="M342.1 1246.6 343.0 1245.7 346.0 1245.2 353.4 1255.6 364.0 1266.6 367.0 1262.5 372.7 1264.6 382.0 1266.2 409.0 1274.7 415.0 1277.7 424.0 1284.7 445.0 1303.6 449.6 1309.6 450.6 1312.6 439.0 1319.3 424.0 1320.1 409.0 1310.3 397.0 1305.4 367.0 1290.6 364.4 1288.6 362.4 1285.6 365.9 1282.6 382.0 1281.9 386.1 1279.6 387.3 1276.6 387.1 1273.6 385.0 1269.3 382.0 1268.5 380.6 1270.6 383.4 1273.6 382.9 1276.6 382.0 1277.5 379.0 1278.0 358.0 1266.0 343.0 1251.7 341.6 1249.6ZM219.4 1300.6 227.2 1300.6 223.0 1301.5Z"/>
<path fill="#42687b" fill-rule="evenodd" d="M343.0 1246.2 346.0 1245.6 350.5 1252.6 361.8 1264.6 361.0 1266.8 358.0 1265.2 343.0 1251.1 342.0 1249.6ZM361.9 1267.6 364.0 1266.9 367.0 1263.0 370.0 1264.9 380.3 1267.6 379.7 1270.6 383.0 1273.6 382.4 1276.6 379.0 1277.6ZM369.2 1285.6 373.0 1282.6 382.0 1282.4 385.0 1281.4 386.8 1279.6 387.8 1276.6 387.1 1270.6 388.0 1269.7 409.0 1275.8 415.0 1278.9 421.0 1283.3 438.8 1300.6 443.9 1306.6 445.4 1309.6 444.9 1312.6 439.0 1316.7 427.0 1319.0 421.0 1317.9 409.0 1309.8 400.0 1305.3 379.0 1292.9Z"/>
<path fill="#446c7a" fill-rule="evenodd" d="M343.2 1246.6 346.0 1246.0 347.6 1249.6 358.4 1261.6 358.0 1264.4 342.4 1249.6ZM358.2 1264.6 361.5 1264.6 361.0 1266.0ZM362.7 1267.6 364.0 1267.2 367.0 1263.6 370.0 1265.9 375.1 1267.6 382.6 1273.6 382.0 1276.4 379.0 1277.2 367.0 1269.5ZM373.3 1285.6 376.0 1284.2 385.0 1282.0 387.4 1279.6 388.5 1273.6 391.0 1272.2 409.0 1276.8 418.0 1281.9 425.5 1288.6 438.9 1303.6 441.8 1309.6 440.6 1312.6 435.2 1315.6 427.0 1317.8 421.0 1317.2 382.0 1292.3Z"/>
<path fill="#45707a" fill-rule="evenodd" d="M345.3 1246.6 346.0 1246.5 346.7 1249.6 349.4 1252.6 349.0 1254.6 346.0 1252.9 342.9 1249.6ZM350.0 1255.6 352.0 1255.2 352.0 1257.6ZM353.0 1258.6 355.0 1258.3 355.0 1260.0ZM356.6 1261.6 358.0 1261.4 358.0 1262.8ZM359.8 1264.6 361.2 1264.6 361.0 1265.2ZM363.5 1267.6 367.0 1264.1 370.0 1266.8 373.5 1267.6 379.0 1272.3 382.0 1273.4 382.0 1274.3 379.0 1276.7 373.0 1272.0 369.2 1270.6 367.0 1268.4ZM376.3 1285.6 385.0 1282.6 388.0 1279.6 391.0 1273.6 409.0 1277.5 415.0 1280.5 424.4 1288.6 434.7 1300.6 438.2 1306.6 438.6 1309.6 436.5 1312.6 430.3 1315.6 424.0 1317.1 421.0 1316.5 403.0 1305.2Z"/>
<path fill="#45757c" fill-rule="evenodd" d="M378.9 1285.6 385.0 1283.4 388.7 1279.6 391.0 1274.8 409.0 1278.2 418.0 1283.4 426.4 1291.6 435.0 1303.6 435.9 1306.6 435.8 1309.6 433.1 1312.6 427.0 1315.6 424.0 1316.2 418.0 1314.5 401.9 1303.6Z"/>
<path fill="#46797d" fill-rule="evenodd" d="M381.2 1285.6 385.0 1284.2 389.3 1279.6 391.0 1276.1 406.0 1278.1 412.0 1280.2 419.8 1285.6 428.0 1294.6 433.4 1303.6 434.2 1306.6 433.6 1309.6 430.9 1312.6 427.0 1314.7 421.0 1315.2 418.0 1314.1 406.8 1306.6Z"/>
<path fill="#467d7e" fill-rule="evenodd" d="M383.5 1285.6 388.0 1282.1 391.0 1277.4 406.0 1278.8 412.0 1280.7 421.0 1287.3 429.3 1297.6 432.3 1303.6 432.7 1306.6 432.0 1309.6 429.1 1312.6 424.0 1314.7 418.0 1313.6 403.6 1303.6Z"/>
<path fill="#46827e" fill-rule="evenodd" d="M385.8 1285.6 391.0 1278.8 406.0 1279.4 412.0 1281.2 421.0 1288.0 428.6 1297.6 431.3 1303.6 431.6 1306.6 430.6 1309.6 427.5 1312.6 424.0 1314.0 421.0 1314.1 418.0 1313.1 404.2 1303.6Z"/>
<path fill="#47877f" fill-rule="evenodd" d="M391.0 1280.5 406.0 1280.0 409.0 1280.6 415.0 1283.5 421.0 1288.6 427.9 1297.6 430.3 1303.6 430.5 1306.6 429.4 1309.6 425.9 1312.6 421.0 1313.6 415.0 1311.1 408.6 1306.6 401.8 1300.6 388.2 1285.6Z"/>
<path fill="#488c80" fill-rule="evenodd" d="M391.4 1282.6 400.0 1280.8 406.0 1280.5 409.0 1281.1 415.0 1283.9 423.2 1291.6 427.2 1297.6 429.6 1303.6 429.6 1306.6 428.4 1309.6 424.2 1312.6 421.0 1313.0 418.0 1312.3 412.0 1308.8 402.5 1300.6 392.5 1288.6 390.7 1285.6Z"/>
<path fill="#489280" fill-rule="evenodd" d="M396.2 1282.6 406.0 1281.0 409.0 1281.6 415.0 1284.4 422.8 1291.6 426.7 1297.6 429.0 1303.6 428.9 1306.6 427.4 1309.6 424.0 1312.1 421.0 1312.5 415.0 1310.4 409.5 1306.6 403.1 1300.6 396.0 1291.6 393.1 1285.6Z"/>
<path fill="#4a9881" fill-rule="evenodd" d="M395.2 1285.6 399.2 1282.6 406.0 1281.5 409.0 1282.1 415.0 1284.8 422.3 1291.6 426.3 1297.6 428.4 1303.6 428.2 1306.6 426.5 1309.6 424.0 1311.4 421.0 1312.1 418.0 1311.5 410.0 1306.6 403.5 1300.6 398.9 1294.6 395.4 1288.6Z"/>
<path fill="#4e9f80" fill-rule="evenodd" d="M397.0 1285.6 401.8 1282.6 406.0 1282.1 412.0 1283.6 418.0 1287.6 424.0 1294.6 427.0 1300.6 427.7 1303.6 427.5 1306.6 425.6 1309.6 421.0 1311.6 418.0 1311.1 409.0 1305.5 404.0 1300.6 399.6 1294.6 396.7 1288.6Z"/>
<path fill="#52a67f" fill-rule="evenodd" d="M398.3 1285.6 403.0 1282.9 406.0 1282.6 412.0 1283.9 418.0 1288.0 423.6 1294.6 426.6 1300.6 426.8 1306.6 424.8 1309.6 421.0 1311.1 418.0 1310.8 412.0 1307.5 407.3 1303.6 402.1 1297.6 398.5 1291.6 397.7 1288.6Z"/>
<path fill="#59ad7c" fill-rule="evenodd" d="M399.6 1285.6 403.0 1283.6 409.0 1283.3 412.0 1284.3 418.1 1288.6 423.2 1294.6 426.2 1300.6 426.2 1306.6 424.0 1309.5 421.0 1310.7 418.0 1310.4 412.0 1307.2 407.7 1303.6 402.6 1297.6 399.2 1291.6 398.5 1288.6Z"/>
<path fill="#60b479" fill-rule="evenodd" d="M400.7 1285.6 406.0 1283.5 409.0 1283.7 415.0 1286.4 418.0 1288.9 422.9 1294.6 425.7 1300.6 425.6 1306.6 424.0 1308.8 421.0 1310.2 418.0 1310.0 412.0 1306.8 408.1 1303.6 401.2 1294.6 399.4 1288.6Z"/>
<path fill="#68ba74" fill-rule="evenodd" d="M401.8 1285.6 406.0 1284.0 409.0 1284.1 415.0 1286.8 418.0 1289.3 422.5 1294.6 425.3 1300.6 425.7 1303.6 424.0 1308.0 421.0 1309.7 418.0 1309.6 415.0 1308.4 408.5 1303.6 403.4 1297.6 400.5 1291.6 400.2 1288.6Z"/>
<path fill="#72c26d" fill-rule="evenodd" d="M402.9 1285.6 406.0 1284.5 409.0 1284.5 415.0 1287.1 418.0 1289.6 422.2 1294.6 424.9 1300.6 425.3 1303.6 424.0 1307.2 421.0 1309.3 418.0 1309.3 415.0 1308.1 408.9 1303.6 403.8 1297.6 401.0 1291.6 400.9 1288.6Z"/>
<path fill="#7cc865" fill-rule="evenodd" d="M403.0 1286.4 406.0 1284.9 409.0 1284.9 415.0 1287.5 418.0 1290.0 421.8 1294.6 424.5 1300.6 424.8 1303.6 423.9 1306.6 421.0 1308.8 418.0 1308.9 415.0 1307.8 409.3 1303.6 404.2 1297.6 401.5 1291.6 401.5 1288.6Z"/>
<path fill="#8ace5a" fill-rule="evenodd" d="M403.0 1287.4 406.0 1285.4 409.0 1285.3 415.0 1287.9 418.0 1290.4 421.4 1294.6 424.1 1300.6 424.4 1303.6 423.3 1306.6 421.0 1308.3 418.0 1308.5 415.0 1307.5 409.6 1303.6 404.5 1297.6 402.0 1291.6 402.2 1288.6Z"/>
<path fill="#96d34f" fill-rule="evenodd" d="M403.0 1288.3 406.0 1285.9 409.0 1285.7 415.0 1288.2 418.0 1290.8 421.1 1294.6 423.7 1300.6 423.9 1303.6 422.6 1306.6 421.0 1307.8 418.0 1308.2 415.0 1307.2 410.0 1303.6 407.1 1300.6 403.4 1294.6 402.5 1291.6Z"/>
<path fill="#a4d743" fill-rule="evenodd" d="M403.5 1288.6 406.0 1286.5 409.0 1286.1 412.0 1286.9 418.0 1291.2 420.7 1294.6 423.4 1300.6 423.5 1303.6 422.0 1306.6 418.0 1307.8 415.0 1306.9 409.0 1302.3 403.8 1294.6 403.0 1291.6Z"/>
<path fill="#b6db38" fill-rule="evenodd" d="M404.1 1288.6 406.0 1287.0 409.0 1286.5 412.0 1287.2 418.0 1291.5 422.1 1297.6 423.0 1300.6 423.1 1303.6 421.3 1306.6 418.0 1307.5 415.0 1306.6 409.0 1301.9 404.1 1294.6 403.5 1291.6Z"/>
<path fill="#c5de2e" fill-rule="evenodd" d="M404.8 1288.6 409.0 1286.9 412.0 1287.5 418.0 1291.9 421.8 1297.6 422.7 1300.6 422.6 1303.6 421.0 1306.3 418.0 1307.1 415.0 1306.2 408.1 1300.6 404.5 1294.6 403.9 1291.6Z"/>
<path fill="#d7e026" fill-rule="evenodd" d="M405.4 1288.6 409.0 1287.3 412.0 1287.9 418.0 1292.3 421.5 1297.6 422.4 1300.6 422.2 1303.6 421.0 1305.6 418.0 1306.7 415.0 1305.9 408.4 1300.6 404.9 1294.6 404.3 1291.6Z"/>
<path fill="#e6e324" fill-rule="evenodd" d="M406.0 1288.7 409.0 1287.7 412.0 1288.2 418.0 1292.8 421.1 1297.6 422.0 1300.6 421.0 1304.9 418.0 1306.4 415.0 1305.6 408.8 1300.6 405.2 1294.6 404.8 1291.6Z"/>
<path fill="#f4e529" fill-rule="evenodd" d="M406.0 1289.8 409.0 1288.0 412.0 1288.6 416.5 1291.6 420.8 1297.6 421.7 1300.6 421.0 1304.2 418.0 1305.9 415.0 1305.3 412.0 1303.4 409.0 1300.5 405.6 1294.6 405.2 1291.6Z"/></g>
<path d="M288.6 1175.4 289.7 1177.0 290.8 1179.0 292.4 1181.5 294.6 1184.4 297.8 1187.5 302.2 1190.8 307.9 1194.4 314.7 1198.4 322.4 1202.6 331.0 1207.0 340.4 1211.5 350.4 1215.9 361.0 1220.5 372.1 1225.3 384.1 1230.2 396.9 1234.9 410.7 1239.2 425.7 1243.0 442.4 1246.1 460.7 1248.6 480.0 1250.7 499.7 1252.6 519.2 1254.5 537.7 1256.5 554.7 1258.4 570.6 1260.2 586.2 1261.8 602.4 1263.6 620.0 1265.6 640.0 1268.1 662.0 1271.0 685.5 1274.3 710.3 1277.9 736.7 1281.6 764.7 1285.4 794.4 1289.3 827.8 1293.4 865.3 1297.9 904.4 1302.4 942.7 1306.8 977.6 1310.9 1006.8 1314.4 1029.9 1317.2 1048.9 1319.6 1064.6 1321.6 1077.7 1323.4 1089.3 1325.0 1100.0 1326.6 1109.3 1328.1 1116.4 1329.4 1121.8 1330.5 1126.2 1331.5 1130.1 1332.6 1134.0 1333.6 1137.9 1334.7 1141.3 1335.9 1144.1 1337.0 1146.5 1338.1 1148.5 1339.0 1150.0 1339.6" fill="none" stroke="#000" stroke-width="1.3" stroke-linejoin="round" stroke-linecap="butt"/>
<path d="M141.0 1312.5 147.3 1313.1 156.0 1313.8 166.3 1314.6 177.5 1315.7 189.0 1317.0 200.0 1318.6 211.4 1320.7 224.1 1323.3 236.9 1326.1 249.1 1328.9 259.5 1331.5 267.4 1333.6 272.2 1335.2 274.6 1336.5 275.4 1337.5 275.2 1338.4 274.9 1339.1 275.0 1339.6" fill="none" stroke="#000" stroke-width="1.3" stroke-linejoin="round" stroke-linecap="butt"/>
<path d="M280.7 1088.2V1337.5 M354.0 1088.2V1337.5 M428.0 1088.2V1337.5 M540.0 1088.2V1337.5 M794.9 1088.2V1337.5" stroke="#000" stroke-width="3.7" stroke-dasharray="4.1 6.4" fill="none"/>
<path d="M354.0 1130.4 359.9 1131.6 367.9 1133.2 377.7 1135.1 388.5 1137.1 400.0 1139.1 412.5 1141.0 426.3 1143.0 440.9 1145.0 455.7 1147.1 470.0 1149.1 483.4 1151.0 496.1 1152.8 509.1 1154.7 523.2 1156.8 539.0 1159.4 557.8 1162.7 579.1 1166.6 601.0 1170.7 621.9 1174.5 640.0 1177.6 654.1 1179.7 665.3 1181.2 675.5 1182.4 686.5 1183.7 700.0 1185.6 716.5 1188.1 734.7 1190.9 754.2 1193.9 774.3 1197.3 794.4 1200.9 814.8 1204.9 835.8 1209.2 857.1 1213.7 878.6 1218.4 900.0 1223.1 923.0 1228.2 947.8 1233.8 971.7 1239.3 992.3 1244.1 1006.8 1247.4" fill="none" stroke="#1e1c0e" stroke-width="4.6" stroke-dasharray="15 7" stroke-linejoin="round"/>
<path d="M344.6 1162.1 351.9 1163.2 362.1 1164.7 374.1 1166.5 387.1 1168.5 400.0 1170.6 413.1 1172.8 427.0 1175.1 441.3 1177.6 455.8 1180.1 470.0 1182.6 483.5 1185.0 496.4 1187.3 509.6 1189.7 523.7 1192.2 539.6 1195.0 558.4 1198.3 579.6 1201.9 601.5 1205.7 622.2 1209.2 640.0 1212.1 653.5 1214.1 664.0 1215.4 673.4 1216.5 683.7 1217.9 697.0 1220.2 714.6 1223.8 735.1 1228.2 756.6 1233.0 777.0 1237.4 794.4 1241.0 808.0 1243.4 819.3 1245.2 829.1 1246.5 838.5 1247.7 848.5 1249.1 859.4 1250.7 870.5 1252.2 881.4 1253.7 891.4 1255.2 900.0 1256.6 906.9 1257.8 912.4 1258.9 917.1 1260.0 921.4 1261.2 925.7 1262.6 929.3 1264.4 931.7 1266.5 934.4 1268.7 938.4 1270.6 945.0 1271.9 955.9 1272.5 970.3 1272.6 985.7 1272.3 999.3 1272.0 1008.7 1271.9" fill="none" stroke="#1e1c0e" stroke-width="4.8" stroke-dasharray="4.8 7.2" stroke-linejoin="round"/>
</g>
<g clip-path="url(#cp5)">
<rect x="141.0" y="1337.5" width="1013.0" height="250.9" fill="#e0def6"/>
<clipPath id="m5"><path d="M286.2 1407.0 300.0 1397.5 311.2 1392.5 350.7 1385.2 360.0 1384.6 450.0 1399.5 537.7 1414.7 640.0 1435.2 794.4 1460.3 887.0 1482.3 1006.8 1520.9 1030.0 1525.5 1060.8 1530.5 1100.0 1532.0 1160.0 1532.5 1160.0 1592.5 141.0 1592.5 141.0 1555.6 255.8 1546.0 348.5 1537.1 364.0 1537.1 406.4 1553.7 406.4 1553.7 400.6 1540.1 404.7 1523.5 380.0 1511.5 352.8 1496.4 340.0 1479.5 327.8 1465.2 300.0 1449.5 288.3 1440.3 286.0 1418.5 286.2 1407.0Z"/></clipPath>
<g clip-path="url(#m5)"><rect x="139.0" y="1335.5" width="1017.0" height="255.0" fill="#2e0351"/>
<path fill="#33105e" fill-rule="evenodd" d="M139.0 1426.2 158.1 1407.5 176.7 1392.5 196.0 1379.9 218.5 1368.5 238.0 1361.5 259.0 1356.8 280.0 1355.4 298.0 1357.1 310.0 1359.8 322.0 1363.9 355.1 1380.5 357.1 1383.5 361.0 1383.9 365.2 1386.5 373.0 1387.9 385.0 1393.1 400.0 1395.5 415.0 1399.0 565.0 1421.1 577.0 1424.1 583.0 1424.3 592.0 1427.0 598.0 1426.8 601.0 1428.6 607.0 1430.0 613.0 1429.6 616.0 1431.6 622.0 1432.8 628.0 1432.2 630.5 1434.5 637.0 1435.8 643.0 1434.9 646.0 1435.9 647.2 1437.5 655.0 1438.8 661.0 1437.9 664.0 1438.8 666.1 1440.5 670.0 1441.5 676.0 1441.7 679.0 1440.8 682.0 1441.2 684.2 1443.5 691.0 1444.7 700.0 1444.0 703.0 1446.7 709.0 1447.7 718.0 1446.9 720.8 1449.5 730.0 1450.7 736.0 1450.1 742.0 1453.2 748.0 1453.8 754.0 1453.1 758.7 1455.5 763.0 1456.6 772.0 1456.3 781.0 1459.6 793.0 1460.7 799.0 1462.8 805.0 1463.4 811.0 1465.8 817.0 1466.7 889.0 1487.4 919.0 1497.9 949.0 1506.8 964.0 1507.5 967.0 1508.3 967.8 1509.5 973.0 1510.5 975.2 1509.5 974.9 1506.5 982.0 1503.8 1006.0 1491.4 1021.0 1486.0 1033.0 1483.6 1042.0 1483.2 1051.0 1483.9 1060.0 1485.8 1069.0 1489.1 1081.0 1495.6 1107.1 1515.5 1126.0 1527.8 1129.0 1529.0 1140.0 1530.5 1143.1 1533.5 1150.0 1533.6 1156.0 1535.5 1156.0 1590.5 548.4 1590.5 517.0 1584.2 505.0 1582.9 496.0 1583.4 491.3 1584.5 482.4 1590.5 139.0 1590.5ZM277.8 1542.5 289.0 1543.8 303.2 1542.5 295.0 1541.2ZM286.0 1405.9 285.2 1407.5 286.0 1420.9 286.5 1410.5 287.3 1407.5ZM287.6 1404.5 289.0 1405.6 291.1 1404.5 289.0 1403.7ZM291.9 1401.5 295.0 1402.2 296.0 1401.5 295.0 1400.2ZM296.6 1398.5 298.0 1399.6 300.6 1398.5 298.0 1397.7ZM301.9 1395.5 304.0 1396.4 307.1 1395.5 304.0 1394.7ZM308.4 1392.5 310.0 1393.6 317.3 1392.5 313.0 1391.6ZM321.2 1389.5 325.0 1390.4 333.5 1389.5 328.0 1388.5ZM336.8 1386.5 343.0 1387.4 349.9 1386.5 346.0 1385.5ZM364.3 1575.5 369.7 1578.5 376.0 1578.7 381.5 1575.5 381.5 1572.5 379.0 1570.9 376.0 1570.2 366.8 1572.5ZM367.2 1539.5 373.0 1540.8 374.5 1539.5 370.0 1538.2ZM374.7 1542.5 379.0 1543.8 382.0 1543.3 382.1 1542.5 376.0 1541.0ZM382.4 1545.5 388.0 1546.9 389.6 1545.5 385.0 1544.2ZM390.0 1548.5 394.0 1550.0 397.2 1548.5 394.0 1547.2 391.0 1547.3ZM397.6 1551.5 403.0 1552.7 404.8 1551.5 400.0 1550.0ZM406.0 1553.4 405.3 1554.5 406.0 1554.8ZM977.0 1512.5 982.0 1513.4 984.6 1512.5 979.0 1511.5ZM986.4 1515.5 991.0 1516.4 994.1 1515.5 988.0 1514.7ZM995.8 1518.5 1000.0 1519.4 1003.3 1518.5 997.0 1517.6ZM1004.9 1521.5 1012.0 1522.4 1015.7 1521.5 1006.0 1520.6ZM1019.1 1524.5 1027.0 1525.4 1030.9 1524.5 1021.0 1523.6ZM1035.2 1527.5 1045.0 1528.4 1049.3 1527.5 1042.0 1526.6ZM1053.3 1530.5 1060.0 1531.4 1075.0 1531.4 1093.9 1530.5 1060.0 1529.6ZM141.3 1554.5 142.0 1555.2 151.0 1556.3 163.0 1555.6 168.2 1554.5 163.0 1553.3 151.0 1552.8 142.0 1553.9ZM172.8 1551.5 175.0 1552.4 187.0 1553.1 204.2 1551.5 202.0 1550.5 187.0 1550.0ZM208.8 1548.5 214.0 1549.7 223.0 1549.8 240.1 1548.5 238.0 1547.6 226.0 1547.1ZM244.8 1545.5 250.0 1546.8 273.2 1545.5 271.0 1544.5 259.0 1544.2ZM307.8 1539.5 316.0 1540.8 333.2 1539.5 322.0 1538.2ZM337.8 1536.5 343.0 1537.7 364.0 1537.8 366.6 1536.5 364.0 1535.6 349.0 1535.6Z"/>
<path fill="#371a67" fill-rule="evenodd" d="M139.0 1456.4 149.0 1437.5 157.4 1425.5 164.8 1416.5 183.1 1398.5 203.4 1383.5 225.4 1371.5 238.0 1366.4 250.0 1362.7 262.0 1360.2 274.0 1358.8 295.0 1359.4 307.0 1361.6 319.0 1365.2 331.0 1370.3 350.7 1380.5 349.0 1383.5 310.0 1391.0 295.0 1398.4 285.9 1404.5 284.4 1407.5 286.0 1422.3 287.0 1410.5 288.6 1407.5 304.0 1397.6 313.0 1394.0 340.0 1388.7 352.0 1387.0 361.0 1386.8 373.0 1389.4 385.0 1394.6 400.0 1396.7 415.0 1400.3 535.0 1418.5 595.0 1428.9 616.0 1433.4 625.0 1434.4 631.0 1436.4 640.0 1437.3 649.0 1439.5 658.0 1440.2 670.0 1442.9 679.0 1443.3 682.0 1444.7 697.0 1446.4 703.0 1448.3 715.0 1449.3 721.0 1451.2 733.0 1452.4 742.0 1454.6 751.0 1455.4 760.0 1457.6 772.0 1459.0 811.1 1467.5 889.0 1489.1 946.0 1507.5 964.0 1509.0 1002.3 1521.5 1015.0 1524.5 1060.0 1532.2 1084.0 1532.7 1096.0 1533.7 1141.0 1534.0 1150.0 1534.5 1156.0 1536.7 1156.0 1590.5 553.9 1590.5 514.0 1582.1 505.0 1581.1 493.0 1580.8 487.0 1581.4 478.0 1587.0 473.1 1584.5 468.6 1578.5 461.1 1572.5 454.0 1570.9 447.2 1572.5 433.0 1582.5 427.0 1583.3 421.0 1581.4 407.9 1572.5 396.6 1566.5 388.0 1563.0 379.0 1560.9 346.0 1562.6 328.0 1565.1 310.0 1564.2 295.0 1565.4 277.0 1563.9 259.0 1563.5 229.0 1559.9 201.5 1554.5 214.0 1553.8 217.0 1552.9 218.5 1551.5 241.0 1550.2 349.0 1539.3 364.0 1539.6 406.0 1556.0 408.4 1554.5 407.5 1551.5 364.0 1534.3 343.0 1534.7 220.0 1546.3 199.0 1546.9 193.0 1548.7 179.9 1548.5 163.0 1541.9 153.3 1536.5 145.4 1530.5 139.0 1523.4ZM978.0 1509.5 980.8 1506.5 994.0 1499.5 1015.0 1490.0 1024.0 1487.4 1033.0 1485.8 1048.0 1485.7 1061.2 1488.5 1075.0 1494.5 1087.0 1502.4 1105.0 1516.7 1122.1 1527.5 1120.0 1529.5 1117.0 1530.0 1096.0 1529.9 1057.0 1528.3 1009.0 1519.6Z"/>
<path fill="#39226d" fill-rule="evenodd" d="M157.4 1464.5 159.1 1455.5 161.9 1446.5 167.3 1434.5 172.6 1425.5 179.1 1416.5 186.8 1407.5 196.1 1398.5 207.1 1389.5 217.0 1382.7 229.0 1375.9 241.0 1370.5 253.0 1366.4 265.0 1363.5 277.0 1362.0 289.0 1361.8 298.0 1362.5 310.0 1364.9 319.0 1367.6 331.0 1372.6 346.3 1380.5 344.7 1383.5 310.0 1390.1 298.0 1395.5 284.8 1404.5 283.5 1407.5 285.1 1413.5 286.0 1423.7 286.9 1413.5 289.0 1408.1 304.0 1398.6 316.0 1394.2 349.0 1388.1 361.0 1387.8 370.0 1389.6 385.0 1396.0 400.0 1398.0 413.8 1401.5 427.0 1403.1 442.0 1406.1 532.0 1420.2 637.0 1439.6 775.0 1462.3 805.0 1468.4 868.0 1485.0 898.0 1493.5 919.0 1500.8 934.0 1504.4 949.0 1509.6 961.0 1509.6 1006.0 1523.4 1026.0 1527.5 1066.0 1533.5 1141.0 1534.7 1150.0 1535.4 1156.0 1537.7 1156.0 1590.5 559.4 1590.5 514.0 1580.6 493.0 1578.0 475.0 1574.5 457.0 1566.4 449.3 1566.5 433.0 1569.2 427.0 1569.1 397.2 1560.5 382.0 1557.0 373.0 1556.7 328.0 1559.0 286.0 1557.1 251.8 1551.5 262.0 1550.3 268.2 1548.5 349.0 1540.6 364.0 1541.0 400.0 1555.5 406.0 1557.2 409.0 1555.9 409.9 1554.5 409.0 1550.9 404.3 1548.5 364.0 1533.1 346.0 1533.2 241.0 1543.3 221.6 1542.5 205.0 1535.3 191.1 1527.5 179.0 1518.5 170.2 1509.5 164.0 1500.5 159.0 1488.5 157.0 1476.5ZM317.0 1458.5 316.0 1457.9 315.0 1458.5 316.0 1459.1ZM340.0 1478.7 339.4 1479.5 340.0 1480.3 340.6 1479.5ZM349.0 1490.7 348.4 1491.5 349.0 1492.3 349.6 1491.5ZM354.0 1497.5 355.0 1498.1 356.0 1497.5 355.0 1496.9ZM381.0 1512.5 382.0 1513.0 383.2 1512.5 382.0 1511.9ZM387.0 1515.5 388.0 1516.0 389.2 1515.5 388.0 1514.9ZM980.5 1509.5 982.0 1508.1 1000.0 1498.6 1018.0 1491.2 1033.0 1487.9 1048.0 1487.9 1063.0 1491.5 1075.0 1497.1 1084.7 1503.5 1103.6 1518.5 1118.9 1527.5 1117.0 1528.5 1108.0 1529.3 1060.0 1527.7 1012.0 1519.2Z"/>
<path fill="#3b2973" fill-rule="evenodd" d="M175.2 1455.5 177.0 1446.5 180.1 1437.5 184.3 1428.5 189.7 1419.5 196.5 1410.5 204.7 1401.5 214.8 1392.5 222.8 1386.5 232.3 1380.5 244.0 1374.5 262.0 1368.2 274.0 1365.8 283.0 1364.9 301.0 1365.7 319.0 1370.0 341.9 1380.5 341.0 1383.5 309.5 1389.5 298.0 1394.8 283.7 1404.5 282.8 1407.5 284.9 1413.5 286.0 1425.1 287.1 1413.5 289.0 1408.9 304.0 1399.4 316.0 1395.0 349.0 1388.8 358.0 1388.5 370.0 1391.1 385.0 1397.4 400.0 1399.2 412.0 1402.5 427.0 1404.4 442.0 1407.6 532.0 1422.4 637.0 1442.7 775.0 1465.0 805.0 1470.9 868.0 1486.9 898.0 1495.1 919.0 1502.1 934.0 1505.7 949.0 1510.9 961.0 1510.8 969.3 1512.5 1006.0 1524.1 1022.5 1527.5 1060.0 1533.8 1096.0 1535.1 1141.0 1535.4 1150.0 1536.4 1156.0 1538.7 1156.0 1590.5 564.8 1590.5 511.0 1578.5 496.0 1576.4 484.0 1572.5 475.0 1570.9 457.0 1563.6 430.0 1563.7 412.0 1559.9 409.7 1557.5 411.1 1554.5 410.8 1551.5 409.0 1549.3 364.0 1531.8 346.0 1532.0 259.0 1540.5 241.0 1539.5 226.0 1532.7 211.0 1523.8 199.0 1514.4 188.7 1503.5 181.0 1491.5 176.5 1479.5 174.7 1467.5ZM289.0 1439.6 288.5 1440.5 289.0 1441.0ZM292.0 1443.0 291.5 1443.5 292.0 1443.9 292.7 1443.5ZM317.3 1458.5 316.0 1457.8 314.7 1458.5 316.0 1459.2ZM337.0 1475.8 337.0 1477.0 337.6 1476.5ZM340.0 1478.5 339.1 1479.5 340.0 1480.5 340.8 1479.5ZM349.0 1490.4 348.2 1491.5 349.0 1492.5 349.9 1491.5ZM353.7 1497.5 355.0 1498.2 356.3 1497.5 355.0 1496.8ZM380.7 1512.5 382.0 1513.2 383.6 1512.5 382.0 1511.8ZM386.7 1515.5 388.0 1516.2 389.6 1515.5 388.0 1514.8ZM400.0 1538.3 399.0 1539.5 400.0 1540.9 400.8 1539.5ZM983.2 1509.5 1003.0 1499.4 1021.0 1492.6 1036.0 1489.9 1048.0 1490.2 1060.0 1492.9 1072.0 1498.1 1084.0 1505.9 1102.0 1520.3 1115.7 1527.5 1111.0 1528.4 1099.0 1528.6 1060.0 1527.0 1009.0 1517.9ZM394.9 1554.5 394.0 1555.5 385.0 1553.9 373.0 1553.3 331.0 1554.7 319.0 1554.4 289.0 1551.9 283.0 1550.6 280.0 1548.5 349.0 1541.8 361.0 1541.8 364.0 1542.4 387.2 1551.5 388.0 1554.3Z"/>
<path fill="#3c3278" fill-rule="evenodd" d="M189.5 1449.5 191.6 1440.5 195.0 1431.5 203.3 1416.5 215.7 1401.5 225.6 1392.5 233.7 1386.5 249.3 1377.5 268.0 1370.7 286.0 1367.9 304.0 1368.8 316.0 1371.5 328.0 1376.0 337.4 1380.5 337.3 1383.5 310.0 1388.6 298.0 1394.0 283.0 1404.2 282.2 1407.5 284.6 1413.5 286.0 1426.5 287.4 1413.5 289.0 1409.7 304.0 1400.2 313.0 1396.2 352.0 1389.1 358.4 1389.5 373.0 1393.6 382.0 1398.0 400.0 1400.4 412.0 1403.8 427.0 1405.7 442.0 1409.0 532.0 1424.6 637.0 1445.7 772.0 1467.2 802.0 1472.8 892.0 1494.9 919.0 1503.5 934.0 1506.9 949.0 1512.2 958.0 1511.8 964.0 1512.5 973.0 1515.1 976.0 1515.2 1006.0 1524.8 1027.0 1529.0 1060.0 1534.5 1129.0 1536.7 1147.0 1536.5 1156.0 1539.7 1156.0 1590.5 569.8 1590.5 514.0 1577.8 496.0 1574.6 484.0 1570.3 472.0 1567.5 460.0 1562.3 430.0 1560.1 415.0 1556.8 412.9 1554.5 412.0 1551.1 409.0 1547.8 373.0 1533.4 364.0 1530.6 346.0 1530.7 280.0 1537.2 259.0 1538.6 256.0 1538.1 239.4 1530.5 224.8 1521.5 213.8 1512.5 202.8 1500.5 195.4 1488.5 190.8 1476.5 188.8 1464.5ZM289.0 1439.2 288.2 1440.5 289.0 1441.3 289.7 1440.5ZM292.0 1442.8 291.2 1443.5 292.0 1444.1 293.0 1443.5ZM301.6 1449.5 299.7 1449.5 301.0 1450.1ZM309.0 1455.5 310.0 1456.0 311.6 1455.5 310.0 1454.8ZM317.6 1458.5 316.0 1457.6 314.3 1458.5 316.0 1459.4ZM322.9 1461.5 322.0 1461.0 320.2 1461.5 322.0 1462.2ZM337.0 1475.5 336.4 1476.5 337.0 1477.2 337.9 1476.5ZM340.0 1478.2 338.9 1479.5 340.0 1480.8 341.0 1479.5ZM343.0 1482.0 342.3 1482.5 343.0 1483.8ZM349.0 1490.1 348.0 1491.5 349.0 1492.8 350.1 1491.5ZM352.0 1494.0 351.3 1494.5 352.0 1495.5ZM353.3 1497.5 355.0 1498.4 356.7 1497.5 355.0 1496.6ZM362.0 1500.5 361.0 1500.0 359.2 1500.5 361.0 1501.2ZM369.4 1506.5 372.0 1506.5 370.0 1505.9ZM375.0 1509.5 376.0 1510.1 377.6 1509.5 376.0 1508.8ZM380.3 1512.5 382.0 1513.4 384.0 1512.5 382.0 1511.6ZM386.3 1515.5 388.0 1516.4 390.0 1515.5 388.0 1514.6ZM392.7 1518.5 394.0 1519.0 395.8 1518.5 394.0 1517.8ZM398.8 1521.5 400.0 1522.0 401.8 1521.5 400.0 1520.8ZM403.0 1527.0 402.3 1530.5 403.0 1532.7 403.6 1530.5ZM400.0 1537.7 398.4 1539.5 400.0 1541.6 401.2 1539.5ZM986.9 1509.5 1006.0 1500.3 1021.0 1494.9 1036.0 1492.2 1048.0 1492.6 1060.0 1495.4 1071.4 1500.5 1084.0 1508.9 1102.0 1523.4 1111.8 1527.5 1099.0 1527.9 1060.0 1526.3 1009.0 1517.2ZM296.4 1548.5 316.0 1547.1 324.2 1545.5 349.0 1543.1 361.0 1543.1 376.2 1548.5 373.0 1550.4 331.0 1551.2 316.0 1550.5Z"/>
<path fill="#3d397c" fill-rule="evenodd" d="M201.2 1449.5 203.0 1440.5 206.0 1431.5 213.9 1416.5 226.0 1401.5 239.7 1389.5 254.3 1380.5 271.0 1374.0 286.0 1371.2 295.0 1370.8 304.0 1371.5 316.0 1374.0 325.0 1377.1 332.6 1380.5 334.1 1383.5 310.0 1388.0 298.0 1393.3 283.0 1403.4 281.5 1407.5 284.3 1413.5 286.0 1427.9 287.2 1416.5 289.0 1410.6 301.0 1402.5 313.0 1396.9 343.0 1391.3 355.0 1390.5 370.0 1393.9 382.0 1399.3 400.0 1401.5 412.0 1405.1 427.0 1406.9 442.0 1410.4 532.0 1426.8 634.0 1448.2 802.0 1475.5 892.0 1496.5 919.0 1504.7 934.0 1508.0 946.0 1512.7 949.0 1513.3 958.0 1512.9 964.0 1513.8 973.0 1516.7 982.0 1517.7 1006.0 1525.4 1031.6 1530.5 1060.0 1535.1 1120.0 1536.9 1129.0 1538.6 1135.0 1537.0 1147.0 1537.4 1156.0 1540.6 1156.0 1590.5 574.5 1590.5 511.0 1575.9 499.0 1573.8 487.0 1569.4 472.0 1565.5 460.0 1560.5 433.0 1557.7 415.0 1553.7 412.0 1548.5 409.0 1546.4 399.3 1542.5 401.6 1539.5 400.0 1537.0 397.0 1541.5 367.0 1529.9 346.0 1529.5 280.0 1535.9 266.7 1536.5 250.0 1528.9 238.0 1521.5 226.7 1512.5 215.7 1500.5 208.1 1488.5 203.2 1476.5 200.9 1464.5ZM289.0 1438.7 288.0 1440.5 289.0 1441.6 290.0 1440.5ZM292.0 1442.5 290.9 1443.5 292.0 1444.3 293.4 1443.5ZM294.7 1446.5 296.3 1446.5 295.0 1445.8ZM302.0 1449.5 301.0 1448.9 299.1 1449.5 301.0 1450.3ZM303.4 1452.5 307.0 1453.2 307.4 1452.5 304.0 1451.9ZM308.6 1455.5 310.0 1456.2 312.1 1455.5 310.0 1454.5ZM317.9 1458.5 316.0 1457.4 314.0 1458.5 316.0 1459.6ZM323.2 1461.5 322.0 1460.8 319.5 1461.5 322.0 1462.5ZM324.6 1464.5 328.0 1465.8 328.3 1464.5 325.0 1463.9ZM334.0 1472.6 334.0 1473.8 334.7 1473.5ZM337.0 1475.1 336.2 1476.5 337.0 1477.5 338.2 1476.5ZM340.0 1478.0 338.7 1479.5 340.0 1481.1 341.2 1479.5ZM343.0 1481.7 341.9 1482.5 343.0 1484.4 343.6 1482.5ZM346.0 1487.2 346.0 1488.9 346.7 1488.5ZM349.0 1489.8 347.8 1491.5 349.0 1493.0 350.3 1491.5ZM352.0 1493.7 351.0 1494.5 352.0 1496.0 352.7 1494.5ZM353.0 1497.5 355.0 1498.6 357.0 1497.5 355.0 1496.4ZM362.4 1500.5 361.0 1499.8 358.5 1500.5 361.0 1501.5ZM363.6 1503.5 367.0 1504.1 367.6 1503.5 364.0 1502.8ZM369.0 1506.5 370.0 1507.0 373.0 1506.5 370.0 1505.5ZM374.6 1509.5 376.0 1510.3 378.1 1509.5 376.0 1508.6ZM380.0 1512.5 382.0 1513.6 384.3 1512.5 382.0 1511.4ZM386.0 1515.5 388.0 1516.6 390.3 1515.5 388.0 1514.4ZM392.3 1518.5 394.0 1519.2 396.5 1518.5 394.0 1517.6ZM398.4 1521.5 400.0 1522.2 402.5 1521.5 400.0 1520.6ZM403.0 1526.3 402.1 1530.5 403.0 1533.5 403.8 1530.5ZM990.7 1509.5 1009.0 1501.5 1024.0 1496.5 1036.0 1494.6 1048.0 1495.0 1060.0 1498.0 1071.6 1503.5 1084.5 1512.5 1098.5 1524.5 1096.0 1525.8 1087.0 1526.7 1060.0 1525.7 1009.0 1516.6 996.3 1512.5ZM336.7 1545.5 349.0 1544.3 361.0 1544.4 365.2 1545.5 364.0 1547.1 361.0 1547.7 349.0 1548.0 340.0 1547.2Z"/>
<path fill="#3e4180" fill-rule="evenodd" d="M212.0 1446.5 216.1 1431.5 223.8 1416.5 235.6 1401.5 247.0 1391.3 262.0 1381.9 277.0 1376.3 292.0 1373.9 307.0 1374.6 322.0 1378.4 328.0 1380.9 330.7 1383.5 316.0 1386.0 307.0 1388.5 298.0 1392.6 283.0 1402.5 281.4 1404.5 280.9 1407.5 284.0 1413.5 286.0 1429.9 287.4 1416.5 289.0 1411.2 301.0 1403.2 313.0 1397.5 343.0 1391.9 352.0 1391.9 370.0 1395.2 385.0 1401.1 400.0 1402.7 412.0 1406.3 427.0 1408.2 442.0 1411.8 532.0 1429.1 634.0 1451.1 802.0 1478.2 895.0 1498.8 919.0 1506.0 931.0 1508.2 946.0 1513.8 949.0 1514.4 961.0 1514.3 976.0 1519.1 982.0 1518.4 1006.0 1526.0 1028.2 1530.5 1060.0 1535.7 1093.0 1536.9 1099.0 1538.0 1105.0 1537.1 1117.0 1537.4 1129.0 1540.4 1135.0 1538.0 1147.0 1538.3 1156.0 1541.5 1156.0 1590.5 579.3 1590.5 499.0 1572.3 484.0 1567.1 475.0 1564.9 460.0 1559.2 433.0 1555.4 415.0 1551.0 412.0 1546.9 402.9 1542.5 402.0 1539.5 400.0 1536.4 397.0 1540.2 367.0 1528.6 346.0 1528.2 280.0 1534.6 271.4 1533.5 256.0 1526.0 244.5 1518.5 234.1 1509.5 224.0 1497.5 217.2 1485.5 213.0 1473.5 211.1 1461.5ZM289.0 1438.2 287.7 1440.5 289.0 1441.9 290.3 1440.5ZM292.0 1442.2 290.6 1443.5 292.0 1444.5 293.7 1443.5ZM294.4 1446.5 297.3 1446.5 295.0 1445.3ZM302.3 1449.5 301.0 1448.7 298.4 1449.5 301.0 1450.6ZM303.1 1452.5 307.0 1453.7 307.7 1452.5 304.0 1451.5ZM308.3 1455.5 310.0 1456.4 312.6 1455.5 310.0 1454.3ZM318.2 1458.5 316.0 1457.2 313.7 1458.5 316.0 1459.8ZM318.9 1461.5 322.0 1462.8 323.6 1461.5 322.0 1460.6ZM325.0 1463.5 324.2 1464.5 328.0 1466.8 328.5 1464.5ZM329.2 1467.5 331.0 1470.8 332.0 1470.5 331.0 1467.3ZM334.0 1471.9 333.5 1473.5 334.0 1474.1 335.2 1473.5ZM337.0 1474.8 336.0 1476.5 337.0 1477.7 338.5 1476.5ZM340.0 1477.7 338.5 1479.5 340.0 1481.3 341.4 1479.5ZM343.0 1481.5 341.6 1482.5 343.0 1485.1 343.8 1482.5ZM346.0 1486.2 346.0 1489.2 347.2 1488.5ZM349.0 1489.5 347.6 1491.5 349.0 1493.3 350.5 1491.5ZM352.0 1493.4 350.7 1494.5 352.0 1496.5 352.9 1494.5ZM352.7 1497.5 355.0 1498.8 357.3 1497.5 355.0 1496.2ZM357.9 1500.5 361.0 1501.7 362.7 1500.5 361.0 1499.6ZM363.3 1503.5 367.0 1504.5 368.0 1503.5 364.0 1502.3ZM368.7 1506.5 370.0 1507.2 373.0 1507.2 373.3 1506.5 370.0 1505.2ZM374.3 1509.5 376.0 1510.5 378.6 1509.5 376.0 1508.4ZM379.7 1512.5 382.0 1513.7 384.7 1512.5 382.0 1511.2ZM385.7 1515.5 388.0 1516.7 390.7 1515.5 388.0 1514.2ZM391.9 1518.5 394.0 1519.4 397.1 1518.5 394.0 1517.4ZM398.0 1521.5 400.0 1522.4 403.1 1521.5 400.0 1520.4ZM403.0 1525.6 401.9 1530.5 403.0 1534.2 404.0 1530.5ZM995.1 1509.5 1012.0 1502.8 1027.0 1498.3 1039.0 1496.9 1048.0 1497.5 1059.5 1500.5 1069.0 1505.1 1084.0 1515.4 1094.1 1524.5 1087.0 1525.9 1060.0 1525.1 1009.0 1515.9 998.3 1512.5Z"/>
<path fill="#3e4881" fill-rule="evenodd" d="M221.3 1446.5 225.5 1431.5 233.1 1416.5 242.0 1404.5 254.6 1392.5 268.0 1384.0 280.0 1379.4 295.0 1376.9 310.0 1377.7 322.0 1380.9 327.2 1383.5 316.0 1385.1 304.0 1389.0 297.0 1392.5 283.0 1401.7 280.7 1404.5 280.3 1407.5 283.7 1413.5 286.0 1432.6 287.6 1416.5 289.0 1411.9 301.0 1404.0 313.0 1398.1 343.5 1392.5 348.4 1392.5 355.0 1394.4 370.0 1396.5 385.0 1402.3 400.0 1403.8 412.0 1407.5 427.0 1409.4 442.0 1413.1 457.0 1415.7 631.0 1453.3 660.0 1458.5 799.0 1480.3 865.0 1493.7 898.0 1501.1 919.0 1507.2 931.0 1509.4 946.0 1514.9 949.0 1515.5 961.0 1515.4 976.0 1521.2 982.0 1519.4 1012.0 1528.4 1045.0 1534.2 1064.4 1536.5 1069.0 1537.9 1072.0 1537.2 1084.0 1537.1 1093.0 1538.0 1099.0 1539.8 1105.0 1537.8 1117.0 1538.0 1122.2 1539.5 1126.0 1541.7 1129.0 1542.2 1135.0 1538.9 1141.0 1538.5 1147.0 1539.2 1156.0 1542.3 1156.0 1590.5 584.4 1590.5 499.0 1571.0 486.6 1566.5 472.0 1562.4 460.0 1557.8 433.0 1553.4 415.0 1548.4 412.0 1545.2 403.0 1541.2 400.0 1535.9 397.0 1538.9 367.0 1527.4 346.0 1527.0 283.0 1532.8 280.0 1532.6 265.0 1525.7 253.0 1518.0 243.0 1509.5 232.9 1497.5 226.2 1485.5 222.1 1473.5 220.4 1461.5ZM289.0 1437.8 287.4 1440.5 292.0 1444.8 294.1 1443.5 290.5 1440.5ZM294.1 1446.5 301.0 1450.9 302.6 1449.5 295.0 1444.8ZM302.8 1452.5 307.0 1454.2 310.0 1456.6 313.0 1456.3 313.1 1455.5 307.0 1451.9 304.0 1451.1ZM318.6 1458.5 316.0 1457.0 313.3 1458.5 316.0 1460.0ZM319.0 1460.1 318.6 1461.5 325.0 1465.1 331.0 1471.0 333.0 1470.5 331.4 1467.5 328.0 1463.9 325.0 1463.0 322.0 1460.4ZM334.0 1471.2 333.2 1473.5 334.0 1474.3 335.7 1473.5ZM337.0 1474.4 335.8 1476.5 341.2 1482.5 352.3 1497.5 364.0 1504.1 367.0 1504.9 370.0 1507.4 373.0 1507.8 373.7 1506.5 364.0 1501.8 361.0 1499.4 358.0 1498.8 357.7 1497.5 353.1 1494.5 347.7 1488.5 344.0 1482.5ZM373.9 1509.5 376.0 1510.7 379.0 1510.3 379.1 1509.5 376.0 1508.1ZM379.3 1512.5 382.0 1513.9 385.0 1513.3 385.1 1512.5 382.0 1511.0ZM385.3 1515.5 388.0 1516.9 391.0 1516.3 391.1 1515.5 388.0 1514.0ZM391.4 1518.5 397.0 1519.9 397.4 1518.5 394.0 1517.2ZM397.6 1521.5 403.0 1523.6 403.4 1521.5 400.0 1520.2ZM403.0 1524.9 401.6 1530.5 402.0 1533.5 403.0 1534.8 404.2 1530.5 404.1 1527.5ZM1000.4 1509.5 1018.0 1503.4 1029.1 1500.5 1039.0 1499.5 1048.0 1500.2 1057.0 1502.5 1066.0 1506.5 1084.0 1519.0 1090.4 1524.5 1084.0 1525.4 1060.7 1524.5 1030.0 1519.6 1000.2 1512.5Z"/>
<path fill="#3f4e80" fill-rule="evenodd" d="M253.4 1401.5 259.6 1395.5 267.7 1389.5 277.0 1384.6 286.0 1381.6 295.0 1380.0 304.0 1379.8 313.0 1380.9 322.3 1383.5 310.0 1385.4 295.8 1392.5 283.0 1401.0 280.0 1404.5 279.6 1407.5 280.8 1410.5 283.0 1412.5 284.1 1416.5 285.8 1434.5 288.3 1437.5 287.1 1440.5 298.0 1449.8 322.0 1463.3 327.7 1467.5 340.9 1482.5 352.0 1497.5 367.0 1505.3 370.0 1507.6 373.0 1508.4 373.6 1509.5 402.9 1524.5 401.4 1530.5 401.6 1533.5 397.0 1537.5 370.0 1526.9 364.0 1525.6 346.0 1525.7 301.0 1530.2 286.0 1530.8 277.2 1527.5 268.0 1522.6 254.0 1512.5 242.8 1500.5 235.4 1488.5 230.2 1473.5 228.7 1458.5 230.6 1443.5 235.6 1428.5 243.9 1413.5ZM287.8 1416.5 289.0 1412.5 304.0 1402.9 313.0 1398.8 337.0 1394.3 346.0 1393.7 352.0 1395.8 370.0 1397.8 385.0 1403.4 400.0 1404.9 412.0 1408.7 427.0 1410.7 442.0 1414.5 457.0 1417.1 629.1 1455.5 658.0 1460.8 796.0 1482.4 865.0 1495.5 898.0 1502.6 919.0 1508.4 931.0 1510.4 946.0 1515.9 961.0 1516.5 976.0 1522.8 982.0 1520.4 985.0 1520.7 1007.2 1527.5 1012.0 1529.8 1018.0 1529.7 1038.9 1533.5 1036.3 1536.5 1035.4 1539.5 1039.0 1541.0 1041.9 1539.5 1041.9 1536.5 1048.0 1535.1 1063.0 1537.7 1065.5 1539.5 1066.0 1542.5 1069.0 1543.3 1070.5 1542.5 1071.7 1539.5 1078.0 1537.7 1090.0 1538.1 1094.2 1539.5 1095.8 1542.5 1099.0 1543.3 1102.2 1539.5 1108.0 1538.2 1117.0 1538.6 1120.1 1539.5 1126.0 1543.0 1129.0 1543.4 1135.0 1539.9 1144.0 1539.5 1156.0 1543.1 1156.0 1590.5 589.8 1590.5 502.0 1570.5 460.0 1556.7 436.0 1552.2 415.0 1546.3 409.7 1542.5 403.0 1539.9 401.7 1536.5 404.1 1533.5 404.7 1524.5 403.8 1521.5 376.0 1507.9 355.0 1495.8 348.2 1488.5 340.0 1477.2 328.9 1464.5 307.0 1451.7 304.0 1450.7 290.8 1440.5 289.2 1437.5 289.0 1434.4 287.3 1431.5ZM1001.9 1512.5 1003.0 1511.0 1027.0 1503.7 1036.0 1502.4 1045.0 1502.7 1054.0 1504.6 1063.0 1508.3 1086.2 1524.5 1078.0 1524.8 1075.0 1524.1 1057.0 1523.4 1018.0 1516.6Z"/>
<path fill="#3f5580" fill-rule="evenodd" d="M261.6 1401.5 271.9 1392.5 280.0 1387.9 286.0 1385.5 298.0 1383.0 312.3 1383.5 310.0 1383.7 307.0 1385.5 306.7 1386.5 295.0 1392.0 283.0 1400.2 279.1 1404.5 278.9 1407.5 280.0 1410.5 283.0 1413.2 283.9 1416.5 285.3 1434.5 286.9 1437.5 286.9 1440.5 298.0 1450.0 322.0 1463.6 327.5 1467.5 340.5 1482.5 352.0 1497.7 379.0 1512.8 402.6 1524.5 401.1 1533.5 400.0 1534.8 397.0 1536.2 370.0 1525.5 364.0 1524.3 346.0 1524.5 301.0 1528.9 289.0 1528.9 271.0 1519.9 257.7 1509.5 247.5 1497.5 241.0 1485.5 237.4 1473.5 236.3 1458.5 238.7 1443.5 244.1 1428.5 252.3 1413.5ZM288.0 1416.5 289.0 1413.2 301.0 1405.4 313.0 1399.4 337.0 1394.9 343.0 1395.2 355.0 1398.1 370.0 1399.1 385.0 1404.5 400.0 1406.1 412.0 1409.9 427.0 1412.0 628.0 1457.6 655.0 1462.7 793.0 1484.2 868.0 1497.9 898.0 1504.0 918.8 1509.5 931.0 1511.5 946.0 1516.9 958.0 1516.9 961.0 1517.6 976.0 1524.4 979.0 1523.9 982.0 1521.3 985.0 1521.3 1004.5 1527.5 1008.7 1530.5 1007.8 1533.5 1009.0 1534.7 1012.0 1535.4 1015.0 1534.6 1016.5 1533.5 1016.3 1530.5 1018.0 1530.3 1021.0 1531.6 1035.6 1533.5 1033.5 1536.5 1032.9 1539.5 1036.8 1542.5 1039.0 1542.8 1042.0 1541.9 1044.7 1539.5 1045.0 1536.5 1048.0 1535.8 1054.0 1536.5 1063.0 1539.3 1063.9 1542.5 1066.0 1544.1 1069.0 1544.7 1072.9 1542.5 1074.0 1539.5 1081.0 1538.1 1092.0 1539.5 1093.7 1542.5 1096.0 1544.1 1099.0 1544.8 1102.4 1542.5 1104.1 1539.5 1108.0 1538.8 1117.0 1539.2 1123.0 1542.9 1129.0 1544.4 1135.0 1540.9 1138.0 1540.2 1147.0 1541.0 1156.0 1543.8 1156.0 1590.5 594.7 1590.5 499.0 1568.5 460.0 1555.5 433.0 1549.9 418.0 1545.5 403.0 1538.0 402.5 1536.5 404.4 1533.5 404.8 1527.5 406.1 1524.5 404.1 1521.5 376.0 1507.7 355.0 1495.6 329.2 1464.5 304.0 1450.4 291.0 1440.5 289.5 1437.5 289.4 1434.5 287.7 1428.5ZM1008.3 1512.5 1030.0 1506.2 1036.0 1505.4 1045.0 1505.8 1054.0 1507.9 1060.0 1510.4 1067.8 1515.5 1074.5 1521.5 1069.0 1522.6 1057.0 1522.9 1015.6 1515.5 1015.0 1514.4 1012.0 1512.9Z"/>
<path fill="#3e5a7f" fill-rule="evenodd" d="M272.5 1398.5 280.0 1392.8 286.4 1389.5 295.0 1386.8 304.0 1385.8 304.5 1386.5 301.0 1386.9 299.1 1389.5 295.0 1390.6 289.2 1395.5 286.0 1396.9 278.2 1404.5 279.0 1410.5 283.0 1413.9 283.7 1416.5 284.9 1434.5 286.6 1440.5 298.0 1450.2 327.2 1467.5 340.2 1482.5 352.0 1497.9 379.0 1513.1 402.2 1524.5 400.0 1534.2 397.0 1534.8 370.0 1524.2 364.0 1523.1 346.0 1523.2 301.0 1527.7 293.9 1527.5 283.0 1522.7 275.6 1518.5 267.4 1512.5 260.9 1506.5 251.7 1494.5 246.1 1482.5 243.5 1470.5 243.3 1458.5 246.3 1443.5 252.3 1428.5 262.4 1410.5ZM288.2 1416.5 289.0 1413.8 304.0 1404.2 313.0 1400.0 337.6 1395.5 352.0 1399.6 373.0 1400.9 385.0 1405.7 400.0 1407.2 412.0 1411.1 427.0 1413.3 550.0 1442.3 628.0 1459.8 652.0 1464.5 793.0 1486.4 868.0 1499.6 898.0 1505.5 916.0 1510.1 931.0 1512.6 946.0 1517.9 958.0 1517.9 976.0 1525.5 979.0 1525.2 982.0 1522.8 985.0 1522.2 1002.3 1527.5 1006.6 1530.5 1006.1 1533.5 1009.0 1536.4 1012.0 1537.2 1019.0 1536.5 1021.3 1533.5 1027.0 1532.9 1032.2 1533.5 1030.3 1536.5 1030.1 1539.5 1032.9 1542.5 1036.0 1543.7 1039.0 1544.1 1044.6 1542.5 1047.4 1539.5 1048.0 1536.5 1061.0 1539.5 1061.7 1542.5 1065.7 1545.5 1069.0 1545.9 1072.0 1545.0 1074.9 1542.5 1076.2 1539.5 1081.0 1538.7 1090.0 1539.5 1093.0 1543.6 1095.9 1545.5 1099.0 1545.9 1102.0 1544.5 1105.0 1540.8 1108.0 1539.4 1117.0 1540.4 1123.0 1544.0 1129.0 1545.4 1135.0 1541.9 1138.0 1541.2 1147.0 1541.9 1156.0 1544.5 1156.0 1590.5 599.0 1590.5 502.0 1568.2 460.0 1554.4 433.0 1548.2 418.0 1543.8 406.0 1538.3 403.6 1536.5 404.7 1533.5 405.1 1527.5 406.4 1524.5 404.5 1521.5 376.0 1507.4 355.0 1495.5 329.4 1464.5 304.0 1450.0 291.3 1440.5 289.9 1437.5 289.8 1434.5 288.2 1428.5ZM1018.8 1515.5 1022.0 1512.5 1030.0 1509.7 1036.0 1508.9 1045.0 1509.4 1054.0 1511.8 1060.0 1514.6 1064.9 1518.5 1067.2 1521.5 1057.0 1522.3 1048.0 1520.1 1039.0 1519.3 1027.0 1516.4Z"/>
<path fill="#3f607e" fill-rule="evenodd" d="M289.7 1392.5 292.0 1391.6 292.3 1392.5ZM284.3 1395.5 286.0 1394.5 286.6 1395.5ZM280.2 1398.5 283.0 1396.4 283.4 1398.5ZM288.4 1416.5 289.0 1414.5 304.7 1404.5 313.0 1400.7 325.0 1398.1 334.0 1397.9 352.0 1401.7 370.0 1401.7 376.0 1403.1 385.0 1406.9 400.0 1408.4 412.0 1412.4 427.0 1414.6 439.0 1418.1 454.0 1421.0 550.0 1444.3 589.0 1452.5 601.0 1455.8 613.0 1457.9 628.0 1461.8 676.0 1470.4 793.0 1488.5 892.0 1505.8 916.0 1511.3 931.0 1513.7 946.0 1518.8 958.0 1518.9 970.0 1524.5 976.0 1526.5 979.0 1526.2 985.0 1523.3 988.0 1523.4 1000.7 1527.5 1004.9 1530.5 1005.0 1533.5 1009.0 1537.5 1015.0 1539.2 1024.0 1539.4 1036.0 1545.0 1039.0 1545.3 1045.0 1544.0 1048.0 1542.5 1051.0 1539.4 1054.0 1538.9 1058.1 1539.5 1059.1 1542.5 1062.9 1545.5 1069.0 1546.8 1073.7 1545.5 1077.0 1542.5 1078.8 1539.5 1081.0 1539.2 1087.0 1539.9 1093.4 1545.5 1099.0 1546.7 1102.6 1545.5 1108.0 1540.6 1114.0 1540.9 1126.0 1546.0 1129.0 1546.1 1135.0 1542.9 1138.0 1542.1 1147.0 1542.8 1156.0 1545.2 1156.0 1590.5 603.2 1590.5 502.0 1567.1 460.0 1553.3 433.0 1546.8 415.0 1541.2 406.0 1536.9 405.0 1530.5 406.6 1524.5 404.8 1521.5 376.0 1507.2 355.0 1495.3 329.6 1464.5 304.0 1449.6 291.6 1440.5 290.2 1437.5 289.8 1431.5 288.2 1425.5ZM277.0 1401.5 278.0 1410.5 283.0 1414.7 284.5 1434.5 286.3 1440.5 289.0 1443.4 298.0 1450.4 327.0 1467.5 352.0 1498.0 379.0 1513.3 401.9 1524.5 400.0 1533.7 397.0 1533.4 370.0 1522.9 364.0 1521.8 346.0 1522.0 304.0 1526.2 298.0 1525.8 292.0 1523.6 282.0 1518.5 273.3 1512.5 266.6 1506.5 259.2 1497.5 252.9 1485.5 249.8 1473.5 249.4 1461.5 251.6 1449.5 257.4 1434.5 268.3 1413.5ZM1026.6 1515.5 1033.0 1513.4 1042.0 1513.6 1054.0 1516.8 1057.5 1518.5 1061.0 1521.5 1055.6 1521.5 1054.0 1519.5 1037.4 1518.5 1036.0 1517.1 1033.0 1516.2Z"/>
<path fill="#40647c" fill-rule="evenodd" d="M289.0 1415.2 307.0 1403.9 316.0 1400.3 326.3 1398.5 330.6 1398.5 337.0 1401.9 343.0 1403.5 352.0 1404.1 367.0 1403.1 373.0 1403.4 385.0 1408.1 400.0 1409.6 412.0 1413.7 427.0 1416.0 439.0 1419.6 453.8 1422.5 550.0 1446.3 562.0 1448.3 577.0 1452.3 589.0 1454.3 601.0 1457.7 613.0 1459.6 625.0 1463.0 640.0 1465.3 652.0 1468.3 664.0 1469.7 676.0 1472.2 691.0 1474.1 702.1 1476.5 715.0 1477.9 754.0 1484.8 766.0 1486.1 778.0 1488.7 793.0 1490.4 895.0 1507.8 916.0 1512.5 931.0 1514.8 946.0 1519.8 958.0 1520.0 970.0 1525.7 976.0 1527.6 979.0 1527.3 985.0 1524.3 988.0 1524.0 1000.0 1528.2 1003.3 1530.5 1003.9 1533.5 1006.0 1536.5 1009.0 1538.6 1015.0 1540.7 1024.0 1542.2 1036.0 1546.2 1042.0 1546.3 1054.0 1542.7 1063.0 1546.7 1069.0 1547.8 1076.2 1545.5 1081.0 1541.2 1084.0 1541.0 1093.0 1546.4 1099.0 1547.5 1104.3 1545.5 1108.0 1542.1 1111.0 1541.5 1126.0 1546.8 1129.0 1546.8 1138.0 1543.1 1147.0 1543.7 1156.0 1545.9 1156.0 1588.1 1147.0 1589.2 1126.0 1587.3 1081.0 1588.5 1063.0 1588.1 1048.0 1589.0 1030.0 1588.3 1003.0 1588.5 960.7 1590.5 607.7 1590.5 502.0 1566.0 460.0 1552.3 430.0 1544.5 415.0 1539.7 406.0 1535.6 405.2 1530.5 406.9 1524.5 405.2 1521.5 379.0 1508.5 355.0 1495.1 329.8 1464.5 301.0 1447.5 291.8 1440.5 290.6 1437.5 290.3 1431.5 288.5 1425.5ZM277.0 1411.4 283.0 1415.5 284.6 1437.5 288.6 1443.5 298.0 1450.6 326.8 1467.5 352.0 1498.2 379.0 1513.6 401.6 1524.5 400.0 1532.8 373.0 1522.7 364.0 1520.6 346.0 1520.7 304.0 1524.9 301.4 1524.5 286.0 1517.3 278.8 1512.5 271.9 1506.5 264.3 1497.5 258.0 1485.5 255.6 1476.5 254.9 1464.5 256.3 1455.5 259.2 1446.5Z"/>
<path fill="#42687b" fill-rule="evenodd" d="M288.8 1416.5 304.0 1406.1 316.0 1400.8 328.0 1400.8 334.0 1405.1 340.0 1407.4 349.0 1407.1 367.0 1404.7 373.0 1404.8 385.0 1409.5 400.0 1410.9 412.0 1415.2 427.0 1417.5 439.0 1421.2 451.0 1423.5 550.0 1448.0 562.0 1450.0 601.0 1459.3 616.0 1461.9 625.0 1464.7 640.0 1466.9 652.0 1470.0 664.0 1471.3 676.0 1473.9 688.0 1475.2 727.0 1482.3 739.0 1483.5 778.0 1490.5 793.0 1492.2 803.2 1494.5 817.0 1496.2 895.0 1509.3 916.0 1513.8 931.0 1516.0 943.0 1520.2 958.0 1521.1 970.0 1526.8 976.0 1528.5 979.0 1528.3 988.0 1524.9 996.9 1527.5 1001.6 1530.5 1004.8 1536.5 1009.0 1539.7 1015.0 1542.1 1033.0 1546.8 1042.0 1547.4 1054.0 1545.4 1069.0 1548.7 1075.0 1547.4 1081.0 1544.2 1084.0 1543.5 1093.0 1547.5 1099.0 1548.4 1102.0 1547.7 1111.0 1542.8 1126.0 1547.6 1129.0 1547.5 1138.0 1544.1 1147.0 1544.6 1156.0 1546.5 1156.0 1585.3 1144.0 1586.8 1126.0 1584.6 1111.0 1585.6 1096.0 1585.2 1081.0 1586.3 1063.0 1585.8 1048.0 1586.9 1030.0 1586.1 1003.0 1586.5 961.0 1588.0 922.9 1590.5 612.7 1590.5 556.0 1578.0 502.0 1565.0 460.0 1551.3 430.0 1543.1 406.0 1534.3 405.4 1530.5 407.1 1524.5 405.5 1521.5 379.0 1508.4 355.0 1494.9 330.0 1464.5 301.0 1447.3 292.2 1440.5 290.9 1437.5 290.2 1428.5 288.7 1425.5ZM281.8 1416.5 283.0 1416.5 284.0 1437.5 285.2 1440.5 288.0 1443.5 298.0 1450.8 326.6 1467.5 352.0 1498.4 379.0 1513.9 391.0 1520.0 394.0 1520.7 397.0 1523.0 401.3 1524.5 400.0 1531.6 373.0 1521.3 364.0 1519.3 346.0 1519.5 310.0 1523.0 304.0 1522.8 288.7 1515.5 276.8 1506.5 269.0 1497.5 263.9 1488.5 261.0 1479.5 259.9 1467.5 261.2 1458.5 264.2 1449.5 278.2 1425.5Z"/>
<path fill="#446c7a" fill-rule="evenodd" d="M289.0 1416.5 292.0 1415.9 294.1 1413.5 304.0 1406.8 310.0 1403.8 313.0 1403.3 316.0 1401.4 322.5 1401.5 326.5 1404.5 334.0 1413.4 337.0 1413.8 361.4 1407.5 373.0 1406.5 385.0 1410.9 400.0 1412.5 412.0 1416.7 427.0 1419.2 439.0 1422.8 451.0 1425.2 550.0 1449.7 562.0 1451.6 601.0 1460.8 613.0 1462.7 625.0 1466.1 640.0 1468.4 652.0 1471.4 664.0 1472.8 676.0 1475.4 691.0 1477.3 700.6 1479.5 715.0 1481.2 754.0 1488.2 766.0 1489.6 778.0 1492.1 790.0 1493.4 928.0 1516.6 943.0 1521.3 958.0 1522.4 970.0 1528.0 976.0 1529.5 979.0 1529.3 988.0 1526.5 994.0 1527.2 999.8 1530.5 1003.7 1536.5 1009.0 1540.7 1018.0 1544.5 1033.0 1548.0 1042.0 1548.6 1054.0 1547.3 1069.0 1549.6 1075.0 1548.7 1084.0 1546.1 1093.0 1548.6 1099.0 1549.1 1102.6 1548.5 1111.0 1544.8 1126.0 1548.4 1129.0 1548.2 1138.0 1545.1 1144.0 1545.0 1156.0 1547.2 1156.0 1582.7 1150.0 1584.1 1144.0 1584.5 1126.0 1582.0 1111.0 1583.4 1096.0 1582.7 1081.0 1584.2 1063.0 1583.5 1048.0 1585.0 1030.0 1584.0 967.0 1585.3 919.0 1588.1 891.9 1590.5 618.2 1590.5 556.0 1577.0 502.0 1563.9 460.0 1550.3 430.0 1541.8 406.0 1532.9 405.6 1530.5 407.3 1524.5 405.9 1521.5 379.0 1508.2 355.0 1494.7 330.3 1464.5 301.0 1447.2 292.9 1440.5 291.3 1437.5 291.2 1428.5 289.0 1424.7ZM273.5 1443.5 283.0 1431.7 284.2 1440.5 289.0 1444.8 292.0 1446.2 298.0 1451.0 326.3 1467.5 352.0 1498.6 379.0 1514.2 388.8 1518.5 391.0 1520.3 394.0 1520.9 397.0 1523.3 401.0 1524.5 400.0 1530.5 373.0 1519.9 364.0 1518.1 346.0 1518.2 310.0 1521.8 301.0 1518.9 289.0 1512.3 281.6 1506.5 273.5 1497.5 268.3 1488.5 265.4 1479.5 264.5 1470.5 265.5 1461.5 268.4 1452.5Z"/>
<path fill="#45707a" fill-rule="evenodd" d="M292.0 1431.6 294.4 1428.5 295.3 1425.5 295.6 1416.5 296.7 1413.5 298.0 1413.1 303.8 1407.5 307.0 1407.0 310.0 1404.4 319.0 1404.3 322.0 1406.4 324.1 1410.5 324.9 1416.5 326.5 1419.5 331.0 1421.6 338.7 1419.5 359.7 1410.5 367.0 1408.6 373.0 1408.4 385.0 1412.5 400.0 1414.3 412.0 1418.4 424.0 1420.3 439.0 1424.6 523.0 1444.9 589.0 1459.0 601.0 1462.2 613.0 1464.2 625.0 1467.5 640.0 1469.9 652.0 1472.8 928.0 1517.9 943.0 1522.4 958.0 1523.7 973.0 1530.0 979.0 1530.3 988.0 1528.1 994.0 1528.4 997.6 1530.5 1006.0 1539.6 1012.0 1543.5 1018.0 1546.1 1028.1 1548.5 1042.0 1549.8 1054.0 1549.0 1069.0 1550.4 1084.0 1548.0 1099.0 1549.9 1111.0 1546.6 1126.0 1549.1 1141.0 1545.8 1156.0 1547.8 1156.0 1580.3 1150.0 1581.9 1144.0 1582.4 1126.0 1579.8 1111.0 1581.3 1096.0 1580.5 1081.0 1582.2 1063.0 1581.4 1048.0 1583.0 1030.0 1581.9 964.0 1583.0 904.0 1586.5 886.0 1588.3 873.4 1590.5 622.7 1590.5 556.0 1576.0 502.0 1562.9 460.0 1549.3 433.0 1541.6 406.0 1531.6 407.6 1524.5 406.2 1521.5 379.0 1508.0 355.0 1494.5 330.5 1464.5 328.0 1462.4 301.0 1447.0 293.5 1440.5 291.7 1437.5ZM275.1 1449.5 283.0 1439.7 283.1 1440.5 289.0 1445.3 292.0 1446.5 301.0 1453.1 326.1 1467.5 352.0 1498.8 379.0 1514.4 388.4 1518.5 391.0 1520.6 394.0 1521.1 397.0 1523.7 400.7 1524.5 400.0 1529.2 373.0 1518.5 364.0 1516.8 346.0 1517.0 313.0 1520.0 307.0 1518.8 294.4 1512.5 286.1 1506.5 280.0 1500.4 273.9 1491.5 270.3 1482.5 268.8 1473.5 269.4 1464.5 272.0 1455.5Z"/>
<path fill="#45757c" fill-rule="evenodd" d="M292.1 1437.5 299.8 1431.5 301.7 1428.5 304.6 1419.5 306.3 1416.5 310.0 1413.9 313.0 1413.6 318.0 1419.5 322.0 1422.5 328.0 1425.1 331.0 1425.3 343.0 1421.6 364.0 1411.9 370.0 1410.5 373.0 1410.6 385.0 1414.3 400.0 1416.2 412.0 1420.2 425.1 1422.5 439.0 1426.4 523.1 1446.5 652.0 1474.1 928.0 1519.3 943.0 1523.6 958.0 1525.0 973.0 1531.0 979.0 1531.4 991.0 1529.6 997.0 1531.9 1004.7 1539.5 1012.0 1544.8 1018.0 1547.8 1024.0 1549.3 1042.0 1550.9 1054.0 1550.5 1072.0 1551.3 1084.0 1549.7 1102.0 1550.4 1111.0 1548.3 1126.0 1549.9 1141.0 1546.9 1156.0 1548.5 1156.0 1578.1 1150.0 1579.9 1144.0 1580.4 1126.0 1577.7 1111.0 1579.2 1096.0 1578.5 1081.0 1580.2 1063.0 1579.5 1045.0 1581.1 1021.0 1579.9 949.0 1581.0 886.0 1585.3 874.0 1587.2 862.3 1590.5 626.5 1590.5 556.0 1575.0 502.0 1561.9 460.0 1548.3 433.0 1540.4 406.8 1530.5 407.8 1524.5 406.0 1521.0 379.0 1507.8 355.0 1494.3 330.7 1464.5 328.0 1462.2 300.6 1446.5 294.2 1440.5ZM278.1 1452.5 285.1 1443.5 286.0 1443.4 301.0 1453.4 325.0 1466.8 334.0 1476.6 352.0 1499.0 379.0 1514.7 382.0 1515.5 385.0 1517.8 388.0 1518.5 391.0 1520.9 394.0 1521.3 397.0 1524.0 400.0 1524.3 400.0 1527.8 373.0 1517.3 364.0 1515.6 346.0 1515.7 313.0 1518.5 298.0 1511.7 290.5 1506.5 284.2 1500.5 279.6 1494.5 275.0 1485.5 272.9 1476.5 273.0 1467.5 275.2 1458.5Z"/>
<path fill="#46797d" fill-rule="evenodd" d="M294.8 1440.5 295.0 1439.5 301.5 1434.5 310.0 1426.2 313.0 1425.1 316.0 1424.8 328.0 1427.1 339.6 1425.5 349.4 1422.5 364.0 1415.0 368.9 1413.5 373.0 1413.3 385.0 1416.2 400.0 1418.5 412.0 1422.2 424.0 1424.4 523.0 1448.0 652.0 1475.3 805.0 1501.0 928.0 1520.7 943.0 1524.8 958.0 1526.4 973.0 1532.0 979.0 1532.4 991.0 1531.1 997.0 1533.7 1009.0 1544.0 1015.0 1548.0 1024.0 1551.0 1045.0 1552.2 1072.0 1552.3 1084.0 1551.3 1102.0 1551.3 1111.0 1549.9 1126.0 1550.7 1141.0 1547.9 1156.0 1549.2 1156.0 1576.2 1150.0 1577.9 1144.0 1578.5 1126.0 1575.9 1111.0 1577.2 1096.0 1576.7 1078.0 1578.3 1063.0 1577.6 1045.0 1579.1 1018.0 1577.7 994.0 1578.7 970.0 1577.9 943.0 1578.7 907.0 1580.6 880.0 1583.0 865.0 1586.1 854.6 1590.5 630.3 1590.5 556.0 1574.0 505.0 1561.7 418.0 1534.0 409.0 1529.9 408.0 1527.5 408.0 1524.5 406.0 1520.7 379.0 1507.6 355.0 1494.1 330.9 1464.5 328.0 1462.0 301.0 1446.6ZM282.4 1452.5 287.0 1446.5 289.0 1446.3 325.0 1467.0 334.0 1476.8 352.0 1499.1 365.2 1506.5 367.0 1508.2 370.5 1509.5 373.0 1511.7 375.2 1512.5 376.0 1513.9 381.0 1515.5 382.0 1517.3 386.8 1518.5 385.0 1520.5 373.0 1516.0 364.0 1514.3 346.0 1514.5 316.0 1516.9 310.0 1515.0 299.2 1509.5 291.2 1503.5 285.5 1497.5 281.5 1491.5 277.7 1482.5 276.3 1473.5 276.7 1467.5 279.2 1458.5ZM387.5 1521.5 394.0 1521.4 394.0 1523.2ZM395.0 1524.5 400.1 1524.5 400.0 1525.4Z"/>
<path fill="#467d7e" fill-rule="evenodd" d="M298.0 1440.5 310.0 1430.5 313.0 1429.0 319.0 1428.0 331.0 1428.7 346.0 1426.7 352.0 1424.8 367.0 1417.4 370.6 1416.5 376.0 1416.6 397.0 1420.3 412.0 1424.4 523.0 1449.5 652.0 1476.6 805.0 1502.5 928.0 1522.2 943.0 1526.0 956.7 1527.5 973.0 1533.0 979.0 1533.4 991.0 1532.6 997.0 1535.1 1015.0 1549.8 1021.0 1552.3 1048.0 1553.7 1066.0 1553.0 1075.0 1553.5 1111.0 1551.5 1123.0 1551.8 1141.0 1549.0 1156.0 1550.0 1156.0 1574.4 1150.0 1576.1 1144.0 1576.6 1126.0 1574.2 1108.0 1575.2 1093.0 1575.0 1078.0 1576.2 1063.0 1575.8 1045.0 1577.1 1018.0 1575.3 991.0 1576.6 967.0 1575.3 910.0 1577.5 883.0 1579.4 871.0 1581.1 859.0 1584.6 848.5 1590.5 634.5 1590.5 556.0 1573.0 505.0 1560.8 419.8 1533.5 409.0 1528.6 407.2 1521.5 406.0 1520.4 379.0 1507.5 355.0 1493.9 331.0 1464.3 328.0 1461.8 301.4 1446.5 297.7 1443.5ZM286.3 1452.5 289.0 1448.9 295.0 1449.4 301.0 1454.0 325.0 1467.2 338.5 1482.5 349.9 1497.5 355.0 1501.3 374.5 1512.5 373.0 1514.8 364.0 1513.1 349.0 1513.1 319.0 1515.8 309.7 1512.5 299.2 1506.5 292.0 1500.5 286.9 1494.5 283.4 1488.5 281.1 1482.5 279.8 1473.5 280.2 1467.5 282.9 1458.5ZM375.5 1515.5 380.0 1515.5 379.0 1516.8ZM383.3 1518.5 385.6 1518.5 385.0 1519.2Z"/>
<path fill="#46827e" fill-rule="evenodd" d="M298.1 1443.5 310.0 1433.6 316.0 1430.7 349.0 1428.8 355.0 1427.0 370.0 1420.3 379.0 1420.2 397.0 1423.2 523.0 1451.0 655.0 1478.4 808.0 1504.6 928.0 1523.8 943.0 1527.3 955.0 1528.6 973.0 1534.0 979.0 1534.5 991.0 1534.0 997.0 1536.4 1015.0 1551.8 1021.0 1554.3 1036.0 1553.9 1051.0 1555.4 1066.0 1553.9 1081.0 1554.9 1099.0 1553.2 1120.0 1553.2 1141.0 1550.2 1156.0 1550.7 1156.0 1572.7 1150.0 1574.3 1144.0 1574.8 1123.0 1572.4 1045.0 1575.0 1015.0 1572.7 994.0 1574.5 967.0 1572.7 910.0 1574.6 880.0 1576.4 865.0 1578.6 856.0 1581.9 843.3 1590.5 639.5 1590.5 556.0 1572.0 505.0 1559.8 421.0 1532.8 409.0 1527.3 407.6 1521.5 406.0 1520.1 379.0 1507.3 355.0 1493.6 331.0 1464.1 328.0 1461.7 302.1 1446.5 301.0 1444.5ZM292.0 1449.7 295.0 1450.1 301.0 1454.2 325.0 1467.3 338.3 1482.5 349.6 1497.5 361.0 1505.2 364.6 1506.5 367.0 1508.8 369.6 1509.5 370.0 1511.0 373.7 1512.5 373.0 1513.5 364.0 1511.8 349.0 1511.8 325.0 1514.1 319.0 1513.9 308.7 1509.5 301.0 1504.8 295.8 1500.5 290.4 1494.5 286.7 1488.5 283.6 1479.5 283.1 1470.5 284.1 1464.5 286.3 1458.5Z"/>
<path fill="#47877f" fill-rule="evenodd" d="M301.3 1443.5 310.0 1436.2 319.0 1432.1 334.0 1430.7 349.0 1431.3 358.0 1429.3 373.0 1423.7 382.0 1424.0 403.0 1427.5 655.0 1479.6 835.0 1510.8 928.0 1525.5 943.0 1528.8 955.0 1530.1 973.0 1535.1 991.0 1535.4 994.0 1536.2 1000.0 1539.6 1015.0 1554.4 1018.0 1556.3 1021.0 1557.0 1036.0 1555.2 1051.0 1557.3 1066.0 1555.0 1081.0 1556.8 1096.0 1554.3 1117.0 1555.0 1139.0 1551.5 1156.0 1551.5 1156.0 1570.9 1150.0 1572.4 1144.0 1572.9 1120.0 1570.3 1039.0 1572.7 1018.0 1569.5 994.0 1572.4 970.0 1570.0 910.0 1571.5 877.0 1573.1 862.0 1575.3 853.0 1578.9 838.7 1590.5 644.9 1590.5 556.0 1571.0 505.0 1558.8 424.0 1532.8 418.0 1529.5 409.0 1525.9 407.9 1521.5 406.0 1519.8 379.0 1507.1 355.0 1493.4 331.0 1463.9 328.0 1461.5 306.9 1449.5 302.7 1446.5ZM293.0 1452.5 295.0 1451.5 298.0 1452.2 301.0 1454.5 325.0 1467.5 338.1 1482.5 349.4 1497.5 355.0 1501.9 358.8 1503.5 361.0 1505.5 364.2 1506.5 367.0 1509.1 368.4 1509.5 367.0 1511.1 349.0 1510.6 322.0 1512.7 313.0 1509.2 303.3 1503.5 296.5 1497.5 291.7 1491.5 288.6 1485.5 286.7 1479.5 286.1 1470.5 287.2 1464.5 289.4 1458.5Z"/>
<path fill="#488c80" fill-rule="evenodd" d="M303.3 1446.5 304.0 1443.7 310.0 1438.5 316.0 1434.9 322.0 1433.1 334.0 1431.8 346.0 1433.4 352.0 1433.4 358.0 1432.5 370.0 1428.5 376.0 1427.3 382.0 1427.5 403.0 1430.6 568.0 1462.8 655.0 1481.0 859.0 1516.6 955.0 1531.8 973.0 1536.2 991.0 1536.7 997.0 1538.8 1005.4 1545.5 1016.4 1560.5 1016.7 1563.5 1003.0 1568.9 994.0 1570.2 988.0 1570.0 970.0 1567.2 877.0 1569.6 862.0 1570.9 856.0 1572.4 850.0 1575.7 834.5 1590.5 649.4 1590.5 556.0 1570.0 505.0 1557.8 424.0 1531.8 418.0 1528.1 409.0 1524.6 408.2 1521.5 406.0 1519.5 403.0 1518.8 400.0 1516.6 384.0 1509.5 356.9 1494.5 353.6 1491.5 331.0 1463.7ZM296.1 1452.5 298.0 1452.4 301.0 1454.8 325.0 1467.7 337.9 1482.5 349.2 1497.5 355.0 1502.2 358.5 1503.5 361.0 1505.8 363.7 1506.5 361.0 1509.3 346.0 1509.5 325.0 1511.2 313.0 1506.8 303.3 1500.5 297.2 1494.5 293.1 1488.5 290.5 1482.5 289.2 1476.5 289.0 1470.5 290.1 1464.5 292.3 1458.5ZM1156.0 1552.6 1156.0 1569.1 1147.0 1570.9 1138.0 1570.5 1117.0 1567.6 1102.0 1568.9 1084.0 1568.1 1069.0 1569.9 1054.0 1568.9 1036.0 1570.1 1032.4 1569.5 1024.6 1566.5 1021.1 1563.5 1024.2 1560.5 1030.9 1557.5 1036.0 1556.6 1051.0 1560.0 1066.0 1556.4 1081.0 1559.5 1084.0 1559.4 1099.0 1555.4 1114.0 1557.3 1120.0 1556.7 1129.0 1553.8Z"/>
<path fill="#489280" fill-rule="evenodd" d="M304.0 1446.5 310.3 1440.5 316.0 1436.7 322.0 1434.5 331.0 1433.0 337.0 1433.1 346.0 1435.3 355.0 1435.7 361.0 1435.1 373.0 1431.6 379.0 1430.8 406.0 1434.0 568.0 1464.2 655.0 1482.3 745.0 1497.7 784.0 1505.3 796.0 1506.8 811.0 1510.3 823.0 1511.7 835.0 1514.5 886.0 1523.2 955.0 1533.5 973.0 1537.5 991.0 1538.1 997.0 1540.0 1004.2 1545.5 1009.2 1554.5 1010.0 1557.5 1009.7 1560.5 1007.4 1563.5 1003.0 1566.0 994.0 1567.9 985.0 1567.2 973.0 1564.3 877.0 1565.9 856.0 1567.3 850.3 1569.5 847.0 1572.0 830.6 1590.5 653.6 1590.5 556.0 1569.0 505.0 1556.8 424.0 1530.7 418.0 1526.7 409.0 1523.2 408.6 1521.5 406.0 1519.3 403.0 1518.6 400.0 1516.4 384.4 1509.5 357.2 1494.5 353.7 1491.5 331.0 1463.4 307.9 1449.5 307.0 1447.8ZM298.0 1453.8 307.0 1457.7 325.0 1468.0 337.7 1482.5 349.0 1497.5 355.0 1502.4 358.0 1503.4 361.0 1506.1 362.5 1506.5 361.0 1508.1 346.0 1508.2 328.0 1510.1 317.3 1506.5 307.0 1500.4 298.1 1491.5 294.6 1485.5 292.5 1479.5 291.7 1473.5 292.2 1467.5 293.8 1461.5ZM1118.6 1560.5 1129.0 1555.1 1156.0 1553.7 1156.0 1567.1 1150.0 1568.5 1141.0 1568.7 1127.0 1566.5 1118.5 1563.5ZM1089.3 1563.5 1090.6 1560.5 1095.4 1557.5 1099.0 1557.0 1108.6 1560.5 1109.7 1563.5 1105.0 1565.3 1099.0 1566.4 1093.0 1565.3ZM1030.1 1563.5 1031.4 1560.5 1036.0 1558.8 1041.4 1560.5 1044.6 1563.5 1042.0 1566.3 1039.0 1566.9 1034.1 1566.5ZM1058.0 1563.5 1060.5 1560.5 1066.0 1558.1 1069.0 1558.5 1073.5 1560.5 1076.1 1563.5 1072.1 1566.5 1066.0 1567.0 1062.3 1566.5Z"/>
<path fill="#4a9881" fill-rule="evenodd" d="M306.3 1446.5 313.0 1440.5 319.0 1437.0 325.0 1435.1 334.0 1433.8 346.0 1437.1 355.0 1438.2 364.0 1437.7 379.0 1434.2 391.0 1436.0 406.0 1436.8 418.0 1439.3 430.0 1440.5 544.0 1461.1 655.0 1483.8 670.0 1485.9 682.0 1488.6 745.0 1499.3 757.0 1502.1 772.0 1504.2 784.0 1507.1 796.0 1508.7 808.0 1511.9 823.0 1513.8 835.0 1516.6 847.0 1518.1 889.0 1525.9 958.0 1535.8 973.0 1538.8 994.0 1540.1 1000.0 1542.7 1003.0 1545.5 1006.2 1551.5 1006.7 1557.5 1005.2 1560.5 1001.7 1563.5 994.0 1565.6 985.0 1564.7 973.0 1561.3 961.0 1562.2 943.0 1561.2 928.0 1562.4 913.0 1561.7 895.0 1562.7 880.0 1562.1 853.0 1562.7 849.9 1563.5 844.0 1568.1 826.8 1590.5 658.5 1590.5 556.0 1567.9 502.0 1555.0 426.2 1530.5 418.0 1525.3 409.0 1521.8 406.0 1519.0 403.8 1518.5 394.0 1513.2 391.0 1512.6 388.0 1510.3 384.7 1509.5 357.5 1494.5 353.9 1491.5 342.4 1476.5 331.0 1463.2 308.5 1449.5ZM299.3 1455.5 301.0 1455.3 304.0 1457.3 307.0 1457.8 325.0 1468.2 337.5 1482.5 349.0 1498.0 355.0 1502.7 357.5 1503.5 358.0 1505.5 361.3 1506.5 328.0 1508.4 316.0 1503.5 307.1 1497.5 299.2 1488.5 296.2 1482.5 294.7 1476.5 294.4 1470.5 295.4 1464.5ZM1125.7 1560.5 1129.0 1557.3 1156.0 1555.4 1156.0 1564.6 1150.0 1566.1 1144.0 1566.4 1132.0 1564.7 1127.9 1563.5Z"/>
<path fill="#4e9f80" fill-rule="evenodd" d="M308.7 1446.5 313.0 1442.6 319.0 1438.6 325.0 1436.4 334.0 1434.8 346.0 1438.7 358.0 1440.8 364.0 1440.7 376.0 1437.6 382.0 1437.2 391.0 1438.7 406.0 1439.4 418.0 1441.8 430.0 1443.0 568.0 1467.2 655.0 1485.3 721.0 1496.5 757.0 1503.9 772.0 1506.2 781.0 1508.6 796.0 1511.0 808.0 1514.3 820.0 1515.6 835.0 1519.0 913.0 1532.1 931.0 1533.8 976.0 1541.0 994.0 1541.4 997.4 1542.5 1001.6 1545.5 1003.5 1548.5 1004.6 1554.5 1003.7 1557.5 1001.2 1560.5 997.0 1562.6 994.0 1563.2 988.0 1562.9 973.0 1558.4 961.0 1559.3 943.0 1558.1 928.0 1559.3 913.0 1558.3 895.0 1559.3 856.0 1557.8 850.0 1558.4 845.3 1560.5 841.0 1564.2 823.1 1590.5 666.2 1590.5 556.0 1566.8 503.9 1554.5 429.1 1530.5 419.2 1524.5 409.0 1520.4 394.0 1512.9 391.5 1512.5 388.0 1510.0 385.4 1509.5 357.8 1494.5 354.1 1491.5 342.6 1476.5 331.0 1463.0 309.0 1449.5ZM301.0 1456.9 307.0 1458.0 325.0 1468.4 337.3 1482.5 349.0 1498.5 356.5 1503.5 355.0 1505.6 331.0 1507.1 328.4 1506.5 316.0 1501.0 307.2 1494.5 300.4 1485.5 297.3 1476.5 297.3 1467.5 298.8 1461.5ZM1144.8 1560.5 1153.0 1559.0 1156.0 1560.5 1150.0 1561.8Z"/>
<path fill="#52a67f" fill-rule="evenodd" d="M309.6 1449.5 311.0 1446.5 319.0 1440.3 325.3 1437.5 334.0 1435.8 349.0 1441.2 361.0 1443.6 367.0 1443.3 376.0 1440.6 382.0 1439.8 406.0 1441.9 487.0 1454.6 568.0 1469.0 655.0 1487.0 745.0 1503.0 796.0 1513.8 808.0 1517.3 820.0 1518.6 835.0 1522.0 916.0 1535.6 934.0 1536.7 949.0 1539.7 964.0 1540.6 979.0 1543.4 994.0 1542.9 1000.3 1545.5 1002.6 1551.5 1002.2 1554.5 1000.0 1558.0 997.0 1559.9 991.0 1560.7 985.0 1559.3 976.0 1555.8 973.0 1555.5 961.0 1556.2 943.0 1554.7 928.0 1555.8 913.0 1554.6 895.0 1555.5 856.0 1553.2 850.0 1553.6 844.0 1555.4 837.4 1560.5 833.0 1566.5 819.4 1590.5 673.3 1590.5 655.2 1587.5 625.0 1580.3 556.0 1565.7 502.0 1553.0 430.0 1529.7 421.0 1523.9 399.9 1515.5 397.0 1513.5 393.1 1512.5 358.2 1494.5 354.3 1491.5 342.8 1476.5 331.0 1462.8 314.1 1452.5 313.0 1450.9ZM302.5 1458.5 307.0 1458.2 325.0 1468.6 337.1 1482.5 349.0 1499.0 351.6 1500.5 352.0 1501.7 355.6 1503.5 355.0 1504.3 331.0 1505.3 319.4 1500.5 310.6 1494.5 303.2 1485.5 299.9 1476.5 299.7 1467.5Z"/>
<path fill="#59ad7c" fill-rule="evenodd" d="M310.5 1449.5 316.0 1444.1 321.5 1440.5 328.0 1437.9 334.0 1436.8 349.0 1443.0 361.0 1446.3 367.0 1446.5 382.0 1442.2 409.0 1444.7 541.0 1466.0 658.0 1489.3 721.0 1500.1 772.0 1511.1 793.0 1516.7 805.0 1520.7 823.0 1523.3 835.0 1526.1 868.0 1531.4 883.0 1534.6 900.7 1536.5 916.0 1540.3 934.0 1539.8 946.0 1544.5 949.0 1544.9 964.0 1543.0 967.0 1543.3 976.0 1546.8 979.0 1547.0 988.0 1545.0 994.0 1544.7 997.4 1545.5 1000.0 1548.1 1000.5 1551.5 999.3 1554.5 997.0 1556.7 994.0 1557.8 991.0 1557.8 988.0 1557.2 979.0 1552.4 976.0 1551.6 961.0 1552.4 949.0 1549.2 931.0 1551.8 916.0 1549.4 898.0 1551.1 850.0 1547.8 841.0 1550.1 835.0 1554.3 832.2 1557.5 828.3 1563.5 820.5 1581.5 815.7 1590.5 679.0 1590.1 658.0 1586.8 502.0 1552.0 433.0 1529.8 427.9 1527.5 421.0 1522.5 388.0 1509.4 375.3 1503.5 373.0 1501.7 370.0 1500.9 358.5 1494.5 354.5 1491.5 343.0 1476.5 331.0 1462.5 314.5 1452.5 313.0 1450.2ZM305.0 1458.5 307.0 1458.4 310.0 1460.7 325.0 1468.8 337.0 1482.7 349.0 1499.5 350.8 1500.5 349.0 1503.1 337.0 1504.1 331.8 1503.5 319.0 1497.8 310.8 1491.5 306.0 1485.5 302.4 1476.5 302.1 1467.5Z"/>
<path fill="#60b479" fill-rule="evenodd" d="M312.7 1449.5 322.0 1441.8 328.0 1439.2 334.0 1438.0 352.0 1446.0 364.0 1449.5 370.0 1449.2 379.0 1445.2 385.0 1444.5 397.0 1446.5 409.0 1447.1 463.0 1455.2 541.0 1468.1 655.0 1490.7 721.0 1502.2 766.0 1512.7 776.0 1515.5 791.8 1521.5 802.0 1529.1 805.0 1530.2 817.0 1529.8 826.0 1531.4 831.2 1533.5 834.9 1536.5 834.7 1539.5 828.1 1548.5 823.2 1557.5 814.4 1584.5 811.8 1590.5 693.8 1590.5 658.0 1585.4 625.0 1577.4 557.0 1563.5 502.0 1550.9 430.0 1527.5 421.0 1521.1 379.0 1504.1 376.0 1503.6 373.0 1501.3 370.0 1500.7 367.0 1498.5 358.9 1494.5 355.0 1491.8 343.3 1476.5 331.0 1462.3 319.0 1454.4 314.9 1452.5ZM307.0 1459.5 316.0 1463.7 325.0 1469.1 343.5 1491.5 349.9 1500.5 349.0 1501.8 337.0 1502.6 334.0 1502.1 322.0 1497.1 313.0 1490.4 307.1 1482.5 304.9 1476.5 304.4 1467.5 305.7 1461.5ZM987.5 1551.5 988.7 1548.5 994.0 1547.5 997.1 1548.5 997.0 1551.8 994.0 1553.8 991.0 1553.7Z"/>
<path fill="#68ba74" fill-rule="evenodd" d="M314.9 1449.5 319.0 1445.6 325.0 1441.8 331.0 1439.6 334.0 1439.4 355.0 1449.2 367.0 1453.1 370.0 1453.1 382.0 1446.9 388.0 1447.3 397.0 1449.5 412.0 1450.0 421.0 1452.0 487.1 1461.5 541.0 1470.5 655.0 1493.1 718.0 1503.8 741.2 1509.5 769.0 1517.5 778.4 1521.5 783.1 1524.5 786.1 1527.5 787.8 1530.5 790.4 1539.5 793.0 1543.5 796.0 1545.7 805.0 1548.9 809.1 1551.5 810.8 1554.5 811.3 1560.5 808.4 1587.5 807.4 1590.5 710.2 1590.5 679.0 1586.9 658.0 1583.8 628.0 1576.4 556.0 1561.9 496.0 1548.3 433.0 1527.7 421.0 1519.7 382.0 1504.4 376.0 1502.9 373.0 1501.0 370.0 1500.6 355.0 1491.6 343.5 1476.5 331.0 1462.1 320.2 1455.5 319.0 1453.9 315.3 1452.5ZM307.9 1461.5 310.0 1461.3 313.0 1463.2 316.0 1463.9 325.0 1469.3 343.3 1491.5 349.0 1500.6 340.0 1501.2 335.4 1500.5 325.0 1496.3 316.0 1490.1 310.0 1482.7 307.4 1476.5 306.5 1470.5Z"/>
<path fill="#72c26d" fill-rule="evenodd" d="M316.0 1450.8 320.2 1446.5 324.6 1443.5 331.0 1441.0 334.0 1440.8 355.0 1451.2 370.0 1456.8 374.2 1455.5 382.0 1449.5 385.0 1449.2 388.0 1450.1 394.0 1453.8 397.0 1454.6 406.0 1452.6 412.0 1452.7 424.0 1456.3 436.0 1456.6 448.0 1459.4 463.0 1460.7 475.0 1463.2 487.5 1464.5 541.4 1473.5 655.0 1495.8 718.2 1506.5 729.6 1509.5 756.2 1518.5 769.0 1524.5 772.3 1527.5 774.2 1530.5 774.8 1536.5 772.0 1541.5 766.0 1544.3 751.0 1545.6 727.0 1545.0 691.0 1539.8 613.0 1523.0 592.0 1517.1 565.0 1508.3 535.0 1500.8 505.0 1491.3 469.0 1482.8 462.5 1482.5 460.0 1483.9 459.4 1485.5 463.0 1489.0 466.0 1490.2 475.0 1491.6 484.0 1496.5 493.0 1497.9 505.0 1503.2 514.0 1504.4 523.0 1508.5 535.0 1510.9 541.0 1513.2 553.0 1514.4 562.0 1517.9 574.0 1519.6 580.0 1522.7 592.0 1526.5 601.0 1531.0 619.0 1536.4 640.0 1540.5 670.0 1544.0 682.0 1549.4 688.0 1553.9 692.9 1560.5 697.9 1569.5 700.0 1571.6 703.0 1572.8 718.0 1574.5 730.0 1574.5 739.0 1576.4 751.0 1576.8 760.0 1578.7 769.0 1578.6 778.0 1580.0 781.0 1579.9 790.0 1577.2 793.0 1577.6 796.0 1579.5 800.6 1584.5 802.0 1587.5 801.9 1590.5 735.6 1590.5 718.0 1588.7 706.0 1586.3 676.0 1584.5 658.0 1581.9 628.0 1574.3 589.0 1566.2 556.0 1560.5 526.0 1553.2 496.0 1547.2 435.7 1527.5 421.4 1518.5 382.0 1503.0 370.0 1499.9 359.6 1494.5 355.0 1491.3 343.8 1476.5 331.0 1461.9 320.5 1455.5 319.0 1453.4 315.7 1452.5ZM442.8 1479.5 445.0 1482.9 448.0 1483.5 453.2 1482.5 451.1 1479.5 448.0 1478.2 445.0 1478.1ZM310.0 1461.8 313.0 1463.7 316.0 1464.1 325.0 1469.5 343.1 1491.5 346.6 1497.5 346.0 1499.5 340.0 1499.7 331.0 1496.7 322.0 1492.0 316.0 1486.9 312.6 1482.5 309.9 1476.5 308.8 1470.5Z"/>
<path fill="#7cc865" fill-rule="evenodd" d="M316.8 1452.5 319.3 1449.5 325.0 1445.0 331.0 1442.5 334.0 1442.4 355.0 1453.2 370.0 1459.7 378.4 1458.5 382.0 1454.7 385.0 1453.7 385.8 1455.5 383.8 1458.5 383.5 1461.5 384.8 1464.5 388.0 1467.3 397.0 1469.2 406.0 1474.0 415.0 1475.8 424.0 1480.2 436.0 1483.0 445.0 1487.2 454.0 1489.1 463.0 1493.1 475.0 1496.2 484.0 1500.0 493.0 1502.0 523.0 1513.0 571.0 1525.2 586.0 1531.9 601.0 1540.3 607.0 1542.7 637.0 1549.1 661.0 1551.3 673.0 1554.3 679.3 1557.5 686.0 1563.5 691.4 1572.5 692.7 1575.5 692.9 1578.5 688.0 1580.9 679.0 1581.9 658.0 1579.4 610.0 1567.6 559.0 1559.4 526.0 1551.8 499.0 1546.9 439.0 1527.5 433.0 1525.0 424.0 1518.3 382.0 1501.7 370.0 1498.9 360.0 1494.5 355.0 1490.8 344.1 1476.5 331.0 1461.6 325.0 1457.3 320.9 1455.5 319.0 1453.0ZM406.2 1458.5 409.0 1456.5 412.0 1457.2 414.0 1458.5 413.5 1461.5 409.0 1462.0 407.9 1461.5ZM429.4 1464.5 430.6 1461.5 436.0 1460.4 439.9 1461.5 444.0 1464.5 444.0 1467.5 439.0 1469.1 436.0 1469.1 432.0 1467.5ZM311.5 1464.5 316.0 1464.2 325.0 1469.7 340.6 1488.5 346.0 1497.1 346.0 1498.2 340.0 1497.7 331.2 1494.5 325.0 1491.3 319.0 1486.6 315.5 1482.5 312.4 1476.5 311.2 1470.5ZM451.1 1467.5 457.0 1464.5 463.0 1464.4 475.0 1468.7 487.0 1468.3 502.0 1472.1 514.0 1472.7 526.0 1475.6 538.0 1476.8 568.0 1482.2 655.0 1499.5 718.0 1509.8 734.5 1515.5 745.7 1521.5 749.4 1524.5 751.3 1527.5 750.8 1530.5 745.0 1533.9 730.0 1536.5 718.0 1536.3 703.0 1533.8 676.0 1527.2 613.0 1513.5 574.0 1502.3 511.0 1486.4 499.0 1482.1 484.0 1479.8 472.0 1475.0 460.0 1474.7 456.9 1473.5 452.7 1470.5Z"/>
<path fill="#8ace5a" fill-rule="evenodd" d="M319.0 1452.5 322.0 1449.2 328.0 1445.1 334.0 1444.0 337.0 1445.0 364.0 1459.8 379.0 1464.2 388.0 1470.1 397.0 1472.7 405.5 1476.5 481.0 1501.4 493.0 1504.8 529.0 1518.4 553.0 1524.0 568.0 1528.4 583.9 1536.5 592.1 1542.5 601.0 1550.4 604.0 1551.6 637.0 1558.1 658.0 1557.6 670.0 1560.3 675.8 1563.5 679.1 1566.5 681.1 1569.5 682.0 1573.1 681.1 1575.5 676.0 1577.3 664.0 1577.1 655.2 1575.5 631.0 1567.5 607.0 1561.8 580.0 1560.3 557.9 1557.5 526.0 1550.0 498.0 1545.5 436.0 1525.3 424.0 1516.9 382.0 1500.3 367.0 1497.4 364.0 1495.4 360.3 1494.5 355.0 1490.4 344.3 1476.5 331.0 1461.3 326.3 1458.5 325.0 1456.9 321.2 1455.5ZM314.3 1464.5 316.0 1464.4 325.5 1470.5 340.4 1488.5 343.4 1494.5 343.0 1496.4 328.0 1490.4 319.0 1483.1 316.0 1478.7 314.0 1473.5 313.4 1467.5ZM610.7 1500.5 616.0 1499.6 620.6 1500.5 622.0 1502.0 625.0 1503.0 641.1 1503.5 655.0 1507.3 667.0 1507.6 682.0 1510.8 694.0 1511.3 718.0 1514.9 721.0 1515.7 725.5 1518.5 728.1 1521.5 728.1 1524.5 724.0 1527.1 721.0 1527.7 709.0 1526.8 699.0 1524.5 676.0 1517.3 666.3 1515.5 652.0 1510.9 641.1 1509.5 631.6 1506.5 631.0 1505.3 628.0 1504.1 617.0 1503.5Z"/>
<path fill="#96d34f" fill-rule="evenodd" d="M321.3 1452.5 325.0 1448.9 329.1 1446.5 334.0 1445.7 337.0 1446.6 361.0 1460.5 376.0 1466.1 388.0 1472.4 424.0 1485.0 496.0 1508.2 507.8 1512.5 529.0 1521.8 563.8 1530.5 571.0 1533.7 579.8 1539.5 585.9 1545.5 587.9 1548.5 588.7 1551.5 587.2 1554.5 580.0 1556.5 568.0 1556.4 556.0 1555.1 526.0 1548.1 499.0 1544.5 437.2 1524.5 424.0 1515.5 382.0 1499.1 360.7 1494.5 355.0 1490.0 347.1 1479.5 331.0 1460.8 326.7 1458.5 325.0 1456.5 321.6 1455.5ZM316.0 1467.0 320.0 1467.5 325.3 1470.5 340.2 1488.5 340.7 1491.5 340.0 1493.1 329.3 1488.5 321.7 1482.5 319.0 1479.0 316.5 1473.5Z"/>
<path fill="#a4d743" fill-rule="evenodd" d="M322.0 1454.7 328.0 1449.0 334.0 1447.5 337.0 1448.3 358.0 1461.1 388.0 1474.6 421.0 1486.1 499.0 1511.4 529.0 1525.4 553.0 1530.7 562.2 1533.5 572.3 1539.5 577.3 1545.5 577.9 1548.5 575.9 1551.5 574.0 1552.2 562.0 1553.3 549.6 1551.5 526.0 1545.8 499.0 1543.2 436.0 1522.6 424.0 1514.1 385.0 1498.8 367.0 1494.9 361.0 1494.3 357.1 1491.5 352.0 1486.3 347.5 1479.5 331.0 1460.3 327.0 1458.5 325.0 1456.1 321.9 1455.5ZM318.1 1467.5 319.3 1467.5 322.0 1469.7 325.0 1470.4 329.2 1476.5 340.0 1489.1 337.0 1489.5 334.0 1488.2 325.0 1482.3 320.5 1476.5 319.0 1473.0Z"/>
<path fill="#b6db38" fill-rule="evenodd" d="M324.0 1455.5 326.6 1452.5 331.0 1449.8 334.0 1449.4 337.0 1450.2 355.0 1461.8 385.0 1475.7 418.0 1487.3 499.0 1513.5 508.0 1517.7 529.0 1529.6 559.0 1536.3 564.9 1539.5 567.6 1542.5 568.5 1545.5 566.5 1548.5 559.0 1549.8 549.6 1548.5 529.0 1543.0 505.0 1542.6 499.0 1541.8 436.0 1521.1 424.0 1512.7 382.0 1496.6 361.0 1493.1 358.0 1491.8 352.0 1486.0 347.8 1479.5 331.0 1459.8 327.3 1458.5 325.0 1455.7ZM321.0 1470.5 323.4 1470.5 325.0 1471.4 325.9 1473.5 334.3 1482.5 334.0 1485.4 325.9 1479.5 323.6 1476.5ZM334.2 1485.5 337.0 1485.4 337.0 1486.7Z"/>
<path fill="#c5de2e" fill-rule="evenodd" d="M326.9 1455.5 331.0 1452.2 334.0 1451.6 337.0 1452.3 355.0 1464.3 385.0 1478.1 430.0 1493.6 499.0 1515.8 509.4 1521.5 517.3 1527.5 523.0 1533.5 522.9 1536.5 515.0 1539.5 502.0 1540.6 496.2 1539.5 436.0 1519.5 426.7 1512.5 385.0 1496.0 364.0 1491.8 358.0 1491.5 352.0 1485.8 350.7 1482.5 339.8 1470.5 331.0 1459.3 327.7 1458.5ZM327.1 1476.5 328.0 1476.3 328.0 1477.6ZM330.0 1479.5 331.0 1479.4 331.0 1480.3Z"/>
<path fill="#d7e026" fill-rule="evenodd" d="M328.1 1458.5 331.0 1455.4 334.0 1454.5 337.0 1455.1 355.0 1467.2 385.0 1480.8 430.0 1496.3 499.0 1518.4 504.4 1521.5 511.4 1527.5 513.5 1530.5 513.9 1533.5 511.1 1536.5 505.0 1538.1 499.0 1538.1 438.2 1518.5 427.0 1511.2 385.0 1494.7 358.0 1488.6 352.0 1485.5 351.4 1482.5 340.0 1470.5 336.1 1464.5 331.0 1458.8Z"/>
<path fill="#e6e324" fill-rule="evenodd" d="M334.0 1458.7 337.0 1459.0 352.0 1469.5 382.0 1483.2 427.0 1498.7 497.7 1521.5 502.7 1524.5 505.6 1527.5 507.0 1530.5 506.0 1533.5 502.0 1535.1 499.0 1535.2 491.9 1533.5 478.0 1528.4 437.7 1515.5 424.0 1508.2 385.0 1492.9 375.3 1491.5 366.2 1488.5 349.0 1479.6 343.0 1473.7 339.3 1467.5 333.8 1461.5Z"/></g>
<path d="M292.0 1417.5 295.0 1415.8 299.2 1413.3 304.1 1410.4 309.5 1407.5 314.9 1404.7 320.0 1402.5 324.1 1400.5 327.4 1398.3 330.7 1396.3 335.1 1394.9 341.3 1394.5 350.4 1395.4 363.1 1398.0 378.9 1402.0 396.6 1407.1 415.1 1412.5 433.3 1417.8 450.0 1422.5 465.1 1426.6 479.6 1430.5 493.7 1434.3 507.8 1438.0 522.4 1441.8 537.7 1445.6 553.3 1449.4 568.8 1453.3 584.7 1457.1 601.5 1460.9 619.8 1464.8 640.0 1468.8 662.0 1472.8 685.5 1476.7 710.3 1480.8 736.7 1484.9 764.7 1489.2 794.4 1493.9 827.1 1499.1 863.1 1504.8 900.7 1510.7 938.2 1516.5 974.2 1521.9 1006.8 1526.7 1037.5 1530.9 1067.9 1534.8 1096.7 1538.4 1122.5 1541.5 1144.0 1544.1 1160.0 1546.0" fill="none" stroke="#9a9a92" stroke-width="1.8" stroke-dasharray="8 4" stroke-linejoin="round" stroke-linecap="butt"/>
<path d="M294.4 1437.5 298.4 1440.5 304.1 1444.6 310.8 1449.5 317.8 1454.8 324.4 1460.3 330.0 1465.5 334.2 1470.6 337.5 1476.0 340.4 1481.5 343.5 1487.0 347.5 1492.4 352.8 1497.5 360.1 1502.6 369.1 1507.7 378.9 1512.7 388.6 1517.4 397.5 1521.8 404.7 1525.5 408.9 1528.3 410.6 1530.1 411.4 1531.5 413.1 1533.0 417.3 1535.1 425.7 1538.3 439.8 1543.1 458.6 1549.0 479.9 1555.6 501.6 1562.2 521.6 1568.2 537.7 1573.0 550.1 1576.6 560.4 1579.3 569.0 1581.5 576.3 1583.3 582.5 1584.9 587.9 1586.5 592.3 1588.0 595.2 1589.3 597.1 1590.3 598.3 1591.2 599.1 1591.9 600.0 1592.5" fill="none" stroke="#9a9a92" stroke-width="1.8" stroke-dasharray="8 4" stroke-linejoin="round" stroke-linecap="butt"/>
<path d="M1160.0 1569.2 1148.6 1569.3 1132.3 1569.4 1113.3 1569.6 1093.6 1569.8 1075.1 1570.1 1060.0 1570.5 1047.7 1571.0 1036.3 1571.7 1026.3 1572.4 1017.9 1573.2 1011.3 1574.0 1006.8 1575.0 1004.8 1576.1 1005.3 1577.4 1007.6 1578.7 1011.2 1580.1 1015.5 1581.4 1020.0 1582.5 1025.6 1583.5 1032.8 1584.5 1040.8 1585.5 1048.6 1586.3 1055.3 1587.0 1060.0 1587.5" fill="none" stroke="#9a9a92" stroke-width="1.8" stroke-dasharray="8 4" stroke-linejoin="round" stroke-linecap="butt"/>
<path d="M280.7 1339.1V1588.4 M354.0 1339.1V1588.4 M428.0 1339.1V1588.4 M540.0 1339.1V1588.4 M794.9 1339.1V1588.4" stroke="#000" stroke-width="3.7" stroke-dasharray="4.1 6.4" fill="none"/>
<path d="M354.0 1381.3 359.9 1382.5 367.9 1384.1 377.7 1386.0 388.5 1388.0 400.0 1390.0 412.5 1391.9 426.3 1393.9 440.9 1395.9 455.7 1398.0 470.0 1400.0 483.4 1401.9 496.1 1403.7 509.1 1405.6 523.2 1407.7 539.0 1410.3 557.8 1413.6 579.1 1417.5 601.0 1421.6 621.9 1425.4 640.0 1428.5 654.1 1430.6 665.3 1432.1 675.5 1433.3 686.5 1434.6 700.0 1436.5 716.5 1439.0 734.7 1441.8 754.2 1444.8 774.3 1448.2 794.4 1451.8 814.8 1455.8 835.8 1460.1 857.1 1464.6 878.6 1469.3 900.0 1474.0 923.0 1479.1 947.8 1484.7 971.7 1490.2 992.3 1495.0 1006.8 1498.3" fill="none" stroke="#1e1c0e" stroke-width="4.6" stroke-dasharray="15 7" stroke-linejoin="round"/>
<path d="M344.6 1413.0 351.9 1414.1 362.1 1415.6 374.1 1417.4 387.1 1419.4 400.0 1421.5 413.1 1423.7 427.0 1426.0 441.3 1428.5 455.8 1431.0 470.0 1433.5 483.5 1435.9 496.4 1438.2 509.6 1440.6 523.7 1443.1 539.6 1445.9 558.4 1449.2 579.6 1452.8 601.5 1456.6 622.2 1460.1 640.0 1463.0 653.5 1465.0 664.0 1466.3 673.4 1467.4 683.7 1468.8 697.0 1471.1 714.6 1474.7 735.1 1479.1 756.6 1483.9 777.0 1488.3 794.4 1491.9 808.0 1494.3 819.3 1496.1 829.1 1497.4 838.5 1498.6 848.5 1500.0 859.4 1501.6 870.5 1503.1 881.4 1504.6 891.4 1506.1 900.0 1507.5 906.9 1508.7 912.4 1509.8 917.1 1510.9 921.4 1512.1 925.7 1513.5 929.3 1515.3 931.7 1517.4 934.4 1519.6 938.4 1521.5 945.0 1522.8 955.9 1523.4 970.3 1523.5 985.7 1523.2 999.3 1522.9 1008.7 1522.8" fill="none" stroke="#1e1c0e" stroke-width="4.8" stroke-dasharray="4.8 7.2" stroke-linejoin="round"/>
</g>
<g clip-path="url(#cp6)">
<rect x="141.0" y="1588.4" width="1013.0" height="250.9" fill="#e0def6"/>
<clipPath id="m6"><path d="M141.0 1738.1 160.0 1722.4 185.5 1706.9 188.9 1695.8 187.0 1678.4 186.7 1666.8 194.5 1655.7 230.0 1637.9 274.6 1626.7 341.4 1619.6 363.7 1620.0 441.0 1633.4 537.7 1643.4 640.0 1661.8 794.4 1684.9 948.9 1708.1 1006.8 1723.5 1050.0 1724.9 1160.0 1725.4 1160.0 1843.4 141.0 1843.4Z"/></clipPath>
<g clip-path="url(#m6)"><rect x="139.0" y="1586.4" width="1018.0" height="256.0" fill="#1c2858"/>
<path fill="#1e2c60" fill-rule="evenodd" d="M139.0 1795.2 199.0 1789.2 275.0 1783.0 314.9 1776.4 307.3 1766.4 299.0 1753.1 281.8 1738.4 274.4 1730.4 263.0 1719.9 253.2 1708.4 249.8 1694.4 248.1 1682.4 248.8 1666.4 252.0 1658.4 271.5 1644.4 282.8 1638.4 289.0 1634.0 297.0 1632.4 305.0 1633.9 321.0 1630.5 353.0 1627.2 451.0 1639.8 799.0 1708.8 959.6 1752.4 1005.0 1765.5 1051.0 1773.4 1157.0 1775.4 1157.0 1842.4 139.0 1842.4Z"/>
<path fill="#1f2e65" fill-rule="evenodd" d="M139.0 1795.8 199.0 1789.8 275.0 1783.7 318.3 1776.4 309.3 1764.4 301.0 1751.1 286.2 1738.4 283.0 1733.6 265.0 1717.3 256.9 1708.4 252.1 1694.4 249.8 1680.4 250.4 1666.4 253.5 1658.4 257.0 1655.4 272.8 1644.4 290.5 1634.4 297.0 1633.2 305.0 1634.6 321.0 1631.1 353.0 1627.8 451.0 1640.4 799.0 1709.4 961.0 1753.4 1005.0 1766.1 1051.0 1774.1 1157.0 1776.1 1157.0 1842.4 139.0 1842.4Z"/>
<path fill="#21326c" fill-rule="evenodd" d="M139.0 1796.4 199.0 1790.4 275.0 1784.3 322.2 1776.4 312.7 1764.4 304.2 1750.4 290.6 1738.4 285.0 1730.4 265.0 1713.1 259.0 1705.9 254.0 1692.4 251.6 1680.4 251.9 1666.4 255.0 1658.4 273.0 1645.2 291.0 1635.0 297.0 1634.1 305.0 1635.2 321.0 1631.7 353.0 1628.4 451.0 1641.0 797.0 1709.6 911.0 1740.3 1005.0 1766.7 1051.0 1774.7 1157.0 1776.7 1157.0 1842.4 139.0 1842.4Z"/>
<path fill="#253875" fill-rule="evenodd" d="M139.0 1797.1 199.0 1791.1 275.0 1784.9 326.6 1776.4 322.3 1772.4 314.7 1762.4 306.3 1748.4 294.9 1738.4 287.0 1727.6 267.0 1711.1 260.2 1702.4 256.3 1692.4 253.7 1680.4 253.5 1666.4 256.5 1658.4 275.0 1644.8 291.0 1635.9 297.0 1634.9 303.0 1636.3 321.0 1632.4 353.0 1629.1 451.0 1641.7 797.0 1710.3 931.0 1746.5 1005.0 1767.4 1051.0 1775.3 1157.0 1777.3 1157.0 1842.4 139.0 1842.4Z"/>
<path fill="#293e7f" fill-rule="evenodd" d="M139.0 1797.7 199.0 1791.7 275.0 1785.5 331.2 1776.4 324.3 1770.4 316.7 1760.4 308.4 1746.4 299.2 1738.4 289.0 1724.9 268.2 1708.4 262.1 1700.4 258.0 1690.4 255.1 1678.4 255.1 1666.4 257.9 1658.4 275.0 1645.7 291.0 1636.8 297.0 1635.7 303.0 1637.0 321.0 1633.0 353.0 1629.7 451.0 1642.3 797.0 1710.9 933.0 1747.7 1005.0 1768.0 1051.0 1775.9 1157.0 1777.9 1157.0 1842.4 139.0 1842.4Z"/>
<path fill="#2d4588" fill-rule="evenodd" d="M139.0 1798.3 199.0 1792.3 275.0 1786.2 335.6 1776.4 326.2 1768.4 320.2 1760.4 310.4 1744.4 303.5 1738.4 291.0 1722.5 272.8 1708.4 263.9 1698.4 260.3 1690.4 257.1 1678.4 256.6 1666.4 259.4 1658.4 275.3 1646.4 291.0 1637.8 297.0 1636.6 303.0 1637.6 321.0 1633.6 353.0 1630.3 451.0 1642.9 797.0 1711.5 963.0 1756.6 1003.0 1768.3 1051.0 1776.6 1157.0 1778.6 1157.0 1842.4 139.0 1842.4Z"/>
<path fill="#324d91" fill-rule="evenodd" d="M139.0 1798.9 199.0 1792.9 275.0 1786.8 340.0 1776.4 328.2 1766.4 322.1 1758.4 313.0 1743.0 307.8 1738.4 293.0 1720.4 277.3 1708.4 271.0 1702.7 265.5 1696.4 261.8 1688.4 258.4 1676.4 258.2 1666.4 261.0 1658.3 276.8 1646.4 291.0 1638.7 297.0 1637.4 303.0 1638.2 321.0 1634.2 353.0 1630.9 451.0 1643.5 797.0 1712.1 963.0 1757.2 1003.0 1768.9 1051.0 1777.2 1157.0 1779.2 1157.0 1842.4 139.0 1842.4Z"/>
<path fill="#37569a" fill-rule="evenodd" d="M139.0 1799.6 199.0 1793.6 275.0 1787.4 344.4 1776.4 330.2 1764.4 324.2 1756.4 315.0 1741.1 295.0 1718.3 273.0 1700.9 267.0 1694.4 264.0 1688.4 260.3 1676.4 259.7 1666.4 262.5 1658.4 277.0 1647.2 291.0 1639.4 297.0 1638.2 303.0 1638.9 321.0 1634.9 353.0 1631.6 451.0 1644.2 797.0 1712.8 957.7 1756.4 1003.0 1769.5 1051.0 1777.8 1157.0 1779.8 1157.0 1842.4 139.0 1842.4Z"/>
<path fill="#3c5ea3" fill-rule="evenodd" d="M139.0 1800.2 199.0 1794.2 275.0 1788.0 349.0 1776.4 332.1 1762.4 327.6 1756.4 317.0 1739.0 295.0 1714.4 274.2 1698.4 269.0 1693.2 265.5 1686.4 261.7 1674.4 261.3 1666.4 264.1 1658.4 277.0 1648.2 291.0 1640.2 297.0 1639.0 301.0 1639.8 321.0 1635.5 353.0 1632.2 451.0 1644.8 797.0 1713.4 959.0 1757.4 1003.0 1770.1 1051.0 1778.4 1157.0 1780.4 1157.0 1842.4 139.0 1842.4Z"/>
<path fill="#4469ad" fill-rule="evenodd" d="M139.0 1800.8 199.0 1794.8 275.0 1788.7 353.4 1776.4 334.1 1760.4 329.6 1754.4 319.0 1736.4 297.0 1712.5 275.0 1696.0 271.0 1692.1 267.6 1686.4 263.4 1674.4 262.9 1666.4 265.9 1658.4 278.3 1648.4 292.4 1640.4 297.0 1639.7 301.0 1640.6 321.0 1636.1 353.0 1632.8 451.0 1645.4 795.0 1713.6 909.0 1744.3 1003.0 1770.8 1051.0 1779.1 1157.0 1781.1 1157.0 1842.4 139.0 1842.4Z"/>
<path fill="#5076b7" fill-rule="evenodd" d="M139.0 1801.4 199.0 1795.4 275.0 1789.3 357.9 1776.4 337.0 1759.4 331.7 1752.4 321.4 1734.4 298.5 1710.4 272.4 1690.4 269.0 1684.5 265.4 1674.4 264.4 1666.4 266.3 1660.4 267.7 1658.4 279.0 1649.0 293.0 1641.0 297.0 1640.4 301.0 1641.2 319.0 1637.0 353.0 1633.4 451.0 1646.0 795.0 1714.2 929.0 1750.4 1003.0 1771.4 1051.0 1779.7 1157.0 1781.7 1157.0 1842.4 139.0 1842.4Z"/>
<path fill="#5c83c1" fill-rule="evenodd" d="M139.0 1802.1 199.0 1796.1 275.0 1789.9 362.4 1776.4 339.0 1757.5 335.0 1752.3 323.7 1732.4 301.0 1709.1 277.0 1691.7 273.5 1688.4 271.0 1684.4 266.5 1672.4 266.1 1668.4 267.1 1662.4 269.4 1658.4 279.0 1650.1 293.0 1641.9 297.0 1641.2 301.0 1641.9 319.0 1637.7 353.0 1634.1 451.0 1646.7 795.0 1714.9 931.0 1751.6 1003.0 1772.0 1051.0 1780.3 1157.0 1782.3 1157.0 1842.4 139.0 1842.4Z"/>
<path fill="#6991ca" fill-rule="evenodd" d="M139.0 1802.7 199.0 1796.7 275.0 1790.5 367.0 1776.4 341.0 1755.5 337.0 1750.4 325.8 1730.4 303.0 1707.5 275.0 1687.1 271.5 1680.4 268.3 1672.4 267.7 1668.4 268.6 1662.4 271.3 1658.4 280.3 1650.4 293.0 1642.8 297.0 1641.9 301.0 1642.5 321.0 1638.0 353.0 1634.7 451.0 1647.3 795.0 1715.5 901.0 1744.0 1003.0 1772.6 1051.0 1780.9 1157.0 1782.9 1157.0 1842.4 139.0 1842.4Z"/>
<path fill="#7ba0d2" fill-rule="evenodd" d="M139.0 1803.3 199.0 1797.3 275.0 1791.2 371.7 1776.4 343.0 1753.5 333.2 1738.4 329.0 1729.8 303.4 1704.4 277.0 1686.2 274.3 1682.4 269.5 1670.4 269.6 1664.4 273.1 1658.4 281.0 1651.1 293.0 1643.7 297.0 1642.7 301.0 1643.2 321.0 1638.6 353.0 1635.3 451.0 1647.9 795.0 1716.1 901.0 1744.7 1003.0 1773.3 1051.0 1781.6 1157.0 1783.6 1157.0 1842.4 139.0 1842.4Z"/>
<path fill="#8dafda" fill-rule="evenodd" d="M139.0 1803.9 199.0 1797.9 275.0 1791.8 376.6 1776.4 345.0 1751.6 336.5 1738.4 331.0 1727.7 306.9 1704.4 302.0 1700.4 277.9 1684.4 271.1 1670.4 271.1 1664.4 274.9 1658.4 281.0 1652.4 293.4 1644.4 297.0 1643.6 301.0 1643.8 321.0 1639.2 353.0 1635.9 451.0 1648.5 795.0 1716.8 905.0 1746.4 1003.0 1773.9 1051.0 1782.2 1157.0 1784.2 1157.0 1842.4 139.0 1842.4Z"/>
<path fill="#a1bee1" fill-rule="evenodd" d="M139.0 1804.6 199.0 1798.6 275.0 1792.4 353.0 1780.3 373.0 1778.3 381.5 1776.4 369.0 1767.4 347.0 1749.6 339.8 1738.4 333.5 1726.4 308.2 1702.4 303.0 1698.3 279.0 1682.8 272.4 1668.4 273.0 1663.7 278.5 1656.4 282.8 1652.4 295.0 1644.7 299.0 1644.9 321.0 1639.9 353.0 1636.6 451.0 1649.2 795.0 1717.4 957.0 1761.4 1001.0 1774.2 1051.0 1782.8 1157.0 1784.8 1157.0 1842.4 139.0 1842.4Z"/>
<path fill="#b8cce6" fill-rule="evenodd" d="M139.0 1805.2 205.0 1798.5 275.0 1793.1 353.0 1780.9 381.0 1777.9 386.3 1776.4 371.0 1765.5 349.8 1748.4 343.0 1738.4 335.0 1723.9 307.0 1698.4 281.0 1682.1 279.4 1680.4 274.0 1668.4 274.4 1664.4 282.1 1654.4 295.0 1645.7 299.0 1645.6 321.0 1640.4 353.0 1637.2 455.0 1650.5 795.0 1718.0 959.0 1762.6 1001.0 1774.8 1049.0 1783.3 1157.0 1785.4 1157.0 1842.4 139.0 1842.4ZM443.2 1804.4 442.1 1802.4 441.0 1802.3 438.0 1804.4Z"/>
<path fill="#cfdbeb" fill-rule="evenodd" d="M139.0 1805.8 145.0 1804.7 163.0 1803.6 165.0 1802.7 181.0 1801.8 185.0 1800.8 201.0 1799.8 205.0 1798.8 275.0 1793.8 277.0 1792.9 355.0 1781.2 383.0 1778.6 391.2 1776.4 373.0 1763.5 351.7 1746.4 349.9 1744.4 337.2 1722.4 307.9 1696.4 281.8 1680.4 275.7 1668.4 275.3 1666.4 276.1 1664.4 283.0 1655.3 295.0 1646.8 301.0 1645.8 303.0 1644.5 311.0 1643.5 321.0 1640.5 353.0 1637.8 365.0 1638.8 383.0 1641.8 455.0 1650.8 537.0 1666.8 659.0 1692.1 797.0 1718.9 959.0 1763.1 1001.0 1775.5 1049.0 1784.0 1157.0 1786.1 1157.0 1842.4 139.0 1842.4ZM425.1 1804.4 430.9 1806.4 451.0 1806.3 461.5 1804.4 460.2 1802.4 441.0 1799.7Z"/>
<path fill="#e4e8f0" fill-rule="evenodd" d="M139.0 1806.4 143.0 1806.2 145.0 1804.9 161.4 1804.4 165.0 1803.0 181.4 1802.4 185.0 1801.1 201.4 1800.4 205.0 1799.1 229.0 1798.2 231.0 1797.2 253.0 1796.2 255.0 1795.2 275.0 1794.4 277.0 1793.2 289.0 1792.2 291.0 1791.3 299.0 1790.6 303.0 1789.4 315.0 1788.2 355.0 1781.8 389.0 1778.9 396.1 1776.4 375.0 1761.5 353.7 1744.4 339.1 1720.4 309.0 1694.4 283.0 1679.1 277.1 1668.4 277.0 1666.1 283.0 1657.5 283.0 1656.4 297.0 1646.5 301.0 1646.4 303.0 1644.6 311.0 1644.2 313.0 1642.6 318.1 1642.4 321.0 1640.7 337.0 1640.2 339.0 1638.8 353.0 1638.4 365.0 1639.1 367.0 1640.2 379.0 1641.0 382.6 1642.4 395.0 1643.1 397.0 1644.2 411.0 1645.2 413.0 1646.2 427.0 1647.2 429.0 1648.2 443.0 1649.2 445.0 1650.2 455.0 1651.1 457.0 1652.2 465.0 1653.1 467.9 1654.4 485.0 1657.1 487.0 1658.2 495.0 1659.0 497.0 1660.2 507.0 1661.2 509.0 1662.4 517.0 1663.1 519.5 1664.4 527.0 1665.1 529.8 1666.4 537.0 1667.1 539.9 1668.4 557.0 1671.1 559.5 1672.4 567.0 1673.2 569.0 1674.4 577.0 1675.2 579.0 1676.4 585.0 1677.0 587.0 1678.2 595.0 1679.1 597.0 1680.2 605.0 1681.1 607.0 1682.2 615.0 1683.1 617.9 1684.4 635.0 1687.2 637.5 1688.4 645.0 1689.2 647.8 1690.4 655.0 1691.2 657.8 1692.4 665.0 1693.1 667.9 1694.4 675.0 1695.1 677.0 1696.2 695.0 1699.1 697.0 1700.2 705.0 1701.1 707.0 1702.2 717.0 1703.3 719.0 1704.4 727.0 1705.3 729.0 1706.4 737.0 1707.3 739.5 1708.4 747.0 1709.3 749.5 1710.4 757.0 1711.3 759.8 1712.4 797.0 1719.4 805.0 1722.2 879.0 1741.6 959.0 1763.6 997.0 1775.1 1049.0 1784.9 1123.0 1785.8 1157.0 1787.0 1157.0 1842.4 139.0 1842.4ZM399.3 1806.4 431.0 1807.7 459.0 1807.8 475.0 1806.6 481.1 1804.4 480.0 1802.4 471.0 1799.9 441.0 1797.1 437.0 1799.5 431.0 1801.5 421.0 1803.7 400.8 1804.4Z"/>
<path fill="#f0f0f2" fill-rule="evenodd" d="M139.0 1806.6 143.0 1806.5 145.0 1805.1 163.0 1804.6 165.0 1803.2 183.0 1802.6 185.0 1801.3 203.0 1800.6 205.0 1799.4 229.0 1798.6 231.0 1797.5 253.0 1796.7 255.0 1795.5 275.0 1794.8 277.0 1793.6 289.0 1792.7 291.0 1791.7 299.0 1791.1 303.0 1789.9 315.0 1788.9 317.0 1788.0 327.0 1787.1 329.0 1786.1 353.0 1783.5 355.0 1782.3 371.0 1781.9 375.0 1780.4 391.0 1779.9 395.0 1778.4 401.0 1777.8 421.0 1779.2 433.0 1781.5 437.3 1784.4 438.5 1786.4 439.6 1792.4 438.3 1796.4 436.2 1798.4 429.0 1800.9 419.0 1802.6 401.0 1803.1 392.1 1804.4 388.1 1806.4 399.0 1808.3 469.0 1810.0 489.0 1811.2 521.0 1814.8 641.0 1815.0 801.0 1816.6 837.5 1816.4 880.4 1814.4 876.0 1812.4 795.0 1792.3 639.0 1761.8 535.6 1740.4 453.1 1724.4 353.0 1711.5 333.0 1711.4 325.0 1705.5 323.0 1705.0 311.0 1694.1 309.0 1693.6 307.0 1691.9 305.0 1691.6 301.0 1688.0 299.0 1687.8 297.0 1686.0 295.0 1685.8 291.0 1682.2 289.0 1681.9 287.0 1680.1 285.0 1679.9 281.5 1676.4 281.3 1674.4 279.4 1672.4 279.2 1670.4 277.3 1668.4 277.1 1666.4 279.1 1664.4 279.1 1662.4 283.1 1658.4 283.2 1656.4 285.0 1654.6 287.0 1654.5 291.0 1650.5 293.0 1650.4 297.0 1646.6 301.0 1646.5 303.0 1644.7 311.0 1644.5 313.0 1642.6 319.0 1642.5 321.0 1640.8 337.0 1640.5 339.0 1639.0 353.0 1638.6 365.0 1639.3 367.0 1640.6 379.0 1641.3 381.0 1642.6 395.0 1643.4 397.0 1644.6 411.0 1645.5 413.0 1646.6 427.0 1647.5 429.0 1648.6 443.0 1649.5 445.0 1650.6 455.0 1651.5 457.0 1652.6 465.0 1653.4 467.0 1654.6 475.0 1655.4 477.0 1656.6 485.0 1657.4 487.0 1658.6 495.0 1659.4 497.0 1660.6 507.0 1661.5 509.0 1662.7 517.0 1663.5 519.0 1664.7 527.0 1665.4 529.0 1666.6 537.0 1667.4 539.0 1668.6 557.0 1671.5 559.0 1672.7 567.0 1673.5 569.0 1674.7 577.0 1675.5 579.0 1676.8 585.0 1677.4 587.0 1678.6 605.0 1681.4 607.0 1682.6 615.0 1683.5 617.0 1684.6 635.0 1687.5 637.0 1688.7 645.0 1689.5 647.0 1690.6 655.0 1691.5 657.0 1692.6 665.0 1693.5 667.0 1694.6 675.0 1695.5 677.0 1696.6 685.0 1697.5 687.0 1698.6 695.0 1699.5 697.0 1700.6 705.0 1701.4 707.0 1702.6 717.0 1703.6 719.0 1704.8 727.0 1705.6 729.0 1706.8 737.0 1707.7 739.0 1708.8 747.0 1709.7 749.0 1710.8 757.0 1711.7 759.0 1712.7 767.0 1713.7 769.0 1714.8 797.0 1719.8 805.0 1722.8 819.0 1725.8 821.0 1727.1 827.0 1727.9 829.0 1729.2 841.0 1731.9 843.0 1733.1 849.0 1733.9 857.0 1737.0 871.0 1740.0 873.0 1741.3 879.0 1742.0 881.0 1743.4 893.0 1746.0 895.0 1747.4 901.0 1748.1 903.0 1749.5 915.0 1752.1 917.0 1753.5 921.0 1754.0 923.0 1755.2 937.0 1758.1 939.0 1759.5 943.0 1760.1 945.0 1761.3 951.0 1762.1 955.0 1763.8 959.0 1764.2 961.0 1765.6 973.0 1768.2 975.0 1769.7 979.0 1770.1 981.0 1771.5 985.0 1772.1 987.0 1773.4 993.0 1774.2 995.0 1775.7 999.0 1776.2 1001.0 1777.4 1011.0 1778.2 1015.0 1779.8 1023.0 1780.3 1025.0 1781.8 1033.0 1782.2 1037.0 1783.8 1045.0 1784.3 1049.0 1786.0 1123.0 1786.3 1125.0 1787.8 1157.0 1788.1 1157.0 1842.4 139.0 1842.4ZM517.0 1832.4 879.0 1832.9 944.7 1832.4 901.0 1831.5 801.0 1832.3Z"/>
<path fill="#f4eeeb" fill-rule="evenodd" d="M139.0 1806.8 143.0 1806.7 145.0 1805.3 163.0 1804.8 165.0 1803.4 183.0 1802.9 185.0 1801.6 203.0 1800.9 205.0 1799.7 229.0 1799.0 231.0 1797.8 253.0 1797.1 255.0 1795.9 275.0 1795.2 277.0 1793.9 289.0 1793.2 291.0 1792.1 301.0 1791.4 303.0 1790.3 315.0 1789.7 317.0 1788.6 401.0 1781.4 421.0 1783.0 431.0 1785.3 435.5 1788.4 436.7 1790.4 437.1 1794.4 436.2 1796.4 433.5 1798.4 425.0 1800.9 419.0 1801.8 397.3 1802.4 384.7 1804.4 377.9 1806.4 381.1 1808.4 389.0 1809.0 441.0 1809.9 459.0 1810.9 521.0 1816.6 649.0 1816.9 804.0 1818.4 931.3 1816.4 953.3 1814.4 948.3 1812.4 871.0 1795.5 793.0 1777.2 641.0 1747.6 538.9 1726.4 451.0 1709.4 353.0 1696.8 315.0 1696.4 311.0 1693.0 309.0 1692.8 307.0 1691.0 305.0 1690.9 301.0 1687.3 299.0 1687.2 297.0 1685.4 295.0 1685.3 291.0 1681.6 289.0 1681.4 287.0 1679.6 285.0 1679.5 281.9 1676.4 281.7 1674.4 279.7 1672.4 279.5 1670.4 277.5 1668.4 277.3 1666.4 279.2 1664.4 279.2 1662.4 283.2 1658.4 283.3 1656.4 285.0 1654.7 287.0 1654.6 291.0 1650.6 293.0 1650.5 297.0 1646.6 301.0 1646.6 303.0 1644.7 311.0 1644.5 313.0 1642.7 319.0 1642.6 321.0 1640.9 337.0 1640.6 339.0 1639.2 353.0 1638.9 365.0 1639.6 367.0 1640.8 379.0 1641.6 381.0 1642.8 395.0 1643.7 397.0 1644.9 411.0 1645.8 413.0 1646.9 427.0 1647.8 429.0 1648.9 443.0 1649.8 445.0 1651.0 455.0 1651.8 457.0 1653.0 465.0 1653.8 467.0 1654.9 475.0 1655.7 477.0 1656.9 485.0 1657.7 487.0 1658.9 495.0 1659.7 497.0 1660.9 507.0 1661.8 509.0 1663.1 517.0 1663.8 519.0 1665.0 527.0 1665.8 529.0 1666.9 537.0 1667.7 539.0 1668.9 557.0 1671.8 559.0 1673.0 567.0 1673.8 569.0 1675.1 577.0 1675.8 579.0 1677.1 585.0 1677.7 587.0 1678.9 605.0 1681.8 607.0 1683.0 615.0 1683.8 617.0 1685.0 635.0 1687.8 637.0 1689.0 645.0 1689.9 647.0 1691.0 655.0 1691.8 657.0 1693.0 665.0 1693.8 667.0 1695.0 675.0 1695.8 677.0 1697.0 685.0 1697.8 687.0 1699.0 695.0 1699.8 697.0 1701.0 705.0 1701.8 707.0 1703.0 717.0 1704.0 719.0 1705.2 727.0 1706.0 729.0 1707.3 737.0 1708.0 739.0 1709.2 747.0 1710.1 749.0 1711.3 757.0 1712.1 759.0 1713.3 767.0 1714.1 769.0 1715.3 777.0 1716.1 779.0 1717.4 787.0 1718.2 789.0 1719.4 797.0 1720.2 799.0 1721.7 803.0 1722.2 805.0 1723.5 819.0 1726.3 821.0 1727.8 827.0 1728.4 829.0 1729.9 833.0 1730.3 835.0 1731.7 841.0 1732.4 843.0 1733.8 849.0 1734.5 851.0 1736.0 855.0 1736.4 857.0 1737.8 863.0 1738.5 865.0 1739.9 879.0 1743.1 887.0 1746.1 893.0 1747.2 961.0 1767.2 997.0 1778.5 1046.2 1788.4 1157.0 1792.0 1157.0 1802.0 1099.0 1801.6 1073.1 1802.4 1064.1 1804.4 1082.8 1810.4 1092.1 1814.4 1157.0 1816.2 1157.0 1831.7 1099.0 1830.7 1049.0 1831.3 1032.7 1830.4 953.0 1829.4 799.0 1830.4 521.0 1830.2 502.4 1832.4 495.8 1834.4 519.0 1835.0 901.0 1835.0 995.0 1834.4 1049.0 1833.0 1101.0 1833.9 1157.0 1833.6 1157.0 1842.3 501.0 1841.8 443.6 1842.4 139.0 1842.4Z"/>
<path fill="#f9e5da" fill-rule="evenodd" d="M277.5 1666.4 279.3 1664.4 279.4 1662.4 283.3 1658.4 283.4 1656.4 285.0 1654.8 287.0 1654.7 291.0 1650.7 293.0 1650.6 297.0 1646.7 301.0 1646.7 303.0 1644.8 311.0 1644.6 313.0 1642.8 319.0 1642.6 321.0 1641.0 337.0 1640.7 339.0 1639.4 353.0 1639.1 365.0 1639.8 367.0 1641.1 379.0 1641.9 381.0 1643.1 395.0 1644.0 397.0 1645.2 427.0 1648.1 429.0 1649.3 443.0 1650.2 445.0 1651.3 455.0 1652.1 457.0 1653.3 465.0 1654.1 467.0 1655.3 475.0 1656.1 477.0 1657.3 485.0 1658.0 487.0 1659.2 495.0 1660.0 497.0 1661.2 507.0 1662.1 509.0 1663.4 517.0 1664.1 519.0 1665.3 537.0 1668.1 539.0 1669.3 557.0 1672.1 559.0 1673.3 567.0 1674.1 569.0 1675.4 577.0 1676.2 579.0 1677.4 585.0 1678.0 587.0 1679.2 595.0 1680.1 597.0 1681.3 605.0 1682.1 607.0 1683.3 615.0 1684.1 617.0 1685.3 625.0 1686.2 627.0 1687.3 645.0 1690.2 647.0 1691.4 655.0 1692.2 657.0 1693.4 665.0 1694.2 667.0 1695.4 675.0 1696.2 677.0 1697.4 685.0 1698.1 687.0 1699.3 695.0 1700.1 697.0 1701.3 705.0 1702.1 707.0 1703.4 717.0 1704.3 719.0 1705.6 727.0 1706.4 729.0 1707.7 737.0 1708.4 739.0 1709.7 747.0 1710.5 749.0 1711.7 757.0 1712.6 759.0 1713.8 767.0 1714.7 769.0 1715.8 777.0 1716.8 779.0 1717.9 795.0 1720.8 955.0 1767.6 1001.0 1782.0 1049.0 1791.5 1121.9 1794.4 1150.1 1796.4 1049.0 1797.9 999.0 1790.1 950.9 1778.4 931.0 1775.0 930.0 1776.4 958.3 1790.4 964.0 1794.4 965.0 1796.4 961.0 1798.1 955.0 1798.2 937.0 1797.0 919.0 1794.6 873.0 1786.3 793.0 1768.9 641.0 1739.3 537.0 1717.8 451.0 1701.1 353.0 1688.5 303.0 1688.4 301.0 1686.6 299.0 1686.6 297.0 1684.7 295.0 1684.7 291.0 1681.0 289.0 1680.9 287.0 1679.1 285.0 1679.0 282.3 1676.4 282.1 1674.4 277.6 1668.4ZM139.0 1807.0 143.0 1806.9 145.0 1805.5 163.0 1805.0 165.0 1803.7 183.0 1803.1 185.0 1801.8 203.0 1801.3 205.0 1800.0 229.0 1799.4 231.0 1798.1 253.0 1797.4 255.0 1796.2 275.0 1795.5 277.0 1794.2 289.0 1793.7 291.0 1792.5 401.0 1783.1 421.0 1784.8 429.0 1786.9 433.0 1789.2 435.1 1792.4 435.1 1794.4 433.0 1797.1 429.0 1799.1 421.0 1801.0 399.0 1801.5 377.5 1804.4 368.1 1806.4 364.5 1808.4 390.1 1810.4 441.0 1810.8 519.0 1817.2 801.0 1818.9 886.6 1818.4 973.7 1816.4 1001.0 1815.1 1157.0 1818.5 1157.0 1830.1 975.0 1828.3 906.0 1828.4 799.0 1829.9 521.0 1829.5 494.3 1832.4 483.6 1834.4 491.0 1835.5 517.0 1836.1 871.0 1836.1 1157.0 1835.3 1157.0 1841.2 501.0 1840.7 439.0 1841.8 139.0 1842.4Z"/>
<path fill="#fadfcf" fill-rule="evenodd" d="M277.6 1666.4 279.5 1664.4 279.5 1662.4 283.4 1658.4 283.5 1656.4 285.0 1654.9 287.0 1654.8 291.0 1650.8 293.0 1650.7 297.0 1646.8 301.0 1646.8 303.0 1644.9 311.0 1644.7 313.0 1642.9 319.0 1642.7 321.0 1641.2 337.0 1640.9 339.0 1639.5 353.0 1639.3 365.0 1640.1 367.0 1641.3 379.0 1642.2 381.0 1643.4 395.0 1644.3 397.0 1645.5 411.0 1646.5 413.0 1647.6 427.0 1648.5 429.0 1649.6 443.0 1650.6 445.0 1651.6 455.0 1652.4 457.0 1653.6 465.0 1654.4 467.0 1655.6 475.0 1656.4 477.0 1657.6 485.0 1658.4 487.0 1659.5 495.0 1660.3 497.0 1661.5 507.0 1662.5 509.0 1663.7 517.0 1664.5 519.0 1665.6 527.0 1666.4 529.0 1667.6 547.0 1670.4 549.0 1671.6 557.0 1672.5 559.0 1673.7 567.0 1674.5 569.0 1675.7 577.0 1676.6 579.0 1677.7 585.0 1678.4 587.0 1679.6 595.0 1680.4 597.0 1681.6 605.0 1682.4 607.0 1683.6 615.0 1684.5 617.0 1685.7 625.0 1686.6 627.0 1687.7 635.0 1688.6 637.0 1689.8 665.0 1694.6 667.0 1695.7 675.0 1696.6 677.0 1697.7 685.0 1698.6 687.0 1699.7 695.0 1700.6 697.0 1701.7 705.0 1702.6 707.0 1703.7 717.0 1705.1 719.0 1706.0 727.0 1707.2 793.0 1721.5 951.0 1768.0 983.4 1778.4 1001.0 1784.9 1009.1 1786.4 1009.0 1787.2 999.0 1786.8 987.1 1784.4 896.3 1762.4 841.7 1750.4 833.0 1749.8 831.7 1750.4 858.0 1762.4 867.1 1768.4 867.0 1770.4 863.0 1771.3 845.8 1770.4 801.0 1763.0 451.0 1693.2 353.0 1680.6 289.0 1680.4 287.0 1678.5 285.0 1678.5 282.7 1676.4 282.5 1674.4 277.8 1668.4ZM139.0 1807.2 143.0 1807.1 145.0 1805.7 163.0 1805.3 165.0 1803.9 183.0 1803.4 185.0 1802.1 203.0 1801.6 205.0 1800.3 229.0 1799.7 231.0 1798.5 253.0 1797.8 255.0 1796.8 275.0 1795.9 277.0 1794.9 401.0 1784.4 419.0 1785.8 427.0 1787.8 431.0 1789.9 432.9 1792.4 433.1 1794.4 431.0 1797.0 428.3 1798.4 421.0 1800.3 399.0 1800.8 358.2 1806.4 349.1 1808.4 355.3 1810.4 441.0 1811.5 521.0 1817.9 801.0 1819.5 922.7 1818.4 1001.0 1816.6 1157.0 1819.1 1157.0 1829.5 999.0 1827.9 899.0 1828.0 799.0 1829.3 639.0 1828.5 521.0 1828.9 475.1 1834.4 479.0 1835.9 485.0 1836.7 511.0 1837.4 881.0 1837.4 1049.0 1836.3 1157.0 1836.4 1157.0 1840.2 501.0 1839.4 439.0 1841.1 139.0 1842.2Z"/>
<path fill="#f9d6c2" fill-rule="evenodd" d="M277.8 1666.4 279.6 1664.4 279.6 1662.4 283.5 1658.4 283.6 1656.4 285.0 1655.0 287.0 1654.9 291.0 1650.9 293.0 1650.8 297.0 1646.9 301.0 1646.8 303.0 1645.0 311.0 1644.8 313.0 1643.0 319.0 1642.8 321.0 1641.3 337.0 1641.0 339.0 1639.7 353.0 1639.5 365.0 1640.4 367.0 1641.5 379.0 1642.6 381.0 1643.6 393.0 1644.6 397.0 1645.8 453.0 1652.7 477.0 1657.9 485.0 1658.9 487.0 1659.9 495.0 1660.8 497.0 1661.8 537.0 1669.0 637.0 1690.1 705.0 1703.3 795.0 1723.0 928.0 1762.4 959.4 1772.4 969.5 1776.4 963.9 1776.4 945.1 1772.4 793.5 1736.4 693.0 1719.6 641.0 1709.6 539.5 1688.4 445.1 1670.4 399.0 1664.9 379.0 1667.9 357.0 1666.0 331.0 1666.0 299.6 1670.4 285.0 1675.2 283.0 1675.2 280.6 1672.4 280.3 1670.4 278.0 1668.4ZM139.0 1807.4 143.0 1807.3 145.0 1805.9 163.0 1805.5 165.0 1804.1 183.0 1803.7 185.0 1802.4 203.0 1801.9 205.0 1801.0 253.0 1798.2 401.0 1785.3 419.0 1786.9 427.0 1789.3 430.8 1792.4 431.1 1794.4 429.7 1796.4 427.0 1797.8 419.0 1799.8 396.5 1800.4 335.7 1808.4 331.8 1810.4 341.0 1811.1 377.0 1812.1 441.0 1812.3 521.0 1818.5 801.0 1820.0 901.0 1819.1 1001.0 1817.1 1157.0 1819.6 1157.0 1829.0 999.0 1827.4 799.0 1828.8 521.0 1828.3 468.0 1834.4 468.3 1836.4 482.1 1838.4 441.0 1840.3 139.0 1841.7ZM982.6 1838.4 1157.0 1837.9 1157.0 1838.8Z"/>
<path fill="#f6c7b0" fill-rule="evenodd" d="M277.9 1666.4 279.7 1664.4 279.7 1662.4 283.6 1658.4 283.7 1656.4 285.0 1655.1 287.0 1655.0 291.0 1650.9 293.0 1650.9 297.0 1647.0 301.0 1646.9 303.0 1645.1 311.0 1644.9 313.0 1643.1 319.0 1642.9 321.0 1641.4 337.0 1641.1 339.0 1639.9 361.9 1640.4 381.0 1643.9 451.0 1652.9 537.0 1669.6 701.0 1703.1 793.0 1723.3 885.0 1750.4 933.9 1766.4 929.0 1766.6 790.5 1734.4 701.0 1719.5 454.8 1670.4 399.0 1663.3 379.0 1664.2 355.0 1662.4 331.0 1662.4 301.0 1666.6 285.0 1672.7 281.0 1672.4 280.6 1670.4 278.2 1668.4ZM139.0 1807.5 143.0 1807.5 145.0 1806.1 163.0 1805.7 165.0 1804.4 183.0 1804.0 185.0 1803.1 251.0 1799.0 401.0 1786.2 419.0 1787.9 426.4 1790.4 428.7 1792.4 429.1 1794.4 427.6 1796.4 423.1 1798.4 419.0 1799.2 390.0 1800.4 324.0 1808.4 315.7 1810.4 331.0 1812.3 439.0 1812.9 521.0 1818.8 801.0 1820.5 1001.0 1817.6 1157.0 1820.2 1157.0 1828.4 999.0 1826.9 799.0 1828.3 521.0 1828.0 461.5 1834.4 458.9 1836.4 460.6 1838.4 441.0 1839.6 139.0 1841.2Z"/>
<path fill="#f3bba0" fill-rule="evenodd" d="M278.1 1666.4 279.9 1664.4 279.8 1662.4 283.7 1658.4 283.8 1656.4 285.0 1655.2 287.0 1655.1 291.0 1651.0 293.0 1651.0 297.0 1647.1 301.0 1647.0 303.0 1645.1 311.0 1645.0 313.0 1643.2 319.0 1643.0 321.0 1641.5 337.0 1641.3 339.0 1640.1 358.9 1640.4 399.0 1646.7 449.0 1653.1 535.0 1669.7 699.0 1703.2 783.0 1721.7 799.0 1725.7 848.9 1740.4 898.5 1756.4 897.0 1757.1 893.0 1756.9 880.2 1754.4 795.0 1734.2 695.0 1717.4 448.7 1668.4 401.0 1662.3 379.0 1662.7 353.0 1661.1 331.0 1661.1 304.8 1664.4 299.0 1665.6 285.0 1671.2 281.0 1671.2 278.4 1668.4ZM139.0 1807.7 143.0 1807.7 145.0 1806.3 163.0 1805.9 165.0 1805.0 249.0 1800.0 401.0 1787.0 419.0 1788.9 423.9 1790.4 426.5 1792.4 427.1 1794.4 425.4 1796.4 421.0 1798.2 389.0 1799.9 313.7 1808.4 303.1 1810.4 306.5 1812.4 349.0 1813.5 439.0 1813.5 521.0 1819.1 801.0 1820.8 1001.0 1818.1 1157.0 1820.6 1157.0 1828.1 999.0 1826.5 799.0 1828.0 521.0 1827.7 455.3 1834.4 450.9 1836.4 448.6 1838.4 439.0 1839.0 139.0 1840.7Z"/>
<path fill="#efac8e" fill-rule="evenodd" d="M278.3 1666.4 280.0 1664.4 279.9 1662.4 283.9 1658.4 283.9 1656.4 285.0 1655.3 287.0 1655.2 291.0 1651.1 293.0 1651.1 297.0 1647.1 301.0 1647.1 303.0 1645.2 311.0 1645.1 313.0 1643.3 319.0 1643.1 321.0 1641.6 337.0 1641.4 339.0 1640.2 359.0 1640.8 407.5 1648.4 451.0 1653.9 541.0 1671.4 699.0 1703.7 795.0 1725.2 852.3 1742.4 876.0 1750.4 868.5 1750.4 795.0 1733.3 699.0 1717.4 451.0 1668.1 401.0 1661.8 377.0 1661.7 353.0 1660.1 329.0 1660.1 301.0 1663.8 285.0 1670.1 281.0 1670.1 278.6 1668.4ZM139.0 1807.9 143.0 1807.9 145.0 1806.7 163.0 1806.2 251.0 1800.6 401.0 1787.8 421.3 1790.4 424.4 1792.4 425.1 1794.4 423.3 1796.4 421.0 1797.4 385.0 1799.6 304.1 1808.4 292.7 1810.4 291.4 1812.4 303.0 1813.4 341.0 1814.2 439.0 1814.1 521.0 1819.3 801.0 1821.1 899.0 1820.3 1001.0 1818.5 1157.0 1820.9 1157.0 1827.8 999.0 1826.2 901.0 1826.4 799.0 1827.7 521.0 1827.5 465.9 1832.4 449.4 1834.4 439.0 1837.9 430.2 1838.4 139.0 1840.3Z"/>
<path fill="#ea9e80" fill-rule="evenodd" d="M278.4 1666.4 280.1 1664.4 280.0 1662.4 284.0 1658.4 284.0 1656.4 285.0 1655.5 287.0 1655.3 291.0 1651.2 293.0 1651.1 297.0 1647.2 301.0 1647.2 303.0 1645.3 311.0 1645.2 313.0 1643.3 319.0 1643.2 321.0 1641.8 337.0 1641.5 339.0 1640.4 357.0 1640.8 404.2 1648.4 455.0 1655.1 539.0 1671.4 697.0 1703.8 795.0 1725.9 853.4 1744.4 846.9 1744.4 793.0 1732.1 691.0 1715.3 639.0 1705.3 538.1 1684.4 442.8 1666.4 399.0 1661.0 379.0 1661.0 351.0 1659.3 329.0 1659.4 304.1 1662.4 299.0 1663.5 285.0 1669.2 279.0 1668.6ZM139.0 1808.1 251.0 1801.4 401.0 1788.7 421.0 1791.6 422.3 1792.4 423.1 1794.4 421.0 1796.5 379.0 1799.5 295.1 1808.4 283.3 1810.4 279.8 1812.4 298.6 1814.4 439.0 1814.7 519.0 1819.6 801.0 1821.4 899.0 1820.7 999.0 1818.8 1157.0 1821.1 1157.0 1827.6 999.0 1825.9 899.0 1826.1 799.0 1827.4 521.0 1827.2 460.8 1832.4 439.0 1835.4 369.1 1838.4 139.0 1839.8Z"/>
<path fill="#e28e74" fill-rule="evenodd" d="M278.6 1666.4 280.3 1664.4 280.1 1662.4 284.1 1658.4 284.2 1656.4 285.0 1655.6 287.0 1655.5 291.0 1651.3 293.0 1651.2 297.0 1647.3 301.0 1647.3 303.0 1645.4 311.0 1645.3 313.0 1643.4 319.0 1643.3 321.0 1641.9 337.0 1641.7 339.0 1640.7 357.0 1641.1 401.2 1648.4 451.0 1654.8 537.0 1671.4 741.0 1713.8 794.0 1726.4 825.7 1736.4 825.0 1737.9 795.0 1731.5 751.0 1725.0 695.0 1715.5 641.0 1705.2 540.5 1684.4 446.7 1666.4 399.0 1660.4 377.0 1660.2 351.0 1658.6 329.0 1658.7 301.0 1662.1 285.0 1668.3 279.0 1668.3ZM825.5 1738.4 827.0 1737.8 831.0 1738.4ZM139.0 1808.3 251.0 1802.2 401.0 1789.5 419.0 1792.2 421.1 1794.4 419.0 1795.7 371.0 1799.5 286.3 1808.4 274.5 1810.4 269.7 1812.4 281.0 1814.4 323.0 1815.4 439.0 1815.2 519.0 1819.9 801.0 1821.7 899.0 1821.0 999.0 1819.0 1157.0 1821.4 1157.0 1827.3 999.0 1825.7 899.0 1825.7 799.0 1827.1 521.0 1826.9 439.0 1834.1 413.5 1834.4 311.9 1838.4 139.0 1839.3Z"/>
<path fill="#d97b65" fill-rule="evenodd" d="M278.7 1666.4 280.4 1664.4 280.3 1662.4 284.2 1658.4 284.3 1656.4 287.0 1655.6 291.0 1651.4 293.0 1651.3 297.0 1647.4 301.0 1647.4 303.0 1645.5 311.0 1645.3 313.0 1643.5 319.0 1643.4 321.0 1642.0 337.0 1641.8 339.0 1641.0 355.0 1641.2 401.0 1648.7 451.0 1655.1 537.0 1671.8 711.0 1707.6 775.5 1722.4 803.3 1730.4 803.0 1731.2 777.4 1728.4 707.0 1717.2 643.0 1705.1 532.7 1682.4 449.9 1666.4 403.1 1660.4 375.0 1659.6 353.0 1658.1 329.0 1658.1 301.0 1661.4 285.0 1667.6 279.0 1667.6ZM139.0 1808.6 249.0 1803.2 399.0 1790.4 412.4 1792.4 415.3 1794.4 301.0 1805.5 265.8 1810.4 260.4 1812.4 266.6 1814.4 279.0 1815.2 319.0 1816.0 439.0 1815.7 521.0 1820.2 799.0 1822.0 899.0 1821.4 1015.0 1819.4 1157.0 1821.7 1157.0 1827.0 999.0 1825.4 899.0 1825.4 799.0 1826.8 521.0 1826.6 439.0 1833.5 361.7 1834.4 225.9 1838.4 139.0 1838.8Z"/>
<path fill="#d16b58" fill-rule="evenodd" d="M278.9 1666.4 280.5 1664.4 280.4 1662.4 284.3 1658.4 284.4 1656.4 287.0 1655.7 291.0 1651.5 293.0 1651.4 297.0 1647.5 301.0 1647.4 303.0 1645.5 311.0 1645.4 313.0 1643.6 319.0 1643.5 321.0 1642.1 355.0 1641.5 401.0 1649.1 451.0 1655.5 535.0 1671.8 719.0 1709.8 772.8 1722.4 786.8 1726.4 787.0 1727.4 789.4 1728.4 768.1 1726.4 699.0 1715.3 452.2 1666.4 406.3 1660.4 353.0 1657.6 329.0 1657.7 301.0 1660.7 285.0 1666.9ZM139.0 1809.2 257.0 1803.6 399.0 1791.7 404.2 1792.4 404.6 1794.4 307.0 1803.5 261.0 1809.5 251.6 1812.4 255.3 1814.4 275.0 1815.8 313.0 1816.5 439.0 1816.2 521.0 1820.5 799.0 1822.3 901.0 1821.7 1001.0 1819.5 1157.0 1822.0 1157.0 1826.7 901.0 1825.0 799.0 1826.5 519.0 1826.4 439.0 1832.9 310.5 1834.4 139.0 1838.1Z"/>
<path fill="#c8584d" fill-rule="evenodd" d="M280.5 1662.4 284.4 1658.4 285.0 1655.9 287.0 1655.8 291.0 1651.5 293.0 1651.5 297.0 1647.6 301.0 1647.5 303.0 1645.6 311.0 1645.5 313.0 1643.7 319.0 1643.6 321.0 1642.3 355.0 1641.8 401.0 1649.4 451.0 1655.8 535.0 1672.1 709.0 1708.0 762.3 1720.4 776.4 1724.4 777.0 1726.1 779.0 1726.4 758.7 1724.4 699.0 1714.9 637.0 1703.1 536.8 1682.4 453.0 1666.2 401.0 1659.4 353.0 1657.2 329.0 1657.2 301.0 1660.0 285.0 1666.2 281.0 1666.2ZM139.0 1809.7 265.0 1805.1 267.2 1806.4 259.0 1807.5 240.7 1812.4 243.9 1814.4 277.0 1816.6 439.0 1816.7 521.0 1820.8 799.0 1822.7 901.0 1822.1 1001.0 1819.8 1157.0 1822.2 1157.0 1826.5 901.0 1824.7 799.0 1826.1 519.0 1826.1 439.0 1832.3 139.0 1835.2Z"/>
<path fill="#bf4844" fill-rule="evenodd" d="M280.6 1662.4 284.5 1658.4 285.0 1656.0 287.0 1655.9 291.0 1651.6 293.0 1651.6 297.0 1647.6 301.0 1647.6 303.0 1645.7 311.0 1645.6 313.0 1643.8 319.0 1643.7 321.0 1642.4 355.0 1642.1 401.0 1649.8 451.0 1656.2 533.0 1672.1 700.2 1706.4 743.7 1716.4 766.1 1722.4 765.0 1723.9 751.0 1722.6 701.0 1714.8 455.0 1666.2 399.0 1658.8 353.0 1656.7 331.0 1656.7 301.0 1659.5 285.0 1665.5 281.0 1665.5ZM139.0 1810.3 203.0 1808.3 235.0 1808.4 229.2 1812.4 231.8 1814.4 252.0 1816.4 279.0 1817.3 439.0 1817.2 521.0 1821.1 877.0 1823.2 895.1 1824.4 799.0 1825.5 519.0 1825.8 439.0 1831.8 299.0 1833.3 139.0 1833.9ZM901.6 1822.4 1005.0 1820.1 1157.0 1822.6 1157.0 1826.1 906.4 1824.4Z"/>
<path fill="#b6373b" fill-rule="evenodd" d="M280.7 1662.4 284.6 1658.4 285.0 1656.1 287.0 1656.0 291.0 1651.7 293.0 1651.7 297.0 1647.7 301.0 1647.7 303.0 1645.8 311.0 1645.7 313.0 1643.9 319.0 1643.7 321.0 1642.6 357.0 1642.7 401.0 1650.1 450.1 1656.4 531.0 1672.1 698.3 1706.4 755.8 1720.4 755.0 1721.7 741.0 1720.6 701.0 1714.4 451.0 1665.0 401.0 1658.6 353.0 1656.3 331.0 1656.3 301.0 1658.9 285.0 1664.8 281.0 1664.8ZM139.0 1810.8 209.0 1810.0 214.5 1810.4 220.3 1814.4 231.0 1815.9 275.0 1817.8 439.0 1817.6 521.0 1821.4 717.0 1822.4 857.4 1824.4 519.0 1825.5 439.0 1831.3 139.0 1833.2ZM917.8 1822.4 1001.0 1820.3 1157.0 1823.1 1157.0 1825.6 955.0 1824.3 931.0 1823.6Z"/>
<path fill="#ab2431" fill-rule="evenodd" d="M280.8 1662.4 284.7 1658.4 285.0 1656.2 287.0 1656.1 291.0 1651.8 293.0 1651.8 297.0 1647.8 301.0 1647.8 303.0 1645.8 311.0 1645.8 313.0 1644.0 319.0 1643.8 321.0 1642.8 357.0 1642.9 401.0 1650.5 449.0 1656.6 531.0 1672.4 696.4 1706.4 745.5 1718.4 745.0 1719.4 735.0 1719.0 703.6 1714.4 641.0 1702.7 539.0 1681.7 451.0 1664.7 401.0 1658.2 353.0 1656.0 329.0 1656.0 301.0 1658.3 285.0 1664.0 281.0 1664.0ZM139.0 1811.4 193.0 1811.1 201.0 1811.9 209.0 1814.4 221.8 1816.4 269.0 1818.3 439.0 1818.1 521.0 1821.6 679.8 1822.4 808.2 1824.4 539.0 1824.9 517.0 1825.3 439.0 1830.9 139.0 1832.6ZM933.6 1822.4 1001.0 1820.6 1157.0 1823.5 1157.0 1825.2 977.0 1823.9Z"/>
<path fill="#9e192c" fill-rule="evenodd" d="M280.9 1662.4 284.9 1658.4 285.0 1656.3 287.0 1656.2 291.0 1651.9 293.0 1651.9 297.0 1647.9 301.0 1647.9 303.0 1645.9 311.0 1645.9 313.0 1644.0 319.0 1643.9 321.0 1643.1 357.0 1643.2 401.0 1650.9 457.0 1658.4 539.0 1674.3 694.4 1706.4 735.2 1716.4 733.0 1717.5 725.0 1716.9 695.0 1712.4 451.0 1664.3 401.0 1657.8 353.0 1655.7 329.0 1655.7 301.0 1657.8 285.0 1663.0 281.0 1663.0ZM139.0 1812.0 185.0 1812.3 209.0 1816.4 246.7 1818.4 301.0 1819.1 439.0 1818.6 519.0 1821.9 623.3 1822.4 623.3 1824.4 519.0 1824.9 439.0 1830.4 139.0 1832.0ZM949.4 1822.4 1001.0 1821.1 1093.6 1822.4 1111.0 1823.4 1157.0 1824.0 1157.0 1824.8 1045.2 1824.4Z"/>
<path fill="#8a1228" fill-rule="evenodd" d="M282.9 1660.4 285.0 1658.4 285.8 1656.4 287.0 1656.3 291.0 1652.0 293.0 1652.0 297.0 1648.0 301.0 1648.0 303.0 1646.0 311.0 1646.0 313.0 1644.1 319.0 1644.0 321.0 1643.3 357.0 1643.4 401.0 1651.3 455.2 1658.4 537.7 1674.4 692.2 1706.4 725.0 1714.4 723.0 1715.5 697.2 1712.4 633.7 1700.4 533.0 1679.7 451.0 1663.8 401.0 1657.4 353.0 1655.4 331.0 1655.3 301.0 1657.3 285.0 1661.7 283.0 1661.7ZM139.0 1812.6 173.0 1813.1 201.0 1816.8 233.0 1818.7 299.0 1819.7 439.0 1819.1 533.3 1822.4 533.3 1824.4 507.0 1825.2 439.0 1829.9 139.0 1831.5ZM965.1 1822.4 1001.0 1821.5 1074.1 1822.4 1049.0 1823.5Z"/>
<path fill="#790c24" fill-rule="evenodd" d="M287.9 1656.4 291.0 1652.1 293.0 1652.0 297.0 1648.1 301.0 1648.1 303.0 1646.1 311.0 1646.0 313.0 1644.2 329.0 1643.3 357.0 1643.6 401.0 1651.6 453.2 1658.4 545.5 1676.4 699.5 1708.4 714.6 1712.4 713.0 1713.4 709.0 1713.2 689.2 1710.4 449.0 1663.1 399.0 1656.9 379.0 1656.6 353.0 1655.1 331.0 1655.0 301.0 1656.8 289.0 1658.5ZM139.0 1813.3 167.0 1814.0 199.0 1817.8 227.0 1819.2 299.0 1820.2 439.0 1819.6 516.1 1822.4 518.0 1824.4 439.0 1829.4 139.0 1830.9Z"/>
<path fill="#690621" fill-rule="evenodd" d="M289.0 1654.4 291.0 1652.1 293.0 1652.1 297.0 1648.1 301.0 1648.1 303.0 1646.2 311.0 1646.1 313.0 1644.3 329.0 1643.6 357.0 1643.9 401.0 1652.0 451.0 1658.4 543.5 1676.4 704.3 1710.4 703.0 1711.3 692.7 1710.4 649.0 1702.4 537.0 1679.6 453.0 1663.3 399.0 1656.5 353.0 1654.7 331.0 1654.7 293.0 1657.0 290.5 1656.4 289.0 1655.3ZM139.0 1814.0 157.0 1814.5 192.0 1818.4 223.0 1819.8 299.0 1820.7 439.0 1820.1 499.8 1822.4 508.6 1824.4 439.0 1828.9 139.0 1830.4Z"/>
<path fill="#60031f" fill-rule="evenodd" d="M290.1 1654.4 291.0 1652.2 293.0 1652.2 297.0 1648.2 301.0 1648.2 303.0 1646.2 311.0 1646.2 313.0 1644.4 357.0 1644.1 403.0 1652.9 447.8 1658.4 541.2 1676.4 654.6 1700.4 657.0 1701.5 664.0 1702.4 665.0 1703.5 673.3 1704.4 671.0 1704.9 663.9 1704.4 663.0 1703.5 641.6 1700.4 539.0 1679.4 445.0 1661.5 399.0 1655.9 331.0 1654.4 295.0 1656.1ZM139.0 1814.8 157.0 1815.8 187.0 1819.1 221.0 1820.6 299.0 1821.4 439.0 1820.7 483.0 1822.4 497.1 1824.4 439.0 1828.4 139.0 1829.7Z"/></g>
<path d="M141.0 1807.1 147.2 1806.4 155.7 1805.5 165.8 1804.4 177.0 1803.2 188.6 1802.0 200.0 1800.9 211.5 1800.0 223.5 1799.1 236.0 1798.3 248.7 1797.4 261.7 1796.3 274.6 1794.9 288.1 1793.1 302.4 1791.0 316.8 1788.6 330.7 1786.3 343.6 1784.3 354.8 1782.6 364.4 1781.4 372.8 1780.5 380.2 1779.9 386.5 1779.4 391.8 1778.9 396.0 1778.4 399.0 1778.0 400.9 1777.9 401.6 1777.9 401.5 1777.6 400.7 1777.0 399.3 1775.9 397.1 1774.1 393.8 1771.8 389.8 1769.1 385.5 1766.2 381.1 1763.3 377.1 1760.4 373.3 1757.6 369.3 1754.8 365.4 1751.9 361.6 1748.9 358.0 1745.8 354.8 1742.5 352.3 1739.1 350.3 1735.6 348.7 1732.0 346.8 1728.2 344.6 1724.3 341.4 1720.3 337.2 1716.0 332.2 1711.3 326.7 1706.5 321.0 1701.8 315.4 1697.4 310.3 1693.5 305.3 1690.2 300.3 1687.3 295.3 1684.8 290.7 1682.4 286.7 1680.2 283.5 1678.0 281.2 1675.9 279.6 1673.9 278.6 1672.1 278.1 1670.3 277.9 1668.6 278.0 1666.8 278.4 1665.0 279.2 1663.2 280.4 1661.4 281.8 1659.7 283.4 1658.0 285.0 1656.4 286.6 1654.8 288.2 1653.3 289.9 1651.8 291.9 1650.4 294.2 1649.1 296.9 1647.9 300.0 1646.8 303.4 1645.8 307.2 1644.8 311.2 1644.0 315.5 1643.2 320.0 1642.4 324.1 1641.5 327.8 1640.5 331.7 1639.6 336.6 1638.9 343.3 1638.6 352.6 1639.0 365.2 1640.1 380.6 1641.8 397.9 1643.9 415.9 1646.3 433.6 1648.9 450.0 1651.4 465.0 1653.9 479.4 1656.6 493.5 1659.3 507.7 1662.3 522.4 1665.3 537.7 1668.4 553.3 1671.6 568.8 1674.8 584.7 1678.2 601.5 1681.7 619.8 1685.5 640.0 1689.6 663.4 1694.2 689.9 1699.2 717.8 1704.4 745.6 1709.7 771.6 1714.9 794.4 1719.7 813.6 1724.2 830.4 1728.6 845.6 1732.8 859.6 1736.9 873.3 1740.9 887.1 1744.8 901.3 1748.7 915.5 1752.6 929.3 1756.3 942.2 1759.9 954.0 1763.1 964.3 1766.0 972.5 1768.4 978.8 1770.3 983.9 1772.0 988.6 1773.4 993.7 1774.9 1000.0 1776.4 1006.7 1778.1 1013.2 1779.7 1020.0 1781.4 1027.8 1782.9 1037.4 1784.2 1049.3 1785.3 1065.5 1786.0 1085.8 1786.5 1107.7 1786.8 1129.0 1787.0 1147.2 1787.1 1160.0 1787.2" fill="none" stroke="#000" stroke-width="2.2" stroke-linejoin="round" stroke-linecap="butt"/>
<path d="M300.0 1674.4 303.5 1677.3 307.8 1681.3 313.1 1686.0 320.0 1691.1 328.8 1695.9 340.0 1700.2 354.5 1703.9 372.2 1707.3 391.8 1710.6 412.2 1713.8 432.0 1717.0 450.0 1720.4 465.7 1723.9 480.0 1727.5 493.7 1731.2 507.8 1734.8 523.1 1738.3 540.4 1741.6 560.3 1744.8 582.2 1747.8 605.3 1750.7 628.9 1753.6 652.0 1756.3 674.0 1759.0 695.3 1761.7 716.6 1764.4 737.6 1767.0 757.8 1769.4 776.7 1771.6 794.0 1773.4 810.1 1774.8 825.4 1775.9 839.5 1776.8 851.9 1777.5 862.2 1778.0 870.0 1778.4" fill="none" stroke="#000" stroke-width="1.3" stroke-dasharray="1.6 3.2" stroke-linejoin="round" stroke-linecap="butt"/>
<path d="M296.0 1666.4 300.1 1668.9 305.3 1672.4 311.7 1676.6 319.4 1680.9 328.8 1684.9 340.0 1688.2 354.5 1691.0 372.5 1693.6 392.1 1695.9 411.3 1697.8 428.5 1699.3 441.6 1700.2 449.9 1700.3 454.7 1699.5 457.3 1698.3 459.1 1696.9 461.4 1695.7 465.6 1694.9 471.9 1694.5 479.4 1694.1 487.3 1693.8 495.2 1693.8 502.4 1694.1 508.4 1694.9 513.1 1696.5 517.0 1698.9 520.2 1701.7 522.9 1704.2 525.1 1706.2 527.0 1706.9 527.4 1706.0 525.9 1703.8 523.9 1700.9 523.0 1698.0 524.5 1695.8 529.8 1694.9 539.9 1695.4 553.8 1696.9 570.1 1699.0 587.5 1701.5 604.5 1704.1 620.0 1706.4 633.8 1708.6 646.9 1710.8 659.8 1713.2 672.7 1715.6 686.0 1717.9 700.0 1720.3 715.1 1722.6 731.0 1725.0 747.2 1727.3 763.5 1729.7 779.2 1732.1 794.0 1734.4 808.6 1736.9 823.5 1739.6 837.9 1742.3 851.0 1744.8 861.9 1746.9 870.0 1748.4" fill="none" stroke="#000" stroke-width="1.3" stroke-dasharray="7 3.5" stroke-linejoin="round" stroke-linecap="butt"/>
<path d="M360.0 1810.4 390.3 1810.6 430.4 1810.9 478.8 1811.3 534.1 1811.7 595.0 1812.0 660.0 1812.4 737.5 1812.8 830.4 1813.1 928.8 1813.5 1023.0 1813.9 1103.3 1814.2 1160.0 1814.4" fill="none" stroke="#000" stroke-width="1.2" stroke-dasharray="1.6 3.2" stroke-linejoin="round" stroke-linecap="butt"/>
<path d="M368.0 1816.4 397.4 1816.5 436.0 1816.6 482.8 1816.8 536.4 1817.0 595.9 1817.2 660.0 1817.4 737.1 1817.7 829.8 1818.1 928.2 1818.5 1022.7 1818.8 1103.2 1819.2 1160.0 1819.4" fill="none" stroke="#000" stroke-width="1.2" stroke-dasharray="7 3.5" stroke-linejoin="round" stroke-linecap="butt"/>
<path d="M560.0 1834.4 565.9 1834.0 571.9 1833.5 580.0 1832.9 592.6 1832.3 611.9 1831.8 640.0 1831.4 683.1 1831.2 740.7 1831.2 805.0 1831.2 868.1 1831.3 922.4 1831.4 960.0 1831.4" fill="none" stroke="#000" stroke-width="1.2" stroke-dasharray="7 3.5" stroke-linejoin="round" stroke-linecap="butt"/>
<path d="M375.5 1803.4 378.0 1802.7 381.3 1801.6 385.2 1800.4 389.8 1799.2 394.7 1798.2 400.0 1797.4 405.9 1796.9 412.5 1796.6 419.5 1796.4 426.7 1796.4 433.6 1796.6 440.0 1796.9 446.3 1797.5 452.9 1798.3 459.2 1799.2 464.9 1800.3 469.3 1801.4 472.0 1802.4 473.1 1803.4 473.0 1804.5 471.8 1805.7 469.2 1806.8 465.3 1807.7 460.0 1808.4 452.3 1808.9 442.1 1809.2 430.6 1809.4 419.0 1809.5 408.4 1809.5 400.0 1809.4 393.9 1809.3 389.1 1809.0 385.4 1808.7 382.5 1808.3 380.1 1807.9 378.0 1807.4 376.4 1806.8 375.6 1806.1 375.4 1805.3 375.4 1804.5 375.5 1803.9 375.5 1803.4" fill="none" stroke="#000" stroke-width="2.0" stroke-linejoin="round" stroke-linecap="butt"/>
<path d="M280.7 1590.0V1839.3 M354.0 1590.0V1839.3 M428.0 1590.0V1839.3 M540.0 1590.0V1839.3 M794.9 1590.0V1839.3" stroke="#000" stroke-width="3.7" stroke-dasharray="4.1 6.4" fill="none"/>
<path d="M354.0 1632.2 359.9 1633.4 367.9 1635.0 377.7 1636.9 388.5 1638.9 400.0 1640.9 412.5 1642.8 426.3 1644.8 440.9 1646.8 455.7 1648.9 470.0 1650.9 483.4 1652.8 496.1 1654.6 509.1 1656.5 523.2 1658.6 539.0 1661.2 557.8 1664.5 579.1 1668.4 601.0 1672.5 621.9 1676.3 640.0 1679.4 654.1 1681.5 665.3 1683.0 675.5 1684.2 686.5 1685.5 700.0 1687.4 716.5 1689.9 734.7 1692.7 754.2 1695.7 774.3 1699.1 794.4 1702.7 814.8 1706.7 835.8 1711.0 857.1 1715.5 878.6 1720.2 900.0 1724.9 923.0 1730.0 947.8 1735.6 971.7 1741.1 992.3 1745.9 1006.8 1749.2" fill="none" stroke="#1e1c0e" stroke-width="4.6" stroke-dasharray="15 7" stroke-linejoin="round"/>
<path d="M344.6 1663.9 351.9 1665.0 362.1 1666.5 374.1 1668.3 387.1 1670.3 400.0 1672.4 413.1 1674.6 427.0 1676.9 441.3 1679.4 455.8 1681.9 470.0 1684.4 483.5 1686.8 496.4 1689.1 509.6 1691.5 523.7 1694.0 539.6 1696.8 558.4 1700.1 579.6 1703.7 601.5 1707.5 622.2 1711.0 640.0 1713.9 653.5 1715.9 664.0 1717.2 673.4 1718.3 683.7 1719.7 697.0 1722.0 714.6 1725.6 735.1 1730.0 756.6 1734.8 777.0 1739.2 794.4 1742.8 808.0 1745.2 819.3 1747.0 829.1 1748.3 838.5 1749.5 848.5 1750.9 859.4 1752.5 870.5 1754.0 881.4 1755.5 891.4 1757.0 900.0 1758.4 906.9 1759.6 912.4 1760.7 917.1 1761.8 921.4 1763.0 925.7 1764.4 929.3 1766.2 931.7 1768.3 934.4 1770.5 938.4 1772.4 945.0 1773.7 955.9 1774.3 970.3 1774.4 985.7 1774.1 999.3 1773.8 1008.7 1773.7" fill="none" stroke="#1e1c0e" stroke-width="4.8" stroke-dasharray="4.8 7.2" stroke-linejoin="round"/>
</g>
<rect x="926.4" y="98.0" width="212.0" height="104.6" rx="4" ry="4" fill="#fff" fill-opacity="0.5" stroke="#cccccc" stroke-opacity="0.6" stroke-width="1.6"/>
<path d="M939.0 124.7H1005.3" stroke="#000" stroke-width="1.6" fill="none"/>
<path d="M939.0 171.6H1005.3" stroke="#000" stroke-width="1.6" stroke-dasharray="7 3.5" fill="none"/>
<g font-family="Liberation Sans, sans-serif"><text x="1033.0" y="136.3" font-size="34">105 K</text><text x="1033.0" y="183.5" font-size="34">120 K</text></g>
<rect x="943.4" y="349.8" width="195.3" height="154.3" rx="4" ry="4" fill="#fff" fill-opacity="0.5" stroke="#cccccc" stroke-opacity="0.6" stroke-width="1.6"/>
<path d="M957.0 377.2H1022.3" stroke="#000" stroke-width="1.6" stroke-dasharray="1.6 3.2" fill="none"/>
<path d="M957.0 424.9H1022.3" stroke="#000" stroke-width="1.6" stroke-dasharray="7 3.5" fill="none"/>
<path d="M957.0 473.1H1022.3" stroke="#000" stroke-width="1.6" fill="none"/>
<g font-family="Liberation Sans, sans-serif"><text x="1050.9" y="388.2" font-size="34" textLength="69.4" lengthAdjust="spacingAndGlyphs">10<tspan dy="-13.5" font-size="23">−9</tspan></text><text x="1050.9" y="436.4" font-size="34" textLength="69.4" lengthAdjust="spacingAndGlyphs">10<tspan dy="-13.5" font-size="23">−6</tspan></text><text x="1050.9" y="483.7" font-size="34" textLength="69.4" lengthAdjust="spacingAndGlyphs">10<tspan dy="-13.5" font-size="23">−5</tspan></text></g>
<rect x="880.0" y="601.7" width="256.5" height="170.0" rx="4" ry="4" fill="#fff" fill-opacity="0.5" stroke="#cccccc" stroke-opacity="0.6" stroke-width="1.6"/>
<path d="M892.9 632.4H957.3" stroke="#000" stroke-width="1.6" stroke-dasharray="1.6 3.2" fill="none"/>
<path d="M892.9 685.4H957.3" stroke="#000" stroke-width="1.6" stroke-dasharray="7 3.5" fill="none"/>
<path d="M892.9 738.4H957.3" stroke="#000" stroke-width="1.6" fill="none"/>
<g font-family="Liberation Sans, sans-serif"><text x="986.4" y="643.2" font-size="34" textLength="135.1" lengthAdjust="spacingAndGlyphs">10<tspan dy="-13.5" font-size="23">6</tspan><tspan dy="13.5"> kg</tspan><tspan dy="-13.5" font-size="23">−1</tspan></text></g>
<g font-family="Liberation Sans, sans-serif"><text x="986.4" y="696.2" font-size="34" textLength="135.1" lengthAdjust="spacingAndGlyphs">10<tspan dy="-13.5" font-size="23">7</tspan><tspan dy="13.5"> kg</tspan><tspan dy="-13.5" font-size="23">−1</tspan></text></g>
<g font-family="Liberation Sans, sans-serif"><text x="986.4" y="749.2" font-size="34" textLength="135.1" lengthAdjust="spacingAndGlyphs">10<tspan dy="-13.5" font-size="23">8</tspan><tspan dy="13.5"> kg</tspan><tspan dy="-13.5" font-size="23">−1</tspan></text></g>
<rect x="945.0" y="852.8" width="191.6" height="104.9" rx="4" ry="4" fill="#fff" fill-opacity="0.5" stroke="#cccccc" stroke-opacity="0.6" stroke-width="1.6"/>
<path d="M957.0 879.6H1022.3" stroke="#000" stroke-width="1.6" stroke-dasharray="1.6 3.2" fill="none"/>
<path d="M957.0 928.0H1022.3" stroke="#000" stroke-width="1.6" stroke-dasharray="7 3.5" fill="none"/>
<g font-family="Liberation Sans, sans-serif"><text x="1050.9" y="889.9" font-size="34" textLength="69.4" lengthAdjust="spacingAndGlyphs">10<tspan dy="-13.5" font-size="23">−7</tspan></text><text x="1050.9" y="938.1" font-size="34" textLength="69.4" lengthAdjust="spacingAndGlyphs">10<tspan dy="-13.5" font-size="23">−6</tspan></text></g>
<rect x="917.6" y="1104.3" width="219.0" height="154.0" rx="4" ry="4" fill="#fff" fill-opacity="0.5" stroke="#cccccc" stroke-opacity="0.6" stroke-width="1.6"/>
<path d="M930.0 1129.5H995.0" stroke="#333" stroke-width="1.5" fill="none"/>
<path d="M930.0 1178.5H995.0" stroke="#000" stroke-width="1.0" stroke-dasharray="1.1 1.9" fill="none"/>
<path d="M930.0 1226.8H995.0" stroke="#000" stroke-width="1.0" stroke-dasharray="4.5 2.2" fill="none"/>
<text font-family="Liberation Sans, sans-serif" x="1023" y="1140.5" font-size="34">5 <tspan font-style="italic">μ</tspan>m</text>
<text font-family="Liberation Sans, sans-serif" x="1023" y="1189.7" font-size="34">10 <tspan font-style="italic">μ</tspan>m</text>
<text font-family="Liberation Sans, sans-serif" x="1023" y="1237.9" font-size="34">20 <tspan font-style="italic">μ</tspan>m</text>
<rect x="870.8" y="1355.8" width="265.2" height="104.4" rx="4" ry="4" fill="#fff" fill-opacity="0.5" stroke="#cccccc" stroke-opacity="0.6" stroke-width="1.6"/>
<path d="M881.5 1382.7H947.2" stroke="#000" stroke-width="1.6" stroke-dasharray="7 3.5" fill="none"/>
<path d="M881.5 1430.5H947.2" stroke="#000" stroke-width="1.6" stroke-dasharray="1.6 3.2" fill="none"/>
<g font-family="Liberation Sans, sans-serif"><text x="975.2" y="1392.8" font-size="34" textLength="146.4" lengthAdjust="spacingAndGlyphs">10<tspan dy="-13.5" font-size="23">−7</tspan><tspan dy="13.5"> m</tspan><tspan dy="-13.5" font-size="23">−1</tspan></text></g>
<g font-family="Liberation Sans, sans-serif"><text x="975.2" y="1441.2" font-size="34" textLength="146.4" lengthAdjust="spacingAndGlyphs">10<tspan dy="-13.5" font-size="23">−6</tspan><tspan dy="13.5"> m</tspan><tspan dy="-13.5" font-size="23">−1</tspan></text></g>
<rect x="948.8" y="1607.8" width="188.6" height="149.4" rx="4" ry="4" fill="#fff" fill-opacity="0.5" stroke="#cccccc" stroke-opacity="0.6" stroke-width="1.6"/>
<path d="M961.0 1632.6H1027.2" stroke="#000" stroke-width="1.8" fill="none"/>
<path d="M961.0 1679.2H1027.2" stroke="#000" stroke-width="1.6" stroke-dasharray="1.6 3.2" fill="none"/>
<path d="M961.0 1725.9H1027.2" stroke="#000" stroke-width="1.6" stroke-dasharray="7 3.5" fill="none"/>
<g font-family="Liberation Sans, sans-serif" font-size="34"><text x="1053.8" y="1642.9">0</text><text x="1053.8" y="1690.3">0.05</text><text x="1053.8" y="1737.2">0.15</text></g>
<rect x="154" y="90.5" width="75.5" height="54" rx="4" ry="4" fill="#fff" fill-opacity="0.5"/>
<text font-family="Liberation Sans, sans-serif" font-weight="bold" x="156" y="129.8" font-size="48" textLength="72" lengthAdjust="spacingAndGlyphs">(a)</text>
<rect x="154" y="341.4" width="75.5" height="54" rx="4" ry="4" fill="#fff" fill-opacity="0.5"/>
<text font-family="Liberation Sans, sans-serif" font-weight="bold" x="156" y="380.7" font-size="48" textLength="72" lengthAdjust="spacingAndGlyphs">(b)</text>
<rect x="154" y="592.3" width="75.5" height="54" rx="4" ry="4" fill="#fff" fill-opacity="0.5"/>
<text font-family="Liberation Sans, sans-serif" font-weight="bold" x="156" y="631.6" font-size="48" textLength="72" lengthAdjust="spacingAndGlyphs">(c)</text>
<rect x="154" y="843.2" width="75.5" height="54" rx="4" ry="4" fill="#fff" fill-opacity="0.5"/>
<text font-family="Liberation Sans, sans-serif" font-weight="bold" x="156" y="882.5" font-size="48" textLength="72" lengthAdjust="spacingAndGlyphs">(d)</text>
<rect x="154" y="1094.1" width="75.5" height="54" rx="4" ry="4" fill="#fff" fill-opacity="0.5"/>
<text font-family="Liberation Sans, sans-serif" font-weight="bold" x="156" y="1133.4" font-size="48" textLength="72" lengthAdjust="spacingAndGlyphs">(e)</text>
<rect x="154" y="1345.0" width="75.5" height="54" rx="4" ry="4" fill="#fff" fill-opacity="0.5"/>
<text font-family="Liberation Sans, sans-serif" font-weight="bold" x="156" y="1384.3" font-size="48" textLength="72" lengthAdjust="spacingAndGlyphs">(f)</text>
<rect x="154" y="1595.9" width="75.5" height="54" rx="4" ry="4" fill="#fff" fill-opacity="0.5"/>
<text font-family="Liberation Sans, sans-serif" font-weight="bold" x="156" y="1635.2" font-size="48" textLength="72" lengthAdjust="spacingAndGlyphs">(g)</text>
<rect x="1183.6" y="104.90" width="12.0" height="5.73" fill="#f4e529"/>
<rect x="1183.6" y="110.04" width="12.0" height="5.73" fill="#e6e324"/>
<rect x="1183.6" y="115.17" width="12.0" height="5.73" fill="#d7e026"/>
<rect x="1183.6" y="120.31" width="12.0" height="5.73" fill="#c5de2e"/>
<rect x="1183.6" y="125.44" width="12.0" height="5.73" fill="#b6db38"/>
<rect x="1183.6" y="130.57" width="12.0" height="5.73" fill="#a4d743"/>
<rect x="1183.6" y="135.71" width="12.0" height="5.73" fill="#96d34f"/>
<rect x="1183.6" y="140.84" width="12.0" height="5.73" fill="#8ace5a"/>
<rect x="1183.6" y="145.98" width="12.0" height="5.73" fill="#7cc865"/>
<rect x="1183.6" y="151.12" width="12.0" height="5.73" fill="#72c26d"/>
<rect x="1183.6" y="156.25" width="12.0" height="5.73" fill="#68ba74"/>
<rect x="1183.6" y="161.38" width="12.0" height="5.73" fill="#60b479"/>
<rect x="1183.6" y="166.52" width="12.0" height="5.73" fill="#59ad7c"/>
<rect x="1183.6" y="171.66" width="12.0" height="5.73" fill="#52a67f"/>
<rect x="1183.6" y="176.79" width="12.0" height="5.73" fill="#4e9f80"/>
<rect x="1183.6" y="181.93" width="12.0" height="5.73" fill="#4a9881"/>
<rect x="1183.6" y="187.06" width="12.0" height="5.73" fill="#489280"/>
<rect x="1183.6" y="192.19" width="12.0" height="5.73" fill="#488c80"/>
<rect x="1183.6" y="197.33" width="12.0" height="5.73" fill="#47877f"/>
<rect x="1183.6" y="202.47" width="12.0" height="5.73" fill="#46827e"/>
<rect x="1183.6" y="207.60" width="12.0" height="5.73" fill="#467d7e"/>
<rect x="1183.6" y="212.74" width="12.0" height="5.73" fill="#46797d"/>
<rect x="1183.6" y="217.87" width="12.0" height="5.73" fill="#45757c"/>
<rect x="1183.6" y="223.00" width="12.0" height="5.73" fill="#45707a"/>
<rect x="1183.6" y="228.14" width="12.0" height="5.73" fill="#446c7a"/>
<rect x="1183.6" y="233.28" width="12.0" height="5.73" fill="#42687b"/>
<rect x="1183.6" y="238.41" width="12.0" height="5.73" fill="#40647c"/>
<rect x="1183.6" y="243.54" width="12.0" height="5.73" fill="#3f607e"/>
<rect x="1183.6" y="248.68" width="12.0" height="5.73" fill="#3e5a7f"/>
<rect x="1183.6" y="253.81" width="12.0" height="5.73" fill="#3f5580"/>
<rect x="1183.6" y="258.95" width="12.0" height="5.73" fill="#3f4e80"/>
<rect x="1183.6" y="264.09" width="12.0" height="5.73" fill="#3e4881"/>
<rect x="1183.6" y="269.22" width="12.0" height="5.73" fill="#3e4180"/>
<rect x="1183.6" y="274.36" width="12.0" height="5.73" fill="#3d397c"/>
<rect x="1183.6" y="279.49" width="12.0" height="5.73" fill="#3c3278"/>
<rect x="1183.6" y="284.62" width="12.0" height="5.73" fill="#3b2973"/>
<rect x="1183.6" y="289.76" width="12.0" height="5.73" fill="#39226d"/>
<rect x="1183.6" y="294.89" width="12.0" height="5.73" fill="#371a67"/>
<rect x="1183.6" y="300.03" width="12.0" height="5.73" fill="#33105e"/>
<rect x="1183.6" y="305.16" width="12.0" height="5.73" fill="#300756"/>
<path d="M1183.6 104.9L1189.6 93.9L1195.6 104.9Z" fill="#fbe62e"/>
<path d="M1183.6 310.3L1189.6 319.8L1195.6 310.3Z" fill="#2e0351"/>
<path d="M1183.6 104.9L1189.6 93.9L1195.6 104.9V310.3L1189.6 319.8L1183.6 310.3Z" fill="none" stroke="#000" stroke-width="1.8" stroke-linejoin="miter"/>
<path d="M1190 114.4H1200.5 M1190 151.7H1200.5 M1190 189.0H1200.5 M1190 225.5H1200.5 M1190 262.8H1200.5 M1190 299.4H1200.5 M1192.5 133.0H1199 M1192.5 170.3H1199 M1192.5 207.2H1199 M1192.5 244.1H1199 M1192.5 281.1H1199 M1192.5 96.5H1199" stroke="#000" stroke-width="1.5" fill="none"/>
<text font-family="Liberation Sans, sans-serif" x="1213" y="126.4" font-size="34">180</text>
<text font-family="Liberation Sans, sans-serif" x="1213" y="163.7" font-size="34">160</text>
<text font-family="Liberation Sans, sans-serif" x="1213" y="201.0" font-size="34">140</text>
<text font-family="Liberation Sans, sans-serif" x="1213" y="237.5" font-size="34">120</text>
<text font-family="Liberation Sans, sans-serif" x="1213" y="274.8" font-size="34">100</text>
<text font-family="Liberation Sans, sans-serif" x="1213" y="311.4" font-size="34">80</text>
<text font-family="Liberation Sans, sans-serif" transform="translate(1311,257) rotate(-90)" font-size="41.5" textLength="95" lengthAdjust="spacingAndGlyphs">T [K]</text>
<rect x="1183.6" y="346.00" width="12.0" height="5.96" fill="#f4e529"/>
<rect x="1183.6" y="351.36" width="12.0" height="5.96" fill="#e6e324"/>
<rect x="1183.6" y="356.73" width="12.0" height="5.96" fill="#d7e026"/>
<rect x="1183.6" y="362.09" width="12.0" height="5.96" fill="#c5de2e"/>
<rect x="1183.6" y="367.45" width="12.0" height="5.96" fill="#b6db38"/>
<rect x="1183.6" y="372.81" width="12.0" height="5.96" fill="#a4d743"/>
<rect x="1183.6" y="378.18" width="12.0" height="5.96" fill="#96d34f"/>
<rect x="1183.6" y="383.54" width="12.0" height="5.96" fill="#8ace5a"/>
<rect x="1183.6" y="388.90" width="12.0" height="5.96" fill="#7cc865"/>
<rect x="1183.6" y="394.26" width="12.0" height="5.96" fill="#72c26d"/>
<rect x="1183.6" y="399.62" width="12.0" height="5.96" fill="#68ba74"/>
<rect x="1183.6" y="404.99" width="12.0" height="5.96" fill="#60b479"/>
<rect x="1183.6" y="410.35" width="12.0" height="5.96" fill="#59ad7c"/>
<rect x="1183.6" y="415.71" width="12.0" height="5.96" fill="#52a67f"/>
<rect x="1183.6" y="421.07" width="12.0" height="5.96" fill="#4e9f80"/>
<rect x="1183.6" y="426.44" width="12.0" height="5.96" fill="#4a9881"/>
<rect x="1183.6" y="431.80" width="12.0" height="5.96" fill="#489280"/>
<rect x="1183.6" y="437.16" width="12.0" height="5.96" fill="#488c80"/>
<rect x="1183.6" y="442.52" width="12.0" height="5.96" fill="#47877f"/>
<rect x="1183.6" y="447.89" width="12.0" height="5.96" fill="#46827e"/>
<rect x="1183.6" y="453.25" width="12.0" height="5.96" fill="#467d7e"/>
<rect x="1183.6" y="458.61" width="12.0" height="5.96" fill="#46797d"/>
<rect x="1183.6" y="463.98" width="12.0" height="5.96" fill="#45757c"/>
<rect x="1183.6" y="469.34" width="12.0" height="5.96" fill="#45707a"/>
<rect x="1183.6" y="474.70" width="12.0" height="5.96" fill="#446c7a"/>
<rect x="1183.6" y="480.06" width="12.0" height="5.96" fill="#42687b"/>
<rect x="1183.6" y="485.42" width="12.0" height="5.96" fill="#40647c"/>
<rect x="1183.6" y="490.79" width="12.0" height="5.96" fill="#3f607e"/>
<rect x="1183.6" y="496.15" width="12.0" height="5.96" fill="#3e5a7f"/>
<rect x="1183.6" y="501.51" width="12.0" height="5.96" fill="#3f5580"/>
<rect x="1183.6" y="506.88" width="12.0" height="5.96" fill="#3f4e80"/>
<rect x="1183.6" y="512.24" width="12.0" height="5.96" fill="#3e4881"/>
<rect x="1183.6" y="517.60" width="12.0" height="5.96" fill="#3e4180"/>
<rect x="1183.6" y="522.96" width="12.0" height="5.96" fill="#3d397c"/>
<rect x="1183.6" y="528.33" width="12.0" height="5.96" fill="#3c3278"/>
<rect x="1183.6" y="533.69" width="12.0" height="5.96" fill="#3b2973"/>
<rect x="1183.6" y="539.05" width="12.0" height="5.96" fill="#39226d"/>
<rect x="1183.6" y="544.41" width="12.0" height="5.96" fill="#371a67"/>
<rect x="1183.6" y="549.77" width="12.0" height="5.96" fill="#33105e"/>
<rect x="1183.6" y="555.14" width="12.0" height="5.96" fill="#300756"/>
<path d="M1183.6 560.5L1189.6 571.6L1195.6 560.5Z" fill="#2e0351"/>
<path d="M1183.6 346.0H1195.6V560.5L1189.6 571.6L1183.6 560.5Z" fill="none" stroke="#000" stroke-width="1.8" stroke-linejoin="miter"/>
<path d="M1190 399.8H1200.5 M1190 479.7H1200.5 M1190 559.8H1200.5 M1192.5 373.0H1199 M1192.5 426.5H1199 M1192.5 452.9H1199 M1192.5 506.3H1199 M1192.5 532.7H1199" stroke="#000" stroke-width="1.5" fill="none"/>
<g font-family="Liberation Sans, sans-serif"><text x="1213.0" y="412.6" font-size="34" textLength="69.4" lengthAdjust="spacingAndGlyphs">10<tspan dy="-13.5" font-size="23">−6</tspan></text></g>
<g font-family="Liberation Sans, sans-serif"><text x="1213.0" y="492.5" font-size="34" textLength="69.4" lengthAdjust="spacingAndGlyphs">10<tspan dy="-13.5" font-size="23">−9</tspan></text></g>
<g font-family="Liberation Sans, sans-serif"><text x="1213.0" y="572.6" font-size="34" textLength="83.2" lengthAdjust="spacingAndGlyphs">10<tspan dy="-13.5" font-size="23">−12</tspan></text></g>
<text font-family="Liberation Sans, sans-serif" transform="translate(1338,492.8) rotate(-90)" font-size="39" font-style="italic">q<tspan font-size="27" dy="6.6">vmr</tspan></text>
<rect x="1183.6" y="607.20" width="12.0" height="5.74" fill="#f4e529"/>
<rect x="1183.6" y="612.34" width="12.0" height="5.74" fill="#e6e324"/>
<rect x="1183.6" y="617.48" width="12.0" height="5.74" fill="#d7e026"/>
<rect x="1183.6" y="622.61" width="12.0" height="5.74" fill="#c5de2e"/>
<rect x="1183.6" y="627.75" width="12.0" height="5.74" fill="#b6db38"/>
<rect x="1183.6" y="632.89" width="12.0" height="5.74" fill="#a4d743"/>
<rect x="1183.6" y="638.03" width="12.0" height="5.74" fill="#96d34f"/>
<rect x="1183.6" y="643.16" width="12.0" height="5.74" fill="#8ace5a"/>
<rect x="1183.6" y="648.30" width="12.0" height="5.74" fill="#7cc865"/>
<rect x="1183.6" y="653.44" width="12.0" height="5.74" fill="#72c26d"/>
<rect x="1183.6" y="658.58" width="12.0" height="5.74" fill="#68ba74"/>
<rect x="1183.6" y="663.71" width="12.0" height="5.74" fill="#60b479"/>
<rect x="1183.6" y="668.85" width="12.0" height="5.74" fill="#59ad7c"/>
<rect x="1183.6" y="673.99" width="12.0" height="5.74" fill="#52a67f"/>
<rect x="1183.6" y="679.12" width="12.0" height="5.74" fill="#4e9f80"/>
<rect x="1183.6" y="684.26" width="12.0" height="5.74" fill="#4a9881"/>
<rect x="1183.6" y="689.40" width="12.0" height="5.74" fill="#489280"/>
<rect x="1183.6" y="694.54" width="12.0" height="5.74" fill="#488c80"/>
<rect x="1183.6" y="699.68" width="12.0" height="5.74" fill="#47877f"/>
<rect x="1183.6" y="704.81" width="12.0" height="5.74" fill="#46827e"/>
<rect x="1183.6" y="709.95" width="12.0" height="5.74" fill="#467d7e"/>
<rect x="1183.6" y="715.09" width="12.0" height="5.74" fill="#46797d"/>
<rect x="1183.6" y="720.23" width="12.0" height="5.74" fill="#45757c"/>
<rect x="1183.6" y="725.36" width="12.0" height="5.74" fill="#45707a"/>
<rect x="1183.6" y="730.50" width="12.0" height="5.74" fill="#446c7a"/>
<rect x="1183.6" y="735.64" width="12.0" height="5.74" fill="#42687b"/>
<rect x="1183.6" y="740.78" width="12.0" height="5.74" fill="#40647c"/>
<rect x="1183.6" y="745.91" width="12.0" height="5.74" fill="#3f607e"/>
<rect x="1183.6" y="751.05" width="12.0" height="5.74" fill="#3e5a7f"/>
<rect x="1183.6" y="756.19" width="12.0" height="5.74" fill="#3f5580"/>
<rect x="1183.6" y="761.33" width="12.0" height="5.74" fill="#3f4e80"/>
<rect x="1183.6" y="766.46" width="12.0" height="5.74" fill="#3e4881"/>
<rect x="1183.6" y="771.60" width="12.0" height="5.74" fill="#3e4180"/>
<rect x="1183.6" y="776.74" width="12.0" height="5.74" fill="#3d397c"/>
<rect x="1183.6" y="781.88" width="12.0" height="5.74" fill="#3c3278"/>
<rect x="1183.6" y="787.01" width="12.0" height="5.74" fill="#3b2973"/>
<rect x="1183.6" y="792.15" width="12.0" height="5.74" fill="#39226d"/>
<rect x="1183.6" y="797.29" width="12.0" height="5.74" fill="#371a67"/>
<rect x="1183.6" y="802.43" width="12.0" height="5.74" fill="#33105e"/>
<rect x="1183.6" y="807.56" width="12.0" height="5.74" fill="#300756"/>
<path d="M1183.6 607.2L1189.6 596.8L1195.6 607.2Z" fill="#fbe62e"/>
<path d="M1183.6 812.7L1189.6 823.1L1195.6 812.7Z" fill="#2e0351"/>
<path d="M1183.6 607.2L1189.6 596.8L1195.6 607.2V812.7L1189.6 823.1L1183.6 812.7Z" fill="none" stroke="#000" stroke-width="1.8" stroke-linejoin="miter"/>
<path d="M1190 650.3H1200.5 M1190 731.0H1200.5 M1190 811.6H1200.5 M1192.5 623.4H1199 M1192.5 677.2H1199 M1192.5 704.1H1199 M1192.5 757.9H1199 M1192.5 784.8H1199" stroke="#000" stroke-width="1.5" fill="none"/>
<g font-family="Liberation Sans, sans-serif"><text x="1213.0" y="663.1" font-size="34" textLength="53.5" lengthAdjust="spacingAndGlyphs">10<tspan dy="-13.5" font-size="23">6</tspan></text></g>
<g font-family="Liberation Sans, sans-serif"><text x="1213.0" y="743.8" font-size="34" textLength="53.5" lengthAdjust="spacingAndGlyphs">10<tspan dy="-13.5" font-size="23">3</tspan></text></g>
<g font-family="Liberation Sans, sans-serif"><text x="1213.0" y="824.4" font-size="34" textLength="53.5" lengthAdjust="spacingAndGlyphs">10<tspan dy="-13.5" font-size="23">0</tspan></text></g>
<text font-family="Liberation Sans, sans-serif" transform="translate(1313,808.5) rotate(-90)" font-size="41.5" textLength="195.7" lengthAdjust="spacingAndGlyphs">N<tspan font-size="29" font-style="italic" dy="7">mr</tspan><tspan dy="-7"> [kg</tspan><tspan font-size="29" dy="-14">−1</tspan><tspan dy="14">]</tspan></text>
<rect x="1183.6" y="848.80" width="12.0" height="5.96" fill="#f4e529"/>
<rect x="1183.6" y="854.15" width="12.0" height="5.96" fill="#e6e324"/>
<rect x="1183.6" y="859.51" width="12.0" height="5.96" fill="#d7e026"/>
<rect x="1183.6" y="864.87" width="12.0" height="5.96" fill="#c5de2e"/>
<rect x="1183.6" y="870.22" width="12.0" height="5.96" fill="#b6db38"/>
<rect x="1183.6" y="875.57" width="12.0" height="5.96" fill="#a4d743"/>
<rect x="1183.6" y="880.93" width="12.0" height="5.96" fill="#96d34f"/>
<rect x="1183.6" y="886.28" width="12.0" height="5.96" fill="#8ace5a"/>
<rect x="1183.6" y="891.64" width="12.0" height="5.96" fill="#7cc865"/>
<rect x="1183.6" y="897.00" width="12.0" height="5.96" fill="#72c26d"/>
<rect x="1183.6" y="902.35" width="12.0" height="5.96" fill="#68ba74"/>
<rect x="1183.6" y="907.70" width="12.0" height="5.96" fill="#60b479"/>
<rect x="1183.6" y="913.06" width="12.0" height="5.96" fill="#59ad7c"/>
<rect x="1183.6" y="918.41" width="12.0" height="5.96" fill="#52a67f"/>
<rect x="1183.6" y="923.77" width="12.0" height="5.96" fill="#4e9f80"/>
<rect x="1183.6" y="929.12" width="12.0" height="5.96" fill="#4a9881"/>
<rect x="1183.6" y="934.48" width="12.0" height="5.96" fill="#489280"/>
<rect x="1183.6" y="939.84" width="12.0" height="5.96" fill="#488c80"/>
<rect x="1183.6" y="945.19" width="12.0" height="5.96" fill="#47877f"/>
<rect x="1183.6" y="950.54" width="12.0" height="5.96" fill="#46827e"/>
<rect x="1183.6" y="955.90" width="12.0" height="5.96" fill="#467d7e"/>
<rect x="1183.6" y="961.25" width="12.0" height="5.96" fill="#46797d"/>
<rect x="1183.6" y="966.61" width="12.0" height="5.96" fill="#45757c"/>
<rect x="1183.6" y="971.97" width="12.0" height="5.96" fill="#45707a"/>
<rect x="1183.6" y="977.32" width="12.0" height="5.96" fill="#446c7a"/>
<rect x="1183.6" y="982.67" width="12.0" height="5.96" fill="#42687b"/>
<rect x="1183.6" y="988.03" width="12.0" height="5.96" fill="#40647c"/>
<rect x="1183.6" y="993.38" width="12.0" height="5.96" fill="#3f607e"/>
<rect x="1183.6" y="998.74" width="12.0" height="5.96" fill="#3e5a7f"/>
<rect x="1183.6" y="1004.10" width="12.0" height="5.96" fill="#3f5580"/>
<rect x="1183.6" y="1009.45" width="12.0" height="5.96" fill="#3f4e80"/>
<rect x="1183.6" y="1014.81" width="12.0" height="5.96" fill="#3e4881"/>
<rect x="1183.6" y="1020.16" width="12.0" height="5.96" fill="#3e4180"/>
<rect x="1183.6" y="1025.51" width="12.0" height="5.96" fill="#3d397c"/>
<rect x="1183.6" y="1030.87" width="12.0" height="5.96" fill="#3c3278"/>
<rect x="1183.6" y="1036.22" width="12.0" height="5.96" fill="#3b2973"/>
<rect x="1183.6" y="1041.58" width="12.0" height="5.96" fill="#39226d"/>
<rect x="1183.6" y="1046.93" width="12.0" height="5.96" fill="#371a67"/>
<rect x="1183.6" y="1052.29" width="12.0" height="5.96" fill="#33105e"/>
<rect x="1183.6" y="1057.64" width="12.0" height="5.96" fill="#300756"/>
<path d="M1183.6 1063.0L1189.6 1074.1L1195.6 1063.0Z" fill="#2e0351"/>
<path d="M1183.6 848.8H1195.6V1063.0L1189.6 1074.1L1183.6 1063.0Z" fill="none" stroke="#000" stroke-width="1.8" stroke-linejoin="miter"/>
<path d="M1190 848.8H1200.5 M1190 902.4H1200.5 M1190 955.7H1200.5 M1190 1008.8H1200.5 M1190 1062.3H1200.5 " stroke="#000" stroke-width="1.5" fill="none"/>
<g font-family="Liberation Sans, sans-serif"><text x="1213.0" y="861.6" font-size="34" textLength="69.4" lengthAdjust="spacingAndGlyphs">10<tspan dy="-13.5" font-size="23">−6</tspan></text></g>
<g font-family="Liberation Sans, sans-serif"><text x="1213.0" y="915.2" font-size="34" textLength="69.4" lengthAdjust="spacingAndGlyphs">10<tspan dy="-13.5" font-size="23">−7</tspan></text></g>
<g font-family="Liberation Sans, sans-serif"><text x="1213.0" y="968.5" font-size="34" textLength="69.4" lengthAdjust="spacingAndGlyphs">10<tspan dy="-13.5" font-size="23">−8</tspan></text></g>
<g font-family="Liberation Sans, sans-serif"><text x="1213.0" y="1021.6" font-size="34" textLength="69.4" lengthAdjust="spacingAndGlyphs">10<tspan dy="-13.5" font-size="23">−9</tspan></text></g>
<g font-family="Liberation Sans, sans-serif"><text x="1213.0" y="1075.1" font-size="34" textLength="83.2" lengthAdjust="spacingAndGlyphs">10<tspan dy="-13.5" font-size="23">−10</tspan></text></g>
<text font-family="Liberation Sans, sans-serif" transform="translate(1338,991.5) rotate(-90)" font-size="41.5">m<tspan font-size="29" font-style="italic" dy="7">mr</tspan></text>
<rect x="1183.6" y="1109.90" width="12.0" height="5.72" fill="#f4e529"/>
<rect x="1183.6" y="1115.02" width="12.0" height="5.72" fill="#e6e324"/>
<rect x="1183.6" y="1120.14" width="12.0" height="5.72" fill="#d7e026"/>
<rect x="1183.6" y="1125.26" width="12.0" height="5.72" fill="#c5de2e"/>
<rect x="1183.6" y="1130.38" width="12.0" height="5.72" fill="#b6db38"/>
<rect x="1183.6" y="1135.50" width="12.0" height="5.72" fill="#a4d743"/>
<rect x="1183.6" y="1140.62" width="12.0" height="5.72" fill="#96d34f"/>
<rect x="1183.6" y="1145.74" width="12.0" height="5.72" fill="#8ace5a"/>
<rect x="1183.6" y="1150.86" width="12.0" height="5.72" fill="#7cc865"/>
<rect x="1183.6" y="1155.98" width="12.0" height="5.72" fill="#72c26d"/>
<rect x="1183.6" y="1161.10" width="12.0" height="5.72" fill="#68ba74"/>
<rect x="1183.6" y="1166.22" width="12.0" height="5.72" fill="#60b479"/>
<rect x="1183.6" y="1171.34" width="12.0" height="5.72" fill="#59ad7c"/>
<rect x="1183.6" y="1176.46" width="12.0" height="5.72" fill="#52a67f"/>
<rect x="1183.6" y="1181.58" width="12.0" height="5.72" fill="#4e9f80"/>
<rect x="1183.6" y="1186.70" width="12.0" height="5.72" fill="#4a9881"/>
<rect x="1183.6" y="1191.82" width="12.0" height="5.72" fill="#489280"/>
<rect x="1183.6" y="1196.94" width="12.0" height="5.72" fill="#488c80"/>
<rect x="1183.6" y="1202.06" width="12.0" height="5.72" fill="#47877f"/>
<rect x="1183.6" y="1207.18" width="12.0" height="5.72" fill="#46827e"/>
<rect x="1183.6" y="1212.30" width="12.0" height="5.72" fill="#467d7e"/>
<rect x="1183.6" y="1217.42" width="12.0" height="5.72" fill="#46797d"/>
<rect x="1183.6" y="1222.54" width="12.0" height="5.72" fill="#45757c"/>
<rect x="1183.6" y="1227.66" width="12.0" height="5.72" fill="#45707a"/>
<rect x="1183.6" y="1232.78" width="12.0" height="5.72" fill="#446c7a"/>
<rect x="1183.6" y="1237.90" width="12.0" height="5.72" fill="#42687b"/>
<rect x="1183.6" y="1243.02" width="12.0" height="5.72" fill="#40647c"/>
<rect x="1183.6" y="1248.14" width="12.0" height="5.72" fill="#3f607e"/>
<rect x="1183.6" y="1253.26" width="12.0" height="5.72" fill="#3e5a7f"/>
<rect x="1183.6" y="1258.38" width="12.0" height="5.72" fill="#3f5580"/>
<rect x="1183.6" y="1263.50" width="12.0" height="5.72" fill="#3f4e80"/>
<rect x="1183.6" y="1268.62" width="12.0" height="5.72" fill="#3e4881"/>
<rect x="1183.6" y="1273.74" width="12.0" height="5.72" fill="#3e4180"/>
<rect x="1183.6" y="1278.86" width="12.0" height="5.72" fill="#3d397c"/>
<rect x="1183.6" y="1283.98" width="12.0" height="5.72" fill="#3c3278"/>
<rect x="1183.6" y="1289.10" width="12.0" height="5.72" fill="#3b2973"/>
<rect x="1183.6" y="1294.22" width="12.0" height="5.72" fill="#39226d"/>
<rect x="1183.6" y="1299.34" width="12.0" height="5.72" fill="#371a67"/>
<rect x="1183.6" y="1304.46" width="12.0" height="5.72" fill="#33105e"/>
<rect x="1183.6" y="1309.58" width="12.0" height="5.72" fill="#300756"/>
<path d="M1183.6 1109.9L1189.6 1099.5L1195.6 1109.9Z" fill="#fbe62e"/>
<path d="M1183.6 1314.7L1189.6 1325.1L1195.6 1314.7Z" fill="#2e0351"/>
<path d="M1183.6 1109.9L1189.6 1099.5L1195.6 1109.9V1314.7L1189.6 1325.1L1183.6 1314.7Z" fill="none" stroke="#000" stroke-width="1.8" stroke-linejoin="miter"/>
<path d="M1190 1132.8H1200.5 M1190 1171.0H1200.5 M1190 1208.5H1200.5 M1190 1246.0H1200.5 M1190 1283.9H1200.5 M1192.5 1112.7H1199 M1192.5 1152.3H1199 M1192.5 1189.7H1199 M1192.5 1227.5H1199 M1192.5 1264.7H1199 M1192.5 1302.6H1199" stroke="#000" stroke-width="1.5" fill="none"/>
<text font-family="Liberation Sans, sans-serif" x="1213" y="1144.8" font-size="34">25</text>
<text font-family="Liberation Sans, sans-serif" x="1213" y="1183.0" font-size="34">20</text>
<text font-family="Liberation Sans, sans-serif" x="1213" y="1220.5" font-size="34">15</text>
<text font-family="Liberation Sans, sans-serif" x="1213" y="1258.0" font-size="34">10</text>
<text font-family="Liberation Sans, sans-serif" x="1213" y="1295.9" font-size="34">5</text>
<text font-family="Liberation Sans, sans-serif" transform="translate(1291,1292.5) rotate(-90)" font-size="41.5" textLength="157" lengthAdjust="spacingAndGlyphs"><tspan font-style="italic">r<tspan font-size="29" dy="7">eff</tspan></tspan><tspan dy="-7"> [</tspan><tspan font-style="italic">μ</tspan>m]</text>
<rect x="1183.6" y="1361.60" width="12.0" height="5.96" fill="#f4e529"/>
<rect x="1183.6" y="1366.96" width="12.0" height="5.96" fill="#e6e324"/>
<rect x="1183.6" y="1372.32" width="12.0" height="5.96" fill="#d7e026"/>
<rect x="1183.6" y="1377.69" width="12.0" height="5.96" fill="#c5de2e"/>
<rect x="1183.6" y="1383.05" width="12.0" height="5.96" fill="#b6db38"/>
<rect x="1183.6" y="1388.41" width="12.0" height="5.96" fill="#a4d743"/>
<rect x="1183.6" y="1393.77" width="12.0" height="5.96" fill="#96d34f"/>
<rect x="1183.6" y="1399.14" width="12.0" height="5.96" fill="#8ace5a"/>
<rect x="1183.6" y="1404.50" width="12.0" height="5.96" fill="#7cc865"/>
<rect x="1183.6" y="1409.86" width="12.0" height="5.96" fill="#72c26d"/>
<rect x="1183.6" y="1415.22" width="12.0" height="5.96" fill="#68ba74"/>
<rect x="1183.6" y="1420.59" width="12.0" height="5.96" fill="#60b479"/>
<rect x="1183.6" y="1425.95" width="12.0" height="5.96" fill="#59ad7c"/>
<rect x="1183.6" y="1431.31" width="12.0" height="5.96" fill="#52a67f"/>
<rect x="1183.6" y="1436.67" width="12.0" height="5.96" fill="#4e9f80"/>
<rect x="1183.6" y="1442.04" width="12.0" height="5.96" fill="#4a9881"/>
<rect x="1183.6" y="1447.40" width="12.0" height="5.96" fill="#489280"/>
<rect x="1183.6" y="1452.76" width="12.0" height="5.96" fill="#488c80"/>
<rect x="1183.6" y="1458.12" width="12.0" height="5.96" fill="#47877f"/>
<rect x="1183.6" y="1463.49" width="12.0" height="5.96" fill="#46827e"/>
<rect x="1183.6" y="1468.85" width="12.0" height="5.96" fill="#467d7e"/>
<rect x="1183.6" y="1474.21" width="12.0" height="5.96" fill="#46797d"/>
<rect x="1183.6" y="1479.57" width="12.0" height="5.96" fill="#45757c"/>
<rect x="1183.6" y="1484.94" width="12.0" height="5.96" fill="#45707a"/>
<rect x="1183.6" y="1490.30" width="12.0" height="5.96" fill="#446c7a"/>
<rect x="1183.6" y="1495.66" width="12.0" height="5.96" fill="#42687b"/>
<rect x="1183.6" y="1501.02" width="12.0" height="5.96" fill="#40647c"/>
<rect x="1183.6" y="1506.39" width="12.0" height="5.96" fill="#3f607e"/>
<rect x="1183.6" y="1511.75" width="12.0" height="5.96" fill="#3e5a7f"/>
<rect x="1183.6" y="1517.11" width="12.0" height="5.96" fill="#3f5580"/>
<rect x="1183.6" y="1522.47" width="12.0" height="5.96" fill="#3f4e80"/>
<rect x="1183.6" y="1527.84" width="12.0" height="5.96" fill="#3e4881"/>
<rect x="1183.6" y="1533.20" width="12.0" height="5.96" fill="#3e4180"/>
<rect x="1183.6" y="1538.56" width="12.0" height="5.96" fill="#3d397c"/>
<rect x="1183.6" y="1543.92" width="12.0" height="5.96" fill="#3c3278"/>
<rect x="1183.6" y="1549.29" width="12.0" height="5.96" fill="#3b2973"/>
<rect x="1183.6" y="1554.65" width="12.0" height="5.96" fill="#39226d"/>
<rect x="1183.6" y="1560.01" width="12.0" height="5.96" fill="#371a67"/>
<rect x="1183.6" y="1565.38" width="12.0" height="5.96" fill="#33105e"/>
<rect x="1183.6" y="1570.74" width="12.0" height="5.96" fill="#300756"/>
<path d="M1183.6 1361.6L1189.6 1350.5L1195.6 1361.6Z" fill="#fbe62e"/>
<path d="M1183.6 1361.6L1189.6 1350.5L1195.6 1361.6V1576.1H1183.6Z" fill="none" stroke="#000" stroke-width="1.8" stroke-linejoin="miter"/>
<path d="M1190 1361.9H1200.5 M1190 1423.0H1200.5 M1190 1499.0H1200.5 M1190 1575.7H1200.5 " stroke="#000" stroke-width="1.5" fill="none"/>
<text font-family="Liberation Sans, sans-serif" x="1213" y="1373.9" font-size="34">0.3</text>
<text font-family="Liberation Sans, sans-serif" x="1213" y="1435.0" font-size="34">0.2</text>
<text font-family="Liberation Sans, sans-serif" x="1213" y="1511.0" font-size="34">0.1</text>
<text font-family="Liberation Sans, sans-serif" x="1213" y="1587.7" font-size="34">0.0</text>
<text font-family="Liberation Sans, sans-serif" transform="translate(1309,1602) rotate(-90)" font-size="41.5" textLength="257" lengthAdjust="spacingAndGlyphs">10<tspan font-size="29" dy="-14">−6</tspan><tspan dy="14"> </tspan><tspan font-style="italic">β<tspan font-size="29" dy="7">E</tspan></tspan><tspan dy="-7"> [m</tspan><tspan font-size="29" dy="-14">−1</tspan><tspan dy="14">]</tspan></text>
<rect x="1183.6" y="1613.00" width="12.0" height="5.95" fill="#690621"/>
<rect x="1183.6" y="1618.35" width="12.0" height="5.95" fill="#790c24"/>
<rect x="1183.6" y="1623.70" width="12.0" height="5.95" fill="#8a1228"/>
<rect x="1183.6" y="1629.06" width="12.0" height="5.95" fill="#9e192c"/>
<rect x="1183.6" y="1634.41" width="12.0" height="5.95" fill="#ab2431"/>
<rect x="1183.6" y="1639.76" width="12.0" height="5.95" fill="#b6373b"/>
<rect x="1183.6" y="1645.12" width="12.0" height="5.95" fill="#bf4844"/>
<rect x="1183.6" y="1650.47" width="12.0" height="5.95" fill="#c8584d"/>
<rect x="1183.6" y="1655.82" width="12.0" height="5.95" fill="#d16b58"/>
<rect x="1183.6" y="1661.17" width="12.0" height="5.95" fill="#d97b65"/>
<rect x="1183.6" y="1666.53" width="12.0" height="5.95" fill="#e28e74"/>
<rect x="1183.6" y="1671.88" width="12.0" height="5.95" fill="#ea9e80"/>
<rect x="1183.6" y="1677.23" width="12.0" height="5.95" fill="#efac8e"/>
<rect x="1183.6" y="1682.58" width="12.0" height="5.95" fill="#f3bba0"/>
<rect x="1183.6" y="1687.93" width="12.0" height="5.95" fill="#f6c7b0"/>
<rect x="1183.6" y="1693.29" width="12.0" height="5.95" fill="#f9d6c2"/>
<rect x="1183.6" y="1698.64" width="12.0" height="5.95" fill="#fadfcf"/>
<rect x="1183.6" y="1703.99" width="12.0" height="5.95" fill="#f9e5da"/>
<rect x="1183.6" y="1709.35" width="12.0" height="5.95" fill="#f4eeeb"/>
<rect x="1183.6" y="1714.70" width="12.0" height="5.95" fill="#f0f0f2"/>
<rect x="1183.6" y="1720.05" width="12.0" height="5.95" fill="#e4e8f0"/>
<rect x="1183.6" y="1725.40" width="12.0" height="5.95" fill="#cfdbeb"/>
<rect x="1183.6" y="1730.75" width="12.0" height="5.95" fill="#b8cce6"/>
<rect x="1183.6" y="1736.11" width="12.0" height="5.95" fill="#a1bde1"/>
<rect x="1183.6" y="1741.46" width="12.0" height="5.95" fill="#8daeda"/>
<rect x="1183.6" y="1746.81" width="12.0" height="5.95" fill="#7ba0d2"/>
<rect x="1183.6" y="1752.16" width="12.0" height="5.95" fill="#6991ca"/>
<rect x="1183.6" y="1757.52" width="12.0" height="5.95" fill="#5c83c1"/>
<rect x="1183.6" y="1762.87" width="12.0" height="5.95" fill="#5076b7"/>
<rect x="1183.6" y="1768.22" width="12.0" height="5.95" fill="#4469ad"/>
<rect x="1183.6" y="1773.57" width="12.0" height="5.95" fill="#3c5ea3"/>
<rect x="1183.6" y="1778.93" width="12.0" height="5.95" fill="#37569a"/>
<rect x="1183.6" y="1784.28" width="12.0" height="5.95" fill="#324d91"/>
<rect x="1183.6" y="1789.63" width="12.0" height="5.95" fill="#2d4588"/>
<rect x="1183.6" y="1794.98" width="12.0" height="5.95" fill="#293e7f"/>
<rect x="1183.6" y="1800.34" width="12.0" height="5.95" fill="#253875"/>
<rect x="1183.6" y="1805.69" width="12.0" height="5.95" fill="#21326c"/>
<rect x="1183.6" y="1811.04" width="12.0" height="5.95" fill="#1f2e65"/>
<rect x="1183.6" y="1816.39" width="12.0" height="5.95" fill="#1e2c60"/>
<rect x="1183.6" y="1821.75" width="12.0" height="5.95" fill="#1d295b"/>
<path d="M1183.6 1613.0L1189.6 1602.1L1195.6 1613.0Z" fill="#60031f"/>
<path d="M1183.6 1613.0L1189.6 1602.1L1195.6 1613.0V1827.1H1183.6Z" fill="none" stroke="#000" stroke-width="1.8" stroke-linejoin="miter"/>
<path d="M1190 1613.7H1200.5 M1190 1667.0H1200.5 M1190 1720.1H1200.5 M1190 1773.4H1200.5 M1190 1825.7H1200.5 M1192.5 1640.3H1199 M1192.5 1693.5H1199 M1192.5 1746.7H1199 M1192.5 1800.0H1199" stroke="#000" stroke-width="1.5" fill="none"/>
<text font-family="Liberation Sans, sans-serif" x="1213" y="1625.7" font-size="34">1.0</text>
<text font-family="Liberation Sans, sans-serif" x="1213" y="1679.0" font-size="34">0.5</text>
<text font-family="Liberation Sans, sans-serif" x="1213" y="1732.1" font-size="34">0.0</text>
<text font-family="Liberation Sans, sans-serif" x="1213" y="1785.4" font-size="34" textLength="74" lengthAdjust="spacingAndGlyphs">−0.5</text>
<text font-family="Liberation Sans, sans-serif" x="1213" y="1837.7" font-size="34" textLength="74" lengthAdjust="spacingAndGlyphs">−1.0</text>
<text font-family="Liberation Sans, sans-serif" transform="translate(1326,1733.5) rotate(-90)" font-size="41.5">s<tspan font-size="29" font-style="italic" dy="7">i</tspan></text>
<path d="M138.0 324.5H144.0 M1151.0 324.5H1157.0 M138.0 290.0H144.0 M1151.0 290.0H1157.0 M138.0 255.5H144.0 M1151.0 255.5H1157.0 M136.0 221.0H141.0 M1151.0 221.0H1157.0 M138.0 186.5H144.0 M1151.0 186.5H1157.0 M138.0 152.0H144.0 M1151.0 152.0H1157.0 M138.0 117.5H144.0 M1151.0 117.5H1157.0 M136.0 83.0H141.0 M1151.0 83.0H1157.0 M285.7 83.0V92.5 M430.4 83.0V92.5 M575.1 83.0V92.5 M719.9 83.0V92.5 M864.6 83.0V92.5 M1009.3 83.0V92.5 M172.7 83.0V92.5 M354.0 83.0V92.5 M540.0 83.0V92.5 M730.0 83.0V92.5 M925.0 83.0V92.5 M1121.0 83.0V92.5 M285.7 333.9V324.4 M430.4 333.9V324.4 M575.1 333.9V324.4 M719.9 333.9V324.4 M864.6 333.9V324.4 M1009.3 333.9V324.4 M138.0 575.4H144.0 M1151.0 575.4H1157.0 M138.0 540.9H144.0 M1151.0 540.9H1157.0 M138.0 506.4H144.0 M1151.0 506.4H1157.0 M136.0 471.9H141.0 M1151.0 471.9H1157.0 M138.0 437.4H144.0 M1151.0 437.4H1157.0 M138.0 402.9H144.0 M1151.0 402.9H1157.0 M138.0 368.4H144.0 M1151.0 368.4H1157.0 M136.0 333.9H141.0 M1151.0 333.9H1157.0 M172.7 333.9V343.4 M354.0 333.9V343.4 M540.0 333.9V343.4 M730.0 333.9V343.4 M925.0 333.9V343.4 M1121.0 333.9V343.4 M285.7 584.8V575.3 M430.4 584.8V575.3 M575.1 584.8V575.3 M719.9 584.8V575.3 M864.6 584.8V575.3 M1009.3 584.8V575.3 M138.0 826.3H144.0 M1151.0 826.3H1157.0 M138.0 791.8H144.0 M1151.0 791.8H1157.0 M138.0 757.3H144.0 M1151.0 757.3H1157.0 M136.0 722.8H141.0 M1151.0 722.8H1157.0 M138.0 688.3H144.0 M1151.0 688.3H1157.0 M138.0 653.8H144.0 M1151.0 653.8H1157.0 M138.0 619.3H144.0 M1151.0 619.3H1157.0 M136.0 584.8H141.0 M1151.0 584.8H1157.0 M172.7 584.8V594.3 M354.0 584.8V594.3 M540.0 584.8V594.3 M730.0 584.8V594.3 M925.0 584.8V594.3 M1121.0 584.8V594.3 M285.7 835.7V826.2 M430.4 835.7V826.2 M575.1 835.7V826.2 M719.9 835.7V826.2 M864.6 835.7V826.2 M1009.3 835.7V826.2 M138.0 1077.2H144.0 M1151.0 1077.2H1157.0 M138.0 1042.7H144.0 M1151.0 1042.7H1157.0 M138.0 1008.2H144.0 M1151.0 1008.2H1157.0 M136.0 973.7H141.0 M1151.0 973.7H1157.0 M138.0 939.2H144.0 M1151.0 939.2H1157.0 M138.0 904.7H144.0 M1151.0 904.7H1157.0 M138.0 870.2H144.0 M1151.0 870.2H1157.0 M136.0 835.7H141.0 M1151.0 835.7H1157.0 M172.7 835.7V845.2 M354.0 835.7V845.2 M540.0 835.7V845.2 M730.0 835.7V845.2 M925.0 835.7V845.2 M1121.0 835.7V845.2 M285.7 1086.6V1077.1 M430.4 1086.6V1077.1 M575.1 1086.6V1077.1 M719.9 1086.6V1077.1 M864.6 1086.6V1077.1 M1009.3 1086.6V1077.1 M138.0 1328.1H144.0 M1151.0 1328.1H1157.0 M138.0 1293.6H144.0 M1151.0 1293.6H1157.0 M138.0 1259.1H144.0 M1151.0 1259.1H1157.0 M136.0 1224.6H141.0 M1151.0 1224.6H1157.0 M138.0 1190.1H144.0 M1151.0 1190.1H1157.0 M138.0 1155.6H144.0 M1151.0 1155.6H1157.0 M138.0 1121.1H144.0 M1151.0 1121.1H1157.0 M136.0 1086.6H141.0 M1151.0 1086.6H1157.0 M172.7 1086.6V1096.1 M354.0 1086.6V1096.1 M540.0 1086.6V1096.1 M730.0 1086.6V1096.1 M925.0 1086.6V1096.1 M1121.0 1086.6V1096.1 M285.7 1337.5V1328.0 M430.4 1337.5V1328.0 M575.1 1337.5V1328.0 M719.9 1337.5V1328.0 M864.6 1337.5V1328.0 M1009.3 1337.5V1328.0 M138.0 1579.0H144.0 M1151.0 1579.0H1157.0 M138.0 1544.5H144.0 M1151.0 1544.5H1157.0 M138.0 1510.0H144.0 M1151.0 1510.0H1157.0 M136.0 1475.5H141.0 M1151.0 1475.5H1157.0 M138.0 1441.0H144.0 M1151.0 1441.0H1157.0 M138.0 1406.5H144.0 M1151.0 1406.5H1157.0 M138.0 1372.0H144.0 M1151.0 1372.0H1157.0 M136.0 1337.5H141.0 M1151.0 1337.5H1157.0 M172.7 1337.5V1347.0 M354.0 1337.5V1347.0 M540.0 1337.5V1347.0 M730.0 1337.5V1347.0 M925.0 1337.5V1347.0 M1121.0 1337.5V1347.0 M285.7 1588.4V1578.9 M430.4 1588.4V1578.9 M575.1 1588.4V1578.9 M719.9 1588.4V1578.9 M864.6 1588.4V1578.9 M1009.3 1588.4V1578.9 M138.0 1829.9H144.0 M1151.0 1829.9H1157.0 M138.0 1795.4H144.0 M1151.0 1795.4H1157.0 M138.0 1760.9H144.0 M1151.0 1760.9H1157.0 M136.0 1726.4H141.0 M1151.0 1726.4H1157.0 M138.0 1691.9H144.0 M1151.0 1691.9H1157.0 M138.0 1657.4H144.0 M1151.0 1657.4H1157.0 M138.0 1622.9H144.0 M1151.0 1622.9H1157.0 M136.0 1588.4H141.0 M1151.0 1588.4H1157.0 M172.7 1588.4V1597.9 M354.0 1588.4V1597.9 M540.0 1588.4V1597.9 M730.0 1588.4V1597.9 M925.0 1588.4V1597.9 M1121.0 1588.4V1597.9" stroke="#000" stroke-width="1.6" fill="none"/>
<path d="M141.0 1839.3V1829.8 M285.7 1839.3V1829.8 M430.4 1839.3V1829.8 M575.1 1839.3V1829.8 M719.9 1839.3V1829.8 M864.6 1839.3V1829.8 M1009.3 1839.3V1829.8 M1154.0 1839.3V1829.8" stroke="#000" stroke-width="1.6" fill="none"/>
<rect x="141.0" y="83.0" width="1013.0" height="250.9" fill="none" stroke="#000" stroke-width="2.2"/>
<rect x="141.0" y="333.9" width="1013.0" height="250.9" fill="none" stroke="#000" stroke-width="2.2"/>
<rect x="141.0" y="584.8" width="1013.0" height="250.9" fill="none" stroke="#000" stroke-width="2.2"/>
<rect x="141.0" y="835.7" width="1013.0" height="250.9" fill="none" stroke="#000" stroke-width="2.2"/>
<rect x="141.0" y="1086.6" width="1013.0" height="250.9" fill="none" stroke="#000" stroke-width="2.2"/>
<rect x="141.0" y="1337.5" width="1013.0" height="250.9" fill="none" stroke="#000" stroke-width="2.2"/>
<rect x="141.0" y="1588.4" width="1013.0" height="250.9" fill="none" stroke="#000" stroke-width="2.2"/>
<path d="M139.9 333.9H1155.1 M139.9 584.8H1155.1 M139.9 835.7H1155.1 M139.9 1086.6H1155.1 M139.9 1337.5H1155.1 M139.9 1588.4H1155.1" stroke="#000" stroke-width="4.2" fill="none"/>
<g font-family="Liberation Sans, sans-serif" fill="#000"><text x="124.5" y="96.0" font-size="34" text-anchor="end" textLength="58" lengthAdjust="spacingAndGlyphs" >400</text><text x="124.5" y="233.3" font-size="34" text-anchor="end" textLength="57" lengthAdjust="spacingAndGlyphs" >200</text><text x="124.5" y="346.9" font-size="34" text-anchor="end" textLength="58" lengthAdjust="spacingAndGlyphs" >400</text><text x="124.5" y="484.2" font-size="34" text-anchor="end" textLength="57" lengthAdjust="spacingAndGlyphs" >200</text><text x="124.5" y="597.8" font-size="34" text-anchor="end" textLength="58" lengthAdjust="spacingAndGlyphs" >400</text><text x="124.5" y="735.1" font-size="34" text-anchor="end" textLength="57" lengthAdjust="spacingAndGlyphs" >200</text><text x="124.5" y="848.7" font-size="34" text-anchor="end" textLength="58" lengthAdjust="spacingAndGlyphs" >400</text><text x="124.5" y="986.0" font-size="34" text-anchor="end" textLength="57" lengthAdjust="spacingAndGlyphs" >200</text><text x="124.5" y="1099.6" font-size="34" text-anchor="end" textLength="58" lengthAdjust="spacingAndGlyphs" >400</text><text x="124.5" y="1236.9" font-size="34" text-anchor="end" textLength="57" lengthAdjust="spacingAndGlyphs" >200</text><text x="124.5" y="1350.5" font-size="34" text-anchor="end" textLength="58" lengthAdjust="spacingAndGlyphs" >400</text><text x="124.5" y="1487.8" font-size="34" text-anchor="end" textLength="57" lengthAdjust="spacingAndGlyphs" >200</text><text x="124.5" y="1601.4" font-size="34" text-anchor="end" textLength="58" lengthAdjust="spacingAndGlyphs" >400</text><text x="124.5" y="1738.7" font-size="34" text-anchor="end" textLength="57" lengthAdjust="spacingAndGlyphs" >200</text><text x="141.0" y="1872.5" font-size="34" text-anchor="middle" >1</text><text x="285.7" y="1872.5" font-size="34" text-anchor="middle" >2</text><text x="430.4" y="1872.5" font-size="34" text-anchor="middle" >3</text><text x="575.1" y="1872.5" font-size="34" text-anchor="middle" >4</text><text x="719.9" y="1872.5" font-size="34" text-anchor="middle" >5</text><text x="864.6" y="1872.5" font-size="34" text-anchor="middle" >6</text><text x="1009.3" y="1872.5" font-size="34" text-anchor="middle" >7</text><text x="1154.0" y="1872.5" font-size="34" text-anchor="middle" >8</text><text x="172.7" y="67.7" font-size="34" text-anchor="middle" textLength="38" lengthAdjust="spacingAndGlyphs" >15</text><text x="354.0" y="67.7" font-size="34" text-anchor="middle" textLength="38" lengthAdjust="spacingAndGlyphs" >30</text><text x="540.0" y="67.7" font-size="34" text-anchor="middle" textLength="38" lengthAdjust="spacingAndGlyphs" >45</text><text x="730.0" y="67.7" font-size="34" text-anchor="middle" textLength="38" lengthAdjust="spacingAndGlyphs" >60</text><text x="925.0" y="67.7" font-size="34" text-anchor="middle" textLength="38" lengthAdjust="spacingAndGlyphs" >75</text><text x="1121.0" y="67.7" font-size="34" text-anchor="middle" textLength="38" lengthAdjust="spacingAndGlyphs" >90</text><text x="471.6" y="29.5" font-size="41.5" text-anchor="start" textLength="348" lengthAdjust="spacingAndGlyphs" >solar longitude [°]</text><text x="561.5" y="1919.0" font-size="41.5" text-anchor="start" textLength="170" lengthAdjust="spacingAndGlyphs" >time [yr]</text><text transform="translate(29.6,1054) rotate(-90)" font-size="41.5" textLength="248" lengthAdjust="spacingAndGlyphs">altitude [km]</text></g>
</svg></body></html>
